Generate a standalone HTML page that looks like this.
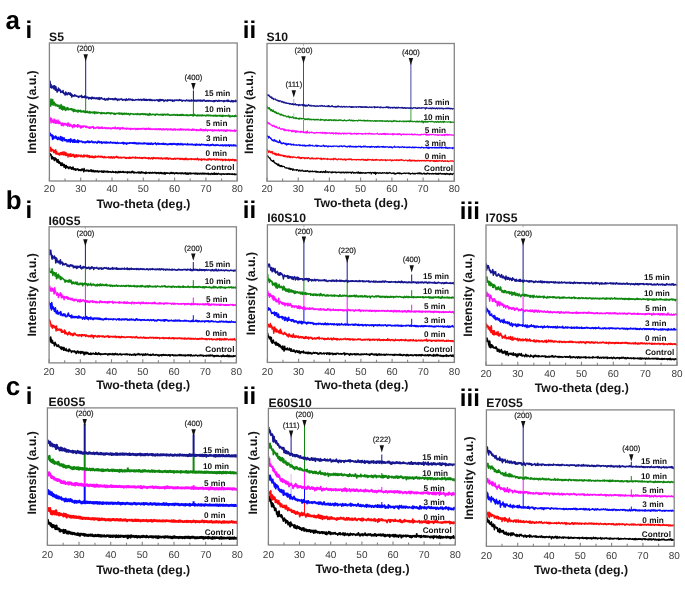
<!DOCTYPE html>
<html><head><meta charset="utf-8"><title>XRD</title>
<style>
html,body{margin:0;padding:0;background:#fff;}
body{width:685px;height:599px;overflow:hidden;}
svg{display:block;filter:blur(0.5px);}
text{font-family:"Liberation Sans",sans-serif;text-rendering:geometricPrecision;}
.tk{font-size:10px;fill:#3a3a3a;text-anchor:middle;}
.xl{font-size:12.3px;font-weight:bold;fill:#151515;text-anchor:middle;}
.yl{font-size:12.3px;font-weight:bold;fill:#151515;text-anchor:middle;}
.lb{font-size:8.2px;font-weight:bold;fill:#111;}
.an{font-size:7.7px;fill:#222;stroke:#222;stroke-width:0.2px;text-anchor:middle;}
.tt{font-size:12.2px;font-weight:bold;fill:#151515;}
.rm{font-size:24px;font-weight:bold;fill:#000;}
.lt{font-size:26px;font-weight:bold;fill:#000;}
</style></head>
<body>
<svg width="685" height="599" viewBox="0 0 685 599">
<defs><clipPath id="c0"><rect x="49.4" y="43.0" width="187.8" height="138.0"/></clipPath><clipPath id="c1"><rect x="267.0" y="43.5" width="187.3" height="137.7"/></clipPath><clipPath id="c2"><rect x="49.1" y="226.8" width="187.3" height="136.1"/></clipPath><clipPath id="c3"><rect x="267.4" y="224.8" width="187.0" height="137.6"/></clipPath><clipPath id="c4"><rect x="486.0" y="225.0" width="191.0" height="140.3"/></clipPath><clipPath id="c5"><rect x="47.4" y="407.9" width="189.9" height="137.4"/></clipPath><clipPath id="c6"><rect x="268.4" y="408.4" width="186.9" height="136.6"/></clipPath><clipPath id="c7"><rect x="486.4" y="409.9" width="187.8" height="136.4"/></clipPath></defs>
<rect width="685" height="599" fill="#fff"/>
<g clip-path="url(#c0)">
<path d="M49.4 154.1l.33 .9 .33 -.5 .34 -.6 .33 1.1 .33 -.4 .34 2 .33 2.3 .33 -2.4 .34 .2 .33 2 .33 .1 .34 0 .33 -1.2 .33 1.6 .34 1.3 .33 -2.5 .33 1.5 .34 -1.6 .33 1.1 .33 -.4 .34 2.3 .33 -1 .33 2.2 .34 .1 .33 -.2 .33 -2.6 .34 2.6 .33 .9 .33 .4 .34 -1.8 .33 1.5 .33 -.4 .34 .4 .33 2.3 .33 -1.9 .34 1.1 .33 1.1 .33 -2.8 .34 2.1 .33 .4 .33 .1 .34 -1.2 .33 1.5 .33 1.5 .34 -2.8 .33 2.5 .33 -.6 .34 -.6 .33 2.7 .33 -1.1 .34 -1.7 .33 1.3 .33 .6 .34 -.6 .33 .9 .33 -.6 .34 .8 .33 .8 .33 -1.8 .34 .9 .33 -.5 .33 .6 .34 -1 .33 .6 .33 .4 .34 1 .33 .3 .33 -1.9 .34 .5 .33 1.2 .33 -2 .34 1.3 .33 .3 .33 1.1 .34 -.3 .33 -.7 .33 0 .34 .2 .33 1.3 .33 -1.3 .34 .1 .33 .5 .33 -.2 .34 0 .33 -.6 .33 .8 .34 -.2 .33 1.1 .33 -.3 .34 -.4 .33 .5 .33 -.6 .34 .9 .33 -.6 .33 .4 .34 -1.1 .33 1.1 .33 -1.3 .34 -.1 .33 1.1 .33 -.3 .34 .6 .33 1.3 .33 -3.2 .34 1.6 .33 .5 .33 .2 .34 -.4 .33 .1 .33 .5 .34 -.1 .33 -.8 .33 .6 .34 .1 .33 -.6 .33 .7 .34 -.6 .33 1.1 .33 -.4 .34 -.1 .33 -.3 .33 .3 .34 -1 .33 .5 .33 .8 .34 -1.3 .33 1.6 .33 -1.3 .34 1.3 .33 -.8 .33 .8 .34 -.3 .33 -.8 .33 1.4 .34 .1 .33 -.7 .33 -.1 .34 .1 .33 -.4 .33 1.1 .34 -.8 .33 .2 .33 -.3 .34 .1 .33 -.3 .33 1.2 .34 -.6 .33 .5 .33 -.4 .34 -.3 .33 .2 .33 -.1 .34 .2 .33 -.1 .33 0 .34 -.4 .33 .2 .33 1.1 .34 -1 .33 -.1 .33 .6 .34 .5 .33 -1.3 .33 .6 .34 -.2 .33 -.4 .33 1 .34 -.3 .33 .1 .33 -.4 .34 .6 .33 -.4 .33 .1 .34 -.4 .33 0 .33 1.1 .34 -.8 .33 .4 .33 -.2 .34 -.1 .33 0 .33 .4 .34 -.3 .33 0 .33 .1 .34 .5 .33 -.2 .33 -.1 .34 -.4 .33 -.3 .33 .9 .34 .1 .33 -.5 .33 .3 .34 .1 .33 0 .33 .1 .34 -.5 .33 .7 .33 -1 .34 .8 .33 -.1 .33 .1 .34 .4 .33 -.1 .33 -1 .34 -.2 .33 .9 .33 -.7 .34 .4 .33 .4 .33 -1 .34 -.1 .33 .9 .33 -.1 .34 -.1 .33 .1 .33 -.3 .34 -.3 .33 .5 .33 -.2 .34 -.3 .33 .8 .33 -.2 .34 .2 .33 -.5 .33 .1 .34 -.1 .33 .1 .33 .4 .34 -.4 .33 .4 .33 0 .34 .6 .33 -1.2 .33 .8 .34 -.3 .33 0 .33 -.5 .34 .4 .33 .4 .33 -.3 .34 .1 .33 -.1 .33 .5 .34 -.4 .33 -.8 .33 .6 .34 -.5 .33 -.4 .33 .9 .34 .7 .33 -.4 .33 -.5 .34 .1 .33 .8 .33 -.4 .34 0 .33 0 .33 0 .34 .3 .33 -.1 .33 -.1 .34 -.4 .33 .5 .33 -.4 .34 .6 .33 -.8 .33 .4 .34 .1 .33 -.5 .33 1.1 .34 -.1 .33 -.7 .33 .5 .34 -.2 .33 -1 .33 1 .34 -.1 .33 .1 .33 -.4 .34 .2 .33 .1 .33 .5 .34 -.3 .33 -.1 .33 .5 .34 -.7 .33 1.1 .33 -1.5 .34 1.1 .33 -.2 .33 0 .34 -.1 .33 -.1 .33 0 .34 -.2 .33 .1 .33 .1 .34 .5 .33 -.8 .33 .2 .34 -.1 .33 0 .33 .7 .34 -.3 .33 -.2 .33 -.1 .34 -.3 .33 .4 .33 .3 .34 -.4 .33 .1 .33 0 .34 .1 .33 -.6 .33 .5 .34 -.2 .33 .6 .33 -.6 .34 .5 .33 .3 .33 -.6 .34 -.1 .33 .3 .33 -.1 .34 -.3 .33 .5 .33 .5 .34 -.7 .33 0 .33 -.3 .34 .5 .33 -.5 .33 0 .34 .8 .33 -.7 .33 .6 .34 .2 .33 -.4 .33 .1 .34 .5 .33 -.7 .33 -.2 .34 -.2 .33 .5 .33 1.1 .34 -.8 .33 -.7 .33 .1 .34 .1 .33 .3 .33 -.2 .34 .2 .33 0 .33 -.2 .34 .1 .33 .1 .33 -.1 .34 .2 .33 .4 .33 -.4 .34 -.1 .33 -.6 .33 .7 .34 -.8 .33 .2 .33 .8 .34 -.1 .33 -.3 .33 -.5 .34 .5 .33 -.1 .33 .4 .34 .5 .33 -.6 .33 -.3 .34 -.1 .33 .3 .33 0 .34 -.3 .33 .4 .33 -.4 .34 .7 .33 0 .33 0 .34 -.5 .33 .4 .33 -.2 .34 -.1 .33 0 .33 -.3 .34 0 .33 .7 .33 -.3 .34 .1 .33 .3 .33 -.9 .34 .3 .33 .3 .33 .1 .34 -.2 .33 .4 .33 -.2 .34 -.5 .33 .1 .33 .6 .34 -.1 .33 -.8 .33 1.1 .34 -.3 .33 .3 .33 -.6 .34 .1 .33 -.3 .33 1.2 .34 -.9 .33 .6 .33 -.7 .34 .2 .33 -.5 .33 .4 .34 .4 .33 -.7 .33 .8 .34 -.3 .33 -.4 .33 .2 .34 0 .33 .1 .33 -.1 .34 -.1 .33 .2 .33 -.3 .34 0 .33 .4 .33 .3 .34 -.8 .33 .5 .33 -.2 .34 -.1 .33 .6 .33 -.4 .34 .6 .33 -.7 .33 .4 .34 -.2 .33 -.2 .33 .5 .34 -.3 .33 .3 .33 -.2 .34 -.4 .33 .4 .33 0 .34 .3 .33 -.6 .33 .3 .34 -.5 .33 .7 .33 -.5 .34 -.2 .33 .5 .33 .4 .34 -.8 .33 .1 .33 .1 .34 -.1 .33 .5 .33 -.4 .34 .1 .33 .4 .33 -.4 .34 .4 .33 -.5 .33 -.1 .34 -.1 .33 1.1 .33 -.6 .34 .1 .33 0 .33 0 .34 0 .33 .6 .33 -.9 .34 -.2 .33 .2 .33 -.1 .34 .7 .33 0 .33 -.6 .34 -.1 .33 .3 .33 .6 .34 -1.4 .33 1.1 .33 -.5 .34 .7 .33 -.7 .33 .3 .34 -.4 .33 .2 .33 .7 .34 -.1 .33 -.4 .33 -.2 .34 -.3 .33 .5 .33 .1 .34 0 .33 0 .33 -.3 .34 .3 .33 .1 .33 .4 .34 .2 .33 -.7 .33 -.2 .34 .3 .33 -.1 .33 -.1 .34 .2 .33 -.3 .33 .5 .34 -.2 .33 .1 .33 -.1 .34 -.2 .33 0 .33 .2 .34 -.1 .33 .3 .33 -.1 .34 -.4 .33 .4 .33 -.4 .34 .2 .33 .1 .33 -.5 .34 .7 .33 0 .33 -.1 .34 -.1 .33 0 .33 -.2 .34 .3 .33 -.1 .33 .2 .34 -.4 .33 .5 .33 -.1 .34 0 .33 -.1 .33 .3 .34 -.7 .33 .7 .33 -.1 .34 0 .33 .1 .33 -.4 .34 .2 .33 .3 .33 -.1" stroke="#000000" stroke-width="1.5" fill="none" stroke-linejoin="round"/>
<path d="M49.4 149.3l.33 .3 .33 -.1 .34 1.1 .33 -3.4 .33 4.3 .34 -2.8 .33 1.3 .33 .5 .34 -1 .33 -.1 .33 .6 .34 1.6 .33 1 .33 0 .34 -2 .33 .4 .33 -.1 .34 2 .33 -3.2 .33 4.4 .34 -2.2 .33 -.2 .33 1.5 .34 .9 .33 -.7 .33 .9 .34 -1 .33 1.4 .33 0 .34 -1.5 .33 1.9 .33 -1.4 .34 0 .33 -1.1 .33 .8 .34 1.2 .33 -2.2 .33 2.2 .34 -.3 .33 0 .33 -2.5 .34 2.2 .33 .9 .33 -1.4 .34 .9 .33 -2.4 .33 3.1 .34 -1.3 .33 1.6 .33 -2.6 .34 2.5 .33 -.9 .33 1.1 .34 -1.6 .33 .3 .33 2.7 .34 -2.7 .33 .1 .33 .4 .34 -.6 .33 2 .33 .4 .34 -2 .33 -.8 .33 2.5 .34 -.1 .33 -.2 .33 .3 .34 -1.5 .33 .5 .33 -.9 .34 0 .33 1.9 .33 -1.2 .34 2.2 .33 -1.6 .33 -.5 .34 1.1 .33 .8 .33 -1 .34 -1.2 .33 1.2 .33 .7 .34 -1.3 .33 -.1 .33 1.2 .34 -.6 .33 -.8 .33 .5 .34 -.2 .33 .7 .33 -.1 .34 .7 .33 -.2 .33 -1.5 .34 1.3 .33 .3 .33 -.2 .34 .3 .33 -.9 .33 -.2 .34 1.1 .33 -1.2 .33 -.6 .34 1.9 .33 -1 .33 .3 .34 -.6 .33 0 .33 .1 .34 .5 .33 .5 .33 -1.5 .34 1.7 .33 -1.1 .33 .1 .34 1 .33 -.4 .33 -.8 .34 1.9 .33 -1.5 .33 .6 .34 0 .33 .7 .33 -1 .34 .8 .33 -.9 .33 1 .34 -1 .33 .2 .33 1.2 .34 -.8 .33 -.1 .33 1.1 .34 -1 .33 -.5 .33 .8 .34 -1 .33 1.2 .33 0 .34 -.8 .33 0 .33 .3 .34 0 .33 -.5 .33 .8 .34 -1.2 .33 .7 .33 0 .34 .1 .33 .3 .33 -.7 .34 .8 .33 -.3 .33 -.2 .34 -.3 .33 .1 .33 .7 .34 -.6 .33 .5 .33 .4 .34 0 .33 .3 .33 -.8 .34 -.4 .33 .9 .33 -.3 .34 .4 .33 -.5 .33 .6 .34 -.2 .33 0 .33 -.1 .34 -.1 .33 0 .33 0 .34 .3 .33 -.6 .33 .9 .34 -.7 .33 .4 .33 -.4 .34 0 .33 .9 .33 -.9 .34 -.4 .33 .2 .33 .2 .34 1 .33 -.8 .33 .3 .34 -.7 .33 .5 .33 .1 .34 .5 .33 -1 .33 .5 .34 -.1 .33 -.5 .33 .4 .34 -.1 .33 -.8 .33 1.2 .34 0 .33 -.4 .33 -.3 .34 1 .33 -.4 .33 .3 .34 .1 .33 -.7 .33 .5 .34 -.4 .33 .1 .33 .6 .34 -.5 .33 .4 .33 -.4 .34 -.1 .33 0 .33 .2 .34 -.4 .33 .1 .33 .2 .34 -.2 .33 .2 .33 -.2 .34 1 .33 -.3 .33 -.3 .34 -.1 .33 .8 .33 -.7 .34 -.1 .33 .1 .33 0 .34 .4 .33 -.5 .33 .8 .34 -1.1 .33 .6 .33 -.6 .34 1 .33 -.7 .33 .1 .34 .3 .33 .1 .33 -.8 .34 .3 .33 -.4 .33 .2 .34 .3 .33 -.1 .33 -.1 .34 .1 .33 -.1 .33 .5 .34 .3 .33 -1.2 .33 .7 .34 -.1 .33 .3 .33 -.5 .34 .3 .33 -.3 .33 .6 .34 -.2 .33 -.1 .33 .2 .34 -.2 .33 -.4 .33 .7 .34 -.1 .33 -.1 .33 .4 .34 0 .33 -.7 .33 .1 .34 .8 .33 -.1 .33 -.7 .34 -.1 .33 .2 .33 0 .34 -.3 .33 .5 .33 -.4 .34 0 .33 .7 .33 -.5 .34 .2 .33 .3 .33 0 .34 -.3 .33 .1 .33 -.3 .34 .9 .33 -.4 .33 -.6 .34 .4 .33 .3 .33 -.1 .34 .4 .33 -.1 .33 -.6 .34 .1 .33 -.4 .33 .6 .34 -.1 .33 .9 .33 -.9 .34 -.7 .33 .5 .33 .3 .34 -.5 .33 .1 .33 .2 .34 .3 .33 -.2 .33 -.2 .34 .5 .33 -.4 .33 0 .34 -.3 .33 .2 .33 .5 .34 -.7 .33 .5 .33 .3 .34 -.4 .33 .2 .33 -.4 .34 .8 .33 -.1 .33 -.2 .34 -.7 .33 .3 .33 .6 .34 .3 .33 -.5 .33 .3 .34 -.6 .33 .2 .33 .1 .34 .1 .33 -.6 .33 .8 .34 .1 .33 -.8 .33 0 .34 .5 .33 -.3 .33 -.6 .34 1.1 .33 -.2 .33 -.2 .34 .8 .33 -.6 .33 -.3 .34 .3 .33 -.4 .33 .1 .34 .4 .33 -.3 .33 .1 .34 .7 .33 -.3 .33 0 .34 -.1 .33 0 .33 .3 .34 -.4 .33 .6 .33 -.9 .34 .2 .33 -.4 .33 .4 .34 .3 .33 .3 .33 -.7 .34 .2 .33 -.1 .33 -.1 .34 -.1 .33 .4 .33 -.6 .34 .6 .33 0 .33 -.2 .34 -.1 .33 -.1 .33 1 .34 -1 .33 .9 .33 -.3 .34 -.3 .33 -.2 .33 .7 .34 .2 .33 -.8 .33 .2 .34 .4 .33 -.2 .33 .6 .34 -.9 .33 .4 .33 -.6 .34 1.1 .33 -.9 .33 -.5 .34 .7 .33 0 .33 .7 .34 -.7 .33 .1 .33 .2 .34 .3 .33 -.5 .33 .4 .34 -.2 .33 -.3 .33 .2 .34 0 .33 -.3 .33 .7 .34 -.9 .33 .9 .33 -.1 .34 -.3 .33 -.2 .33 .1 .34 .3 .33 .1 .33 -.2 .34 .3 .33 -.5 .33 .2 .34 -.5 .33 .7 .33 -.2 .34 -.1 .33 .5 .33 -.2 .34 -1.1 .33 .9 .33 -.4 .34 .8 .33 .4 .33 -.9 .34 .2 .33 -.1 .33 .2 .34 .1 .33 .2 .33 -.7 .34 1.4 .33 -1.4 .33 .4 .34 .3 .33 -.1 .33 -.6 .34 .1 .33 .1 .33 .1 .34 .4 .33 -.7 .33 .5 .34 .1 .33 0 .33 0 .34 .3 .33 -.3 .33 .1 .34 -.1 .33 .4 .33 -1.2 .34 1.1 .33 -.5 .33 0 .34 -.2 .33 -.3 .33 .5 .34 -.1 .33 .4 .33 -.6 .34 .9 .33 -.4 .33 -.1 .34 -.2 .33 0 .33 -.1 .34 .2 .33 .2 .33 -.1 .34 -.4 .33 .4 .33 -.2 .34 .4 .33 .5 .33 -.4 .34 -.3 .33 -.4 .33 .1 .34 -.1 .33 .8 .33 -.5 .34 .3 .33 -.2 .33 .2 .34 0 .33 -.2 .33 .1 .34 -.1 .33 .5 .33 -.6 .34 0 .33 -.1 .33 0 .34 .6 .33 .7 .33 -1.1 .34 .6 .33 -.2 .33 -.4 .34 .2 .33 .1 .33 -.2 .34 .9 .33 -1.2 .33 .7 .34 0 .33 -.3 .33 .2 .34 .3 .33 -.2 .33 0 .34 .1 .33 -.8 .33 1.1 .34 .3 .33 -.4 .33 0 .34 -.8 .33 .4 .33 -.2 .34 .1 .33 .5 .33 -.6 .34 .3 .33 -.6 .33 .6 .34 .1 .33 -.3 .33 0 .34 .9 .33 -1 .33 0 .34 .1 .33 .7 .33 .3 .34 -.6 .33 -.3 .33 .1" stroke="#ff0a0a" stroke-width="1.5" fill="none" stroke-linejoin="round"/>
<path d="M49.4 136.2l.33 -.8 .33 0 .34 -2.1 .33 1.7 .33 .8 .34 -.8 .33 .9 .33 -1.2 .34 3.7 .33 1 .33 -3.6 .34 1.3 .33 -.8 .33 2.3 .34 -1.1 .33 -.3 .33 -.3 .34 .6 .33 -1.4 .33 2.3 .34 -1.7 .33 1.8 .33 -.5 .34 1.4 .33 -1.3 .33 1.4 .34 -2.3 .33 1.9 .33 -.9 .34 .6 .33 0 .33 1 .34 -3.2 .33 2.7 .33 -2 .34 3.1 .33 -3.4 .33 1.2 .34 -.7 .33 3.6 .33 -3 .34 .1 .33 .8 .33 -1.2 .34 1.6 .33 1 .33 -.7 .34 1.1 .33 -1.2 .33 .4 .34 -.3 .33 .7 .33 1.5 .34 -1.3 .33 -.1 .33 -.7 .34 -.1 .33 2 .33 -2.2 .34 .2 .33 .8 .33 -.3 .34 2.1 .33 -3.6 .33 2.3 .34 .3 .33 -1.4 .33 .4 .34 .9 .33 1 .33 -2 .34 -.4 .33 2 .33 .4 .34 -1.4 .33 -1.3 .33 2.7 .34 -1.2 .33 1 .33 -.8 .34 -.2 .33 0 .33 1.4 .34 -.1 .33 -2.4 .33 .9 .34 1.8 .33 -1.4 .33 -.6 .34 .9 .33 0 .33 0 .34 -.2 .33 .1 .33 -.1 .34 .5 .33 -.7 .33 .4 .34 .1 .33 .9 .33 -.5 .34 -.3 .33 .4 .33 -.1 .34 .5 .33 -.4 .33 .8 .34 -.3 .33 -.7 .33 -.2 .34 .7 .33 -.2 .33 -.3 .34 -.8 .33 -.1 .33 1.2 .34 .2 .33 .1 .33 -1.2 .34 1.3 .33 -.8 .33 .5 .34 0 .33 -.6 .33 .1 .34 -.7 .33 .6 .33 -.5 .34 1.2 .33 -.2 .33 .5 .34 -.3 .33 -.5 .33 .5 .34 -.3 .33 .5 .33 -.2 .34 -.6 .33 .5 .33 0 .34 -.1 .33 .6 .33 .4 .34 -1 .33 0 .33 -.9 .34 1 .33 -.1 .33 -.8 .34 1.2 .33 .1 .33 -.6 .34 .2 .33 -.3 .33 .8 .34 -1 .33 .6 .33 1 .34 -.9 .33 .2 .33 -.2 .34 -.5 .33 .5 .33 .2 .34 -.6 .33 .6 .33 .4 .34 0 .33 -1.2 .33 .3 .34 -.2 .33 1.1 .33 -.2 .34 0 .33 -.6 .33 -.1 .34 .5 .33 0 .33 -.3 .34 .4 .33 .2 .33 -.2 .34 -.5 .33 -.4 .33 .7 .34 .2 .33 -.1 .33 -.1 .34 -.1 .33 .6 .33 -.3 .34 .1 .33 -.5 .33 .2 .34 .3 .33 -.4 .33 -.1 .34 .3 .33 .6 .33 -.4 .34 .5 .33 -.6 .33 0 .34 -.4 .33 .3 .33 .8 .34 -.4 .33 .1 .33 0 .34 -.2 .33 -.1 .33 .1 .34 .2 .33 0 .33 0 .34 -.1 .33 -.4 .33 .2 .34 -.2 .33 .7 .33 -1.1 .34 .6 .33 1 .33 -1 .34 -.2 .33 .4 .33 .5 .34 -.6 .33 .3 .33 -.2 .34 -.1 .33 1.3 .33 -1.1 .34 0 .33 -.2 .33 .3 .34 0 .33 .1 .33 -.2 .34 -.5 .33 .7 .33 -.3 .34 0 .33 -.4 .33 .3 .34 0 .33 .2 .33 -.5 .34 .6 .33 0 .33 -.4 .34 .2 .33 -.1 .33 .6 .34 -1.2 .33 .8 .33 -.5 .34 .5 .33 .4 .33 -.5 .34 .3 .33 -.3 .33 .9 .34 -.3 .33 .1 .33 -.9 .34 .1 .33 .8 .33 -.5 .34 0 .33 .2 .33 -.5 .34 .7 .33 -.3 .33 .2 .34 -.4 .33 .4 .33 -.4 .34 .6 .33 .1 .33 -.1 .34 -.1 .33 0 .33 -1.1 .34 1.2 .33 -.4 .33 .2 .34 -.2 .33 -.3 .33 .3 .34 .4 .33 .2 .33 -.6 .34 -.1 .33 .8 .33 -.8 .34 1 .33 -.7 .33 -.3 .34 .7 .33 .2 .33 -1 .34 1 .33 -.6 .33 .6 .34 -.7 .33 -.4 .33 .7 .34 .2 .33 .4 .33 -.1 .34 -.4 .33 -.3 .33 0 .34 0 .33 -.1 .33 .2 .34 -.8 .33 .9 .33 0 .34 .8 .33 -.6 .33 -.4 .34 .4 .33 -.6 .33 .2 .34 -.4 .33 1.1 .33 -.3 .34 -.5 .33 .3 .33 .4 .34 -.2 .33 0 .33 -.4 .34 .1 .33 .2 .33 .3 .34 -.6 .33 -.1 .33 .8 .34 -1.1 .33 1.1 .33 -.3 .34 .2 .33 .3 .33 -1 .34 .7 .33 -.5 .33 .1 .34 .4 .33 .3 .33 0 .34 .3 .33 -.7 .33 0 .34 .3 .33 -.4 .33 0 .34 -.3 .33 .7 .33 -.7 .34 .5 .33 -.6 .33 .8 .34 -.6 .33 .6 .33 -.8 .34 .4 .33 .5 .33 -.6 .34 .3 .33 -.2 .33 -.6 .34 .9 .33 0 .33 -.5 .34 .6 .33 -.5 .33 0 .34 .3 .33 -.2 .33 1 .34 -1.3 .33 .8 .33 .1 .34 -1 .33 .1 .33 .7 .34 -.3 .33 .3 .33 .3 .34 -.5 .33 -.2 .33 -.6 .34 1 .33 -.4 .33 .4 .34 0 .33 -.5 .33 1 .34 -.2 .33 -.1 .33 -.6 .34 .2 .33 0 .33 .1 .34 -.3 .33 .5 .33 0 .34 0 .33 -.2 .33 .6 .34 -.4 .33 -.9 .33 .7 .34 .1 .33 .4 .33 -.4 .34 0 .33 -.1 .33 .4 .34 -.3 .33 -.1 .33 0 .34 .4 .33 -.3 .33 -.4 .34 .8 .33 -.5 .33 .4 .34 0 .33 .3 .33 -.1 .34 -.5 .33 .1 .33 -.3 .34 1 .33 -.4 .33 .3 .34 -.6 .33 -.5 .33 1.1 .34 -.4 .33 0 .33 0 .34 .2 .33 0 .33 -.7 .34 .9 .33 -.6 .33 .1 .34 .7 .33 -.3 .33 -.4 .34 -.5 .33 .7 .33 .1 .34 -.2 .33 -.3 .33 .1 .34 -.1 .33 .5 .33 .2 .34 0 .33 -.5 .33 .3 .34 .1 .33 -.3 .33 .1 .34 .7 .33 -.6 .33 .2 .34 -.4 .33 .2 .33 -.6 .34 .6 .33 .4 .33 .3 .34 -.3 .33 -.2 .33 -.2 .34 .6 .33 -.6 .33 .2 .34 -.4 .33 .6 .33 -.6 .34 -.3 .33 .3 .33 -.2 .34 .1 .33 .8 .33 -.4 .34 .1 .33 .3 .33 0 .34 -.5 .33 .6 .33 -.3 .34 -.1 .33 .1 .33 -.6 .34 .2 .33 .3 .33 .2 .34 -.3 .33 .1 .33 .3 .34 .2 .33 -.2 .33 .2 .34 -.6 .33 .1 .33 .2 .34 -.2 .33 -.1 .33 .7 .34 -.6 .33 -.2 .33 .5 .34 .4 .33 -.5 .33 .3 .34 -.5 .33 0 .33 -.1 .34 .2 .33 .7 .33 -1 .34 .9 .33 -.8 .33 .2 .34 .4 .33 -.1 .33 -.1 .34 -.6 .33 .6 .33 -.4 .34 1.2 .33 -.9 .33 .1 .34 -.4 .33 .2 .33 -.2 .34 .7 .33 -.4 .33 .3 .34 -.4 .33 .1 .33 .5 .34 -.7 .33 -.2 .33 .7 .34 -.5 .33 .2 .33 .5 .34 -.6 .33 .6 .33 -.5 .34 .7 .33 -.1 .33 -.5" stroke="#0a0aff" stroke-width="1.5" fill="none" stroke-linejoin="round"/>
<path d="M49.4 120.1l.33 -2.8 .33 2.9 .34 -.5 .33 -1.3 .33 4.6 .34 -4.6 .33 1 .33 .8 .34 1.3 .33 .4 .33 -.6 .34 1 .33 .5 .33 -3.7 .34 1.2 .33 -.5 .33 1.6 .34 1.9 .33 -.9 .33 -2.1 .34 1.1 .33 1.8 .33 -1.8 .34 .6 .33 .6 .33 -2.5 .34 3.3 .33 -.4 .33 .4 .34 -1.7 .33 .3 .33 .3 .34 1.1 .33 -.1 .33 .1 .34 2 .33 -.5 .33 -1.4 .34 -.5 .33 2.5 .33 -2 .34 1.8 .33 .3 .33 -2.1 .34 .4 .33 .4 .33 -.8 .34 -.1 .33 .7 .33 1.2 .34 -1.1 .33 .3 .33 -.2 .34 -.8 .33 2.7 .33 -3.4 .34 1.6 .33 1.1 .33 -1.6 .34 1.8 .33 .6 .33 -1.8 .34 1 .33 -1 .33 1.3 .34 -.3 .33 .2 .33 1 .34 -.7 .33 1.7 .33 -1.5 .34 -1.4 .33 1.2 .33 .2 .34 -1.4 .33 2.1 .33 -.9 .34 .3 .33 -.9 .33 .8 .34 .2 .33 -.4 .33 .3 .34 -1.5 .33 2.4 .33 -1.6 .34 -.7 .33 .9 .33 .1 .34 .9 .33 -.9 .33 .8 .34 -.7 .33 2 .33 -1 .34 .9 .33 -1.8 .33 1 .34 -.9 .33 .9 .33 .1 .34 -1.3 .33 .3 .33 0 .34 -.2 .33 .5 .33 -.1 .34 -.2 .33 .9 .33 .3 .34 -1.1 .33 .5 .33 .3 .34 -.1 .33 -.2 .33 .8 .34 .1 .33 -.1 .33 -.5 .34 1.2 .33 -.1 .33 -1.1 .34 .2 .33 .7 .33 -1.1 .34 .7 .33 -.2 .33 -.3 .34 .2 .33 -.6 .33 .5 .34 -.7 .33 2.1 .33 -.3 .34 -.2 .33 -.4 .33 .4 .34 .1 .33 -.1 .33 0 .34 -.9 .33 .6 .33 -.4 .34 -.3 .33 .1 .33 .7 .34 .3 .33 -1.1 .33 1.4 .34 -.1 .33 -.8 .33 0 .34 .2 .33 .5 .33 -.6 .34 -.4 .33 .7 .33 -1 .34 .9 .33 .5 .33 -.4 .34 .3 .33 -.2 .33 .2 .34 -.3 .33 -.4 .33 .3 .34 .1 .33 .5 .33 .2 .34 -.5 .33 -.5 .33 0 .34 .3 .33 .6 .33 -.4 .34 -.1 .33 -.3 .33 .7 .34 -.3 .33 -.1 .33 .1 .34 .6 .33 -.7 .33 .7 .34 -.1 .33 -.5 .33 .3 .34 -.3 .33 -.5 .33 .4 .34 -.2 .33 .5 .33 -.1 .34 .2 .33 .1 .33 -1.5 .34 1.3 .33 -.8 .33 .8 .34 -.4 .33 .4 .33 .5 .34 -1.2 .33 .7 .33 -.1 .34 -.6 .33 .9 .33 -.2 .34 -.2 .33 -.1 .33 1.5 .34 -1.3 .33 -.5 .33 .3 .34 .2 .33 0 .33 .1 .34 -.9 .33 1.2 .33 -.4 .34 -.3 .33 .2 .33 .2 .34 .4 .33 -.4 .33 0 .34 .1 .33 .1 .33 .7 .34 -1 .33 .4 .33 .1 .34 -.6 .33 .5 .33 0 .34 -.3 .33 .4 .33 .2 .34 0 .33 -.4 .33 .1 .34 .8 .33 -1.2 .33 .4 .34 .3 .33 -.3 .33 .2 .34 -.1 .33 .2 .33 .2 .34 -.6 .33 .2 .33 -.1 .34 -.1 .33 .1 .33 -.3 .34 .6 .33 .4 .33 0 .34 -.2 .33 -.7 .33 .8 .34 -.7 .33 .2 .33 .6 .34 -1 .33 .7 .33 -.2 .34 -.1 .33 -.3 .33 .5 .34 -.3 .33 .5 .33 .1 .34 -.9 .33 .3 .33 .1 .34 -.3 .33 0 .33 .4 .34 -.1 .33 -.4 .33 .4 .34 .3 .33 -.6 .33 .1 .34 .9 .33 -.1 .33 -1 .34 .1 .33 .6 .33 -.5 .34 .3 .33 0 .33 .3 .34 -1 .33 .1 .33 .3 .34 .8 .33 -.4 .33 -.5 .34 .7 .33 .1 .33 -.3 .34 0 .33 .2 .33 .3 .34 -.4 .33 .2 .33 -.2 .34 -.1 .33 -.2 .33 .4 .34 -.2 .33 .1 .33 .4 .34 -.2 .33 .2 .33 -.9 .34 .8 .33 -.4 .33 -.1 .34 0 .33 .7 .33 -.1 .34 -.5 .33 -.2 .33 .4 .34 -.1 .33 .7 .33 -1 .34 -.1 .33 .5 .33 .1 .34 0 .33 .2 .33 .5 .34 -.8 .33 -.1 .33 -.4 .34 .7 .33 .2 .33 -.4 .34 .5 .33 -.4 .33 .5 .34 -.3 .33 -.5 .33 .2 .34 -.3 .33 -.1 .33 .7 .34 .2 .33 .3 .33 -.6 .34 -.1 .33 -.2 .33 .6 .34 -.1 .33 -.4 .33 .5 .34 -.1 .33 -.8 .33 .9 .34 -.2 .33 -.2 .33 0 .34 .8 .33 -.1 .33 .1 .34 -1 .33 .2 .33 .5 .34 -.7 .33 .2 .33 -.4 .34 1.2 .33 -.2 .33 -.2 .34 -.1 .33 -.2 .33 0 .34 .4 .33 -.4 .33 .6 .34 -.6 .33 -.1 .33 .7 .34 -.4 .33 .2 .33 -.3 .34 -.6 .33 .9 .33 -.9 .34 1.1 .33 -.8 .33 -.1 .34 .7 .33 0 .33 -.1 .34 -.4 .33 .7 .33 -.8 .34 .4 .33 -.1 .33 .1 .34 .4 .33 -.5 .33 .4 .34 .1 .33 -.8 .33 .2 .34 .2 .33 0 .33 .3 .34 -.7 .33 .8 .33 0 .34 -.2 .33 -.4 .33 .4 .34 -.1 .33 .3 .33 -.2 .34 .3 .33 -.4 .33 .6 .34 -1.2 .33 .4 .33 .5 .34 -.6 .33 .7 .33 -.6 .34 .4 .33 -.3 .33 .2 .34 .2 .33 -.1 .33 -.1 .34 .8 .33 -.7 .33 -.3 .34 .7 .33 -.1 .33 .2 .34 .1 .33 -.8 .33 .6 .34 .1 .33 -.4 .33 .1 .34 -1.1 .33 .8 .33 .8 .34 -1.1 .33 .4 .33 .2 .34 .1 .33 .4 .33 -1.1 .34 .6 .33 .3 .33 -.7 .34 .4 .33 .6 .33 -.2 .34 -.2 .33 -1 .33 .8 .34 .1 .33 -.2 .33 .1 .34 1 .33 -1 .33 -.3 .34 .4 .33 -.1 .33 0 .34 .1 .33 .2 .33 -.1 .34 -.5 .33 .4 .33 .2 .34 -.3 .33 .5 .33 -.1 .34 -.6 .33 1.1 .33 -.1 .34 -.1 .33 -.6 .33 .4 .34 -.5 .33 -.3 .33 .7 .34 -.1 .33 .1 .33 -.2 .34 .1 .33 -.2 .33 .3 .34 .1 .33 -.3 .33 .3 .34 -.8 .33 .3 .33 .7 .34 .1 .33 -.4 .33 -.2 .34 -.3 .33 .5 .33 .2 .34 -.8 .33 .7 .33 0 .34 0 .33 -.5 .33 .5 .34 -.6 .33 .9 .33 -.4 .34 -.4 .33 .8 .33 -.1 .34 -.5 .33 .9 .33 -1 .34 .4 .33 .3 .33 -1.1 .34 1 .33 -.3 .33 0 .34 -.3 .33 .5 .33 -.5 .34 0 .33 .2 .33 -.2 .34 .9 .33 -.9 .33 .1 .34 .2 .33 .1 .33 .3 .34 0 .33 -.4 .33 0 .34 .1 .33 .3 .33 0 .34 -.4 .33 -.5 .33 1.4 .34 -.4 .33 -.2 .33 0 .34 -.3 .33 -.1 .33 .2" stroke="#ff10ff" stroke-width="1.5" fill="none" stroke-linejoin="round"/>
<path d="M49.4 100l.33 0 .33 .5 .34 1.4 .33 4.4 .33 -7.4 .34 3.5 .33 -.1 .33 2 .34 -1.8 .33 -2.9 .33 5.7 .34 -3.3 .33 1.7 .33 -1.7 .34 .6 .33 1 .33 2 .34 .1 .33 -1.7 .33 1.6 .34 -1 .33 .8 .33 .2 .34 .7 .33 -1.4 .33 .8 .34 .5 .33 0 .33 -.9 .34 3.1 .33 -2.4 .33 1.5 .34 -.5 .33 1.2 .33 -3.6 .34 4.7 .33 -2.3 .33 -1 .34 1.6 .33 2.3 .33 -1.7 .34 -1.7 .33 .9 .33 1.9 .34 -2.6 .33 1.3 .33 0 .34 2.4 .33 -2.2 .33 1.6 .34 -1.8 .33 0 .33 1.7 .34 -.3 .33 -2 .33 2.2 .34 .1 .33 -1 .33 .8 .34 .1 .33 -.6 .33 0 .34 0 .33 .4 .33 -.8 .34 1.2 .33 -1.1 .33 1.3 .34 -.1 .33 -.7 .33 1.6 .34 .8 .33 -.4 .33 -1.9 .34 2 .33 -.7 .33 -.2 .34 -.3 .33 .5 .33 1 .34 -.5 .33 -.7 .33 -.1 .34 .2 .33 .8 .33 .9 .34 -1.9 .33 .7 .33 -.2 .34 -.2 .33 .8 .33 .1 .34 -1.2 .33 .3 .33 1.5 .34 -.5 .33 .1 .33 -.6 .34 .1 .33 .6 .33 -.5 .34 -.4 .33 .7 .33 .6 .34 -1.1 .33 1.2 .33 -.1 .34 -.9 .33 1.4 .33 -.9 .34 .5 .33 0 .33 -1.1 .34 0 .33 1.4 .33 -.5 .34 .2 .33 0 .33 .7 .34 -1.5 .33 1.3 .33 -1 .34 .8 .33 .4 .33 -.8 .34 .3 .33 -.3 .33 0 .34 .2 .33 .6 .33 -1 .34 .8 .33 .1 .33 -.7 .34 -.4 .33 1.9 .33 -.6 .34 -.3 .33 -.7 .33 .3 .34 .4 .33 -.6 .33 1.2 .34 -.6 .33 .1 .33 -.6 .34 .1 .33 0 .33 .5 .34 -.2 .33 0 .33 .3 .34 0 .33 .6 .33 -.8 .34 -.3 .33 .5 .33 .6 .34 -.8 .33 .2 .33 -.1 .34 .3 .33 0 .33 -.5 .34 .3 .33 .5 .33 .1 .34 -.1 .33 0 .33 -.5 .34 0 .33 .6 .33 -.9 .34 .5 .33 -.7 .33 .6 .34 -.1 .33 -.2 .33 .7 .34 -.5 .33 .2 .33 0 .34 -.2 .33 .9 .33 -.7 .34 .3 .33 -.6 .33 .3 .34 .1 .33 0 .33 -.1 .34 .3 .33 .6 .33 -.7 .34 0 .33 -.1 .33 1.2 .34 -.4 .33 -.4 .33 .1 .34 -.5 .33 .2 .33 .1 .34 0 .33 -.3 .33 0 .34 .5 .33 -.1 .33 -.8 .34 .8 .33 .4 .33 -.7 .34 .4 .33 -.6 .33 .8 .34 -.7 .33 0 .33 .3 .34 1 .33 -1.1 .33 -.2 .34 .6 .33 0 .33 .5 .34 -1.1 .33 -.1 .33 .5 .34 .3 .33 0 .33 .2 .34 -.9 .33 .3 .33 .2 .34 .4 .33 -.2 .33 -.3 .34 -.2 .33 .7 .33 0 .34 .7 .33 -1 .33 .6 .34 -1 .33 .3 .33 -.1 .34 .1 .33 -.1 .33 .1 .34 .2 .33 -.1 .33 .3 .34 -.2 .33 0 .33 .5 .34 -.3 .33 -.1 .33 0 .34 0 .33 .2 .33 -.5 .34 .7 .33 .1 .33 -.1 .34 -.5 .33 -.4 .33 .4 .34 .2 .33 .2 .33 -.3 .34 0 .33 .6 .33 -.7 .34 .5 .33 0 .33 -.7 .34 .5 .33 -.3 .33 -.1 .34 -.3 .33 .1 .33 .7 .34 -.3 .33 .3 .33 -.5 .34 .3 .33 0 .33 -.4 .34 0 .33 .9 .33 -.3 .34 -.4 .33 .3 .33 .3 .34 .3 .33 -.8 .33 .5 .34 .5 .33 -.7 .33 .5 .34 -1.4 .33 1.4 .33 -.5 .34 -.6 .33 .9 .33 .1 .34 0 .33 0 .33 -.4 .34 -.2 .33 .1 .33 .2 .34 .1 .33 -.3 .33 .2 .34 .3 .33 -.2 .33 .7 .34 -.1 .33 -1 .33 .1 .34 -.2 .33 .1 .33 .5 .34 -.5 .33 0 .33 .3 .34 .3 .33 -.3 .33 0 .34 .4 .33 -.1 .33 0 .34 .1 .33 -.6 .33 .4 .34 -.3 .33 .6 .33 -.1 .34 -.6 .33 .8 .33 -.8 .34 .8 .33 -.3 .33 -.4 .34 -.1 .33 .3 .33 .1 .34 -.2 .33 .4 .33 -.6 .34 .4 .33 .1 .33 -.6 .34 .7 .33 -.5 .33 -.4 .34 .6 .33 .1 .33 .4 .34 -.4 .33 .6 .33 0 .34 -.1 .33 .1 .33 -.3 .34 -.3 .33 .4 .33 .1 .34 -.3 .33 -.1 .33 -.2 .34 .5 .33 -.1 .33 -.5 .34 .4 .33 .2 .33 -.2 .34 .3 .33 0 .33 -.7 .34 .4 .33 .2 .33 .2 .34 .1 .33 -1 .33 .6 .34 .2 .33 .2 .33 .1 .34 -.8 .33 .2 .33 -.2 .34 .6 .33 -.7 .33 .8 .34 0 .33 -.2 .33 -.8 .34 .5 .33 .4 .33 -.7 .34 .4 .33 .1 .33 .3 .34 -.2 .33 0 .33 -.2 .34 .1 .33 0 .33 .3 .34 -.3 .33 .4 .33 -.9 .34 1 .33 -.5 .33 .4 .34 -.3 .33 .3 .33 .2 .34 -.7 .33 .2 .33 0 .34 .1 .33 -.6 .33 .5 .34 0 .33 -.2 .33 .2 .34 -.4 .33 .9 .33 -.3 .34 .5 .33 -.9 .33 -.1 .34 -.6 .33 .5 .33 .6 .34 -.3 .33 .1 .33 .2 .34 0 .33 .6 .33 -.4 .34 -.6 .33 .7 .33 -.4 .34 .1 .33 -.4 .33 .1 .34 .7 .33 -.6 .33 0 .34 .1 .33 0 .33 .6 .34 -.8 .33 0 .33 .5 .34 -.6 .33 .4 .33 .4 .34 -.3 .33 -.2 .33 0 .34 -.1 .33 .1 .33 .3 .34 .3 .33 -.1 .33 -.4 .34 -.1 .33 .5 .33 -.8 .34 .4 .33 .1 .33 -.3 .34 .1 .33 .4 .33 -.6 .34 .2 .33 .1 .33 .2 .34 -.4 .33 .8 .33 -.5 .34 .1 .33 -.1 .33 -.1 .34 0 .33 .6 .33 -.3 .34 -.1 .33 .4 .33 -.5 .34 .4 .33 -.2 .33 -.3 .34 .6 .33 -.7 .33 .6 .34 -.4 .33 .4 .33 .3 .34 -.3 .33 -.3 .33 .2 .34 -.1 .33 -.3 .33 0 .34 .4 .33 .2 .33 -.7 .34 .5 .33 .2 .33 -.1 .34 -.4 .33 .7 .33 -.7 .34 .6 .33 .3 .33 -1.2 .34 .8 .33 0 .33 0 .34 -.3 .33 .1 .33 -.3 .34 .5 .33 .1 .33 -.4 .34 -.1 .33 .2 .33 .1 .34 .1 .33 -.1 .33 .1 .34 -.4 .33 -.5 .33 1.1 .34 .2 .33 -.8 .33 1.5 .34 -1 .33 .2 .33 -.1 .34 .2 .33 -.4 .33 .2 .34 0 .33 -.3 .33 .5 .34 -.1 .33 .1 .33 -.4 .34 .4 .33 -.6 .33 .4 .34 -.9 .33 .5 .33 .6 .34 -.4 .33 .2 .33 -.6" stroke="#108810" stroke-width="1.5" fill="none" stroke-linejoin="round"/>
<path d="M85.7 111.8V97.0M193.4 115.3V101.0" stroke="#108810" stroke-width="1" fill="none"/>
<path d="M49.4 84.5l.33 2.1 .33 -5.3 .34 6 .33 -1.3 .33 -1.6 .34 3.5 .33 -.2 .33 -1 .34 .7 .33 -1 .33 -.5 .34 2.5 .33 -2.2 .33 2.7 .34 -3.2 .33 1.2 .33 -.5 .34 3.8 .33 -3.7 .33 1 .34 2.4 .33 -.3 .33 2.5 .34 -.2 .33 -1.3 .33 .2 .34 -2.7 .33 1.3 .33 .8 .34 .3 .33 -1.2 .33 .7 .34 .3 .33 2.2 .33 -.6 .34 -.6 .33 .2 .33 .7 .34 -.9 .33 .6 .33 -1.3 .34 2.5 .33 .4 .33 -.4 .34 .2 .33 0 .33 1.7 .34 -1.6 .33 -1.3 .33 .4 .34 1.7 .33 .4 .33 -.2 .34 .2 .33 -.5 .33 -1.3 .34 .7 .33 -.8 .33 1.3 .34 -.7 .33 1.3 .33 -.1 .34 -1.4 .33 2.3 .33 .1 .34 -1.6 .33 3.2 .33 -1.4 .34 -.7 .33 .9 .33 -.4 .34 .7 .33 -.6 .33 -.1 .34 .5 .33 -1.2 .33 1.2 .34 -.5 .33 -.1 .33 .3 .34 0 .33 .6 .33 0 .34 -.1 .33 .1 .33 .2 .34 .9 .33 -.2 .33 -1 .34 .6 .33 -.4 .33 .2 .34 0 .33 -.2 .33 -.4 .34 -.6 .33 1.7 .33 .6 .34 -1.2 .33 .9 .33 -.5 .34 .4 .33 -.6 .33 .4 .34 .1 .33 -1.2 .33 1.5 .34 -.2 .33 -1.2 .33 1.8 .34 -.4 .33 .2 .33 .1 .34 -.4 .33 -.3 .33 .4 .34 0 .33 1.4 .33 -.1 .34 -1.2 .33 .1 .33 .4 .34 .1 .33 -.6 .33 -.1 .34 1.5 .33 -.4 .33 -1.3 .34 -.1 .33 .5 .33 .6 .34 .2 .33 -.4 .33 -.6 .34 .9 .33 .2 .33 -.3 .34 -.2 .33 .5 .33 -.2 .34 -.5 .33 .6 .33 -.6 .34 1 .33 -.2 .33 -.6 .34 .5 .33 .5 .33 -1.5 .34 .9 .33 .9 .33 -1.4 .34 .6 .33 -.5 .33 .6 .34 -1 .33 .3 .33 .5 .34 .3 .33 .2 .33 0 .34 .3 .33 -.2 .33 .1 .34 -.7 .33 .3 .33 1.4 .34 -.3 .33 -.6 .33 0 .34 .1 .33 -.6 .33 1 .34 -.9 .33 .1 .33 .9 .34 -1.7 .33 1 .33 -.8 .34 .4 .33 .3 .33 -.1 .34 .2 .33 -.4 .33 .3 .34 -.4 .33 .3 .33 -.3 .34 .8 .33 -.8 .33 .8 .34 -.4 .33 0 .33 .6 .34 -.4 .33 -.7 .33 .9 .34 -1.3 .33 1.2 .33 -.2 .34 -.4 .33 .6 .33 -.2 .34 1.3 .33 -1.3 .33 .9 .34 -.2 .33 -.7 .33 -.1 .34 .8 .33 -.5 .33 .1 .34 -.1 .33 -.4 .33 .3 .34 -.2 .33 -.2 .33 .5 .34 .8 .33 -.1 .33 -.6 .34 .1 .33 .1 .33 .3 .34 -.3 .33 -.3 .33 0 .34 .6 .33 .5 .33 -1.1 .34 -.5 .33 1 .33 -.3 .34 .1 .33 .4 .33 -.4 .34 -.5 .33 -.2 .33 .6 .34 -.3 .33 .5 .33 -.6 .34 .4 .33 -.4 .33 .4 .34 0 .33 .3 .33 .3 .34 -.5 .33 -.3 .33 1 .34 -.5 .33 .1 .33 0 .34 .3 .33 -.2 .33 -.1 .34 .1 .33 -.6 .33 .1 .34 .2 .33 0 .33 0 .34 .1 .33 -.1 .33 -.1 .34 -.4 .33 .8 .33 0 .34 -.5 .33 .4 .33 0 .34 -.1 .33 -.6 .33 .2 .34 .2 .33 .8 .33 -.9 .34 .2 .33 -.3 .33 .3 .34 .2 .33 -.8 .33 -.2 .34 1.2 .33 -.2 .33 -.2 .34 .5 .33 0 .33 -1 .34 .6 .33 .5 .33 -.6 .34 .1 .33 .4 .33 -.4 .34 -.3 .33 .2 .33 -.2 .34 .6 .33 -.7 .33 .9 .34 -.9 .33 .6 .33 -.5 .34 .4 .33 .4 .33 0 .34 .1 .33 -.5 .33 .1 .34 .1 .33 .1 .33 -.3 .34 .5 .33 -.3 .33 .3 .34 -.2 .33 0 .33 -.4 .34 .1 .33 -.3 .33 .3 .34 .1 .33 .3 .33 -.7 .34 1.5 .33 -1.1 .33 .5 .34 .3 .33 -1.5 .33 .7 .34 .6 .33 -1.3 .33 1.1 .34 -.6 .33 .2 .33 .2 .34 -.7 .33 .7 .33 -.3 .34 0 .33 .5 .33 .9 .34 -1 .33 0 .33 -.2 .34 -.2 .33 .3 .33 .5 .34 -.5 .33 .3 .33 -.4 .34 .9 .33 -1.3 .33 .7 .34 0 .33 -.1 .33 -.5 .34 0 .33 .3 .33 .2 .34 -.5 .33 .1 .33 .5 .34 .2 .33 -.5 .33 -.1 .34 0 .33 1.1 .33 -.7 .34 -.2 .33 .4 .33 .4 .34 -.3 .33 -.9 .33 .5 .34 -.1 .33 0 .33 -.3 .34 .3 .33 -.2 .33 .4 .34 -.1 .33 -.4 .33 -.1 .34 .4 .33 .3 .33 0 .34 -.2 .33 -1 .33 .9 .34 -.1 .33 .1 .33 -.2 .34 .2 .33 0 .33 1.1 .34 -.7 .33 -.3 .33 .1 .34 0 .33 .1 .33 -.2 .34 .1 .33 .3 .33 0 .34 -.2 .33 .4 .33 -.4 .34 -.4 .33 -.2 .33 .3 .34 .2 .33 .2 .33 .2 .34 -.5 .33 -.1 .33 .5 .34 .2 .33 -.6 .33 .3 .34 .3 .33 -.3 .33 -.1 .34 -.7 .33 1.1 .33 -.2 .34 -.2 .33 -.1 .33 -.3 .34 .4 .33 0 .33 .4 .34 -.8 .33 .9 .33 -.4 .34 .3 .33 -.7 .33 .5 .34 .3 .33 -.4 .33 -.5 .34 .4 .33 .3 .33 -.7 .34 0 .33 .6 .33 -.4 .34 .5 .33 -.6 .33 -.2 .34 .4 .33 .7 .33 -.8 .34 .3 .33 .1 .33 -.4 .34 .7 .33 -.3 .33 .1 .34 -.7 .33 .2 .33 -.5 .34 .8 .33 0 .33 .3 .34 .3 .33 -.6 .33 0 .34 .2 .33 .4 .33 -.8 .34 .5 .33 -.3 .33 0 .34 .4 .33 -.5 .33 -.1 .34 .5 .33 -.2 .33 0 .34 0 .33 .2 .33 -.3 .34 .4 .33 -.1 .33 .3 .34 0 .33 -.2 .33 -.3 .34 .1 .33 -.2 .33 1.1 .34 -1 .33 .3 .33 .2 .34 -.8 .33 .1 .33 .2 .34 -.2 .33 -.1 .33 .3 .34 .5 .33 -.1 .33 -.3 .34 .1 .33 -.6 .33 .8 .34 -.1 .33 -.5 .33 .4 .34 -.1 .33 -.1 .33 -.1 .34 .1 .33 -.1 .33 .4 .34 0 .33 0 .33 -.2 .34 0 .33 .8 .33 -1.3 .34 1 .33 -.3 .33 0 .34 -.2 .33 .1 .33 -.3 .34 -.1 .33 .4 .33 -.5 .34 .8 .33 .1 .33 -1.4 .34 .6 .33 .6 .33 -.1 .34 0 .33 .1 .33 .1 .34 .1 .33 .3 .33 -.6 .34 .3 .33 -.8 .33 .5 .34 -.4 .33 .9 .33 .3 .34 -.6 .33 -.6 .33 .4 .34 .1 .33 0 .33 .3 .34 0 .33 -1.2 .33 1.3 .34 -.6 .33 .4 .33 .2" stroke="#161690" stroke-width="1.5" fill="none" stroke-linejoin="round"/>
<path d="M85.7 97.5V59.4M193.4 100.6V90.4" stroke="#161690" stroke-width="1" fill="none"/>
<path d="M85.7 43.0V45.2" stroke="#161690" stroke-width="0.8" stroke-opacity="0.45" fill="none"/>
</g>
<rect x="49.4" y="43.0" width="187.8" height="138.0" fill="none" stroke="#858585" stroke-width="1.3"/>
<path d="M49.4 181.0v-3.6M65.0 181.0v-2.6M80.7 181.0v-3.6M96.3 181.0v-2.6M112.0 181.0v-3.6M127.7 181.0v-2.6M143.3 181.0v-3.6M158.9 181.0v-2.6M174.6 181.0v-3.6M190.2 181.0v-2.6M205.9 181.0v-3.6M221.6 181.0v-2.6M237.2 181.0v-3.6" stroke="#858585" stroke-width="1.1"/>
<text x="49.4" y="192.2" class="tk">20</text>
<text x="80.7" y="192.2" class="tk">30</text>
<text x="112.0" y="192.2" class="tk">40</text>
<text x="143.3" y="192.2" class="tk">50</text>
<text x="174.6" y="192.2" class="tk">60</text>
<text x="205.9" y="192.2" class="tk">70</text>
<text x="237.2" y="192.2" class="tk">80</text>
<text x="143.4" y="207.6" class="xl">Two-theta (deg.)</text>
<text transform="translate(36.4 112.0) rotate(-90)" class="yl">Intensity (a.u.)</text>
<text x="204.4" y="96.1" class="lb">15 min</text>
<text x="204.8" y="111.6" class="lb">10 min</text>
<text x="206.0" y="126.3" class="lb">5 min</text>
<text x="206.0" y="141.1" class="lb">3 min</text>
<text x="205.6" y="155.9" class="lb">0 min</text>
<text x="205.3" y="169.9" class="lb">Control</text>
<text x="85.7" y="51.4" class="an">(200)</text>
<path d="M83.5 54.3L87.9 54.3L85.7 61.6Z" fill="#111"/>
<text x="193.4" y="80.0" class="an">(400)</text>
<path d="M191.2 82.9L195.6 82.9L193.4 90.2Z" fill="#111"/>
<text x="49.0" y="40.5" class="tt">S5</text>
<text x="25.6" y="37.7" class="rm">i</text>
<text x="5.5" y="28.7" class="lt">a</text>
<g clip-path="url(#c1)">
<path d="M267 156.6l.33 -.8 .33 -.1 .34 1.1 .33 -.1 .33 .4 .34 .3 .33 .7 .33 .1 .34 -.4 .33 1.6 .33 -.3 .34 1.3 .33 -.1 .33 .3 .34 0 .33 .9 .33 -.6 .34 -.1 .33 1 .33 -1.4 .34 1.5 .33 .5 .33 -.1 .34 1.1 .33 -.1 .33 -.1 .34 0 .33 1 .33 -.7 .34 .3 .33 .8 .33 .1 .34 .9 .33 -1 .33 -.6 .34 1.4 .33 .4 .33 -.5 .34 1 .33 .2 .33 -1 .34 .3 .33 -.3 .33 1 .34 .2 .33 .1 .33 -.7 .34 .3 .33 -.1 .33 0 .34 .2 .33 0 .33 .8 .34 .4 .33 .2 .33 -.2 .34 -.2 .33 .4 .33 .3 .34 -.2 .33 .2 .33 -.1 .34 0 .33 .4 .33 -.4 .34 1 .33 -1.1 .33 1 .34 -.7 .33 1.3 .33 -.2 .34 -.7 .33 .3 .33 -.3 .34 .6 .33 .2 .33 .9 .34 -1.5 .33 1.1 .33 -.6 .34 .4 .33 .3 .33 -.1 .34 0 .33 -.2 .33 .1 .34 .1 .33 .5 .33 -1 .34 .4 .33 -.2 .33 .1 .34 .2 .33 .7 .33 .5 .34 -.3 .33 -.9 .33 .5 .34 -.4 .33 .6 .33 .4 .34 -.3 .33 .2 .33 -.4 .34 -.6 .33 0 .33 .8 .34 .2 .33 .3 .33 -.5 .34 .2 .33 0 .33 .4 .34 -.4 .33 -.4 .33 .9 .34 -.3 .33 .1 .33 -.6 .34 .5 .33 -.6 .33 -.1 .34 .7 .33 -.1 .33 .4 .34 .3 .33 -.5 .33 .7 .34 -.8 .33 .5 .33 -.7 .34 .5 .33 -.2 .33 .1 .34 .3 .33 -.8 .33 .7 .34 -.3 .33 .3 .33 .1 .34 -.2 .33 0 .33 -.3 .34 .6 .33 -.4 .33 .4 .34 -.6 .33 1 .33 -.8 .34 .7 .33 -.5 .33 .4 .34 -.3 .33 .3 .33 -.2 .34 .5 .33 -.2 .33 0 .34 .3 .33 -.8 .33 .7 .34 -.4 .33 -.5 .33 .7 .34 -.2 .33 .6 .33 -.7 .34 .2 .33 .1 .33 -.7 .34 .8 .33 -.5 .33 .8 .34 .1 .33 -.6 .33 -1.3 .34 1.4 .33 0 .33 .2 .34 -.3 .33 -.3 .33 .4 .34 -.3 .33 .9 .33 -.8 .34 0 .33 .2 .33 -.3 .34 .2 .33 .1 .33 -.1 .34 .1 .33 .8 .33 -.6 .34 -.5 .33 .3 .33 .4 .34 -.5 .33 .3 .33 -.1 .34 .2 .33 -.2 .33 0 .34 -.2 .33 .4 .33 -.4 .34 .9 .33 -.6 .33 -.1 .34 .4 .33 -.3 .33 .1 .34 -.1 .33 -.2 .33 0 .34 0 .33 .6 .33 -.5 .34 .1 .33 -.1 .33 .4 .34 .4 .33 -.9 .33 .5 .34 -.1 .33 -.2 .33 .3 .34 -.6 .33 .7 .33 -.2 .34 -.4 .33 .9 .33 -.3 .34 .1 .33 -.8 .33 .4 .34 -.1 .33 .4 .33 .2 .34 -1 .33 .6 .33 0 .34 .3 .33 -.3 .33 -.4 .34 .4 .33 -.3 .33 .1 .34 .3 .33 -.2 .33 .3 .34 -.6 .33 1.2 .33 -.3 .34 -.2 .33 -.6 .33 -.3 .34 .4 .33 .2 .33 .8 .34 -.3 .33 -.5 .33 .5 .34 0 .33 -.4 .33 .4 .34 -.3 .33 -.3 .33 -.1 .34 .3 .33 .4 .33 -.8 .34 0 .33 .7 .33 -1.1 .34 1.5 .33 -.7 .33 .3 .34 .4 .33 -1 .33 .1 .34 1 .33 -.8 .33 .1 .34 -.2 .33 .6 .33 .1 .34 -.4 .33 -.2 .33 .1 .34 .2 .33 .3 .33 -.4 .34 .5 .33 -.8 .33 .5 .34 .3 .33 -.1 .33 -.3 .34 -.4 .33 .1 .33 .2 .34 .1 .33 -.2 .33 -.3 .34 .2 .33 .4 .33 .1 .34 -.7 .33 .3 .33 -.4 .34 .4 .33 1.3 .33 -1.1 .34 -.1 .33 -.1 .33 -.2 .34 -.2 .33 .6 .33 -.1 .34 .6 .33 -1 .33 .6 .34 .3 .33 -1 .33 2.2 .34 -2.1 .33 .7 .33 .3 .34 -.5 .33 .1 .33 -.3 .34 .3 .33 .3 .33 -.4 .34 0 .33 .2 .33 .1 .34 -.7 .33 .5 .33 -.2 .34 .4 .33 .1 .33 -.2 .34 .3 .33 -.7 .33 .2 .34 -.2 .33 .3 .33 .1 .34 -.1 .33 -.3 .33 .3 .34 -.1 .33 .3 .33 -.2 .34 .4 .33 -.3 .33 -.6 .34 .5 .33 -.4 .33 1 .34 -.1 .33 -.4 .33 .1 .34 -.5 .33 -.3 .33 .5 .34 .1 .33 -.3 .33 .5 .34 0 .33 .1 .33 .3 .34 -.2 .33 -.4 .33 .2 .34 .1 .33 -.5 .33 .8 .34 -.1 .33 -.4 .33 -.1 .34 1.4 .33 -.9 .33 0 .34 .3 .33 -.3 .33 -.2 .34 .1 .33 -.5 .33 .5 .34 -.6 .33 .6 .33 0 .34 -.6 .33 1 .33 -.9 .34 .7 .33 -.5 .33 .3 .34 -.3 .33 .9 .33 -.4 .34 .2 .33 -.3 .33 0 .34 -.2 .33 -.1 .33 .3 .34 -.1 .33 -.1 .33 -.4 .34 .3 .33 .3 .33 -.3 .34 .2 .33 -.1 .33 -.3 .34 .1 .33 0 .33 .2 .34 0 .33 .4 .33 -.7 .34 -.2 .33 .8 .33 -.3 .34 .1 .33 .8 .33 -.3 .34 -.3 .33 .1 .33 -.2 .34 .2 .33 -.5 .33 0 .34 .1 .33 .6 .33 0 .34 -.6 .33 .5 .33 -.4 .34 .4 .33 -.4 .33 .4 .34 -.4 .33 0 .33 .1 .34 0 .33 -.2 .33 -.2 .34 .9 .33 -.6 .33 -.4 .34 -.2 .33 -.1 .33 .6 .34 .7 .33 -1 .33 .4 .34 -.4 .33 .9 .33 -.2 .34 0 .33 .3 .33 .1 .34 -.2 .33 -.5 .33 -.2 .34 .1 .33 -.2 .33 1.1 .34 -.7 .33 .1 .33 .1 .34 .5 .33 -.8 .33 .6 .34 -.3 .33 -.1 .33 -.6 .34 .9 .33 -.5 .33 .1 .34 .2 .33 0 .33 .3 .34 -.5 .33 .2 .33 .1 .34 -.1 .33 .2 .33 -.3 .34 .5 .33 -.6 .33 -.2 .34 .4 .33 .4 .33 -.5 .34 -.1 .33 .1 .33 .2 .34 -.1 .33 .1 .33 -.6 .34 1 .33 -.3 .33 -.4 .34 .7 .33 -.3 .33 .3 .34 -.8 .33 .9 .33 -.5 .34 -.6 .33 .8 .33 -.3 .34 -.2 .33 .2 .33 -.5 .34 .8 .33 -.2 .33 -.1 .34 .6 .33 -.5 .33 -.2 .34 0 .33 .2 .33 .4 .34 -.5 .33 -.2 .33 .7 .34 -.3 .33 0 .33 .6 .34 -1 .33 .5 .33 -.7 .34 .5 .33 .3 .33 .2 .34 -.8 .33 .7 .33 0 .34 -.3 .33 .8 .33 -.8 .34 -.2 .33 .4 .33 -.7 .34 1 .33 -.1 .33 -.5 .34 .4 .33 -.1 .33 .5 .34 -.8 .33 -.2 .33 -.2 .34 .5" stroke="#000000" stroke-width="1.2" fill="none" stroke-linejoin="round"/>
<path d="M267 150.9l.33 -.6 .33 -.4 .34 .9 .33 .5 .33 1.4 .34 -1.4 .33 -.1 .33 -.3 .34 1.1 .33 .2 .33 .3 .34 -.8 .33 .5 .33 -.6 .34 1.6 .33 -1 .33 -.5 .34 2.2 .33 -.3 .33 0 .34 .1 .33 -.6 .33 1.2 .34 -1 .33 1.6 .33 -.7 .34 -1 .33 1.5 .33 .6 .34 -1 .33 .7 .33 -.5 .34 -.1 .33 -.9 .33 1.9 .34 -.7 .33 .4 .33 -.6 .34 .2 .33 1 .33 -.6 .34 0 .33 -.3 .33 .8 .34 .3 .33 -.5 .33 .2 .34 -.4 .33 1.2 .33 -.8 .34 .2 .33 .9 .33 -.8 .34 -.5 .33 .3 .33 .3 .34 1 .33 -.6 .33 -.2 .34 .5 .33 .3 .33 -.9 .34 1 .33 -.2 .33 -.1 .34 -1.1 .33 1.1 .33 .5 .34 -.6 .33 1 .33 -.8 .34 -.4 .33 .7 .33 -.1 .34 .2 .33 -.3 .33 .6 .34 -.7 .33 .3 .33 -.5 .34 .2 .33 .4 .33 -.3 .34 .1 .33 .2 .33 .2 .34 .2 .33 0 .33 .2 .34 -.3 .33 -.3 .33 -.3 .34 .4 .33 -.1 .33 -.3 .34 1.3 .33 -1.3 .33 .8 .34 .1 .33 -.2 .33 1 .34 -.9 .33 -.3 .33 1 .34 -.9 .33 -.2 .33 .2 .34 .1 .33 .3 .33 .1 .34 -.6 .33 .6 .33 .7 .34 -1 .33 .2 .33 .3 .34 .2 .33 -.6 .33 -.1 .34 0 .33 .8 .33 -.1 .34 -1 .33 0 .33 .3 .34 0 .33 .6 .33 0 .34 .6 .33 -.4 .33 -.2 .34 .4 .33 -.7 .33 -.2 .34 .5 .33 .3 .33 -.8 .34 .9 .33 0 .33 -.5 .34 .3 .33 -.2 .33 .1 .34 .3 .33 -.5 .33 .6 .34 0 .33 0 .33 -1 .34 .1 .33 .9 .33 -.5 .34 0 .33 0 .33 -.2 .34 .4 .33 -.1 .33 0 .34 .4 .33 -.6 .33 .8 .34 -1.1 .33 1.6 .33 -1.3 .34 .7 .33 .1 .33 -.3 .34 .3 .33 -.3 .33 -.6 .34 .7 .33 .3 .33 -.5 .34 -.4 .33 .4 .33 .3 .34 0 .33 .3 .33 -.2 .34 0 .33 -.8 .33 1.4 .34 -.7 .33 .2 .33 -.3 .34 0 .33 .1 .33 .5 .34 0 .33 -.3 .33 .5 .34 -.8 .33 .3 .33 -.3 .34 .6 .33 -.4 .33 .3 .34 .2 .33 -1.2 .33 1.4 .34 -.6 .33 -.2 .33 -.5 .34 .5 .33 -.6 .33 .8 .34 -.1 .33 .6 .33 -.6 .34 .4 .33 0 .33 .3 .34 -.7 .33 .3 .33 -.7 .34 .2 .33 .2 .33 .1 .34 -.4 .33 .3 .33 .4 .34 -.4 .33 .1 .33 -.2 .34 .7 .33 .1 .33 -.4 .34 -.1 .33 .5 .33 -.3 .34 -.4 .33 -.2 .33 .2 .34 .9 .33 -.8 .33 1.1 .34 -.9 .33 -.1 .33 .5 .34 -.5 .33 .2 .33 -.4 .34 -.1 .33 .2 .33 .3 .34 -.3 .33 -.4 .33 .8 .34 -.2 .33 0 .33 -.1 .34 -.6 .33 1.3 .33 -.7 .34 .3 .33 .3 .33 -.1 .34 -.2 .33 -.1 .33 .1 .34 .2 .33 -.1 .33 -.3 .34 .3 .33 0 .33 .1 .34 -.2 .33 .4 .33 -.4 .34 .2 .33 -.2 .33 -.2 .34 -.1 .33 .2 .33 .3 .34 .2 .33 -.4 .33 -.1 .34 0 .33 .5 .33 -.3 .34 -.2 .33 .4 .33 -.7 .34 .5 .33 -.1 .33 0 .34 -.3 .33 .7 .33 .2 .34 -.9 .33 .4 .33 .2 .34 .5 .33 -.8 .33 -.2 .34 .3 .33 .7 .33 -.6 .34 0 .33 .5 .33 -1.2 .34 0 .33 .9 .33 0 .34 -.7 .33 .6 .33 -.1 .34 .1 .33 -.3 .33 .1 .34 -.2 .33 .3 .33 0 .34 .6 .33 -.4 .33 -.6 .34 .6 .33 .3 .33 -.4 .34 .3 .33 -.3 .33 .2 .34 -.5 .33 .5 .33 -.6 .34 .8 .33 -.9 .33 -.1 .34 .8 .33 -.2 .33 .1 .34 .1 .33 -.2 .33 -.2 .34 .3 .33 .1 .33 0 .34 .5 .33 -.9 .33 .3 .34 .2 .33 -.4 .33 -.2 .34 .2 .33 .5 .33 -.4 .34 .3 .33 -.4 .33 .4 .34 -.4 .33 0 .33 .3 .34 0 .33 .4 .33 -.9 .34 .6 .33 .4 .33 -.1 .34 -.5 .33 -.1 .33 0 .34 .3 .33 0 .33 0 .34 .1 .33 -.5 .33 0 .34 0 .33 -.1 .33 .4 .34 .1 .33 .7 .33 -.6 .34 -.1 .33 .4 .33 -.6 .34 .3 .33 .2 .33 -.1 .34 -.1 .33 -.2 .33 -.3 .34 .4 .33 -.2 .33 .4 .34 -.2 .33 .2 .33 -.7 .34 .9 .33 -.6 .33 -.2 .34 0 .33 .3 .33 .5 .34 -.1 .33 -.6 .33 .4 .34 0 .33 -.5 .33 .2 .34 -.3 .33 .4 .33 -.6 .34 .6 .33 0 .33 0 .34 0 .33 .6 .33 -.4 .34 .1 .33 .2 .33 .1 .34 -.1 .33 -.4 .33 -.1 .34 .1 .33 .1 .33 .1 .34 0 .33 .4 .33 -.4 .34 .6 .33 -.2 .33 -.5 .34 .4 .33 -1.1 .33 1.3 .34 -.3 .33 0 .33 -.6 .34 1.3 .33 -.9 .33 .1 .34 .3 .33 -.4 .33 -.2 .34 .5 .33 -.5 .33 .6 .34 -.2 .33 .3 .33 -.7 .34 .7 .33 -.3 .33 .6 .34 -.8 .33 .7 .33 -.3 .34 0 .33 -.4 .33 .4 .34 0 .33 -.4 .33 -.1 .34 .1 .33 .7 .33 -.4 .34 .2 .33 -.2 .33 0 .34 0 .33 -.2 .33 .5 .34 -.3 .33 0 .33 -.4 .34 .5 .33 -.3 .33 0 .34 .5 .33 -.6 .33 .2 .34 .3 .33 .2 .33 -.5 .34 .2 .33 0 .33 -.4 .34 -.3 .33 .1 .33 .7 .34 -.1 .33 -.4 .33 .2 .34 .1 .33 0 .33 .1 .34 .7 .33 -.9 .33 .3 .34 -.3 .33 0 .33 0 .34 .2 .33 -.1 .33 .2 .34 0 .33 -.3 .33 .8 .34 -.9 .33 .5 .33 .5 .34 -.8 .33 .6 .33 0 .34 -.3 .33 -.7 .33 1 .34 -.4 .33 -.1 .33 .5 .34 -.6 .33 .6 .33 -.5 .34 .3 .33 -.5 .33 .2 .34 -.1 .33 .1 .33 .2 .34 -.1 .33 .1 .33 .4 .34 -.4 .33 -.6 .33 .5 .34 .1 .33 .3 .33 0 .34 0 .33 -.3 .33 .2 .34 -.6 .33 .8 .33 -.2 .34 0 .33 -.2 .33 .1 .34 -.2 .33 .4 .33 -.6 .34 .7 .33 -.1 .33 .4 .34 -.6 .33 0 .33 .1 .34 -.1 .33 0 .33 -.3 .34 0 .33 .2 .33 .1 .34 -.3 .33 0 .33 .3 .34 .3 .33 -.3 .33 .3 .34 .1" stroke="#ff0a0a" stroke-width="1.2" fill="none" stroke-linejoin="round"/>
<path d="M267 135l.33 1.3 .33 -.2 .34 .7 .33 -.1 .33 1.4 .34 -1.7 .33 .6 .33 .4 .34 0 .33 .7 .33 .4 .34 -.4 .33 1 .33 .7 .34 .1 .33 .6 .33 -.3 .34 -.4 .33 1.1 .33 -.4 .34 .7 .33 -.8 .33 -.8 .34 .6 .33 .8 .33 .3 .34 -.3 .33 .7 .33 -.9 .34 .4 .33 .9 .33 -.3 .34 .1 .33 .7 .33 0 .34 -.8 .33 .5 .33 -2.2 .34 2.3 .33 .3 .33 -.8 .34 1.5 .33 .3 .33 -.6 .34 .3 .33 .3 .33 -.7 .34 .6 .33 -.2 .33 -.7 .34 .3 .33 .2 .33 .8 .34 -.4 .33 .4 .33 -.5 .34 -.3 .33 1.5 .33 .3 .34 -.9 .33 -.2 .33 .6 .34 -.9 .33 .4 .33 -.4 .34 .8 .33 0 .33 -.3 .34 0 .33 -.3 .33 .3 .34 .8 .33 -.5 .33 .6 .34 -.8 .33 .4 .33 -.1 .34 .1 .33 .4 .33 -1 .34 1 .33 .1 .33 -.3 .34 .1 .33 -.1 .33 .4 .34 -.2 .33 -.3 .33 .3 .34 .4 .33 -.2 .33 -.1 .34 .1 .33 -.3 .33 .1 .34 -.5 .33 .6 .33 .4 .34 -.4 .33 -.2 .33 .7 .34 -.3 .33 0 .33 .2 .34 .1 .33 -.3 .33 -.2 .34 .9 .33 -.6 .33 -.2 .34 .3 .33 .4 .33 -.9 .34 .9 .33 -.5 .33 .8 .34 -.5 .33 -.2 .33 .5 .34 0 .33 -.5 .33 .2 .34 -.3 .33 .5 .33 -.7 .34 .4 .33 -.6 .33 .9 .34 -1 .33 .4 .33 .5 .34 -.2 .33 0 .33 -.2 .34 .2 .33 -.4 .33 .7 .34 .1 .33 0 .33 -.2 .34 .4 .33 -.2 .33 .1 .34 -.1 .33 -.2 .33 -.2 .34 -.6 .33 1.1 .33 -.3 .34 .7 .33 -1.2 .33 .9 .34 -.6 .33 .3 .33 -.3 .34 .4 .33 -.1 .33 .3 .34 -.2 .33 .1 .33 .3 .34 -.3 .33 -.2 .33 .5 .34 -.4 .33 .1 .33 -.2 .34 -.1 .33 -.7 .33 1.1 .34 -.5 .33 .6 .33 .3 .34 -.9 .33 .6 .33 -.3 .34 .2 .33 -.5 .33 .4 .34 0 .33 .4 .33 .3 .34 -.6 .33 -.2 .33 .8 .34 -.7 .33 0 .33 .1 .34 .1 .33 .1 .33 -.4 .34 .1 .33 .6 .33 0 .34 -.4 .33 0 .33 -.2 .34 .4 .33 -.4 .33 .2 .34 -.2 .33 -.1 .33 .2 .34 0 .33 -.1 .33 .1 .34 .1 .33 -.2 .33 0 .34 .1 .33 .3 .33 .1 .34 -.3 .33 -.1 .33 .1 .34 .6 .33 -.3 .33 -.6 .34 .3 .33 -.1 .33 0 .34 -.4 .33 .6 .33 -.5 .34 .3 .33 .6 .33 -.1 .34 -.6 .33 0 .33 0 .34 -.3 .33 .3 .33 .2 .34 -.2 .33 .5 .33 -.2 .34 -.1 .33 .6 .33 -.3 .34 -.1 .33 .5 .33 -.2 .34 -.6 .33 .3 .33 -.2 .34 -.3 .33 1 .33 -.1 .34 -.8 .33 .5 .33 -.6 .34 .8 .33 -.3 .33 -.1 .34 .5 .33 -.4 .33 -.1 .34 .4 .33 -.4 .33 .4 .34 -.3 .33 .3 .33 -.1 .34 .1 .33 -.5 .33 .8 .34 -.6 .33 .6 .33 -.7 .34 .1 .33 0 .33 .4 .34 -.4 .33 .2 .33 -.6 .34 .4 .33 .2 .33 -.1 .34 -.5 .33 .7 .33 -.4 .34 .8 .33 -.6 .33 .7 .34 -.5 .33 0 .33 -.3 .34 .1 .33 .2 .33 -.7 .34 .9 .33 -.7 .33 .3 .34 -.7 .33 .9 .33 .1 .34 -.1 .33 0 .33 -.2 .34 .2 .33 .3 .33 -.5 .34 .3 .33 .1 .33 -.3 .34 .1 .33 0 .33 -.2 .34 .9 .33 -.9 .33 .7 .34 -.2 .33 -.9 .33 .7 .34 .2 .33 -.1 .33 -.5 .34 .4 .33 -.4 .33 0 .34 .3 .33 .1 .33 .4 .34 -.4 .33 .3 .33 -.7 .34 0 .33 .2 .33 .7 .34 -.9 .33 -.1 .33 .5 .34 .3 .33 -.8 .33 .4 .34 -.3 .33 .8 .33 -.2 .34 -.1 .33 -.1 .33 0 .34 .1 .33 -.3 .33 0 .34 -.1 .33 .4 .33 -.3 .34 .5 .33 -.9 .33 .8 .34 0 .33 .2 .33 -.4 .34 -.4 .33 .2 .33 .6 .34 -.4 .33 0 .33 -.1 .34 .2 .33 0 .33 -.4 .34 .3 .33 .4 .33 .2 .34 -.5 .33 -.1 .33 .5 .34 -.4 .33 -.3 .33 .3 .34 .3 .33 .2 .33 -.6 .34 .3 .33 .7 .33 -.5 .34 -.2 .33 0 .33 -.4 .34 .2 .33 0 .33 -.9 .34 1.3 .33 -.3 .33 0 .34 -.1 .33 .2 .33 0 .34 -.4 .33 .4 .33 0 .34 0 .33 -.5 .33 .4 .34 -.3 .33 .5 .33 .3 .34 -.1 .33 -.4 .33 0 .34 -.1 .33 .3 .33 -.3 .34 .1 .33 -.6 .33 .5 .34 0 .33 .1 .33 .5 .34 -.7 .33 0 .33 .5 .34 -.4 .33 .2 .33 .1 .34 0 .33 -.2 .33 .5 .34 .1 .33 -.7 .33 .2 .34 .4 .33 -.3 .33 -.3 .34 .2 .33 .4 .33 -.6 .34 .4 .33 .1 .33 -.3 .34 .3 .33 .1 .33 .1 .34 -.1 .33 -.7 .33 .7 .34 0 .33 .1 .33 -.6 .34 .6 .33 -.2 .33 -.4 .34 .7 .33 -.6 .33 -.1 .34 .4 .33 -.2 .33 .2 .34 -.1 .33 .1 .33 .2 .34 -.3 .33 .3 .33 0 .34 -.5 .33 .5 .33 0 .34 -.2 .33 .3 .33 .2 .34 -.3 .33 -.6 .33 .5 .34 -.1 .33 -.1 .33 .2 .34 -.2 .33 .6 .33 -.4 .34 0 .33 .2 .33 0 .34 .1 .33 -.1 .33 -.2 .34 0 .33 -.6 .33 .2 .34 .7 .33 -.4 .33 .6 .34 0 .33 -.9 .33 .5 .34 .8 .33 -1.1 .33 .3 .34 -.1 .33 0 .33 0 .34 0 .33 .3 .33 -.5 .34 .4 .33 -.3 .33 .3 .34 0 .33 -.3 .33 .2 .34 -.2 .33 0 .33 .5 .34 -.8 .33 .7 .33 0 .34 -.4 .33 .5 .33 0 .34 -.6 .33 .5 .33 0 .34 -.4 .33 .4 .33 .1 .34 -.4 .33 -.4 .33 .7 .34 -.3 .33 -.3 .33 .4 .34 -.6 .33 .6 .33 .5 .34 -1.2 .33 .9 .33 -.4 .34 .2 .33 -.1 .33 .4 .34 -.2 .33 -.2 .33 -.1 .34 .2 .33 .5 .33 -1.2 .34 1 .33 0 .33 -.7 .34 .9 .33 -.3 .33 .6 .34 -.1 .33 -.6 .33 .1 .34 -.3 .33 -.1 .33 .7 .34 -.3 .33 -.1 .33 .1 .34 .2 .33 .1 .33 -.3 .34 0 .33 .1 .33 .6 .34 -1.2 .33 .2 .33 .5 .34 -.1" stroke="#0a0aff" stroke-width="1.2" fill="none" stroke-linejoin="round"/>
<path d="M267 122.4l.33 -.6 .33 1.8 .34 -1.3 .33 1.3 .33 -.5 .34 .5 .33 -.4 .33 .4 .34 .9 .33 -.3 .33 .1 .34 .8 .33 .1 .33 -.1 .34 .2 .33 1 .33 -.8 .34 .4 .33 .2 .33 -.8 .34 -.1 .33 1.2 .33 .5 .34 -.2 .33 -.2 .33 .1 .34 .8 .33 -.4 .33 -.5 .34 1.2 .33 0 .33 .1 .34 .5 .33 .2 .33 -.2 .34 -.3 .33 -.8 .33 1.3 .34 -.1 .33 .7 .33 .1 .34 -.3 .33 .5 .33 -.5 .34 .1 .33 -.3 .33 .3 .34 .3 .33 .5 .33 -.7 .34 .7 .33 .8 .33 -1.5 .34 .5 .33 .2 .33 .5 .34 .5 .33 -.3 .33 -.4 .34 -.3 .33 .4 .33 0 .34 .2 .33 -.4 .33 1.1 .34 -.9 .33 .6 .33 -.1 .34 -.5 .33 .5 .33 .1 .34 -.1 .33 .5 .33 -.5 .34 1.3 .33 -.6 .33 -.7 .34 -.6 .33 1.5 .33 -.3 .34 0 .33 -.4 .33 -.1 .34 -.2 .33 1.7 .33 -.3 .34 -.8 .33 1 .33 -1.4 .34 1 .33 .1 .33 -.6 .34 .2 .33 -.2 .33 .4 .34 .5 .33 -.1 .33 -.1 .34 .2 .33 -1 .33 1.4 .34 -.7 .33 -.4 .33 .3 .34 0 .33 .3 .33 .1 .34 -.9 .33 1.2 .33 .2 .34 -.9 .33 .9 .33 -.1 .34 0 .33 .2 .33 -1 .34 .7 .33 -.6 .33 1.2 .34 -1.1 .33 -1.2 .33 2 .34 -.2 .33 -.2 .33 .1 .34 .2 .33 .4 .33 -.9 .34 .1 .33 0 .33 .2 .34 .1 .33 -.5 .33 .6 .34 -.5 .33 .3 .33 0 .34 .1 .33 .5 .33 .1 .34 -.2 .33 .2 .33 -.6 .34 .6 .33 -.5 .33 .1 .34 0 .33 -.5 .33 .3 .34 .1 .33 .2 .33 -.1 .34 -.3 .33 0 .33 .4 .34 -.4 .33 0 .33 .4 .34 .1 .33 -.4 .33 -.3 .34 .7 .33 .2 .33 -.4 .34 0 .33 -.6 .33 1.1 .34 -.7 .33 .6 .33 -.4 .34 .2 .33 0 .33 -.5 .34 1.4 .33 -1.4 .33 .6 .34 -.3 .33 .2 .33 .5 .34 -1 .33 .6 .33 .2 .34 -.1 .33 0 .33 -.3 .34 -.3 .33 .1 .33 .3 .34 .4 .33 -.2 .33 .5 .34 -.5 .33 -.4 .33 .5 .34 -.6 .33 .7 .33 -.5 .34 .2 .33 .9 .33 -1.1 .34 .4 .33 0 .33 0 .34 0 .33 -.2 .33 .8 .34 -1.2 .33 .3 .33 .8 .34 -.3 .33 -.4 .33 -.1 .34 .2 .33 1 .33 -.7 .34 -.5 .33 .4 .33 -.2 .34 .6 .33 -.3 .33 .3 .34 -.4 .33 .6 .33 -.5 .34 0 .33 -.4 .33 .2 .34 .2 .33 -.2 .33 .9 .34 -.8 .33 -.2 .33 .5 .34 -.4 .33 .3 .33 -.2 .34 -.2 .33 .7 .33 -.4 .34 .3 .33 -.4 .33 -.3 .34 0 .33 .2 .33 .2 .34 0 .33 .2 .33 -.6 .34 .5 .33 -.4 .33 .1 .34 1 .33 -.4 .33 -.5 .34 .7 .33 -.1 .33 -.2 .34 .2 .33 -.5 .33 0 .34 -.2 .33 .5 .33 -.6 .34 .3 .33 .3 .33 -.3 .34 .2 .33 .5 .33 -.9 .34 .8 .33 -.7 .33 0 .34 .3 .33 .3 .33 -.6 .34 0 .33 .1 .33 0 .34 .2 .33 -.2 .33 .1 .34 .2 .33 -.2 .33 .5 .34 -.6 .33 0 .33 .8 .34 -.1 .33 -.4 .33 .2 .34 -.2 .33 -.2 .33 .4 .34 -.2 .33 .3 .33 -.9 .34 .8 .33 -.2 .33 -.2 .34 .1 .33 0 .33 -.3 .34 .2 .33 .4 .33 -.7 .34 .4 .33 -.6 .33 .5 .34 .3 .33 -.1 .33 0 .34 -.3 .33 .5 .33 -.4 .34 .5 .33 -.2 .33 -.2 .34 .6 .33 -.5 .33 .4 .34 -.3 .33 0 .33 .3 .34 -.2 .33 -.1 .33 0 .34 .1 .33 -.1 .33 -.1 .34 -.2 .33 -.5 .33 .8 .34 0 .33 .4 .33 -.2 .34 .2 .33 .2 .33 -.6 .34 -.2 .33 .5 .33 -.4 .34 .1 .33 .5 .33 -.2 .34 .1 .33 -.7 .33 .4 .34 .3 .33 -.7 .33 .5 .34 0 .33 -.8 .33 1.2 .34 -.7 .33 .2 .33 .6 .34 -1.1 .33 .7 .33 -.3 .34 .2 .33 -.3 .33 .7 .34 -.8 .33 .5 .33 .1 .34 -.2 .33 -.1 .33 0 .34 .4 .33 -.2 .33 -.1 .34 -.3 .33 .4 .33 .1 .34 -.2 .33 .5 .33 -1 .34 1.3 .33 -.8 .33 -.3 .34 -.2 .33 .8 .33 -.1 .34 -.2 .33 .1 .33 0 .34 -.1 .33 .4 .33 -.1 .34 -.2 .33 -.5 .33 .9 .34 -.5 .33 -.2 .33 .7 .34 -.2 .33 -.8 .33 .1 .34 .4 .33 -.2 .33 .3 .34 .8 .33 .2 .33 -.9 .34 .2 .33 0 .33 -.3 .34 -.4 .33 .8 .33 -.4 .34 .2 .33 .1 .33 -.4 .34 .7 .33 -.5 .33 .1 .34 -.2 .33 .3 .33 .1 .34 -.4 .33 .3 .33 -.3 .34 -.2 .33 .3 .33 .2 .34 0 .33 .2 .33 -.5 .34 .1 .33 .1 .33 .2 .34 -.2 .33 -.3 .33 -.2 .34 .9 .33 -.1 .33 -.5 .34 .7 .33 -.5 .33 .2 .34 .2 .33 -.5 .33 -.1 .34 -.3 .33 .6 .33 .1 .34 .1 .33 0 .33 -.2 .34 .3 .33 -.6 .33 .4 .34 0 .33 -.1 .33 .5 .34 .1 .33 -.2 .33 -.1 .34 -.3 .33 .6 .33 -.2 .34 -.4 .33 0 .33 -.3 .34 .3 .33 0 .33 .1 .34 -.2 .33 .3 .33 -.2 .34 -.4 .33 .3 .33 -.1 .34 -.1 .33 .3 .33 .4 .34 -.6 .33 -.3 .33 .6 .34 .9 .33 -1.1 .33 .3 .34 -.2 .33 .4 .33 .2 .34 -.5 .33 .4 .33 -.7 .34 .4 .33 -.4 .33 .4 .34 -.2 .33 .2 .33 -.4 .34 .5 .33 -.1 .33 -.2 .34 0 .33 -.2 .33 .3 .34 .2 .33 -.1 .33 .1 .34 .3 .33 -.5 .33 .2 .34 .2 .33 -.1 .33 0 .34 -.1 .33 .5 .33 -.6 .34 0 .33 .3 .33 .3 .34 -.1 .33 -.4 .33 .2 .34 -.1 .33 -.1 .33 .2 .34 0 .33 -.1 .33 .4 .34 -.6 .33 .3 .33 .5 .34 0 .33 -.6 .33 -.1 .34 -.4 .33 .4 .33 .8 .34 -1.2 .33 0 .33 .7 .34 0 .33 -.8 .33 .6 .34 .1 .33 -.6 .33 .8 .34 -.7 .33 .7 .33 -.2 .34 -.3 .33 -.3 .33 .4 .34 .1 .33 0 .33 -.1 .34 .1 .33 .3 .33 -.5 .34 .2 .33 .2 .33 -.1 .34 .2 .33 .2 .33 -.5 .34 .2" stroke="#ff10ff" stroke-width="1.2" fill="none" stroke-linejoin="round"/>
<path d="M303.5 132.1V120.0" stroke="#ff10ff" stroke-width="0.8" fill="none"/>
<path d="M267 106.2l.33 .4 .33 1 .34 .8 .33 -.7 .33 1.1 .34 -.5 .33 -.7 .33 1.1 .34 1 .33 .3 .33 -1 .34 1.9 .33 -1.4 .33 .2 .34 .4 .33 1.2 .33 -.3 .34 .4 .33 -1.4 .33 1.3 .34 .2 .33 .6 .33 -.4 .34 1 .33 -.8 .33 -.1 .34 0 .33 1.6 .33 -.1 .34 -.6 .33 1 .33 -.4 .34 .2 .33 -.5 .33 .5 .34 .5 .33 .2 .33 -.3 .34 .9 .33 .3 .33 -.9 .34 .7 .33 -.8 .33 1 .34 -.5 .33 .5 .33 .2 .34 -.1 .33 .7 .33 -.7 .34 .2 .33 .5 .33 -.1 .34 .2 .33 -.1 .33 -.1 .34 .6 .33 -.1 .33 .4 .34 .3 .33 -.6 .33 -.1 .34 .2 .33 0 .33 -.5 .34 1.5 .33 -.4 .33 .8 .34 -1.1 .33 .6 .33 -.1 .34 -.1 .33 .5 .33 -.3 .34 0 .33 .2 .33 -.9 .34 .6 .33 .1 .33 .9 .34 -.3 .33 .1 .33 0 .34 -.3 .33 .8 .33 -.7 .34 -.4 .33 .8 .33 .3 .34 -.4 .33 .1 .33 .3 .34 .2 .33 -.3 .33 .5 .34 -.5 .33 .7 .33 -1.2 .34 .8 .33 -.2 .33 0 .34 -.4 .33 .8 .33 -.4 .34 -.2 .33 .1 .33 .2 .34 .1 .33 -.3 .33 0 .34 .5 .33 -.1 .33 .7 .34 -.8 .33 .4 .33 .4 .34 -.6 .33 .4 .33 -.2 .34 -.1 .33 .6 .33 -.9 .34 .2 .33 -.4 .33 .6 .34 .4 .33 -.4 .33 .4 .34 -.5 .33 .6 .33 -.4 .34 -.1 .33 .7 .33 -.5 .34 .2 .33 -.1 .33 .2 .34 -.2 .33 -.4 .33 .5 .34 .1 .33 0 .33 -.2 .34 .7 .33 -.8 .33 .2 .34 .1 .33 -.4 .33 0 .34 .6 .33 0 .33 -.2 .34 -.5 .33 .4 .33 .2 .34 .1 .33 .2 .33 -.2 .34 .2 .33 .2 .33 -1.2 .34 1 .33 -.4 .33 .3 .34 -.1 .33 -.4 .33 .1 .34 .4 .33 -.2 .33 .3 .34 -.3 .33 .8 .33 -.7 .34 .7 .33 -.9 .33 .4 .34 .2 .33 -.7 .33 .1 .34 .4 .33 .3 .33 0 .34 -.2 .33 .2 .33 -.7 .34 .2 .33 .6 .33 -.6 .34 .1 .33 -.4 .33 .4 .34 -.4 .33 .6 .33 .4 .34 -.4 .33 0 .33 -.2 .34 .3 .33 -.5 .33 .2 .34 .8 .33 -1 .33 .2 .34 -.2 .33 .8 .33 -.4 .34 -.4 .33 .1 .33 .7 .34 -.1 .33 0 .33 -.3 .34 .3 .33 .2 .33 -.2 .34 -.7 .33 -.1 .33 .2 .34 .5 .33 -.5 .33 .1 .34 .3 .33 -.2 .33 -.1 .34 .6 .33 -.1 .33 .1 .34 0 .33 .2 .33 -.4 .34 -.1 .33 -.4 .33 .4 .34 -.1 .33 .5 .33 -.1 .34 .3 .33 -.2 .33 .1 .34 -.2 .33 -.1 .33 -.2 .34 .2 .33 -.3 .33 .4 .34 -.2 .33 -.5 .33 -.2 .34 .6 .33 .1 .33 0 .34 .5 .33 -.6 .33 -.2 .34 .5 .33 .2 .33 .2 .34 -.8 .33 .3 .33 -.1 .34 .6 .33 -.2 .33 -.2 .34 .2 .33 -.3 .33 0 .34 .1 .33 -.2 .33 .1 .34 .2 .33 0 .33 .4 .34 -.2 .33 -.3 .33 -.6 .34 .2 .33 .3 .33 0 .34 -.2 .33 .3 .33 -.5 .34 .4 .33 .1 .33 .1 .34 -.2 .33 -.1 .33 .3 .34 .1 .33 -.4 .33 -.3 .34 .3 .33 .5 .33 -.6 .34 .7 .33 -.4 .33 .2 .34 -.3 .33 .4 .33 -.1 .34 .1 .33 -.7 .33 .8 .34 -.7 .33 .4 .33 .2 .34 -.2 .33 .2 .33 0 .34 -.1 .33 -.2 .33 .5 .34 0 .33 -.4 .33 -.1 .34 .3 .33 -.3 .33 .3 .34 .2 .33 0 .33 .2 .34 -.3 .33 -.4 .33 0 .34 .4 .33 .4 .33 -.6 .34 -.2 .33 .7 .33 -.4 .34 .2 .33 .1 .33 -.6 .34 .2 .33 0 .33 .3 .34 0 .33 -.3 .33 .3 .34 -.6 .33 .6 .33 0 .34 -.1 .33 -.4 .33 .4 .34 -.3 .33 .7 .33 -.5 .34 0 .33 .1 .33 .2 .34 -.2 .33 .2 .33 -.4 .34 .6 .33 -.5 .33 .4 .34 -.2 .33 .3 .33 -.4 .34 -.3 .33 0 .33 .3 .34 .5 .33 -.5 .33 .1 .34 .4 .33 -.6 .33 .3 .34 0 .33 -.3 .33 .3 .34 .2 .33 0 .33 -.4 .34 1 .33 -.8 .33 -.1 .34 -.1 .33 -.1 .33 .5 .34 -1 .33 .7 .33 -.3 .34 .3 .33 .1 .33 -.4 .34 .1 .33 .7 .33 -.5 .34 .1 .33 -.1 .33 .4 .34 .1 .33 -.1 .33 -.1 .34 0 .33 -.5 .33 .7 .34 -.5 .33 -.1 .33 .2 .34 -.1 .33 .3 .33 .1 .34 .2 .33 -.4 .33 -.2 .34 .1 .33 -.2 .33 .1 .34 .8 .33 -.8 .33 .1 .34 .3 .33 -.1 .33 .2 .34 -.5 .33 0 .33 .6 .34 -.5 .33 .1 .33 .1 .34 -.5 .33 .4 .33 -.1 .34 .3 .33 .4 .33 -1.1 .34 .8 .33 -.9 .33 .6 .34 -.1 .33 .1 .33 .1 .34 .3 .33 -.5 .33 .1 .34 .4 .33 -.1 .33 .1 .34 -.1 .33 -.2 .33 -.1 .34 .1 .33 .3 .33 .2 .34 .2 .33 -.9 .33 .2 .34 .1 .33 0 .33 -.3 .34 1 .33 -.2 .33 -.5 .34 -.1 .33 .2 .33 -.4 .34 .3 .33 .3 .33 .2 .34 -.2 .33 .2 .33 -.7 .34 -.6 .33 1.3 .33 -.3 .34 -.1 .33 1.4 .33 -1.7 .34 .1 .33 0 .33 .7 .34 -.2 .33 -.8 .33 1 .34 -.4 .33 .1 .33 -.4 .34 .8 .33 -.4 .33 .3 .34 -.7 .33 .5 .33 -.2 .34 -.1 .33 -.1 .33 0 .34 -.1 .33 .1 .33 .2 .34 .2 .33 -.6 .33 .1 .34 .2 .33 -.3 .33 .4 .34 0 .33 0 .33 .2 .34 .1 .33 .4 .33 -.5 .34 .1 .33 -.4 .33 -.1 .34 .5 .33 0 .33 .4 .34 -.6 .33 -.3 .33 .4 .34 -.2 .33 -.1 .33 .6 .34 .2 .33 -.4 .33 -.3 .34 .2 .33 0 .33 -.4 .34 .6 .33 -.1 .33 .2 .34 -.5 .33 .2 .33 0 .34 -.5 .33 1.2 .33 -1.3 .34 .3 .33 .2 .33 -.3 .34 .6 .33 -.3 .33 .2 .34 0 .33 0 .33 0 .34 -.1 .33 .2 .33 .1 .34 -.3 .33 0 .33 0 .34 .2 .33 -.2 .33 0 .34 -.3 .33 1 .33 -.9 .34 .8 .33 -.2 .33 0 .34 -.2 .33 .1 .33 -.1 .34 .1 .33 .1 .33 .2 .34 -.7" stroke="#108810" stroke-width="1.2" fill="none" stroke-linejoin="round"/>
<path d="M303.5 118.8V104.0M410.9 121.4V107.0" stroke="#108810" stroke-width="0.8" fill="none"/>
<path d="M293.8 117.7V113.0" stroke="#108810" stroke-width="0.8" stroke-opacity="0.45" fill="none"/>
<path d="M267 94.6l.33 .8 .33 .1 .34 -.7 .33 .8 .33 -.5 .34 .1 .33 .9 .33 .5 .34 -.2 .33 .8 .33 .2 .34 .2 .33 -.3 .33 -.5 .34 1.9 .33 -1 .33 .8 .34 .1 .33 -.3 .33 1.3 .34 -.4 .33 -.2 .33 0 .34 -.1 .33 0 .33 1 .34 -.3 .33 .1 .33 .6 .34 -.2 .33 .6 .33 -.5 .34 .2 .33 .8 .33 -.6 .34 .7 .33 .1 .33 -.2 .34 -.6 .33 .3 .33 .2 .34 0 .33 1.1 .33 -.7 .34 -.1 .33 .4 .33 .3 .34 -.6 .33 1.1 .33 .1 .34 -.4 .33 .6 .33 -.9 .34 .5 .33 .3 .33 .1 .34 .6 .33 -.6 .33 -.2 .34 .6 .33 0 .33 .2 .34 -.2 .33 .2 .33 -.2 .34 .5 .33 .2 .33 -.6 .34 .8 .33 -.7 .33 .4 .34 .2 .33 -.3 .33 .6 .34 -.6 .33 .7 .33 -.9 .34 .1 .33 .6 .33 .5 .34 .2 .33 -.9 .33 .3 .34 -.1 .33 -.6 .33 1.1 .34 -.4 .33 .7 .33 -.3 .34 -.3 .33 0 .33 .2 .34 .3 .33 -.4 .33 1.3 .34 -.9 .33 -.5 .33 .5 .34 .4 .33 -.2 .33 -.3 .34 -.1 .33 0 .33 -.1 .34 .3 .33 .3 .33 -.9 .34 1.4 .33 -.4 .33 -.3 .34 .2 .33 .5 .33 -1.1 .34 .7 .33 .9 .33 -.5 .34 -.7 .33 .4 .33 -.1 .34 1 .33 -1.1 .33 .1 .34 0 .33 -.3 .33 -.6 .34 1 .33 .3 .33 -.3 .34 .3 .33 .1 .33 0 .34 -.8 .33 1.1 .33 -.2 .34 0 .33 -.2 .33 0 .34 -.2 .33 .4 .33 .1 .34 -.4 .33 .4 .33 -.4 .34 .4 .33 -.2 .33 .3 .34 .4 .33 -.6 .33 -.2 .34 0 .33 .4 .33 -.4 .34 .5 .33 -.2 .33 .2 .34 -.4 .33 -.2 .33 .1 .34 .4 .33 -.4 .33 .3 .34 -.7 .33 .5 .33 .2 .34 -.5 .33 .4 .33 -.3 .34 .4 .33 0 .33 .3 .34 -.5 .33 -.2 .33 .3 .34 .3 .33 0 .33 0 .34 .3 .33 -.4 .33 0 .34 -.2 .33 .1 .33 .5 .34 -.2 .33 -.9 .33 1.2 .34 -1 .33 .5 .33 .5 .34 -.3 .33 .1 .33 .2 .34 -.2 .33 -.5 .33 .5 .34 -.3 .33 -.5 .33 .6 .34 .3 .33 -.1 .33 0 .34 .5 .33 -.4 .33 .2 .34 -.2 .33 .4 .33 -.6 .34 .5 .33 .2 .33 -.7 .34 .5 .33 -.8 .33 .5 .34 .2 .33 -.5 .33 -.3 .34 .6 .33 -.1 .33 .1 .34 .1 .33 .2 .33 .2 .34 -.3 .33 -.6 .33 .6 .34 0 .33 -.1 .33 .4 .34 -.4 .33 -.1 .33 .2 .34 -.6 .33 .8 .33 -.3 .34 .5 .33 -.3 .33 -.1 .34 0 .33 -.4 .33 .3 .34 .1 .33 .3 .33 -.2 .34 .1 .33 0 .33 -.4 .34 .3 .33 -.2 .33 -.3 .34 0 .33 .7 .33 .2 .34 0 .33 -.7 .33 .7 .34 0 .33 -.7 .33 .4 .34 .4 .33 -.5 .33 .3 .34 -.5 .33 .1 .33 .4 .34 -.3 .33 .1 .33 -.1 .34 -.3 .33 .8 .33 -.5 .34 -.1 .33 0 .33 .2 .34 -.3 .33 .5 .33 -.3 .34 .3 .33 -.5 .33 0 .34 0 .33 .4 .33 -.5 .34 .7 .33 -.4 .33 .4 .34 -.4 .33 .4 .33 -.6 .34 0 .33 .5 .33 -.3 .34 .5 .33 -.5 .33 .3 .34 -.4 .33 -.2 .33 .9 .34 -.5 .33 .4 .33 -.2 .34 -.6 .33 .7 .33 .2 .34 0 .33 .1 .33 -.3 .34 -.2 .33 .1 .33 -.4 .34 .6 .33 0 .33 -.1 .34 -.3 .33 .4 .33 -.3 .34 .5 .33 -.6 .33 .1 .34 0 .33 -.2 .33 .1 .34 .2 .33 -.7 .33 1.4 .34 -.5 .33 0 .33 -.4 .34 .3 .33 0 .33 0 .34 -.4 .33 .4 .33 -.5 .34 .5 .33 -.2 .33 .1 .34 0 .33 .4 .33 .1 .34 -.3 .33 -.4 .33 .8 .34 -.8 .33 .2 .33 .1 .34 -.1 .33 .6 .33 -.3 .34 .2 .33 -.4 .33 .4 .34 -.3 .33 0 .33 .1 .34 .1 .33 0 .33 -.2 .34 -.4 .33 .4 .33 -.7 .34 .7 .33 -.1 .33 .4 .34 -1 .33 1.4 .33 -.7 .34 -.4 .33 .7 .33 0 .34 0 .33 .5 .33 -.9 .34 .3 .33 0 .33 -.2 .34 .3 .33 .3 .33 -.7 .34 .4 .33 .2 .33 -.1 .34 -.7 .33 .6 .33 -.2 .34 .5 .33 -.4 .33 .5 .34 -.8 .33 .5 .33 -.4 .34 .8 .33 -.1 .33 -.7 .34 .5 .33 -.2 .33 -.5 .34 .2 .33 .3 .33 .2 .34 -.3 .33 .2 .33 0 .34 0 .33 -.4 .33 .4 .34 .1 .33 -.6 .33 .9 .34 0 .33 -.4 .33 .6 .34 -.8 .33 -.1 .33 .1 .34 0 .33 .8 .33 -.6 .34 0 .33 .1 .33 .4 .34 -.4 .33 -.2 .33 .2 .34 .3 .33 -.4 .33 .5 .34 -.3 .33 -.2 .33 .2 .34 .5 .33 -.7 .33 .5 .34 -.2 .33 -.1 .33 -.1 .34 .3 .33 .4 .33 -.5 .34 .1 .33 -.5 .33 .1 .34 -.1 .33 .2 .33 0 .34 0 .33 .3 .33 -.5 .34 .2 .33 .4 .33 .2 .34 -.5 .33 .4 .33 0 .34 -.7 .33 .4 .33 -.4 .34 .2 .33 .3 .33 -.5 .34 .5 .33 -.2 .33 0 .34 .3 .33 -.4 .33 -.3 .34 .5 .33 -.2 .33 .2 .34 -.3 .33 .1 .33 -.1 .34 0 .33 .1 .33 0 .34 .3 .33 .9 .33 -1.1 .34 -.3 .33 .7 .33 -.6 .34 .1 .33 .2 .33 .1 .34 0 .33 .1 .33 -.1 .34 .4 .33 -.1 .33 -.4 .34 .1 .33 -.3 .33 .6 .34 -.3 .33 .6 .33 -.7 .34 .6 .33 -.7 .33 -.2 .34 .3 .33 .3 .33 .2 .34 -.5 .33 .5 .33 -.4 .34 0 .33 .1 .33 .5 .34 -.4 .33 .1 .33 -.6 .34 .5 .33 .1 .33 .4 .34 -.8 .33 .1 .33 -.1 .34 .1 .33 .4 .33 -.4 .34 .6 .33 -.4 .33 -.2 .34 .1 .33 -.2 .33 -.1 .34 .8 .33 -.1 .33 -.5 .34 .2 .33 .6 .33 -.7 .34 .3 .33 .1 .33 -.2 .34 0 .33 -.1 .33 .2 .34 -.5 .33 .5 .33 0 .34 -.4 .33 .5 .33 -.4 .34 -.5 .33 .2 .33 .6 .34 .2 .33 -.3 .33 -.3 .34 .4 .33 .3 .33 -.3 .34 -.4 .33 .6 .33 -.2 .34 0 .33 .1 .33 .5 .34 -.6 .33 -.2 .33 .2 .34 .1" stroke="#161690" stroke-width="1.2" fill="none" stroke-linejoin="round"/>
<path d="M303.5 105.3V61.3M410.9 107.9V63.0" stroke="#161690" stroke-width="0.8" fill="none"/>
<path d="M303.5 43.5V45.7M293.8 104.3V99.0" stroke="#161690" stroke-width="0.8" stroke-opacity="0.45" fill="none"/>
</g>
<rect x="267.0" y="43.5" width="187.3" height="137.7" fill="none" stroke="#858585" stroke-width="1.3"/>
<path d="M267.0 181.2v-3.6M282.6 181.2v-2.6M298.2 181.2v-3.6M313.8 181.2v-2.6M329.4 181.2v-3.6M345.0 181.2v-2.6M360.6 181.2v-3.6M376.3 181.2v-2.6M391.9 181.2v-3.6M407.5 181.2v-2.6M423.1 181.2v-3.6M438.7 181.2v-2.6M454.3 181.2v-3.6" stroke="#858585" stroke-width="1.1"/>
<text x="267.0" y="192.4" class="tk">20</text>
<text x="298.2" y="192.4" class="tk">30</text>
<text x="329.4" y="192.4" class="tk">40</text>
<text x="360.6" y="192.4" class="tk">50</text>
<text x="391.9" y="192.4" class="tk">60</text>
<text x="423.1" y="192.4" class="tk">70</text>
<text x="454.3" y="192.4" class="tk">80</text>
<text x="360.9" y="207.2" class="xl">Two-theta (deg.)</text>
<text transform="translate(253.0 112.3) rotate(-90)" class="yl">Intensity (a.u.)</text>
<text x="423.5" y="105.0" class="lb">15 min</text>
<text x="423.5" y="120.1" class="lb">10 min</text>
<text x="424.7" y="133.4" class="lb">5 min</text>
<text x="424.7" y="146.2" class="lb">3 min</text>
<text x="424.7" y="159.0" class="lb">0 min</text>
<text x="424.0" y="171.1" class="lb">Control</text>
<text x="293.8" y="87.3" class="an">(111)</text>
<path d="M291.6 90.2L296.0 90.2L293.8 97.5Z" fill="#111"/>
<text x="303.5" y="53.3" class="an">(200)</text>
<path d="M301.3 56.2L305.7 56.2L303.5 63.5Z" fill="#111"/>
<text x="410.9" y="55.0" class="an">(400)</text>
<path d="M408.7 57.9L413.1 57.9L410.9 65.2Z" fill="#111"/>
<text x="266.4" y="41.1" class="tt">S10</text>
<text x="242.8" y="37.9" class="rm">ii</text>
<g clip-path="url(#c2)">
<path d="M49.1 337l.33 3 .33 -.2 .34 -1 .33 3.1 .33 -5 .34 2.6 .33 -.3 .33 3.5 .34 .5 .33 -2.8 .33 1.3 .34 1.5 .33 -.3 .33 0 .34 1.3 .33 1.6 .33 -2.2 .34 -1.4 .33 1.7 .33 .3 .34 -.1 .33 1.6 .33 .3 .34 .4 .33 -.3 .33 0 .34 -1.4 .33 1.1 .33 -.4 .34 1.6 .33 -.3 .33 .3 .34 .8 .33 -.7 .33 1.7 .34 .1 .33 -2 .33 2.6 .34 -1.6 .33 -.3 .33 .6 .34 -.8 .33 1.8 .33 1 .34 -2.6 .33 2.1 .33 .2 .34 .2 .33 .1 .33 -.1 .34 -1.6 .33 2.3 .33 -.4 .34 .5 .33 -.3 .33 -.5 .34 .3 .33 .7 .33 .5 .34 -2.5 .33 .7 .33 -.2 .34 1 .33 -.1 .33 .8 .34 -.3 .33 1.4 .33 -1.5 .34 0 .33 0 .33 .5 .34 .4 .33 -.5 .33 -.2 .34 -.3 .33 1.2 .33 -.5 .34 -.2 .33 .6 .33 .4 .34 1.3 .33 -.3 .33 -1.7 .34 .4 .33 -1 .33 .1 .34 .1 .33 1.9 .33 -.7 .34 -.8 .33 .6 .33 .1 .34 -.1 .33 1.4 .33 -2.1 .34 1 .33 .5 .33 .1 .34 -1.5 .33 1.4 .33 -.8 .34 .4 .33 -.5 .33 1.4 .34 1.4 .33 -1.2 .33 -.8 .34 -.8 .33 1.6 .33 .2 .34 -1.3 .33 1.2 .33 -1.5 .34 .3 .33 .8 .33 -.8 .34 1.1 .33 .4 .33 -.7 .34 .3 .33 .6 .33 -.6 .34 .4 .33 .1 .33 -1.2 .34 1.6 .33 -.5 .33 -.5 .34 .4 .33 -.2 .33 -.1 .34 -.6 .33 .3 .33 .1 .34 .7 .33 -.3 .33 0 .34 -.2 .33 .6 .33 -1.7 .34 .7 .33 .9 .33 -.6 .34 .5 .33 .4 .33 -.3 .34 -1 .33 .5 .33 -1 .34 1.4 .33 .2 .33 -.5 .34 .3 .33 -.3 .33 1 .34 -.8 .33 0 .33 .2 .34 .2 .33 -.1 .33 -.3 .34 0 .33 .2 .33 .1 .34 -.4 .33 -.1 .33 .1 .34 .3 .33 -.3 .33 -.3 .34 .3 .33 0 .33 .4 .34 -.4 .33 0 .33 1 .34 -.6 .33 -.5 .33 .8 .34 -.6 .33 -.2 .33 .6 .34 -.8 .33 .5 .33 .3 .34 .1 .33 -.5 .33 0 .34 .2 .33 .5 .33 -1.2 .34 1 .33 -.2 .33 .5 .34 -1 .33 .9 .33 -.8 .34 .5 .33 -.3 .33 -.7 .34 .9 .33 .1 .33 .2 .34 -.5 .33 -.2 .33 .7 .34 -.4 .33 .5 .33 .1 .34 -.5 .33 0 .33 -.2 .34 -.5 .33 .8 .33 .2 .34 .2 .33 -.4 .33 .6 .34 -.8 .33 .2 .33 -.2 .34 .1 .33 0 .33 -.1 .34 .1 .33 .2 .33 0 .34 -.4 .33 .5 .33 -.4 .34 .4 .33 -.1 .33 -.7 .34 .3 .33 .7 .33 -.5 .34 0 .33 .1 .33 .1 .34 .2 .33 -.3 .33 .7 .34 -.8 .33 .1 .33 .1 .34 .1 .33 .4 .33 .3 .34 -.9 .33 .1 .33 .3 .34 -.3 .33 .4 .33 -.7 .34 .7 .33 -1 .33 .9 .34 0 .33 .6 .33 -1.1 .34 .6 .33 -.1 .33 -.5 .34 .4 .33 -.3 .33 -.1 .34 -.9 .33 1.2 .33 -.3 .34 -.3 .33 .8 .33 -.7 .34 .8 .33 -.1 .33 -.4 .34 -.2 .33 .2 .33 -.1 .34 .3 .33 0 .33 .9 .34 -1.5 .33 .5 .33 .4 .34 .1 .33 .2 .33 -.8 .34 .6 .33 -1.2 .33 .9 .34 .3 .33 0 .33 -.7 .34 .2 .33 -.4 .33 .5 .34 -.2 .33 .5 .33 -.3 .34 .4 .33 -.2 .33 -.1 .34 .7 .33 -.2 .33 -.8 .34 .9 .33 -.2 .33 .2 .34 -.3 .33 -.7 .33 .4 .34 -.6 .33 .3 .33 .3 .34 .6 .33 -.4 .33 .1 .34 .1 .33 -.5 .33 .7 .34 -.3 .33 -.4 .33 .1 .34 .2 .33 .2 .33 .3 .34 -.6 .33 .1 .33 .6 .34 .5 .33 -.5 .33 -.5 .34 -.1 .33 .3 .33 -.1 .34 -.4 .33 .7 .33 .4 .34 -1.1 .33 .1 .33 .1 .34 -.3 .33 .7 .33 -.7 .34 .6 .33 0 .33 .1 .34 -.7 .33 .5 .33 0 .34 .2 .33 -.1 .33 -.3 .34 .5 .33 .1 .33 0 .34 -.6 .33 .4 .33 -.5 .34 .3 .33 .3 .33 -.7 .34 1.3 .33 -.5 .33 -.6 .34 .1 .33 .1 .33 0 .34 -.3 .33 .3 .33 -.4 .34 .3 .33 .7 .33 -.5 .34 -.1 .33 .6 .33 -.4 .34 .1 .33 -.4 .33 .6 .34 -.5 .33 .4 .33 -.1 .34 .4 .33 -.3 .33 -.3 .34 -.3 .33 .2 .33 -.1 .34 .7 .33 -.6 .33 -.6 .34 .9 .33 .1 .33 -.5 .34 .5 .33 -.6 .33 .5 .34 -.2 .33 .2 .33 0 .34 -.3 .33 .5 .33 -.4 .34 .2 .33 .4 .33 -.8 .34 .4 .33 .5 .33 -.9 .34 .4 .33 -.2 .33 .3 .34 -.3 .33 .2 .33 -.5 .34 .7 .33 -.7 .33 .5 .34 .2 .33 -.4 .33 -.3 .34 .1 .33 -.2 .33 1.2 .34 -1.2 .33 .2 .33 .5 .34 0 .33 .3 .33 .1 .34 -.3 .33 -.2 .33 -.1 .34 .1 .33 .4 .33 -.1 .34 0 .33 -.7 .33 .3 .34 0 .33 0 .33 -.1 .34 .5 .33 .2 .33 .2 .34 -.7 .33 .1 .33 .1 .34 -.1 .33 -.2 .33 .5 .34 -.9 .33 .5 .33 -.4 .34 .8 .33 -.7 .33 .1 .34 .4 .33 -.3 .33 .4 .34 -.2 .33 .7 .33 -.8 .34 0 .33 .4 .33 -.1 .34 .1 .33 -.3 .33 .5 .34 -.2 .33 .3 .33 -.9 .34 .5 .33 -.1 .33 .2 .34 -.4 .33 .5 .33 -.6 .34 .7 .33 -.1 .33 -.8 .34 .7 .33 -.7 .33 .8 .34 -.7 .33 .5 .33 -.1 .34 -.4 .33 -.1 .33 .8 .34 -.3 .33 .5 .33 -.4 .34 1 .33 -.9 .33 .5 .34 -.4 .33 -.1 .33 .2 .34 -.4 .33 0 .33 .7 .34 -.5 .33 -.3 .33 .5 .34 -.4 .33 .3 .33 .3 .34 .1 .33 .1 .33 -.2 .34 -.1 .33 -.1 .33 0 .34 -.1 .33 .7 .33 -.7 .34 .5 .33 -.5 .33 .4 .34 -1.3 .33 1 .33 -.3 .34 .7 .33 0 .33 -.7 .34 .2 .33 .3 .33 -.1 .34 -.1 .33 .3 .33 -.7 .34 .9 .33 -.4 .33 -1 .34 .6 .33 .3 .33 .7 .34 -.7 .33 -.5 .33 1 .34 -.3 .33 -.2 .33 .4 .34 -.5 .33 .1 .33 .4 .34 -.2 .33 .2 .33 -.4 .34 .6 .33 -1 .33 .1 .34 .6 .33 -.3 .33 .2 .34 -.1 .33 0 .33 -.3 .34 .4" stroke="#000000" stroke-width="1.5" fill="none" stroke-linejoin="round"/>
<path d="M49.1 322.2l.33 -2.5 .33 .8 .34 1 .33 1.7 .33 .4 .34 2.7 .33 .5 .33 -1.8 .34 -.1 .33 3.3 .33 -2.4 .34 1.6 .33 -1.9 .33 .9 .34 0 .33 -.3 .33 1.7 .34 -1.4 .33 1.2 .33 .9 .34 2.4 .33 -5 .33 2.8 .34 .9 .33 -1 .33 1.7 .34 -.3 .33 .1 .33 -.9 .34 .5 .33 .1 .33 -.7 .34 1.5 .33 -1.2 .33 .3 .34 -.4 .33 2.9 .33 -1.8 .34 -.1 .33 1.9 .33 -1.1 .34 .9 .33 -.4 .33 .7 .34 -.1 .33 -2.2 .33 3.7 .34 -.4 .33 -2.3 .33 2.4 .34 -1 .33 .4 .33 1.2 .34 -.2 .33 .1 .33 1 .34 -.8 .33 -1.4 .33 -.5 .34 1.9 .33 -2.1 .33 1.3 .34 0 .33 -.2 .33 1.8 .34 -.8 .33 -.4 .33 1 .34 -1 .33 1.3 .33 .7 .34 -1.6 .33 0 .33 1.1 .34 -2.3 .33 .6 .33 .2 .34 -.3 .33 1.2 .33 .2 .34 -.2 .33 .1 .33 .7 .34 .1 .33 .2 .33 -.9 .34 .1 .33 1 .33 -.6 .34 .6 .33 -1.1 .33 .3 .34 -.4 .33 .5 .33 .3 .34 -.5 .33 1.5 .33 -2.1 .34 1.5 .33 -1.2 .33 .9 .34 -.6 .33 .5 .33 0 .34 -.5 .33 -.2 .33 .4 .34 .4 .33 .5 .33 .4 .34 -1.8 .33 1.2 .33 -.5 .34 .3 .33 .2 .33 .3 .34 -.2 .33 -.2 .33 .9 .34 -.7 .33 -.1 .33 .6 .34 -.3 .33 -.7 .33 1.2 .34 -.8 .33 -.8 .33 1.3 .34 .2 .33 -.9 .33 -.3 .34 .7 .33 2 .33 -2.3 .34 -.1 .33 .7 .33 0 .34 -1 .33 .3 .33 .3 .34 -.1 .33 .4 .33 .2 .34 .6 .33 -.7 .33 .3 .34 -1.1 .33 .4 .33 .8 .34 -1.1 .33 1.2 .33 -.3 .34 -.2 .33 -.1 .33 -.4 .34 0 .33 .3 .33 .1 .34 .7 .33 -1 .33 .2 .34 -.4 .33 .8 .33 -.1 .34 .5 .33 .3 .33 -.5 .34 -.6 .33 .5 .33 0 .34 -.1 .33 -.4 .33 .5 .34 -.6 .33 .5 .33 -.1 .34 -.9 .33 1.3 .33 .6 .34 -.1 .33 -1 .33 .7 .34 -.9 .33 .5 .33 .1 .34 -.3 .33 .2 .33 -.3 .34 .1 .33 .5 .33 -.5 .34 .1 .33 -.1 .33 .5 .34 -.3 .33 -.2 .33 .5 .34 -.9 .33 .1 .33 .8 .34 .6 .33 -.9 .33 .3 .34 -.6 .33 .6 .33 0 .34 .1 .33 -.4 .33 .9 .34 -1 .33 .9 .33 -.9 .34 .7 .33 .2 .33 .3 .34 -.8 .33 -.6 .33 .9 .34 -.5 .33 -.1 .33 .1 .34 -.1 .33 .6 .33 -.2 .34 .2 .33 .1 .33 -.4 .34 .3 .33 .2 .33 0 .34 -.3 .33 -.2 .33 -.2 .34 .2 .33 .2 .33 .1 .34 -.6 .33 .4 .33 0 .34 -.1 .33 0 .33 .3 .34 -.4 .33 .5 .33 -.5 .34 .4 .33 -.4 .33 .8 .34 -.2 .33 .2 .33 -.7 .34 -.1 .33 0 .33 .3 .34 .5 .33 -.1 .33 0 .34 -.7 .33 .8 .33 -.1 .34 -.4 .33 -.7 .33 .6 .34 .3 .33 .5 .33 -.4 .34 -.1 .33 .5 .33 0 .34 -.3 .33 .1 .33 .2 .34 -.7 .33 .4 .33 -.3 .34 -.1 .33 .5 .33 .2 .34 .2 .33 -.3 .33 .1 .34 -.4 .33 -.4 .33 .3 .34 .3 .33 -.3 .33 .8 .34 -.2 .33 -.5 .33 .7 .34 -.4 .33 .3 .33 -.5 .34 .3 .33 -.3 .33 .1 .34 .3 .33 .3 .33 -.6 .34 .1 .33 -.4 .33 .2 .34 .3 .33 -.6 .33 .3 .34 -.2 .33 .4 .33 .2 .34 -.1 .33 -.2 .33 -.3 .34 -.1 .33 .5 .33 .5 .34 -.6 .33 .1 .33 -.1 .34 -.2 .33 .7 .33 -.1 .34 -.7 .33 .1 .33 .8 .34 -.7 .33 .3 .33 -.3 .34 .4 .33 -.3 .33 0 .34 -.1 .33 .9 .33 .2 .34 -.7 .33 .2 .33 -.1 .34 -.1 .33 -.1 .33 0 .34 .3 .33 -.6 .33 .1 .34 .5 .33 -.6 .33 .9 .34 -.6 .33 .2 .33 .4 .34 -.5 .33 .1 .33 -.2 .34 .3 .33 .1 .33 -.5 .34 .5 .33 .1 .33 -.1 .34 -.4 .33 .5 .33 .2 .34 -.6 .33 -.4 .33 .3 .34 .3 .33 .4 .33 0 .34 -.2 .33 -.4 .33 .4 .34 -.2 .33 -.3 .33 -.2 .34 .9 .33 -.9 .33 .9 .34 .4 .33 -.7 .33 -.3 .34 .1 .33 0 .33 .3 .34 .2 .33 -.5 .33 .1 .34 -.1 .33 .6 .33 0 .34 -.6 .33 .2 .33 .1 .34 -.6 .33 .4 .33 .2 .34 -.4 .33 .5 .33 -.1 .34 -.1 .33 .5 .33 -.7 .34 .5 .33 -.2 .33 .4 .34 -.6 .33 .5 .33 0 .34 .1 .33 .2 .33 -1 .34 .5 .33 -.3 .33 .6 .34 .2 .33 -.5 .33 .1 .34 .4 .33 -.4 .33 -.1 .34 -.4 .33 .3 .33 .5 .34 -.7 .33 .5 .33 .2 .34 -.3 .33 .3 .33 -.5 .34 .7 .33 -.6 .33 .5 .34 -.5 .33 .3 .33 -.2 .34 .6 .33 -.8 .33 .1 .34 .7 .33 -.2 .33 -.3 .34 0 .33 -.3 .33 .3 .34 .2 .33 .3 .33 -.1 .34 .1 .33 -.3 .33 -.3 .34 .1 .33 .6 .33 -.4 .34 .4 .33 -.9 .33 .3 .34 -.1 .33 .4 .33 -.4 .34 -.1 .33 .4 .33 -.7 .34 .5 .33 .3 .33 -.4 .34 .3 .33 -.2 .33 .1 .34 .2 .33 .1 .33 0 .34 -.4 .33 .8 .33 -.4 .34 -.3 .33 .6 .33 -.5 .34 .7 .33 -.3 .33 -.3 .34 -.1 .33 -.1 .33 0 .34 .2 .33 .5 .33 -.4 .34 0 .33 .1 .33 -.2 .34 -.3 .33 0 .33 .9 .34 -.5 .33 .6 .33 .1 .34 -.5 .33 .1 .33 -.3 .34 .1 .33 .1 .33 -.1 .34 .5 .33 -.5 .33 .3 .34 -.2 .33 .1 .33 .4 .34 -1 .33 .8 .33 -.5 .34 .2 .33 -.1 .33 0 .34 -.3 .33 -.4 .33 1.5 .34 -.4 .33 -.3 .33 -.5 .34 .8 .33 .3 .33 -.4 .34 -.7 .33 .4 .33 .3 .34 -.1 .33 .4 .33 -.7 .34 .1 .33 -.6 .33 1.2 .34 -.2 .33 -.3 .33 -.4 .34 .8 .33 -.7 .33 .1 .34 -.2 .33 .1 .33 .2 .34 0 .33 .7 .33 -.1 .34 -.2 .33 -.2 .33 .1 .34 -.4 .33 .6 .33 -.4 .34 .1 .33 .3 .33 -.4 .34 -.1 .33 .7 .33 -.8 .34 .1 .33 .1 .33 .1 .34 .2 .33 -1 .33 .9 .34 .6 .33 0 .33 -.1 .34 -.3" stroke="#ff0a0a" stroke-width="1.5" fill="none" stroke-linejoin="round"/>
<path d="M49.1 301.8l.33 1.1 .33 1.8 .34 .7 .33 -1.6 .33 4.4 .34 -.8 .33 2.6 .33 -7.4 .34 2.3 .33 3.9 .33 -.4 .34 -.5 .33 -1 .33 2.8 .34 -1.2 .33 3 .33 -.2 .34 0 .33 -3.6 .33 3.2 .34 2.2 .33 .4 .33 -.6 .34 0 .33 -2.3 .33 3.1 .34 .7 .33 -1.7 .33 .3 .34 -.6 .33 .6 .33 -.5 .34 1.1 .33 1.5 .33 -3.5 .34 1.2 .33 1.3 .33 0 .34 1.5 .33 -.4 .33 .4 .34 -1.3 .33 1.3 .33 -1.8 .34 .2 .33 1.7 .33 -.5 .34 -1 .33 1.9 .33 .6 .34 -.6 .33 .6 .33 -.3 .34 .1 .33 -1.6 .33 -.9 .34 1.5 .33 -2.6 .33 2.6 .34 -.4 .33 1.1 .33 -.6 .34 .7 .33 -.7 .33 .6 .34 1.6 .33 -2.1 .33 -.6 .34 2.7 .33 -.4 .33 -.7 .34 -.2 .33 .6 .33 -.5 .34 1.1 .33 -.9 .33 -.2 .34 .9 .33 -.9 .33 1 .34 -1.2 .33 .5 .33 .6 .34 -.6 .33 1.2 .33 -.7 .34 .2 .33 -1.5 .33 1.8 .34 -.2 .33 -1.4 .33 1.5 .34 .1 .33 -.7 .33 -.2 .34 -.1 .33 .9 .33 .1 .34 -.2 .33 1.5 .33 -1.3 .34 .1 .33 -1 .33 1.2 .34 .4 .33 -1.1 .33 1.8 .34 -1.6 .33 .5 .33 -.3 .34 0 .33 -1.4 .33 2.2 .34 -1.7 .33 1.9 .33 -1.3 .34 .4 .33 1.7 .33 -1.9 .34 .4 .33 -.5 .33 .6 .34 .3 .33 .6 .33 -2.2 .34 1.4 .33 .4 .33 .1 .34 -.8 .33 .4 .33 1 .34 -.8 .33 .9 .33 -1.7 .34 .3 .33 .4 .33 -.5 .34 .8 .33 -.8 .33 .7 .34 -.9 .33 .3 .33 .6 .34 .2 .33 -.8 .33 -.2 .34 1 .33 -.7 .33 .6 .34 .5 .33 -.3 .33 -1 .34 1.3 .33 -.1 .33 -.8 .34 .1 .33 .9 .33 -.5 .34 .1 .33 .3 .33 -.3 .34 1 .33 -.6 .33 -.5 .34 0 .33 -.2 .33 .7 .34 -1.1 .33 1 .33 -.7 .34 -.5 .33 1.2 .33 -.2 .34 -.1 .33 -.2 .33 .1 .34 -.2 .33 .2 .33 .6 .34 -.5 .33 0 .33 .1 .34 .3 .33 -.3 .33 -.3 .34 .1 .33 .3 .33 -.2 .34 -.1 .33 .7 .33 -.3 .34 .2 .33 -.8 .33 .7 .34 -.3 .33 -.1 .33 -.1 .34 0 .33 .1 .33 .2 .34 -.1 .33 .9 .33 -.6 .34 -.1 .33 -.1 .33 -.3 .34 0 .33 .5 .33 -.7 .34 1.2 .33 -.1 .33 -1.1 .34 1 .33 0 .33 0 .34 -.1 .33 .3 .33 -.9 .34 .1 .33 .5 .33 -.2 .34 -.6 .33 .9 .33 0 .34 -.4 .33 .2 .33 .2 .34 -1.1 .33 .6 .33 -.1 .34 .3 .33 -.4 .33 0 .34 .5 .33 .6 .33 -1.1 .34 1 .33 -.2 .33 0 .34 .2 .33 -.7 .33 .6 .34 -.9 .33 .2 .33 .4 .34 .2 .33 -.7 .33 -.2 .34 .8 .33 0 .33 .1 .34 -.2 .33 -.5 .33 .9 .34 -.1 .33 -.2 .33 .7 .34 -.7 .33 .5 .33 -.6 .34 -1 .33 .7 .33 -.6 .34 .9 .33 .5 .33 -1 .34 .8 .33 -.3 .33 .4 .34 -.1 .33 -.5 .33 .5 .34 -.2 .33 .4 .33 .3 .34 -.7 .33 .6 .33 -.5 .34 .2 .33 -.1 .33 -.3 .34 .3 .33 -.2 .33 .3 .34 -.5 .33 0 .33 .7 .34 -.2 .33 .1 .33 0 .34 .1 .33 -.1 .33 .1 .34 -.6 .33 .5 .33 -.4 .34 -.2 .33 .4 .33 .3 .34 -.2 .33 .6 .33 -.4 .34 -.1 .33 -.1 .33 -.5 .34 .5 .33 0 .33 .6 .34 -.8 .33 .2 .33 -.2 .34 .3 .33 -.6 .33 .7 .34 -.1 .33 0 .33 .9 .34 -1 .33 .3 .33 -.2 .34 .4 .33 .4 .33 -.2 .34 -.4 .33 -.6 .33 .6 .34 -.7 .33 .3 .33 .1 .34 -.2 .33 .4 .33 -.1 .34 -.1 .33 .3 .33 -.3 .34 .7 .33 -.3 .33 -.3 .34 .3 .33 -.4 .33 .1 .34 .5 .33 -.8 .33 .6 .34 .5 .33 -1.3 .33 1.5 .34 -1.4 .33 -.1 .33 0 .34 .4 .33 .2 .33 -.5 .34 .6 .33 .3 .33 -.5 .34 .3 .33 .2 .33 .4 .34 -.6 .33 .2 .33 0 .34 -.2 .33 -.1 .33 .3 .34 .1 .33 -.7 .33 .3 .34 .3 .33 0 .33 0 .34 .4 .33 -.2 .33 -.7 .34 .9 .33 -.7 .33 0 .34 .6 .33 -.5 .33 -.4 .34 .8 .33 -.1 .33 .1 .34 -.7 .33 .8 .33 -.5 .34 .5 .33 -.7 .33 .1 .34 -.3 .33 .4 .33 .6 .34 -.3 .33 -.2 .33 .6 .34 -.4 .33 .2 .33 -.1 .34 -.1 .33 0 .33 .2 .34 .2 .33 -.2 .33 .1 .34 -.6 .33 -.3 .33 .8 .34 -.1 .33 .1 .33 -.5 .34 .4 .33 -.4 .33 .4 .34 0 .33 0 .33 .1 .34 -.2 .33 .1 .33 .3 .34 .3 .33 -.4 .33 .1 .34 0 .33 .3 .33 .2 .34 -.9 .33 .4 .33 -.1 .34 .4 .33 -1.3 .33 .6 .34 -.3 .33 1 .33 -.3 .34 .1 .33 -.1 .33 0 .34 0 .33 -.2 .33 -.6 .34 .8 .33 -.1 .33 -.7 .34 .5 .33 .7 .33 -.7 .34 -.1 .33 .6 .33 .3 .34 -.9 .33 .1 .33 0 .34 .4 .33 .1 .33 .3 .34 -.5 .33 0 .33 -.2 .34 .6 .33 -.5 .33 -.1 .34 .2 .33 .1 .33 .1 .34 -.3 .33 .8 .33 0 .34 -1 .33 .5 .33 -.4 .34 .2 .33 -.3 .33 .4 .34 .1 .33 0 .33 -.5 .34 -.2 .33 .1 .33 1 .34 -.5 .33 .1 .33 .5 .34 -.8 .33 .5 .33 -.4 .34 .3 .33 -.7 .33 .5 .34 .1 .33 .1 .33 -.5 .34 .4 .33 .4 .33 -.3 .34 .3 .33 -.1 .33 -.1 .34 -.2 .33 .2 .33 -.3 .34 .5 .33 -.1 .33 .3 .34 .3 .33 -.4 .33 -.1 .34 -.1 .33 .2 .33 .2 .34 -.6 .33 -.3 .33 0 .34 .8 .33 -.2 .33 0 .34 -.7 .33 .4 .33 -.3 .34 .1 .33 .2 .33 0 .34 .7 .33 -.9 .33 .2 .34 0 .33 .3 .33 .2 .34 -.5 .33 -.3 .33 .4 .34 .3 .33 -.5 .33 .7 .34 -.6 .33 .1 .33 .1 .34 .8 .33 -.4 .33 -.1 .34 -.5 .33 0 .33 .1 .34 .8 .33 -.1 .33 -.4 .34 -.2 .33 -.7 .33 .8 .34 .3 .33 0 .33 0 .34 -.4 .33 .4 .33 -.2 .34 .4 .33 -.2 .33 .1 .34 -.1 .33 -.3 .33 .6 .34 -.7" stroke="#0a0aff" stroke-width="1.5" fill="none" stroke-linejoin="round"/>
<path d="M85.4 318.1V301.1M193.3 321.0V315.2" stroke="#0a0aff" stroke-width="1" fill="none"/>
<path d="M49.1 287.3l.33 -.2 .33 -.8 .34 4.4 .33 -1.7 .33 .8 .34 1.3 .33 -3.1 .33 3.2 .34 -.8 .33 .4 .33 -2.5 .34 1.4 .33 1.5 .33 .2 .34 2.5 .33 -2.5 .33 -3.7 .34 4.3 .33 -1.1 .33 1.6 .34 .8 .33 -.2 .33 2.1 .34 -2.1 .33 -.2 .33 1.3 .34 -.5 .33 3.9 .33 -1.8 .34 -.9 .33 -.4 .33 -.4 .34 1.3 .33 -2.7 .33 2.7 .34 0 .33 2.4 .33 -3.5 .34 3.1 .33 -1.2 .33 1.3 .34 -1.5 .33 1.3 .33 .6 .34 1.8 .33 -3.2 .33 .8 .34 .1 .33 -.3 .33 .5 .34 .3 .33 -.3 .33 -1.2 .34 2 .33 -1.5 .33 1.4 .34 1 .33 -1.9 .33 1.1 .34 .4 .33 -.2 .33 -.3 .34 .5 .33 .7 .33 -1.4 .34 .8 .33 .8 .33 -1 .34 -.4 .33 1.6 .33 0 .34 .3 .33 -.7 .33 -.4 .34 1.7 .33 -.2 .33 -.3 .34 -.9 .33 .5 .33 -.6 .34 -.1 .33 .9 .33 .2 .34 .2 .33 -.3 .33 1.4 .34 -2 .33 1.6 .33 -1.1 .34 .9 .33 -1.2 .33 2.1 .34 -.5 .33 -1.9 .33 1.9 .34 -.7 .33 .5 .33 -.5 .34 -.1 .33 -.7 .33 .6 .34 .1 .33 -.8 .33 .5 .34 .6 .33 .3 .33 -.5 .34 1.1 .33 -1.1 .33 .7 .34 .4 .33 -1.1 .33 1.1 .34 -.7 .33 -.4 .33 1.4 .34 0 .33 -1 .33 .8 .34 -.1 .33 -.5 .33 1.2 .34 -1.2 .33 -.3 .33 .4 .34 0 .33 -.2 .33 .1 .34 -.5 .33 1 .33 -.9 .34 1.2 .33 -.2 .33 -.5 .34 0 .33 -.1 .33 .3 .34 .9 .33 -.7 .33 -.3 .34 1 .33 -1 .33 .1 .34 1.1 .33 -.6 .33 .2 .34 -.2 .33 -.1 .33 .1 .34 .1 .33 .6 .33 -1.5 .34 -.5 .33 1 .33 -.6 .34 .8 .33 -.7 .33 .7 .34 .4 .33 -.7 .33 0 .34 .6 .33 -.6 .33 .3 .34 0 .33 -.5 .33 .9 .34 -.8 .33 .8 .33 -.2 .34 -.6 .33 .4 .33 .5 .34 -.5 .33 1 .33 -1.3 .34 .9 .33 -1.1 .33 .6 .34 .5 .33 -1.2 .33 .9 .34 -.5 .33 -.1 .33 .2 .34 .1 .33 0 .33 0 .34 -.1 .33 -.6 .33 1.5 .34 .3 .33 -.6 .33 -.3 .34 -.3 .33 .5 .33 0 .34 -.4 .33 .3 .33 .3 .34 -.1 .33 -.1 .33 0 .34 -.3 .33 .3 .33 0 .34 -.3 .33 .3 .33 .4 .34 0 .33 -1.2 .33 .3 .34 .9 .33 -.2 .33 0 .34 -.6 .33 .5 .33 .2 .34 0 .33 -.4 .33 0 .34 .3 .33 -.4 .33 .8 .34 -1.3 .33 .7 .33 .6 .34 -.8 .33 .4 .33 .5 .34 -.9 .33 .5 .33 .6 .34 -1.1 .33 -.3 .33 1.1 .34 -.5 .33 .1 .33 .1 .34 .4 .33 -.5 .33 .4 .34 0 .33 -.3 .33 .4 .34 -.3 .33 -.1 .33 1.1 .34 -1.8 .33 .3 .33 .1 .34 .2 .33 .2 .33 -.1 .34 .9 .33 -1 .33 -.2 .34 .4 .33 -.1 .33 -.1 .34 .5 .33 -.2 .33 .3 .34 -.7 .33 .6 .33 -.2 .34 -.2 .33 -.4 .33 .5 .34 -.3 .33 .6 .33 0 .34 0 .33 .7 .33 -.5 .34 -1.1 .33 .9 .33 -.1 .34 0 .33 -.2 .33 .5 .34 -1.3 .33 .5 .33 .7 .34 -.1 .33 .2 .33 -.4 .34 -.1 .33 .5 .33 -.2 .34 -.6 .33 .8 .33 -.6 .34 .6 .33 -.2 .33 .2 .34 .1 .33 -.7 .33 .6 .34 -.2 .33 -.1 .33 .1 .34 -.2 .33 .2 .33 .1 .34 -.3 .33 .6 .33 -.3 .34 -.4 .33 .5 .33 0 .34 -.6 .33 .6 .33 -.2 .34 .2 .33 -1.1 .33 1.1 .34 0 .33 -.8 .33 .8 .34 .1 .33 .1 .33 .2 .34 -.3 .33 .3 .33 -.1 .34 -.5 .33 0 .33 .6 .34 -.2 .33 -.8 .33 .3 .34 .7 .33 -.3 .33 -.6 .34 .7 .33 .2 .33 -.1 .34 -.3 .33 0 .33 -.1 .34 0 .33 .3 .33 .7 .34 0 .33 -.8 .33 -.5 .34 .5 .33 -.1 .33 .1 .34 -.5 .33 .5 .33 -.2 .34 .3 .33 -.5 .33 .5 .34 -.4 .33 .1 .33 .1 .34 0 .33 0 .33 0 .34 0 .33 0 .33 .1 .34 0 .33 .8 .33 -.3 .34 -.5 .33 -.3 .33 .8 .34 -.3 .33 .1 .33 .3 .34 -1 .33 .4 .33 .3 .34 .4 .33 -.5 .33 .1 .34 -.1 .33 0 .33 .1 .34 -.2 .33 -.1 .33 .2 .34 .3 .33 .2 .33 -.4 .34 -.1 .33 .5 .33 -.2 .34 .1 .33 -.3 .33 -.1 .34 .3 .33 -.2 .33 .4 .34 -.6 .33 .4 .33 -.1 .34 -.3 .33 .2 .33 -.2 .34 .2 .33 0 .33 1 .34 -1.2 .33 .5 .33 -.3 .34 .3 .33 -.2 .33 -.2 .34 .7 .33 -.1 .33 -.9 .34 .6 .33 -.1 .33 -.4 .34 .6 .33 .1 .33 -.2 .34 .2 .33 .4 .33 -.7 .34 .6 .33 .3 .33 -1.6 .34 .8 .33 .5 .33 -.6 .34 0 .33 .7 .33 -.2 .34 -.8 .33 .8 .33 -.3 .34 .1 .33 -.4 .33 .5 .34 -.1 .33 -.3 .33 .2 .34 .5 .33 .1 .33 -1 .34 .7 .33 -.3 .33 0 .34 .2 .33 .4 .33 -.3 .34 -.5 .33 .4 .33 .1 .34 .2 .33 -.3 .33 0 .34 .1 .33 .1 .33 -.8 .34 1.1 .33 -.4 .33 -.1 .34 -.3 .33 .4 .33 .6 .34 -.8 .33 -.4 .33 .7 .34 -.1 .33 0 .33 -.5 .34 .6 .33 .1 .33 -1.6 .34 1.5 .33 .6 .33 -1 .34 -.3 .33 .7 .33 .6 .34 -.5 .33 .6 .33 -.6 .34 -.2 .33 -.2 .33 .7 .34 -.8 .33 .2 .33 .1 .34 .2 .33 -.1 .33 -.4 .34 .1 .33 .9 .33 -.5 .34 0 .33 -.1 .33 .2 .34 -.4 .33 .6 .33 0 .34 -.3 .33 .3 .33 -.3 .34 -.1 .33 .2 .33 -.1 .34 -.2 .33 .8 .33 -.6 .34 .2 .33 .4 .33 -.9 .34 .3 .33 .4 .33 -.4 .34 0 .33 .1 .33 -.1 .34 0 .33 .3 .33 -.1 .34 .5 .33 -.4 .33 .4 .34 -.5 .33 .5 .33 -.6 .34 .5 .33 -.4 .33 .5 .34 -.7 .33 .1 .33 .3 .34 -.2 .33 .5 .33 -.5 .34 .2 .33 .2 .33 -.1 .34 -.5 .33 -.1 .33 -.1 .34 .2 .33 .1 .33 0 .34 .4 .33 -.6 .33 -.1 .34 .6 .33 .5 .33 -.8 .34 .2 .33 0 .33 .4 .34 -.1 .33 -.4 .33 .5 .34 -.3" stroke="#ff10ff" stroke-width="1.5" fill="none" stroke-linejoin="round"/>
<path d="M85.4 301.1V284.2M193.3 304.1V297.5" stroke="#ff10ff" stroke-width="1" fill="none"/>
<path d="M49.1 270.4l.33 -2.1 .33 3.3 .34 .8 .33 -.4 .33 .2 .34 -.7 .33 1.3 .33 -1.2 .34 -2.8 .33 2.9 .33 3.7 .34 -.4 .33 -2.9 .33 1.5 .34 -.5 .33 -.4 .33 1.5 .34 1.9 .33 -.8 .33 -.2 .34 -2.4 .33 6.1 .33 -4.3 .34 1.8 .33 1.3 .33 -.7 .34 1.1 .33 -3.8 .33 2 .34 .4 .33 -.6 .33 -.1 .34 3.1 .33 -2.4 .33 3 .34 -.1 .33 -1.3 .33 -1 .34 1.1 .33 0 .33 .2 .34 0 .33 1.1 .33 -.3 .34 .4 .33 .2 .33 1.4 .34 .9 .33 -1.9 .33 0 .34 0 .33 1.2 .33 -.1 .34 -.5 .33 -.1 .33 .8 .34 .5 .33 -1.3 .33 .9 .34 -1.9 .33 1.1 .33 1.1 .34 -1.7 .33 .2 .33 1.6 .34 -1.8 .33 1.5 .33 2 .34 -1.3 .33 1.2 .33 -.1 .34 -1.8 .33 .5 .33 .5 .34 .7 .33 .3 .33 -.5 .34 -.2 .33 -1 .33 1.6 .34 -1.1 .33 1.2 .33 .3 .34 -2 .33 2.5 .33 -1.5 .34 1 .33 -.1 .33 .7 .34 -.4 .33 .3 .33 -.5 .34 -1 .33 .4 .33 .6 .34 .3 .33 -.5 .33 -.5 .34 -.3 .33 .9 .33 1.8 .34 -1.9 .33 -.2 .33 .7 .34 .1 .33 -.3 .33 -1.2 .34 .8 .33 0 .33 .8 .34 -.7 .33 .3 .33 -.5 .34 .4 .33 1.6 .33 -.8 .34 -.2 .33 -.7 .33 -.2 .34 1.3 .33 -.5 .33 .3 .34 -.1 .33 -.1 .33 -1.4 .34 1.9 .33 .4 .33 -.8 .34 -.1 .33 .2 .33 -.2 .34 -.8 .33 .8 .33 .2 .34 .5 .33 -1 .33 .4 .34 .2 .33 .2 .33 .7 .34 -.6 .33 0 .33 -.8 .34 1.3 .33 -1.6 .33 1.5 .34 -.2 .33 -.3 .33 -.6 .34 .8 .33 -.5 .33 .9 .34 -1.9 .33 1.4 .33 -1.3 .34 1.3 .33 -.2 .33 .5 .34 -.8 .33 .1 .33 -.6 .34 .8 .33 .3 .33 -.2 .34 -.3 .33 .4 .33 .3 .34 -.1 .33 -1.1 .33 .8 .34 -.2 .33 -.7 .33 1.4 .34 -.1 .33 -.6 .33 .7 .34 -.1 .33 -.3 .33 .3 .34 -.2 .33 -.2 .33 .8 .34 -1.1 .33 1.4 .33 -.6 .34 -.3 .33 .4 .33 -.6 .34 .2 .33 1 .33 -.6 .34 -.2 .33 0 .33 .4 .34 0 .33 -.5 .33 .6 .34 -.4 .33 0 .33 .3 .34 -.6 .33 -.3 .33 .6 .34 .4 .33 -.5 .33 .5 .34 .1 .33 -.6 .33 .2 .34 -.1 .33 .3 .33 0 .34 -.1 .33 .4 .33 -.3 .34 -.1 .33 -.3 .33 .3 .34 .4 .33 -.2 .33 -.2 .34 -.1 .33 -.3 .33 .1 .34 .7 .33 -.4 .33 0 .34 .5 .33 -.6 .33 -.1 .34 .7 .33 -.2 .33 -.8 .34 .5 .33 -.2 .33 .1 .34 .1 .33 -.5 .33 .3 .34 .9 .33 -.7 .33 -.1 .34 .5 .33 -.8 .33 .4 .34 .6 .33 -.5 .33 .2 .34 -.2 .33 .2 .33 .1 .34 -.3 .33 .1 .33 .1 .34 -.8 .33 1 .33 .3 .34 -.3 .33 -.2 .33 -.2 .34 .2 .33 .6 .33 -.2 .34 -.7 .33 .8 .33 -.8 .34 0 .33 .2 .33 .3 .34 -.3 .33 .4 .33 -.2 .34 .4 .33 -1 .33 .5 .34 .2 .33 .3 .33 -1.2 .34 .6 .33 -.5 .33 .8 .34 -.3 .33 .3 .33 .2 .34 -.1 .33 -.3 .33 .3 .34 .8 .33 -1.2 .33 .4 .34 -.4 .33 .5 .33 -.6 .34 .5 .33 -.7 .33 .6 .34 .8 .33 -1.3 .33 .2 .34 .5 .33 -.6 .33 -.4 .34 .2 .33 .6 .33 .3 .34 -.3 .33 0 .33 .3 .34 -.3 .33 .4 .33 .1 .34 -.6 .33 .5 .33 -.2 .34 -.2 .33 0 .33 .4 .34 -.8 .33 -.1 .33 .9 .34 .3 .33 -.6 .33 .3 .34 -.9 .33 .1 .33 .3 .34 .1 .33 .1 .33 -.2 .34 .2 .33 -.1 .33 .3 .34 .2 .33 -.1 .33 .1 .34 -.4 .33 -.1 .33 -.5 .34 .1 .33 .8 .33 -.1 .34 -.1 .33 -.2 .33 -.2 .34 -.4 .33 .6 .33 .1 .34 -.8 .33 1.3 .33 -.6 .34 .3 .33 .3 .33 .1 .34 -.6 .33 .4 .33 0 .34 -.3 .33 .1 .33 -.4 .34 .4 .33 -.3 .33 .2 .34 .1 .33 .3 .33 -.4 .34 0 .33 -.1 .33 1.1 .34 -1.1 .33 .3 .33 -.6 .34 .5 .33 -.4 .33 .2 .34 .5 .33 .3 .33 -.5 .34 .1 .33 -.1 .33 -.2 .34 .2 .33 .3 .33 -.3 .34 -.2 .33 0 .33 .3 .34 -.2 .33 .4 .33 -.8 .34 .7 .33 -.5 .33 .3 .34 .7 .33 -.4 .33 -.5 .34 .1 .33 .4 .33 0 .34 -.3 .33 .3 .33 -.4 .34 -.8 .33 1.3 .33 -.5 .34 .4 .33 -.3 .33 0 .34 -.2 .33 .5 .33 .1 .34 .1 .33 -.2 .33 -.1 .34 -.3 .33 .2 .33 .2 .34 -1 .33 .4 .33 .4 .34 .3 .33 .2 .33 .1 .34 -.8 .33 .3 .33 -.2 .34 -.1 .33 .2 .33 .1 .34 .2 .33 -.7 .33 .4 .34 -.2 .33 .8 .33 .1 .34 -.7 .33 -.1 .33 .4 .34 .1 .33 -.6 .33 .2 .34 .2 .33 -.4 .33 .8 .34 -.4 .33 0 .33 -.4 .34 .8 .33 -.9 .33 .2 .34 .1 .33 .1 .33 -.4 .34 .2 .33 .5 .33 -.2 .34 0 .33 .3 .33 -.1 .34 .1 .33 -.3 .33 -.3 .34 .9 .33 -1.1 .33 .1 .34 .1 .33 1.1 .33 -.7 .34 .3 .33 -.8 .33 .1 .34 .5 .33 -.3 .33 .2 .34 .2 .33 -.2 .33 0 .34 .1 .33 -.2 .33 .2 .34 .2 .33 -.6 .33 .4 .34 .2 .33 -.3 .33 0 .34 .7 .33 -.3 .33 .4 .34 -.1 .33 -.7 .33 -.1 .34 .1 .33 .4 .33 -1.4 .34 1.1 .33 .4 .33 -.4 .34 .1 .33 -.2 .33 -.4 .34 .8 .33 -.4 .33 .3 .34 -.1 .33 .6 .33 -.5 .34 0 .33 -.2 .33 -.2 .34 .4 .33 .2 .33 -.3 .34 -.7 .33 .4 .33 .9 .34 -.8 .33 .3 .33 -.7 .34 .4 .33 0 .33 .5 .34 -.1 .33 0 .33 .2 .34 -.5 .33 .7 .33 -.6 .34 .4 .33 .4 .33 -.9 .34 .3 .33 -.2 .33 .1 .34 .1 .33 -.1 .33 0 .34 .2 .33 -.6 .33 .2 .34 .1 .33 -.3 .33 .5 .34 -.2 .33 -.1 .33 -.2 .34 -.3 .33 .9 .33 -.5 .34 .7 .33 -.1 .33 -.1 .34 -.7 .33 .3 .33 .6 .34 -.4 .33 -.1 .33 0 .34 .3 .33 -.7 .33 1 .34 -.3" stroke="#108810" stroke-width="1.5" fill="none" stroke-linejoin="round"/>
<path d="M85.4 284.2V267.6M193.3 287.0V280.1" stroke="#108810" stroke-width="1" fill="none"/>
<path d="M49.1 249.3l.33 .6 .33 4.8 .34 -3 .33 1.8 .33 -3.3 .34 2.9 .33 2.1 .33 2.2 .34 1.7 .33 -3.7 .33 3.4 .34 -1.8 .33 0 .33 .3 .34 .3 .33 -1.5 .33 2.3 .34 -1.2 .33 2.3 .33 3.5 .34 -5.2 .33 4.2 .33 -3.4 .34 1.3 .33 1.9 .33 -.4 .34 1 .33 .4 .33 -1.8 .34 -.1 .33 1.6 .33 0 .34 1.6 .33 -4.3 .33 3.8 .34 -.4 .33 -.8 .33 -.4 .34 .2 .33 .2 .33 2.7 .34 -1.6 .33 -.2 .33 .5 .34 .7 .33 .3 .33 -.7 .34 -.1 .33 -.4 .33 .8 .34 0 .33 -.3 .33 .4 .34 1.5 .33 -.3 .33 -.4 .34 .9 .33 -.9 .33 1 .34 -.9 .33 1.3 .33 -.7 .34 -.6 .33 -.7 .33 1.2 .34 .1 .33 -1 .33 .8 .34 -.2 .33 .7 .33 -1.1 .34 1 .33 1.6 .33 -.7 .34 -.7 .33 1.2 .33 -1.4 .34 1 .33 -.4 .33 -.5 .34 .7 .33 1.4 .33 -2.2 .34 0 .33 1.8 .33 -1.5 .34 .4 .33 -.2 .33 -.2 .34 .9 .33 -1 .33 0 .34 .6 .33 -1.5 .33 2.7 .34 -1 .33 .7 .33 1 .34 -1.3 .33 .3 .33 -.6 .34 -.8 .33 1.4 .33 -1.1 .34 1 .33 -.8 .33 -.1 .34 .6 .33 -.6 .33 .8 .34 -.2 .33 0 .33 1.1 .34 -.4 .33 -.6 .33 .6 .34 -.2 .33 -.4 .33 -.5 .34 .3 .33 1.5 .33 -1 .34 .3 .33 .6 .33 -1.3 .34 1 .33 -1.6 .33 .5 .34 -.5 .33 1.1 .33 0 .34 -.4 .33 .1 .33 1.8 .34 -1.2 .33 0 .33 -.7 .34 .1 .33 .5 .33 -.2 .34 .1 .33 -.1 .33 -.7 .34 1 .33 0 .33 .2 .34 0 .33 .6 .33 -1.1 .34 .3 .33 .6 .33 -.8 .34 .7 .33 -.7 .33 0 .34 -.3 .33 .4 .33 1 .34 -.1 .33 -.7 .33 .2 .34 .3 .33 -1 .33 .3 .34 .1 .33 -.7 .33 .5 .34 0 .33 .2 .33 0 .34 -.8 .33 1.1 .33 -.4 .34 .4 .33 .1 .33 -.3 .34 .8 .33 -1.4 .33 .7 .34 0 .33 .6 .33 -.6 .34 .2 .33 -.1 .33 .7 .34 -.9 .33 -.2 .33 .1 .34 .4 .33 .4 .33 -1.5 .34 .5 .33 1 .33 -.7 .34 -.1 .33 .4 .33 -.4 .34 -.1 .33 .5 .33 -.4 .34 1 .33 -1.6 .33 1.1 .34 -.4 .33 .9 .33 -1 .34 .6 .33 .4 .33 -.4 .34 -.4 .33 .1 .33 .2 .34 .5 .33 -.5 .33 .1 .34 -.6 .33 .5 .33 .4 .34 -.6 .33 0 .33 0 .34 .6 .33 -.2 .33 -.1 .34 -.4 .33 -.4 .33 1.1 .34 -.3 .33 .2 .33 -.1 .34 -.4 .33 -.2 .33 .8 .34 -1.1 .33 -.1 .33 1.4 .34 -.8 .33 .3 .33 .3 .34 .4 .33 -1.1 .33 .3 .34 .4 .33 -.3 .33 -.3 .34 .6 .33 -.9 .33 1 .34 -.4 .33 0 .33 -.2 .34 .1 .33 .5 .33 -.3 .34 .3 .33 -.1 .33 -.4 .34 .1 .33 .1 .33 -.2 .34 .7 .33 -.9 .33 1 .34 -.8 .33 -.1 .33 .3 .34 -.4 .33 1 .33 0 .34 -.1 .33 .1 .33 -.1 .34 -1.1 .33 .9 .33 -.5 .34 .5 .33 -.3 .33 -.1 .34 -.1 .33 .5 .33 .2 .34 -.8 .33 .5 .33 .1 .34 -.2 .33 -.1 .33 .5 .34 .1 .33 -.2 .33 0 .34 0 .33 -.5 .33 .2 .34 .1 .33 -.3 .33 .5 .34 .4 .33 .1 .33 -.8 .34 -.1 .33 -.1 .33 .5 .34 -.2 .33 .4 .33 -.7 .34 .4 .33 -.3 .33 .3 .34 -.1 .33 -.6 .33 .9 .34 -.2 .33 0 .33 -.1 .34 -.2 .33 .3 .33 .2 .34 .3 .33 -.4 .33 -.3 .34 .6 .33 -.5 .33 0 .34 .1 .33 .2 .33 -.6 .34 .5 .33 -.1 .33 -.1 .34 .7 .33 -1.1 .33 .5 .34 .1 .33 0 .33 .5 .34 -1.2 .33 .6 .33 -.2 .34 -.2 .33 .3 .33 .3 .34 -.2 .33 .7 .33 -1.1 .34 .6 .33 0 .33 0 .34 .2 .33 -.3 .33 .9 .34 -.9 .33 -.1 .33 -.1 .34 .1 .33 .4 .33 -.4 .34 .4 .33 -.3 .33 .1 .34 .4 .33 -.7 .33 .3 .34 .3 .33 -.1 .33 0 .34 .3 .33 -.6 .33 .2 .34 .5 .33 -.9 .33 .6 .34 0 .33 -.1 .33 0 .34 -.4 .33 .4 .33 -.1 .34 .2 .33 -.1 .33 .5 .34 -.2 .33 .3 .33 -.3 .34 -.2 .33 .1 .33 .2 .34 -.7 .33 -.2 .33 0 .34 .7 .33 -.3 .33 0 .34 .2 .33 .2 .33 -.4 .34 -.1 .33 .1 .33 .4 .34 -.3 .33 .2 .33 .2 .34 -.4 .33 -.2 .33 -.1 .34 .2 .33 -.1 .33 .3 .34 -.4 .33 .4 .33 -.1 .34 .4 .33 -.6 .33 .3 .34 .2 .33 -.7 .33 .6 .34 -.2 .33 -.2 .33 -.1 .34 .5 .33 -.2 .33 0 .34 .4 .33 -1.2 .33 1.2 .34 .5 .33 -.7 .33 -.1 .34 .1 .33 .3 .33 .5 .34 -1.1 .33 -.6 .33 1 .34 -.1 .33 0 .33 0 .34 -.7 .33 .8 .33 -.3 .34 .3 .33 -.2 .33 -.1 .34 -.3 .33 1 .33 -.5 .34 .2 .33 .4 .33 -.4 .34 0 .33 -.8 .33 1.1 .34 -.1 .33 -.6 .33 -.2 .34 .6 .33 -.1 .33 .5 .34 -.9 .33 .4 .33 .3 .34 -.1 .33 -.5 .33 -.1 .34 .3 .33 .8 .33 -.9 .34 .1 .33 .5 .33 -.2 .34 -.7 .33 .4 .33 0 .34 .5 .33 -.3 .33 0 .34 -.3 .33 .1 .33 0 .34 .1 .33 -.1 .33 .2 .34 0 .33 .4 .33 .2 .34 -.6 .33 .6 .33 -.4 .34 -.8 .33 .8 .33 -.5 .34 .8 .33 -.5 .33 .6 .34 0 .33 -.6 .33 -.2 .34 .7 .33 -.6 .33 .2 .34 -1.1 .33 1.1 .33 .3 .34 .4 .33 -.5 .33 .1 .34 -.4 .33 -.6 .33 .9 .34 -.1 .33 .2 .33 -.2 .34 -.2 .33 0 .33 .3 .34 -.3 .33 -.2 .33 .5 .34 0 .33 .1 .33 -.3 .34 .1 .33 -.2 .33 .2 .34 .4 .33 .2 .33 -.6 .34 .2 .33 -.3 .33 -.2 .34 .2 .33 .2 .33 -.1 .34 -.1 .33 .3 .33 .3 .34 -.5 .33 .3 .33 0 .34 .2 .33 -.1 .33 .1 .34 -.3 .33 -.4 .33 .1 .34 .2 .33 -.2 .33 .1 .34 .2 .33 0 .33 -.1 .34 .2 .33 .5 .33 -.9 .34 .2 .33 -.2 .33 .7 .34 -.1 .33 -.6 .33 .5 .34 -.5" stroke="#161690" stroke-width="1.5" fill="none" stroke-linejoin="round"/>
<path d="M85.4 267.6V244.4M193.3 269.9V262.0" stroke="#161690" stroke-width="1" fill="none"/>
<path d="M85.4 226.8V229.0" stroke="#161690" stroke-width="0.8" stroke-opacity="0.45" fill="none"/>
</g>
<rect x="49.1" y="226.8" width="187.3" height="136.1" fill="none" stroke="#858585" stroke-width="1.3"/>
<path d="M49.1 362.9v-3.6M64.7 362.9v-2.6M80.3 362.9v-3.6M95.9 362.9v-2.6M111.5 362.9v-3.6M127.1 362.9v-2.6M142.8 362.9v-3.6M158.4 362.9v-2.6M174.0 362.9v-3.6M189.6 362.9v-2.6M205.2 362.9v-3.6M220.8 362.9v-2.6M236.4 362.9v-3.6" stroke="#858585" stroke-width="1.1"/>
<text x="49.1" y="375.0" class="tk">20</text>
<text x="80.3" y="375.0" class="tk">30</text>
<text x="111.5" y="375.0" class="tk">40</text>
<text x="142.8" y="375.0" class="tk">50</text>
<text x="174.0" y="375.0" class="tk">60</text>
<text x="205.2" y="375.0" class="tk">70</text>
<text x="236.4" y="375.0" class="tk">80</text>
<text x="143.2" y="389.2" class="xl">Two-theta (deg.)</text>
<text transform="translate(35.9 294.9) rotate(-90)" class="yl">Intensity (a.u.)</text>
<text x="204.4" y="266.9" class="lb">15 min</text>
<text x="204.8" y="284.1" class="lb">10 min</text>
<text x="206.0" y="301.6" class="lb">5 min</text>
<text x="206.0" y="318.3" class="lb">3 min</text>
<text x="205.6" y="335.5" class="lb">0 min</text>
<text x="205.3" y="352.4" class="lb">Control</text>
<text x="85.4" y="236.4" class="an">(200)</text>
<path d="M83.2 239.3L87.6 239.3L85.4 246.6Z" fill="#111"/>
<text x="193.3" y="250.6" class="an">(200)</text>
<path d="M191.1 253.5L195.5 253.5L193.3 260.8Z" fill="#111"/>
<text x="48.6" y="224.6" class="tt">I60S5</text>
<text x="25.6" y="217.9" class="rm">i</text>
<text x="5.8" y="209.0" class="lt">b</text>
<g clip-path="url(#c3)">
<path d="M267.4 333.8l.33 -.4 .33 2.2 .34 1.4 .33 -.9 .33 1 .34 1.8 .33 -.1 .33 -.9 .34 -.9 .33 2.1 .33 2.2 .34 -3.8 .33 5.2 .33 -1.7 .34 2.2 .33 -2.8 .33 .1 .34 -.4 .33 2.5 .33 .1 .34 -.2 .33 .7 .33 .7 .34 -1.4 .33 2.5 .33 -3 .34 1.7 .33 1.2 .33 -.5 .34 .7 .33 -1.8 .33 1.7 .34 .5 .33 -1.4 .33 2.5 .34 -1.9 .33 .7 .33 -.4 .34 1.8 .33 -.8 .33 1.6 .34 .4 .33 -1.1 .33 1.1 .34 1.4 .33 -3.4 .33 .1 .34 3.7 .33 -2.5 .33 3.8 .34 -1.9 .33 -2.9 .33 3.2 .34 -.9 .33 .4 .33 .8 .34 -1.2 .33 .3 .33 .5 .34 -1.5 .33 1.4 .33 .5 .34 -.1 .33 .2 .33 0 .34 -1.6 .33 1 .33 -.7 .34 1.9 .33 .6 .33 -.6 .34 -1.6 .33 1.3 .33 1 .34 -.1 .33 .2 .33 .1 .34 -1.3 .33 1 .33 .1 .34 -.9 .33 .4 .33 .4 .34 1.5 .33 -.6 .33 -.6 .34 .1 .33 -1.1 .33 1.1 .34 .7 .33 -.9 .33 .7 .34 .6 .33 -1 .33 -.8 .34 1 .33 0 .33 1.8 .34 -1.7 .33 0 .33 .8 .34 -1.1 .33 .3 .33 .2 .34 0 .33 .3 .33 -.1 .34 -1.4 .33 2.1 .33 -.9 .34 .7 .33 -.4 .33 .4 .34 .4 .33 -.8 .33 -.1 .34 .5 .33 -.3 .33 1.1 .34 -1.1 .33 -.2 .33 1.4 .34 -1.4 .33 .8 .33 -.7 .34 .7 .33 .5 .33 -.1 .34 -.9 .33 .5 .33 .4 .34 -.5 .33 .9 .33 -.2 .34 .1 .33 -.8 .33 .2 .34 -.8 .33 .2 .33 .7 .34 -.6 .33 .4 .33 -.5 .34 .2 .33 -.2 .33 .7 .34 -.5 .33 .4 .33 .3 .34 -.5 .33 .2 .33 1.1 .34 -.8 .33 .5 .33 0 .34 -.3 .33 -.2 .33 -.9 .34 1 .33 -.7 .33 -.1 .34 .5 .33 .6 .33 -.2 .34 0 .33 .1 .33 -.5 .34 -.3 .33 0 .33 .5 .34 .4 .33 -.4 .33 -.3 .34 .1 .33 0 .33 -.1 .34 -.1 .33 1.1 .33 -.6 .34 -.7 .33 .7 .33 .2 .34 .1 .33 -.7 .33 -.3 .34 1.6 .33 -1.4 .33 0 .34 .6 .33 .4 .33 -.1 .34 -.7 .33 .4 .33 -.3 .34 .3 .33 -.3 .33 1.3 .34 -.5 .33 -.6 .33 .1 .34 .6 .33 -.8 .33 .1 .34 0 .33 .8 .33 0 .34 -.9 .33 -.2 .33 .1 .34 .2 .33 -.3 .33 0 .34 .2 .33 .5 .33 -.1 .34 -.2 .33 .3 .33 -.1 .34 -.1 .33 -.3 .33 .7 .34 -.3 .33 -.1 .33 0 .34 .2 .33 -.1 .33 -.4 .34 .2 .33 -.2 .33 -.6 .34 .6 .33 1.4 .33 -1.6 .34 .6 .33 .3 .33 -.3 .34 0 .33 -.3 .33 .1 .34 0 .33 -.1 .33 .4 .34 .2 .33 .1 .33 .3 .34 -.4 .33 1 .33 -1.1 .34 -.4 .33 -.1 .33 .6 .34 .2 .33 0 .33 -.3 .34 .5 .33 -.5 .33 -.1 .34 .1 .33 .1 .33 .2 .34 -.7 .33 .1 .33 .8 .34 -.6 .33 .6 .33 -.2 .34 -.1 .33 .3 .33 -1 .34 .8 .33 .1 .33 .1 .34 -.7 .33 .3 .33 .5 .34 -.2 .33 .2 .33 .1 .34 -.7 .33 .2 .33 .5 .34 -.3 .33 -.5 .33 .4 .34 0 .33 -.3 .33 .1 .34 .4 .33 0 .33 -.7 .34 .1 .33 .2 .33 .1 .34 0 .33 -.2 .33 .4 .34 -.8 .33 .4 .33 .3 .34 0 .33 -.1 .33 .2 .34 -.1 .33 -.1 .33 .6 .34 -.5 .33 .9 .33 -1.4 .34 .8 .33 -.7 .33 -.1 .34 .2 .33 -.6 .33 .8 .34 .1 .33 -.3 .33 .2 .34 .3 .33 -.3 .33 .5 .34 -.6 .33 .9 .33 -.6 .34 -.4 .33 .6 .33 -.1 .34 -.6 .33 1.2 .33 -.8 .34 .3 .33 .7 .33 -1.1 .34 0 .33 .4 .33 -.9 .34 1.1 .33 -.6 .33 .8 .34 -.1 .33 -.8 .33 0 .34 .8 .33 -.8 .33 .4 .34 .2 .33 .1 .33 -.3 .34 -.2 .33 .5 .33 -.1 .34 .2 .33 -.7 .33 .9 .34 -.4 .33 -.2 .33 .3 .34 -.2 .33 -.6 .33 .4 .34 .3 .33 0 .33 0 .34 -.3 .33 -.1 .33 .2 .34 .2 .33 -.1 .33 .2 .34 -.4 .33 .1 .33 0 .34 .1 .33 -.1 .33 .2 .34 -.2 .33 .6 .33 -.6 .34 -.1 .33 .4 .33 .5 .34 -.6 .33 -.4 .33 .7 .34 -.6 .33 .3 .33 0 .34 -.3 .33 .6 .33 -.1 .34 -.2 .33 .2 .33 -.5 .34 .3 .33 .2 .33 .1 .34 -.8 .33 .8 .33 -.5 .34 -.4 .33 1 .33 .1 .34 -.7 .33 .6 .33 -.2 .34 .2 .33 .4 .33 -.2 .34 -.4 .33 -.4 .33 .1 .34 .2 .33 -.1 .33 .3 .34 .1 .33 .4 .33 -.2 .34 -.8 .33 1.2 .33 -.8 .34 -.1 .33 -.4 .33 .6 .34 .7 .33 -.7 .33 .1 .34 0 .33 .2 .33 -.6 .34 0 .33 .5 .33 .1 .34 -.5 .33 .3 .33 .2 .34 -.2 .33 -.2 .33 .7 .34 -.1 .33 -.2 .33 -.3 .34 -.4 .33 .3 .33 .2 .34 -.3 .33 .6 .33 -.7 .34 .9 .33 -.6 .33 -.2 .34 .2 .33 .3 .33 .2 .34 -.7 .33 .5 .33 -.3 .34 -.3 .33 .1 .33 .7 .34 -.8 .33 .2 .33 .3 .34 .5 .33 -1.2 .33 .7 .34 0 .33 -.6 .33 .4 .34 .1 .33 .3 .33 -.3 .34 -.1 .33 .3 .33 .3 .34 -.8 .33 .4 .33 0 .34 0 .33 .3 .33 -.4 .34 -.3 .33 .4 .33 -.4 .34 1 .33 -.1 .33 -.8 .34 .4 .33 -.5 .33 .4 .34 -.5 .33 .4 .33 .4 .34 -.1 .33 .3 .33 -.5 .34 .4 .33 -.5 .33 .1 .34 .8 .33 -1.6 .33 1.2 .34 -.5 .33 .6 .33 -.6 .34 .3 .33 -.5 .33 .9 .34 -.6 .33 -.3 .33 -.6 .34 .5 .33 .9 .33 -.7 .34 0 .33 .4 .33 0 .34 .1 .33 -.1 .33 .7 .34 -1 .33 .1 .33 .2 .34 .3 .33 .3 .33 -.5 .34 .3 .33 -.2 .33 .9 .34 -1.2 .33 .7 .33 -.5 .34 .1 .33 .2 .33 .2 .34 -.7 .33 .2 .33 -.3 .34 -.5 .33 1.6 .33 -.7 .34 0 .33 -.3 .33 .2 .34 .2 .33 .3 .33 -.3 .34 0 .33 -.4 .33 .1 .34 .2 .33 -.6 .33 .5 .34 .2 .33 .5 .33 -1.1 .34 .1 .33 .7 .33 -1 .34 1.5 .33 -.6 .33 -.4 .34 .5" stroke="#000000" stroke-width="1.5" fill="none" stroke-linejoin="round"/>
<path d="M267.4 323.8l.33 1 .33 -.7 .34 1.2 .33 .7 .33 1 .34 -2.1 .33 1.3 .33 .8 .34 -3.5 .33 2.7 .33 .9 .34 -1.7 .33 .8 .33 2.8 .34 -.8 .33 -.4 .33 -.5 .34 1.3 .33 4.7 .33 -4.3 .34 -1.3 .33 -.7 .33 3.9 .34 -.5 .33 -1.7 .33 3.2 .34 0 .33 -2.4 .33 .3 .34 1.6 .33 -.4 .33 .8 .34 .9 .33 -1.8 .33 1.1 .34 -1.6 .33 2.4 .33 .6 .34 -4.2 .33 1.9 .33 1.9 .34 -2 .33 1.9 .33 .7 .34 -.3 .33 .7 .33 -.7 .34 1.3 .33 -1.3 .33 0 .34 -.4 .33 -.7 .33 1.8 .34 .2 .33 -.1 .33 -.6 .34 .6 .33 1.4 .33 -.6 .34 1 .33 -.7 .33 -.6 .34 2.4 .33 -2.7 .33 -.5 .34 1 .33 .8 .33 .5 .34 -.4 .33 -.6 .33 1.7 .34 -.8 .33 -.6 .33 .1 .34 1.8 .33 -.3 .33 -1.6 .34 -1.5 .33 2.5 .33 -.3 .34 1.1 .33 -1.3 .33 .6 .34 .9 .33 -.7 .33 -1.1 .34 .6 .33 .7 .33 -.6 .34 .5 .33 .5 .33 -.8 .34 -.4 .33 1.1 .33 .9 .34 -1.1 .33 .4 .33 .1 .34 -.1 .33 -1 .33 1.2 .34 .1 .33 -.8 .33 .7 .34 -.7 .33 -.1 .33 .2 .34 1.2 .33 -.1 .33 -.4 .34 .9 .33 -1.4 .33 1 .34 -.8 .33 -.9 .33 1.7 .34 -1.1 .33 -.1 .33 .6 .34 .5 .33 -.4 .33 .6 .34 -1.2 .33 2 .33 -1.2 .34 -.3 .33 .1 .33 0 .34 -.5 .33 .3 .33 .7 .34 .3 .33 -1 .33 .8 .34 -.3 .33 1.3 .33 -.8 .34 .1 .33 -.2 .33 .1 .34 -.3 .33 -.3 .33 1.2 .34 -.1 .33 -.1 .33 -1 .34 .5 .33 .3 .33 -.2 .34 -.9 .33 .8 .33 -.6 .34 .2 .33 .7 .33 -1.6 .34 1.9 .33 -.9 .33 .2 .34 .2 .33 -.1 .33 .1 .34 -.2 .33 .4 .33 -.6 .34 .5 .33 0 .33 -.1 .34 .7 .33 -.6 .33 -.2 .34 1.2 .33 -.3 .33 -.3 .34 -.4 .33 .8 .33 -.5 .34 -.2 .33 0 .33 .7 .34 -.5 .33 -.3 .33 -.7 .34 1.2 .33 -.2 .33 .3 .34 -.2 .33 .3 .33 -.2 .34 -.2 .33 -.1 .33 -.7 .34 .2 .33 1.4 .33 -1.1 .34 .1 .33 1.1 .33 -.7 .34 -.9 .33 -.2 .33 .3 .34 .5 .33 .5 .33 -.1 .34 -.4 .33 .5 .33 -.8 .34 .4 .33 .6 .33 .6 .34 -1.3 .33 -.1 .33 .4 .34 .1 .33 .2 .33 -.1 .34 .4 .33 .1 .33 -.4 .34 -.6 .33 .2 .33 .2 .34 -.1 .33 .5 .33 -.2 .34 -.1 .33 -.1 .33 .3 .34 -.6 .33 -.1 .33 .2 .34 -.2 .33 .2 .33 -.7 .34 .9 .33 -.2 .33 .5 .34 .1 .33 -.1 .33 -.8 .34 .6 .33 .1 .33 -.5 .34 .6 .33 -.5 .33 -.2 .34 .7 .33 -.4 .33 1 .34 -.7 .33 -.3 .33 .3 .34 -.1 .33 0 .33 -.3 .34 .1 .33 .8 .33 -.8 .34 .9 .33 -.9 .33 .6 .34 -.3 .33 .5 .33 -.4 .34 -.1 .33 -.2 .33 .3 .34 .1 .33 .2 .33 -.4 .34 0 .33 0 .33 -.6 .34 .7 .33 -.4 .33 .4 .34 -.2 .33 -.3 .33 .5 .34 -.4 .33 .4 .33 .5 .34 .1 .33 0 .33 -.2 .34 -.2 .33 .5 .33 -.7 .34 .4 .33 -.1 .33 -.2 .34 -.3 .33 .4 .33 .5 .34 -.5 .33 -.2 .33 .2 .34 -.2 .33 .1 .33 -.2 .34 .5 .33 -.4 .33 .1 .34 0 .33 -.5 .33 1 .34 .1 .33 -.8 .33 1.1 .34 -.8 .33 -.2 .33 .3 .34 0 .33 -.3 .33 .5 .34 -.7 .33 .7 .33 -.5 .34 -.3 .33 .5 .33 -.4 .34 .7 .33 .3 .33 -.9 .34 .2 .33 -.2 .33 0 .34 .1 .33 .2 .33 -.4 .34 .7 .33 .5 .33 -1 .34 .3 .33 -.2 .33 -.6 .34 .2 .33 1.2 .33 -.6 .34 .6 .33 -.5 .33 .2 .34 .1 .33 -.5 .33 .6 .34 0 .33 -.5 .33 .1 .34 -.4 .33 .9 .33 -.8 .34 .3 .33 -.2 .33 .1 .34 .4 .33 -.2 .33 .3 .34 -.4 .33 .4 .33 -.7 .34 .1 .33 -.9 .33 1.6 .34 -.1 .33 -.8 .33 .2 .34 .2 .33 -.3 .33 .8 .34 .2 .33 -.5 .33 0 .34 -.2 .33 -.3 .33 -.1 .34 .3 .33 .2 .33 .4 .34 -.6 .33 .4 .33 .5 .34 0 .33 -.3 .33 0 .34 -1.1 .33 .6 .33 .3 .34 -.1 .33 .2 .33 .1 .34 -.1 .33 -.5 .33 .2 .34 -.2 .33 .7 .33 -.2 .34 .3 .33 -.4 .33 -.4 .34 .3 .33 -.3 .33 -.1 .34 -.1 .33 .9 .33 -.4 .34 -.3 .33 .2 .33 .2 .34 -.1 .33 0 .33 -.1 .34 .5 .33 -.4 .33 .7 .34 -.9 .33 -.6 .33 .6 .34 .5 .33 -.1 .33 .2 .34 0 .33 .3 .33 -.7 .34 .5 .33 -.3 .33 -.1 .34 .6 .33 0 .33 -1 .34 .8 .33 0 .33 -.7 .34 .2 .33 .2 .33 0 .34 .4 .33 0 .33 -.8 .34 -.4 .33 1.1 .33 -.1 .34 0 .33 .3 .33 0 .34 0 .33 -.8 .33 .9 .34 -.8 .33 .9 .33 -.3 .34 -.1 .33 .1 .33 -.1 .34 -.2 .33 -.4 .33 .7 .34 0 .33 0 .33 -.3 .34 .4 .33 -.5 .33 -.2 .34 .7 .33 -.4 .33 -.1 .34 .1 .33 .6 .33 -.4 .34 -.2 .33 -.2 .33 .1 .34 .2 .33 -.4 .33 .3 .34 0 .33 -.2 .33 .2 .34 -1.1 .33 1.3 .33 .5 .34 .1 .33 -.9 .33 .2 .34 .3 .33 -.3 .33 -.4 .34 .3 .33 -.1 .33 0 .34 .4 .33 -.1 .33 -.3 .34 .8 .33 -.5 .33 .6 .34 -.7 .33 .2 .33 -.2 .34 .1 .33 -.3 .33 0 .34 .4 .33 .2 .33 0 .34 .1 .33 -.7 .33 .9 .34 -.4 .33 -.4 .33 .2 .34 .1 .33 .1 .33 -.7 .34 .1 .33 .7 .33 0 .34 -.5 .33 .3 .33 .3 .34 -.2 .33 -.1 .33 -.5 .34 .2 .33 .5 .33 -.1 .34 .1 .33 -.4 .33 -.5 .34 .6 .33 .1 .33 0 .34 .6 .33 0 .33 -.4 .34 0 .33 0 .33 -.1 .34 .4 .33 -.9 .33 .8 .34 -.1 .33 -.2 .33 -.4 .34 .6 .33 -.5 .33 .1 .34 .3 .33 -.1 .33 .1 .34 -.2 .33 .2 .33 .6 .34 -.6 .33 -.3 .33 .1 .34 0 .33 .7 .33 -.3 .34 .3 .33 -.3 .33 .4 .34 -1.1" stroke="#ff0a0a" stroke-width="1.5" fill="none" stroke-linejoin="round"/>
<path d="M267.4 308.7l.33 .9 .33 .7 .34 -2.2 .33 -.3 .33 1.8 .34 -.8 .33 0 .33 0 .34 1.5 .33 0 .33 1.5 .34 .5 .33 1.2 .33 -1.1 .34 .2 .33 .6 .33 -.2 .34 .5 .33 -1 .33 1.2 .34 -1.7 .33 3.4 .33 -1 .34 .6 .33 -2.2 .33 .8 .34 .6 .33 -1.5 .33 3.9 .34 -.3 .33 -.5 .33 1.4 .34 -3.2 .33 1.1 .33 2.6 .34 -.2 .33 -.8 .33 .7 .34 -.2 .33 -.4 .33 0 .34 -.3 .33 1.1 .33 0 .34 1.3 .33 -2.5 .33 1.8 .34 -.3 .33 -.2 .33 .6 .34 1.9 .33 .3 .33 -3.6 .34 3.1 .33 -2.4 .33 .6 .34 .3 .33 -.2 .33 2.3 .34 .5 .33 -2.9 .33 2.2 .34 -.1 .33 -3 .33 2.5 .34 .2 .33 0 .33 -.4 .34 .7 .33 .3 .33 .1 .34 -.9 .33 1.5 .33 -1.5 .34 .5 .33 -.3 .33 -.4 .34 1.6 .33 -.7 .33 1.6 .34 -1 .33 .9 .33 -1.2 .34 .2 .33 .8 .33 -.6 .34 -.2 .33 .7 .33 .8 .34 -.5 .33 .2 .33 1.3 .34 -1.1 .33 -.8 .33 .5 .34 -.8 .33 .6 .33 1.2 .34 -.6 .33 -1 .33 .3 .34 -.4 .33 2.4 .33 -1.7 .34 -.4 .33 1.7 .33 -.8 .34 -.6 .33 0 .33 -.1 .34 .6 .33 .1 .33 .4 .34 -.8 .33 .3 .33 .5 .34 .5 .33 .5 .33 -.5 .34 -1.2 .33 .5 .33 .5 .34 -.8 .33 -.2 .33 -.1 .34 .9 .33 -.4 .33 .2 .34 -.4 .33 .9 .33 -.6 .34 -.2 .33 .1 .33 -.1 .34 1 .33 .1 .33 -.7 .34 0 .33 1.4 .33 -.6 .34 .3 .33 -.4 .33 -.2 .34 .1 .33 .6 .33 .4 .34 -.9 .33 -.1 .33 .4 .34 0 .33 -.4 .33 -.2 .34 -.1 .33 1.1 .33 -.9 .34 .1 .33 0 .33 -.4 .34 .8 .33 -.2 .33 .2 .34 .4 .33 -.7 .33 .2 .34 -.4 .33 .8 .33 -.2 .34 .3 .33 .2 .33 -1.2 .34 1.2 .33 -1.2 .33 .1 .34 -.4 .33 1.5 .33 -.8 .34 .4 .33 -.5 .33 1 .34 -1.2 .33 .5 .33 -.4 .34 .4 .33 .6 .33 -.4 .34 0 .33 .2 .33 -.5 .34 -.3 .33 .1 .33 .3 .34 .6 .33 -.4 .33 -.2 .34 .2 .33 -.3 .33 .7 .34 -.1 .33 -.6 .33 1 .34 -1.1 .33 .6 .33 -.2 .34 .4 .33 0 .33 -.3 .34 .1 .33 -.6 .33 0 .34 1.5 .33 -.8 .33 -.3 .34 .4 .33 .2 .33 -1.1 .34 .8 .33 .6 .33 -.7 .34 0 .33 0 .33 .2 .34 -1.1 .33 1.1 .33 -.3 .34 .4 .33 -.4 .33 .2 .34 .1 .33 .3 .33 -.4 .34 .2 .33 -.5 .33 -.4 .34 .9 .33 .5 .33 -.9 .34 .3 .33 -.2 .33 .4 .34 -.5 .33 .6 .33 -.7 .34 1 .33 -.5 .33 -.2 .34 .2 .33 0 .33 .1 .34 .2 .33 -.3 .33 -.2 .34 -.3 .33 .3 .33 -.1 .34 .6 .33 -.7 .33 .3 .34 .2 .33 .4 .33 -1 .34 .5 .33 .4 .33 -.9 .34 .8 .33 -1 .33 .8 .34 -.3 .33 .2 .33 .2 .34 .4 .33 -.8 .33 .9 .34 0 .33 -1.1 .33 .6 .34 .2 .33 .3 .33 -.3 .34 -.4 .33 0 .33 .4 .34 -.5 .33 .4 .33 -.1 .34 -.3 .33 1.1 .33 -.7 .34 .7 .33 -.4 .33 0 .34 -.5 .33 0 .33 .2 .34 -.1 .33 -.3 .33 1.1 .34 .1 .33 -.6 .33 -.1 .34 -.2 .33 -.2 .33 .5 .34 -.2 .33 .2 .33 .2 .34 .4 .33 -.7 .33 .1 .34 -.2 .33 .2 .33 -.4 .34 .8 .33 -.3 .33 -.6 .34 .4 .33 .4 .33 -.1 .34 -.5 .33 1.5 .33 -1.1 .34 -.3 .33 .3 .33 -.5 .34 .3 .33 -.3 .33 .7 .34 0 .33 -.4 .33 .2 .34 .4 .33 -1 .33 .5 .34 .2 .33 0 .33 -.3 .34 -.5 .33 .4 .33 .6 .34 -.5 .33 .2 .33 -.1 .34 .4 .33 -.5 .33 .3 .34 0 .33 -.4 .33 .4 .34 .3 .33 -.2 .33 -.4 .34 0 .33 -.2 .33 .1 .34 -.3 .33 .8 .33 -.1 .34 0 .33 .8 .33 -.8 .34 .3 .33 -.7 .33 .3 .34 -.1 .33 .3 .33 -.4 .34 .1 .33 0 .33 .3 .34 -.5 .33 .5 .33 .1 .34 -.1 .33 .4 .33 -.4 .34 .1 .33 0 .33 .2 .34 -.1 .33 -.2 .33 .3 .34 -.5 .33 .5 .33 -.6 .34 .8 .33 -.6 .33 .1 .34 0 .33 .3 .33 -.8 .34 .5 .33 .3 .33 -.1 .34 -.5 .33 .8 .33 .2 .34 -.8 .33 .1 .33 -.2 .34 .2 .33 .1 .33 .8 .34 -1.1 .33 1 .33 -.6 .34 -.1 .33 -.1 .33 .4 .34 -.3 .33 .1 .33 0 .34 0 .33 .1 .33 -.1 .34 -.2 .33 .5 .33 -.2 .34 0 .33 -.6 .33 .6 .34 -.3 .33 0 .33 .1 .34 -.1 .33 -.3 .33 .2 .34 .7 .33 -.3 .33 -.2 .34 .2 .33 -.6 .33 1.1 .34 -.1 .33 -.4 .33 .2 .34 -.3 .33 0 .33 .1 .34 -.1 .33 .4 .33 -.6 .34 .6 .33 -.5 .33 .4 .34 .3 .33 .2 .33 -1 .34 .7 .33 .2 .33 -.4 .34 .4 .33 -.7 .33 .3 .34 .7 .33 -.5 .33 .1 .34 -.3 .33 0 .33 .3 .34 -.2 .33 .5 .33 -.8 .34 0 .33 .4 .33 -.6 .34 .7 .33 .2 .33 .2 .34 -1 .33 .3 .33 .4 .34 -.4 .33 .3 .33 -.7 .34 .5 .33 .2 .33 -.4 .34 .4 .33 -.1 .33 -.1 .34 -.2 .33 .2 .33 .2 .34 -.2 .33 .3 .33 0 .34 -.5 .33 .3 .33 .4 .34 -.2 .33 -.2 .33 -.4 .34 .5 .33 0 .33 .3 .34 -.3 .33 0 .33 .1 .34 .3 .33 -.1 .33 .3 .34 -.7 .33 .5 .33 -.3 .34 .4 .33 -.6 .33 .4 .34 0 .33 -.5 .33 .3 .34 -.1 .33 -.1 .33 0 .34 -.2 .33 .5 .33 -.1 .34 .1 .33 -.1 .33 .1 .34 -.3 .33 -.1 .33 .5 .34 0 .33 0 .33 0 .34 -.5 .33 0 .33 .2 .34 .8 .33 -.4 .33 -.5 .34 .6 .33 0 .33 -.4 .34 .3 .33 -.1 .33 -.1 .34 .1 .33 .3 .33 -.1 .34 -.8 .33 .4 .33 .6 .34 .3 .33 -1 .33 .7 .34 -.9 .33 .9 .33 -.5 .34 .5 .33 -.2 .33 -.4 .34 -.1 .33 0 .33 -.2 .34 -.5 .33 .7 .33 .4 .34 -.1 .33 .3 .33 -.3 .34 .3" stroke="#0a0aff" stroke-width="1.5" fill="none" stroke-linejoin="round"/>
<path d="M303.9 322.6V308.1M347.2 324.6V310.3M411.7 325.9V318.8" stroke="#0a0aff" stroke-width="1" fill="none"/>
<path d="M267.4 292.5l.33 -1.4 .33 1.6 .34 2.6 .33 -.9 .33 0 .34 2.8 .33 -3.5 .33 2.2 .34 -1.9 .33 1.1 .33 1.1 .34 -.2 .33 -.4 .33 .8 .34 2.2 .33 -2.4 .33 -.3 .34 4.2 .33 -3.8 .33 1.7 .34 -1.1 .33 .7 .33 2.9 .34 -.2 .33 -1.2 .33 2.6 .34 -2.4 .33 2.2 .33 -.6 .34 1 .33 -1.1 .33 .6 .34 -.4 .33 -2.7 .33 5.8 .34 -1.8 .33 -.4 .33 0 .34 -.5 .33 .2 .33 .9 .34 1.1 .33 -.5 .33 0 .34 .8 .33 -1.4 .33 1.9 .34 -1.4 .33 1.2 .33 -1.1 .34 1.6 .33 -1.8 .33 2.9 .34 -2 .33 .1 .33 -.2 .34 -.1 .33 .8 .33 -1 .34 2.3 .33 -.9 .33 -1.6 .34 2 .33 .5 .33 -.2 .34 -.6 .33 .5 .33 -1.9 .34 1.1 .33 -.6 .33 .7 .34 1.7 .33 .5 .33 .3 .34 -1.5 .33 .8 .33 -.5 .34 .6 .33 0 .33 -.7 .34 1.5 .33 -1.1 .33 0 .34 .3 .33 -.2 .33 -.7 .34 1.2 .33 .4 .33 .3 .34 -.7 .33 1.4 .33 -1.5 .34 .1 .33 -1.1 .33 2.7 .34 -.3 .33 .2 .33 -1.8 .34 1.5 .33 -1.5 .33 1.8 .34 -.7 .33 -.2 .33 .4 .34 -.2 .33 1.2 .33 -.3 .34 -1.5 .33 1.5 .33 -1.9 .34 2.5 .33 -1.3 .33 .1 .34 .2 .33 1.4 .33 -.9 .34 -.4 .33 .4 .33 -.5 .34 .8 .33 -.9 .33 .2 .34 .1 .33 .8 .33 -.5 .34 -.2 .33 -.6 .33 1.3 .34 -.7 .33 .4 .33 -.3 .34 .3 .33 0 .33 -.9 .34 0 .33 .8 .33 -.7 .34 1.2 .33 -.3 .33 .5 .34 -.2 .33 0 .33 -.6 .34 .5 .33 .3 .33 .1 .34 -.4 .33 -.1 .33 -.3 .34 .2 .33 0 .33 .7 .34 .1 .33 -.6 .33 -.2 .34 .6 .33 .3 .33 -.3 .34 -.8 .33 -.1 .33 1.4 .34 -.3 .33 -.6 .33 .2 .34 0 .33 .1 .33 -.4 .34 .8 .33 -.7 .33 -.2 .34 1 .33 -.4 .33 .5 .34 -.4 .33 .3 .33 .3 .34 -.6 .33 .4 .33 -.7 .34 .4 .33 -1.1 .33 .9 .34 -.2 .33 -.4 .33 1 .34 -.3 .33 .2 .33 -.7 .34 .7 .33 .7 .33 -.5 .34 -.1 .33 .1 .33 -.2 .34 -.3 .33 -.1 .33 .4 .34 -.8 .33 1.2 .33 -.1 .34 -.1 .33 .1 .33 .2 .34 -1 .33 .6 .33 .2 .34 0 .33 -.4 .33 .2 .34 .3 .33 -.1 .33 .5 .34 -1.3 .33 .7 .33 -.1 .34 .2 .33 -.1 .33 -.3 .34 .4 .33 -.6 .33 .1 .34 0 .33 .5 .33 .2 .34 .2 .33 -.9 .33 .4 .34 .5 .33 -.4 .33 .5 .34 0 .33 -.7 .33 0 .34 .2 .33 -.2 .33 .2 .34 -.1 .33 .8 .33 -.6 .34 -.3 .33 .3 .33 .1 .34 -.9 .33 .4 .33 -.1 .34 .4 .33 .3 .33 -.5 .34 -.2 .33 .8 .33 -.4 .34 .1 .33 .2 .33 .2 .34 -.5 .33 -.2 .33 0 .34 .1 .33 .3 .33 .9 .34 -.7 .33 -.4 .33 .2 .34 -.1 .33 -.4 .33 .5 .34 .2 .33 -.1 .33 -.3 .34 .3 .33 -.3 .33 .2 .34 -.5 .33 .8 .33 -.3 .34 -.8 .33 .8 .33 .3 .34 .8 .33 -1.3 .33 .9 .34 -.9 .33 .7 .33 -.1 .34 -.3 .33 -.3 .33 0 .34 .7 .33 .2 .33 -.6 .34 0 .33 -.1 .33 .3 .34 -.2 .33 .5 .33 -.1 .34 -.1 .33 -.5 .33 -.1 .34 .3 .33 .1 .33 .3 .34 -.3 .33 .4 .33 -.1 .34 -.5 .33 .8 .33 -.1 .34 -.8 .33 .3 .33 .4 .34 .3 .33 -.1 .33 -.8 .34 .2 .33 .6 .33 -.7 .34 .4 .33 -.2 .33 .3 .34 -.6 .33 0 .33 .1 .34 1 .33 0 .33 -.1 .34 -.8 .33 -.1 .33 .5 .34 -.2 .33 -.3 .33 .5 .34 -.5 .33 .8 .33 -.3 .34 -.2 .33 -.3 .33 .4 .34 0 .33 .2 .33 -.2 .34 0 .33 -.4 .33 .2 .34 .3 .33 .1 .33 -.2 .34 -.4 .33 .1 .33 .2 .34 .4 .33 -.3 .33 -.3 .34 .3 .33 0 .33 .5 .34 -.4 .33 -.2 .33 .2 .34 .2 .33 -.8 .33 .5 .34 -.2 .33 .1 .33 .1 .34 .6 .33 -.2 .33 -.1 .34 -.5 .33 .5 .33 .1 .34 -.7 .33 0 .33 .9 .34 0 .33 -.4 .33 .4 .34 -.1 .33 .5 .33 -1.6 .34 1 .33 .2 .33 -.2 .34 -.4 .33 -.2 .33 .9 .34 .2 .33 -1.2 .33 .2 .34 .6 .33 .1 .33 -.5 .34 -.2 .33 .8 .33 .1 .34 -1.1 .33 .7 .33 .1 .34 -.2 .33 .5 .33 -.3 .34 0 .33 0 .33 -.6 .34 1.2 .33 -.9 .33 .2 .34 .4 .33 -.2 .33 -.2 .34 -.7 .33 .7 .33 .4 .34 -.4 .33 -.4 .33 .9 .34 .3 .33 -.4 .33 0 .34 -.9 .33 .4 .33 -.6 .34 1.1 .33 -.1 .33 -1 .34 1 .33 .2 .33 -.6 .34 .2 .33 .5 .33 -.9 .34 .6 .33 .2 .33 -.2 .34 -.2 .33 .1 .33 .1 .34 .1 .33 .3 .33 -1 .34 .5 .33 0 .33 .5 .34 -.9 .33 1 .33 -.8 .34 0 .33 -.2 .33 .4 .34 -.1 .33 .2 .33 -.1 .34 .3 .33 -.1 .33 -.9 .34 1.2 .33 -.4 .33 0 .34 -.2 .33 .5 .33 -.4 .34 .5 .33 -.7 .33 .9 .34 -.1 .33 -.8 .33 .6 .34 -.4 .33 -.2 .33 .2 .34 .2 .33 -.2 .33 .3 .34 .3 .33 -.9 .33 -.1 .34 .6 .33 .1 .33 -.1 .34 .3 .33 -.1 .33 -.8 .34 .6 .33 -.2 .33 .2 .34 -.4 .33 .6 .33 -.2 .34 -.1 .33 -.3 .33 1 .34 -.2 .33 -.1 .33 -.4 .34 -.1 .33 .8 .33 -.6 .34 .4 .33 .4 .33 -1.2 .34 .1 .33 .6 .33 -.7 .34 .5 .33 -.1 .33 .5 .34 -.7 .33 .4 .33 .2 .34 -.6 .33 .1 .33 .6 .34 0 .33 -.8 .33 0 .34 1.1 .33 -.5 .33 -.2 .34 .2 .33 -.1 .33 .2 .34 .4 .33 -.1 .33 -.6 .34 0 .33 .1 .33 .4 .34 .1 .33 -1 .33 .5 .34 0 .33 .5 .33 0 .34 -.5 .33 -.2 .33 .4 .34 .1 .33 -.1 .33 -.4 .34 .3 .33 .3 .33 -.1 .34 .1 .33 -.5 .33 .2 .34 .1 .33 -.9 .33 .8 .34 .3 .33 0 .33 -.3 .34 .1 .33 .3 .33 -.3 .34 -.4 .33 .6 .33 -.7 .34 .3 .33 1 .33 -.6 .34 .2" stroke="#ff10ff" stroke-width="1.5" fill="none" stroke-linejoin="round"/>
<path d="M303.9 308.1V293.5M347.2 310.3V296.0M411.7 311.5V304.7" stroke="#ff10ff" stroke-width="1" fill="none"/>
<path d="M267.4 280.6l.33 -6.1 .33 5.7 .34 .3 .33 -1.6 .33 2 .34 1.6 .33 -3.2 .33 1.9 .34 -.9 .33 .6 .33 .6 .34 .3 .33 -.7 .33 .5 .34 2.7 .33 .8 .33 -1.5 .34 .9 .33 -1.3 .33 -.1 .34 1.2 .33 1.4 .33 -1 .34 -1.8 .33 3.1 .33 1.8 .34 -2.1 .33 -2.4 .33 2.6 .34 2.3 .33 -2.6 .33 1 .34 -.6 .33 1 .33 -2.8 .34 1.7 .33 .6 .33 1.2 .34 -.3 .33 -.9 .33 .7 .34 -.8 .33 .5 .33 .5 .34 1.1 .33 1.6 .33 -2 .34 -1.9 .33 2.6 .33 -2.3 .34 3.1 .33 .4 .33 -1.7 .34 .5 .33 2.3 .33 -1.5 .34 -.4 .33 -.1 .33 2.3 .34 -1.5 .33 -.5 .33 1.1 .34 1.4 .33 -2.4 .33 -.6 .34 3 .33 -1.2 .33 1 .34 -.1 .33 -1.7 .33 -.1 .34 2.3 .33 -1.3 .33 .8 .34 -1.1 .33 1.6 .33 -1.2 .34 -.1 .33 1.7 .33 -.2 .34 1.2 .33 -.8 .33 -1.7 .34 1.8 .33 .4 .33 -.5 .34 -.6 .33 -.4 .33 .8 .34 -.8 .33 1 .33 -.3 .34 .1 .33 .4 .33 -.8 .34 .5 .33 .3 .33 -1 .34 2 .33 -1 .33 .1 .34 .7 .33 0 .33 -1.7 .34 2.4 .33 -.1 .33 -1.2 .34 .6 .33 .1 .33 -.9 .34 .8 .33 .1 .33 .7 .34 -2.1 .33 1.1 .33 -.3 .34 1.4 .33 -1.3 .33 0 .34 .1 .33 .6 .33 .1 .34 .1 .33 -.4 .33 .2 .34 -.3 .33 .1 .33 0 .34 -.2 .33 1.7 .33 -1 .34 0 .33 -.2 .33 .1 .34 1 .33 .1 .33 -1.1 .34 .2 .33 1 .33 -1.4 .34 .6 .33 .3 .33 -.6 .34 .8 .33 -1.1 .33 1 .34 .4 .33 -1.2 .33 .8 .34 .5 .33 -.9 .33 .3 .34 -.1 .33 -.6 .33 .7 .34 .8 .33 -.8 .33 .7 .34 -2 .33 1.3 .33 -.9 .34 .5 .33 .7 .33 .5 .34 -.8 .33 .9 .33 -.7 .34 -.1 .33 -.5 .33 .2 .34 .2 .33 .3 .33 .8 .34 0 .33 -.3 .33 -.4 .34 .2 .33 .4 .33 -1.2 .34 .6 .33 .4 .33 -.7 .34 1.1 .33 -.5 .33 0 .34 0 .33 -.3 .33 .4 .34 -.4 .33 0 .33 .2 .34 .5 .33 -.9 .33 .8 .34 .1 .33 -.5 .33 -.1 .34 .4 .33 -.4 .33 -.4 .34 1.2 .33 -1.1 .33 .3 .34 0 .33 .2 .33 .4 .34 -.5 .33 .1 .33 .2 .34 -.3 .33 .4 .33 .3 .34 -.3 .33 .6 .33 -.5 .34 0 .33 -1.2 .33 .8 .34 .6 .33 -.8 .33 .4 .34 .4 .33 .1 .33 -.4 .34 0 .33 .1 .33 -.9 .34 .9 .33 -.4 .33 .2 .34 -.4 .33 -.2 .33 .7 .34 .2 .33 0 .33 -.6 .34 .2 .33 -.1 .33 .5 .34 .2 .33 -.1 .33 0 .34 .4 .33 -.6 .33 0 .34 .4 .33 -.8 .33 0 .34 .5 .33 .6 .33 -.9 .34 .3 .33 -.3 .33 .6 .34 -.1 .33 -.1 .33 -.7 .34 .5 .33 -.5 .33 .3 .34 .5 .33 -1.1 .33 1.5 .34 -.9 .33 .5 .33 .4 .34 -1.5 .33 .5 .33 .2 .34 .3 .33 .4 .33 .3 .34 -.8 .33 .6 .33 -.5 .34 -.1 .33 .5 .33 -.6 .34 -.2 .33 .9 .33 -.3 .34 -.1 .33 .1 .33 -.8 .34 .9 .33 .5 .33 -.7 .34 .2 .33 -.1 .33 .4 .34 -.2 .33 -1 .33 1 .34 .1 .33 -1 .33 .6 .34 .4 .33 .2 .33 -.7 .34 1.1 .33 -.7 .33 -.1 .34 .1 .33 0 .33 .1 .34 -.6 .33 .6 .33 -.1 .34 1.3 .33 -1.3 .33 -.2 .34 -.1 .33 .3 .33 -.2 .34 -.4 .33 .1 .33 .3 .34 0 .33 .6 .33 -.2 .34 -.2 .33 .3 .33 -.4 .34 -.3 .33 -.2 .33 .6 .34 .1 .33 .2 .33 -1.2 .34 .6 .33 .3 .33 -.1 .34 -.6 .33 .7 .33 -.1 .34 .4 .33 -.7 .33 .8 .34 -.7 .33 .9 .33 -.6 .34 .3 .33 -.4 .33 -.2 .34 .8 .33 -.6 .33 .5 .34 -.6 .33 0 .33 .2 .34 .5 .33 -.6 .33 1 .34 -.8 .33 .5 .33 -1 .34 .4 .33 .4 .33 .2 .34 -.6 .33 .9 .33 -1.1 .34 .5 .33 .4 .33 -.2 .34 -.2 .33 .3 .33 -.6 .34 .5 .33 -.8 .33 .2 .34 .7 .33 -.1 .33 -.3 .34 -.3 .33 .3 .33 -.2 .34 .7 .33 .3 .33 -1 .34 .4 .33 0 .33 .1 .34 -.1 .33 .2 .33 -1 .34 .5 .33 0 .33 .1 .34 -.3 .33 .2 .33 .1 .34 .3 .33 -.1 .33 -.4 .34 -.1 .33 -.1 .33 .3 .34 0 .33 .1 .33 .4 .34 -.2 .33 .2 .33 -.1 .34 0 .33 .2 .33 0 .34 .5 .33 -.8 .33 -.2 .34 -.4 .33 .9 .33 .3 .34 -.2 .33 -.5 .33 -.2 .34 .3 .33 -.8 .33 1.1 .34 -.5 .33 .4 .33 .4 .34 -1.1 .33 .4 .33 -.2 .34 0 .33 .7 .33 0 .34 -.1 .33 -.1 .33 -.2 .34 .2 .33 .2 .33 0 .34 -.4 .33 .3 .33 -.4 .34 -.2 .33 1 .33 -.6 .34 0 .33 -.2 .33 .3 .34 -.2 .33 .4 .33 .2 .34 -.6 .33 -.1 .33 .3 .34 0 .33 -.2 .33 -.3 .34 .6 .33 -.1 .33 0 .34 -.2 .33 .2 .33 -.1 .34 -.2 .33 .4 .33 -.1 .34 .1 .33 -.1 .33 .2 .34 -.7 .33 .5 .33 -.5 .34 1.1 .33 -.6 .33 .2 .34 -.2 .33 .2 .33 0 .34 -.2 .33 -.4 .33 .2 .34 .4 .33 .1 .33 -.3 .34 -.1 .33 .2 .33 -.2 .34 .4 .33 -.8 .33 .2 .34 .7 .33 -.2 .33 .7 .34 -1.1 .33 .8 .33 -.4 .34 .5 .33 0 .33 -.8 .34 .1 .33 0 .33 1 .34 -.6 .33 -.6 .33 -.1 .34 .7 .33 -.1 .33 -.2 .34 .2 .33 -.6 .33 .6 .34 .1 .33 0 .33 -.4 .34 .3 .33 -.2 .33 -.6 .34 0 .33 1 .33 -.6 .34 .6 .33 -.5 .33 .5 .34 .2 .33 .3 .33 -.8 .34 .7 .33 -.4 .33 -1.2 .34 .2 .33 1 .33 .2 .34 -.4 .33 0 .33 -.2 .34 0 .33 .6 .33 -.4 .34 -.1 .33 .4 .33 -.4 .34 .3 .33 -.3 .33 .3 .34 -.2 .33 -.5 .33 .9 .34 0 .33 -.3 .33 -.1 .34 .5 .33 -.7 .33 .4 .34 .1 .33 0 .33 -.2 .34 -.1 .33 .8 .33 -.9 .34 -.3 .33 .1 .33 .5 .34 -.3 .33 .5 .33 .1 .34 -.9" stroke="#108810" stroke-width="1.5" fill="none" stroke-linejoin="round"/>
<path d="M303.9 293.5V279.3M347.2 296.0V281.0M411.7 297.1V290.2" stroke="#108810" stroke-width="1" fill="none"/>
<path d="M267.4 263.2l.33 4.2 .33 -2.2 .34 0 .33 .4 .33 -1.5 .34 .1 .33 2 .33 1.2 .34 -.1 .33 2.9 .33 -1.1 .34 -1.5 .33 .7 .33 3.5 .34 -.2 .33 -1.1 .33 -2.4 .34 .8 .33 .8 .33 1.4 .34 .1 .33 .6 .33 -3.2 .34 3 .33 1.4 .33 -.5 .34 -.4 .33 -.3 .33 .3 .34 -.7 .33 1.4 .33 1.7 .34 -1.3 .33 1.9 .33 -1.9 .34 -.1 .33 2.1 .33 -2.4 .34 .9 .33 -.9 .33 1.7 .34 -.9 .33 .3 .33 .2 .34 .3 .33 1.5 .33 .6 .34 2.4 .33 -3.1 .33 1 .34 -1.9 .33 1.2 .33 -.4 .34 .5 .33 .3 .33 -.5 .34 0 .33 -.2 .33 .3 .34 1 .33 -1.7 .33 2.9 .34 -.5 .33 -1.5 .33 1.7 .34 -.4 .33 -1.2 .33 .2 .34 1.1 .33 -.9 .33 .9 .34 -.5 .33 1.6 .33 -2.1 .34 2.2 .33 -1.6 .33 .8 .34 1.4 .33 -2.3 .33 0 .34 .1 .33 -.7 .33 1.2 .34 2.2 .33 -2.1 .33 .3 .34 .8 .33 -.1 .33 -1.8 .34 1.8 .33 .9 .33 -.1 .34 -2.1 .33 1.3 .33 .7 .34 -.2 .33 -.9 .33 .6 .34 .1 .33 -.5 .33 .4 .34 0 .33 -.4 .33 .2 .34 -.2 .33 1.4 .33 -.7 .34 .4 .33 -.3 .33 .4 .34 -.9 .33 .5 .33 -.8 .34 .9 .33 0 .33 -1.1 .34 0 .33 .4 .33 .9 .34 -.7 .33 .2 .33 -.8 .34 2.9 .33 -1.9 .33 -.6 .34 -.1 .33 1.5 .33 -.7 .34 .3 .33 0 .33 -.2 .34 .4 .33 .9 .33 -1.4 .34 .3 .33 .3 .33 -.1 .34 .5 .33 -.5 .33 -.4 .34 .7 .33 -1.2 .33 .8 .34 .2 .33 .7 .33 -1.2 .34 .3 .33 .1 .33 -.6 .34 .5 .33 0 .33 -.1 .34 .3 .33 .8 .33 -1 .34 .5 .33 -.2 .33 -.2 .34 .4 .33 .3 .33 -.2 .34 -.2 .33 .1 .33 -.4 .34 .6 .33 -.2 .33 -.3 .34 -.1 .33 .4 .33 -.7 .34 .4 .33 -.4 .33 1.2 .34 .1 .33 -.5 .33 -.6 .34 .4 .33 .8 .33 -.4 .34 .2 .33 .5 .33 -.2 .34 -.3 .33 -.3 .33 -.3 .34 .2 .33 .3 .33 .1 .34 -.3 .33 -.1 .33 .2 .34 .6 .33 -.5 .33 -.9 .34 .7 .33 .1 .33 .3 .34 -.8 .33 .1 .33 -.1 .34 1 .33 -.5 .33 .2 .34 .1 .33 -.4 .33 -.7 .34 1.4 .33 -1.3 .33 .7 .34 .2 .33 -.3 .33 .2 .34 0 .33 0 .33 .1 .34 -.8 .33 0 .33 1 .34 -.8 .33 .5 .33 .5 .34 -.4 .33 -.6 .33 .5 .34 0 .33 -.1 .33 .3 .34 -.4 .33 .3 .33 .4 .34 -.6 .33 .3 .33 .4 .34 -.4 .33 -.3 .33 -.6 .34 .3 .33 .6 .33 -.2 .34 .1 .33 1.2 .33 -1 .34 -.4 .33 .8 .33 0 .34 -.5 .33 .1 .33 0 .34 -.2 .33 -.3 .33 .8 .34 -.1 .33 -.6 .33 .4 .34 -.3 .33 -.2 .33 .6 .34 -.2 .33 0 .33 .1 .34 .1 .33 .1 .33 -.5 .34 .3 .33 .2 .33 -.6 .34 .5 .33 -.5 .33 .4 .34 .3 .33 -.2 .33 -.1 .34 .1 .33 -.4 .33 .7 .34 -.7 .33 -.3 .33 .5 .34 -.1 .33 .4 .33 -.2 .34 -.3 .33 0 .33 0 .34 -.2 .33 .6 .33 .6 .34 -.9 .33 0 .33 .2 .34 -.1 .33 .2 .33 .5 .34 -.5 .33 .1 .33 0 .34 -.4 .33 0 .33 .3 .34 -.1 .33 -.1 .33 .3 .34 .4 .33 -1.1 .33 1 .34 .3 .33 -.6 .33 .1 .34 .5 .33 -.3 .33 -.1 .34 -.4 .33 .1 .33 .5 .34 0 .33 -.2 .33 .4 .34 .1 .33 -1.2 .33 .6 .34 -.1 .33 .3 .33 .7 .34 -1.1 .33 0 .33 .5 .34 -.5 .33 .2 .33 .5 .34 .1 .33 .1 .33 -.2 .34 -.4 .33 0 .33 .5 .34 -.6 .33 .4 .33 -.4 .34 .5 .33 -.1 .33 -.6 .34 1 .33 -.7 .33 .4 .34 -.4 .33 -.6 .33 .7 .34 .1 .33 -.4 .33 .8 .34 0 .33 -.9 .33 .5 .34 -.8 .33 .5 .33 -.1 .34 .3 .33 .2 .33 0 .34 -.2 .33 0 .33 .3 .34 -.3 .33 .6 .33 -.5 .34 0 .33 .3 .33 -.3 .34 .4 .33 0 .33 -.2 .34 -.5 .33 .4 .33 -.1 .34 .2 .33 0 .33 -.1 .34 0 .33 0 .33 -.2 .34 .2 .33 -.1 .33 .2 .34 -.4 .33 1 .33 -.2 .34 -.3 .33 -.2 .33 .3 .34 -.3 .33 .5 .33 -.3 .34 -.1 .33 -.6 .33 .4 .34 .4 .33 -.5 .33 .3 .34 .4 .33 .2 .33 -.7 .34 -.8 .33 1 .33 .2 .34 -.7 .33 .9 .33 -.4 .34 .6 .33 -.6 .33 .1 .34 -.4 .33 .6 .33 -.1 .34 -.3 .33 .4 .33 -.3 .34 .6 .33 -.3 .33 -.2 .34 0 .33 .6 .33 -.5 .34 .1 .33 -.5 .33 .6 .34 -.2 .33 -.3 .33 0 .34 .6 .33 -.3 .33 .2 .34 .1 .33 .2 .33 0 .34 -.6 .33 .1 .33 -.6 .34 .7 .33 .1 .33 -.6 .34 .5 .33 0 .33 0 .34 0 .33 -.4 .33 .4 .34 .7 .33 -.7 .33 -.1 .34 .1 .33 .5 .33 -.9 .34 1.1 .33 -.8 .33 .3 .34 .1 .33 -.5 .33 .2 .34 .4 .33 -.3 .33 -.5 .34 .7 .33 -.5 .33 .5 .34 -.2 .33 -.4 .33 .7 .34 -.2 .33 .3 .33 -.3 .34 -.2 .33 -.4 .33 .6 .34 -.4 .33 .2 .33 -.5 .34 .1 .33 .6 .33 .1 .34 .6 .33 -.2 .33 -.8 .34 .6 .33 -.3 .33 -.5 .34 .8 .33 -.5 .33 -.1 .34 .1 .33 .3 .33 -.1 .34 0 .33 .1 .33 .2 .34 -.4 .33 .1 .33 .2 .34 .1 .33 .1 .33 .2 .34 -1.2 .33 1.1 .33 -.2 .34 .3 .33 -.7 .33 .4 .34 .4 .33 0 .33 -.1 .34 -.3 .33 -.3 .33 .2 .34 -.6 .33 .6 .33 -.3 .34 .3 .33 0 .33 0 .34 .3 .33 0 .33 0 .34 -.1 .33 .5 .33 -.6 .34 -.1 .33 -.1 .33 .3 .34 .2 .33 .4 .33 -.7 .34 .4 .33 -.4 .33 .4 .34 -.7 .33 .6 .33 0 .34 -.8 .33 .6 .33 -.3 .34 .4 .33 .1 .33 -.1 .34 .2 .33 -.1 .33 .1 .34 -.3 .33 .3 .33 -.6 .34 .7 .33 -.5 .33 .1 .34 .2 .33 0 .33 .3 .34 -.5 .33 .3 .33 -.5 .34 -.1 .33 1 .33 -.6 .34 .3" stroke="#161690" stroke-width="1.5" fill="none" stroke-linejoin="round"/>
<path d="M303.9 279.3V241.5M347.2 281.0V260.7M411.7 282.3V274.5" stroke="#161690" stroke-width="1" fill="none"/>
<path d="M303.9 224.8V227.0" stroke="#161690" stroke-width="0.8" stroke-opacity="0.45" fill="none"/>
</g>
<rect x="267.4" y="224.8" width="187.0" height="137.6" fill="none" stroke="#858585" stroke-width="1.3"/>
<path d="M267.4 362.4v-3.6M283.0 362.4v-2.6M298.6 362.4v-3.6M314.1 362.4v-2.6M329.7 362.4v-3.6M345.3 362.4v-2.6M360.9 362.4v-3.6M376.5 362.4v-2.6M392.1 362.4v-3.6M407.6 362.4v-2.6M423.2 362.4v-3.6M438.8 362.4v-2.6M454.4 362.4v-3.6" stroke="#858585" stroke-width="1.1"/>
<text x="267.4" y="374.6" class="tk">20</text>
<text x="298.6" y="374.6" class="tk">30</text>
<text x="329.7" y="374.6" class="tk">40</text>
<text x="360.9" y="374.6" class="tk">50</text>
<text x="392.1" y="374.6" class="tk">60</text>
<text x="423.2" y="374.6" class="tk">70</text>
<text x="454.4" y="374.6" class="tk">80</text>
<text x="361.4" y="388.7" class="xl">Two-theta (deg.)</text>
<text transform="translate(254.7 293.6) rotate(-90)" class="yl">Intensity (a.u.)</text>
<text x="423.0" y="278.5" class="lb">15 min</text>
<text x="423.0" y="293.5" class="lb">10 min</text>
<text x="424.0" y="308.5" class="lb">5 min</text>
<text x="424.0" y="322.6" class="lb">3 min</text>
<text x="424.0" y="337.1" class="lb">0 min</text>
<text x="423.5" y="352.1" class="lb">Control</text>
<text x="303.9" y="233.5" class="an">(200)</text>
<path d="M301.7 236.4L306.1 236.4L303.9 243.7Z" fill="#111"/>
<text x="347.2" y="252.7" class="an">(220)</text>
<path d="M345.0 255.6L349.4 255.6L347.2 262.9Z" fill="#111"/>
<text x="411.7" y="262.3" class="an">(400)</text>
<path d="M409.5 265.2L413.9 265.2L411.7 272.5Z" fill="#111"/>
<text x="267.3" y="222.3" class="tt">I60S10</text>
<text x="242.8" y="218.4" class="rm">ii</text>
<g clip-path="url(#c4)">
<path d="M486 337.6l.33 1.2 .33 2.7 .34 -3.5 .33 1.5 .33 .4 .34 1 .33 1.6 .33 2.3 .34 -.1 .33 2.3 .33 -6.1 .34 1.7 .33 5.1 .33 -3.1 .34 .5 .33 -.3 .33 -.1 .34 2.9 .33 -1.5 .33 -.7 .34 1.2 .33 .1 .33 1.1 .34 .2 .33 -.1 .33 -.4 .34 .8 .33 -.2 .33 -1.1 .34 1.7 .33 -1.7 .33 2 .34 -.7 .33 3 .33 -1.1 .34 -.8 .33 .1 .33 1.6 .34 -1.9 .33 2.9 .33 0 .34 -.6 .33 -1 .33 1.3 .34 -.9 .33 -1.4 .33 1 .34 2.2 .33 -1.2 .33 -.2 .34 2 .33 -.7 .33 .3 .34 -.3 .33 -1.4 .33 1.2 .34 -1.3 .33 2.6 .33 -1.7 .34 2.8 .33 -3 .33 .2 .34 2 .33 -2.5 .33 1.6 .34 .4 .33 2.1 .33 -1.8 .34 .1 .33 -.4 .33 0 .34 -.3 .33 1 .33 -.6 .34 .1 .33 -.4 .33 1.2 .34 -.3 .33 -.2 .33 .3 .34 1 .33 -2.6 .33 2.4 .34 -1 .33 .1 .33 .7 .34 .3 .33 -1.5 .33 1.9 .34 -1.3 .33 1.5 .33 -1.1 .34 2.2 .33 -2.8 .33 1 .34 .9 .33 -1.4 .33 .7 .34 -1.7 .33 .4 .33 .2 .34 .8 .33 -.8 .33 1.2 .34 -.4 .33 -1.5 .33 2.2 .34 .3 .33 -.2 .33 .1 .34 -.8 .33 .1 .33 .3 .34 .1 .33 .4 .33 .7 .34 -.4 .33 -.9 .33 -1.2 .34 .5 .33 1.1 .33 -.8 .34 1.7 .33 -1.2 .33 .1 .34 0 .33 -.2 .33 .3 .34 .8 .33 0 .33 .3 .34 -.1 .33 -.1 .33 -1.6 .34 .9 .33 -.3 .33 .3 .34 .3 .33 .1 .33 0 .34 .3 .33 .8 .33 -.6 .34 -1.4 .33 .2 .33 .6 .34 .3 .33 -1.1 .33 -.2 .34 .4 .33 .4 .33 .5 .34 .1 .33 -.2 .33 -.5 .34 .8 .33 -.6 .33 .5 .34 -1 .33 .9 .33 -.2 .34 -.1 .33 .4 .33 -.1 .34 -.1 .33 .1 .33 -.5 .34 .5 .33 -.6 .33 0 .34 .5 .33 .1 .33 -.4 .34 -.1 .33 0 .33 .2 .34 0 .33 1 .33 -1.3 .34 .5 .33 .5 .33 -.3 .34 -.1 .33 .6 .33 -.1 .34 .1 .33 -.7 .33 .5 .34 0 .33 -.6 .33 .7 .34 -.3 .33 -.3 .33 .3 .34 .1 .33 -.1 .33 -.1 .34 -1.1 .33 1.1 .33 .1 .34 -.8 .33 1 .33 -.2 .34 .3 .33 -.2 .33 -.2 .34 -.6 .33 .6 .33 -.3 .34 .2 .33 0 .33 .1 .34 .3 .33 .1 .33 -.2 .34 -.4 .33 .2 .33 .4 .34 .5 .33 -.9 .33 0 .34 0 .33 .2 .33 .3 .34 -.5 .33 .1 .33 0 .34 .8 .33 -.6 .33 .4 .34 0 .33 -.4 .33 .1 .34 -.2 .33 0 .33 -.3 .34 .2 .33 .1 .33 .4 .34 -.4 .33 -.2 .33 .5 .34 -.3 .33 .1 .33 -.2 .34 .6 .33 -.4 .33 .2 .34 -.4 .33 .1 .33 -.8 .34 1.3 .33 .5 .33 -1.4 .34 1.3 .33 -.2 .33 -.1 .34 -.4 .33 0 .33 .6 .34 -.6 .33 -.3 .33 .2 .34 .3 .33 -.1 .33 0 .34 .1 .33 .7 .33 -.6 .34 0 .33 -.5 .33 .2 .34 .6 .33 -.2 .33 .7 .34 -.9 .33 -.5 .33 .5 .34 -.1 .33 .8 .33 -1 .34 .2 .33 .8 .33 -.7 .34 -.1 .33 .5 .33 -.5 .34 .2 .33 -.1 .33 .3 .34 -.3 .33 .2 .33 -.4 .34 .2 .33 .2 .33 -.3 .34 .5 .33 -.2 .33 -.7 .34 1.3 .33 -.7 .33 .4 .34 -.1 .33 -.2 .33 .2 .34 0 .33 -.4 .33 .5 .34 -.6 .33 .8 .33 -.6 .34 .3 .33 -.2 .33 .3 .34 -.3 .33 0 .33 0 .34 .2 .33 .3 .33 -.7 .34 -.6 .33 .9 .33 -.1 .34 .2 .33 0 .33 -.2 .34 .1 .33 0 .33 -.2 .34 -.1 .33 0 .33 -.1 .34 .5 .33 .3 .33 .1 .34 -1.6 .33 1.4 .33 -.5 .34 .3 .33 0 .33 .6 .34 -.7 .33 .3 .33 -.4 .34 -.1 .33 .7 .33 .2 .34 -.7 .33 -.2 .33 .2 .34 -.3 .33 .4 .33 .6 .34 -.8 .33 .3 .33 .2 .34 -.6 .33 .4 .33 -.4 .34 .6 .33 -.1 .33 -.1 .34 -.7 .33 1.5 .33 -.7 .34 -.2 .33 .4 .33 -.1 .34 .1 .33 -.2 .33 .3 .34 -.4 .33 0 .33 .4 .34 -.2 .33 -.6 .33 .8 .34 .1 .33 -.1 .33 .5 .34 -.7 .33 -.5 .33 .4 .34 -.5 .33 .6 .33 .1 .34 .4 .33 .1 .33 -.5 .34 .4 .33 -.2 .33 -.4 .34 0 .33 -.3 .33 .4 .34 0 .33 -.1 .33 .2 .34 -.2 .33 .9 .33 -1.1 .34 .8 .33 -.5 .33 .1 .34 .2 .33 -.8 .33 .5 .34 .4 .33 -.7 .33 0 .34 -.3 .33 .6 .33 -.3 .34 .4 .33 -.1 .33 .3 .34 .4 .33 -1 .33 .3 .34 0 .33 .8 .33 -.6 .34 -.2 .33 -.3 .33 .7 .34 -.5 .33 .1 .33 .5 .34 -.1 .33 0 .33 .1 .34 -.4 .33 -.1 .33 .2 .34 -.2 .33 .7 .33 -.2 .34 -.1 .33 .1 .33 -.2 .34 0 .33 .4 .33 -.8 .34 .6 .33 .3 .33 -.6 .34 .2 .33 .1 .33 -.1 .34 .3 .33 -.1 .33 -.1 .34 -.1 .33 -.3 .33 .6 .34 -.3 .33 -.1 .33 .1 .34 .7 .33 -.8 .33 .5 .34 -.6 .33 0 .33 .9 .34 -.9 .33 .4 .33 .5 .34 -1.1 .33 .5 .33 .2 .34 -.3 .33 .4 .33 -.1 .34 -.1 .33 .2 .33 -.2 .34 -.5 .33 .7 .33 .4 .34 -.3 .33 -.1 .33 -.6 .34 .3 .33 .4 .33 -.1 .34 .3 .33 -.5 .33 -.4 .34 .1 .33 .5 .33 .2 .34 -.3 .33 .2 .33 -.1 .34 .2 .33 -.5 .33 0 .34 0 .33 .3 .33 0 .34 -.4 .33 .5 .33 .1 .34 -.4 .33 .3 .33 -.4 .34 .4 .33 -.4 .33 .4 .34 -.5 .33 0 .33 .8 .34 -.3 .33 -.2 .33 .5 .34 -1 .33 1 .33 -.2 .34 -.2 .33 .2 .33 .3 .34 -.2 .33 -.1 .33 .3 .34 .1 .33 -.7 .33 .5 .34 -.6 .33 .9 .33 -.3 .34 -.4 .33 .4 .33 -.3 .34 .2 .33 -.4 .33 .6 .34 -.1 .33 -.1 .33 .1 .34 -.3 .33 .3 .33 .1 .34 -.4 .33 0 .33 .8 .34 -.8 .33 .3 .33 -.4 .34 -.1 .33 .8 .33 0 .34 -.7 .33 -.3 .33 .4 .34 1 .33 -.5 .33 -.2 .34 -.1 .33 .1 .33 0 .34 .3 .33 -.2 .33 .3 .34 -.5 .33 .7 .33 -.5 .34 -.2 .33 -.2 .33 .1 .34 .4 .33 .2 .33 -.5 .34 0" stroke="#000000" stroke-width="1.5" fill="none" stroke-linejoin="round"/>
<path d="M486 322.8l.33 3.5 .33 .8 .34 -2.2 .33 .4 .33 1.3 .34 0 .33 2.4 .33 -2.7 .34 .7 .33 .6 .33 2.6 .34 .5 .33 .4 .33 -4 .34 5.6 .33 -6.9 .33 4.5 .34 .2 .33 .3 .33 3.4 .34 -1.4 .33 .2 .33 -2.3 .34 4.2 .33 -4.1 .33 2.4 .34 1.3 .33 -.8 .33 -.3 .34 .7 .33 -1.9 .33 2.2 .34 -.7 .33 1.4 .33 -1.3 .34 -2.2 .33 1.7 .33 2.4 .34 .4 .33 -2.4 .33 .5 .34 -.4 .33 1.3 .33 -1.9 .34 2.2 .33 -.5 .33 1.2 .34 -.3 .33 2.4 .33 -1.4 .34 -.3 .33 .4 .33 .6 .34 -.5 .33 -.7 .33 1.6 .34 -.3 .33 -2.5 .33 1.3 .34 1.1 .33 1.2 .33 -.3 .34 -.7 .33 .1 .33 .6 .34 -.6 .33 .9 .33 -1.6 .34 1.5 .33 -1.4 .33 .5 .34 .5 .33 1 .33 -2.8 .34 2.9 .33 -1.5 .33 .8 .34 1.4 .33 -1.8 .33 -1.3 .34 3.1 .33 -1.3 .33 .1 .34 .6 .33 -1.2 .33 .1 .34 -.2 .33 1 .33 -.4 .34 .5 .33 .4 .33 -.8 .34 .3 .33 .5 .33 -1.3 .34 2.3 .33 .1 .33 -1.2 .34 .6 .33 0 .33 -1.3 .34 .6 .33 .5 .33 -.4 .34 1.3 .33 -.7 .33 0 .34 -.9 .33 -.1 .33 .6 .34 1.1 .33 -1.5 .33 .7 .34 .4 .33 -.6 .33 -.1 .34 .2 .33 -.3 .33 -.8 .34 .6 .33 1.5 .33 -1.4 .34 1.4 .33 -1.7 .33 1 .34 -.5 .33 .2 .33 .9 .34 -.7 .33 .4 .33 -1.4 .34 .6 .33 1.5 .33 -.3 .34 -.5 .33 .2 .33 .1 .34 0 .33 0 .33 .1 .34 .1 .33 .6 .33 -.9 .34 -.9 .33 1.4 .33 .6 .34 .1 .33 -.8 .33 .1 .34 1 .33 -1.9 .33 .9 .34 0 .33 -.6 .33 .7 .34 -.2 .33 -.4 .33 .3 .34 1.2 .33 -1 .33 -.2 .34 .8 .33 -.5 .33 .2 .34 0 .33 -.3 .33 .4 .34 -.7 .33 .6 .33 -.5 .34 1.1 .33 -.3 .33 .2 .34 -.3 .33 .2 .33 -.8 .34 -.5 .33 1.4 .33 -.5 .34 0 .33 -1.1 .33 2.1 .34 -1 .33 .1 .33 -.3 .34 .5 .33 -.2 .33 -1.4 .34 .9 .33 .6 .33 0 .34 -.8 .33 .8 .33 -.3 .34 -1 .33 1.4 .33 -.6 .34 0 .33 .5 .33 -.9 .34 1 .33 .2 .33 -.4 .34 .5 .33 0 .33 -1.1 .34 .3 .33 .4 .33 .1 .34 -.6 .33 .1 .33 .4 .34 .2 .33 -.1 .33 .4 .34 -.2 .33 -.1 .33 -.2 .34 -.4 .33 1.3 .33 -1.2 .34 .2 .33 .3 .33 -.4 .34 .5 .33 -.4 .33 .5 .34 .4 .33 -.6 .33 0 .34 .4 .33 -.3 .33 .1 .34 -.7 .33 .3 .33 .6 .34 -.5 .33 0 .33 .9 .34 -.9 .33 .6 .33 -.3 .34 -.1 .33 .1 .33 -.2 .34 -.3 .33 .8 .33 -.4 .34 .5 .33 -.4 .33 -.2 .34 -.7 .33 .8 .33 .3 .34 -.3 .33 .1 .33 -.7 .34 .9 .33 -.3 .33 -.4 .34 1 .33 -.3 .33 -.2 .34 0 .33 -.1 .33 .1 .34 .2 .33 -.2 .33 .2 .34 .4 .33 -.4 .33 .1 .34 .2 .33 -.4 .33 .2 .34 -.1 .33 -.2 .33 -.1 .34 1.2 .33 -1 .33 .3 .34 -.4 .33 -.1 .33 -.4 .34 .7 .33 .6 .33 -.5 .34 -.4 .33 .6 .33 -.1 .34 -.1 .33 -.5 .33 .4 .34 .5 .33 -.5 .33 .7 .34 -.5 .33 -.2 .33 1.3 .34 -.7 .33 -1.1 .33 .4 .34 -.2 .33 .5 .33 .1 .34 -.1 .33 -.3 .33 .4 .34 -.7 .33 .9 .33 -.5 .34 .7 .33 -.7 .33 .7 .34 -.1 .33 -.3 .33 -.8 .34 .7 .33 .2 .33 -.4 .34 .6 .33 -.6 .33 .1 .34 1 .33 -.8 .33 -.3 .34 .2 .33 .4 .33 -.7 .34 .4 .33 .1 .33 -.1 .34 .2 .33 -.6 .33 .9 .34 -.2 .33 .2 .33 -.1 .34 0 .33 -.4 .33 .3 .34 -.5 .33 .5 .33 -.5 .34 .7 .33 0 .33 -.6 .34 .1 .33 0 .33 -.4 .34 .5 .33 -.5 .33 .2 .34 0 .33 .5 .33 .1 .34 0 .33 -.4 .33 .4 .34 .3 .33 -1 .33 1.1 .34 -.3 .33 -.3 .33 0 .34 -.1 .33 .2 .33 .9 .34 -1.5 .33 .6 .33 -.1 .34 -.4 .33 .5 .33 -.1 .34 .7 .33 -.6 .33 .3 .34 -.4 .33 -.1 .33 .5 .34 -.5 .33 .3 .33 0 .34 -.2 .33 .2 .33 .7 .34 -.9 .33 -.1 .33 .8 .34 -.8 .33 -.2 .33 .2 .34 .5 .33 .1 .33 -.4 .34 .3 .33 -.6 .33 .8 .34 -.2 .33 -.2 .33 0 .34 .5 .33 -.4 .33 -.2 .34 .6 .33 -.8 .33 .1 .34 .6 .33 -.5 .33 -.2 .34 0 .33 .5 .33 -.1 .34 -.3 .33 .5 .33 -.6 .34 -.1 .33 .6 .33 -.7 .34 .6 .33 .3 .33 -.7 .34 -.2 .33 .4 .33 .5 .34 .5 .33 -.7 .33 0 .34 -.3 .33 .7 .33 .1 .34 -.5 .33 .2 .33 .3 .34 -.4 .33 .5 .33 0 .34 -.5 .33 -.1 .33 -.1 .34 -.1 .33 1 .33 -.7 .34 -.2 .33 -.1 .33 .2 .34 1 .33 -.7 .33 -.9 .34 .9 .33 .1 .33 .1 .34 .2 .33 -.3 .33 .7 .34 -1.1 .33 .7 .33 -.7 .34 .1 .33 .8 .33 -.3 .34 -.5 .33 .4 .33 -.7 .34 .3 .33 0 .33 -.3 .34 .7 .33 -.6 .33 .4 .34 .5 .33 -.2 .33 -.5 .34 .1 .33 .3 .33 -.5 .34 .6 .33 0 .33 .3 .34 -.4 .33 0 .33 -.6 .34 .6 .33 .3 .33 -.3 .34 -.1 .33 -.1 .33 0 .34 .2 .33 -.5 .33 .7 .34 -.3 .33 .3 .33 -.3 .34 .1 .33 -.3 .33 1 .34 -.3 .33 -.3 .33 -.4 .34 1 .33 -.5 .33 -.2 .34 -.1 .33 .2 .33 .4 .34 -.7 .33 .3 .33 0 .34 .2 .33 .2 .33 -.3 .34 .1 .33 0 .33 -.4 .34 .3 .33 -.4 .33 .5 .34 -.1 .33 .1 .33 -.3 .34 1 .33 -.4 .33 -.4 .34 -.2 .33 .2 .33 0 .34 .1 .33 .1 .33 -.5 .34 .1 .33 .3 .33 -.6 .34 1.4 .33 -.5 .33 -.2 .34 .2 .33 -.2 .33 -.1 .34 .2 .33 -.1 .33 .3 .34 -.3 .33 .4 .33 .2 .34 -.4 .33 -.2 .33 -.4 .34 .2 .33 -.1 .33 .3 .34 .4 .33 -.9 .33 .7 .34 -.7 .33 .4 .33 .4 .34 -.4 .33 .6 .33 -.4 .34 -.1 .33 .1 .33 0 .34 .1 .33 -.5 .33 .4 .34 -.2 .33 .3 .33 -.3 .34 .3 .33 .6 .33 0 .34 -.7" stroke="#ff0a0a" stroke-width="1.5" fill="none" stroke-linejoin="round"/>
<path d="M486 306.6l.33 6.2 .33 -4.1 .34 2.9 .33 -2.6 .33 1.4 .34 .1 .33 .2 .33 .3 .34 2.8 .33 -1.3 .33 -1.3 .34 4.2 .33 -.1 .33 -.6 .34 .5 .33 0 .33 -1.3 .34 2 .33 .3 .33 0 .34 .8 .33 -.2 .33 -1.1 .34 2.4 .33 -2 .33 -.5 .34 3.4 .33 -2 .33 1.1 .34 1.8 .33 -1.3 .33 .6 .34 -1.4 .33 .1 .33 0 .34 1.9 .33 -.7 .33 -.1 .34 1.3 .33 -1.6 .33 2.1 .34 .7 .33 0 .33 .6 .34 -1.3 .33 -.7 .33 1 .34 -.4 .33 -.6 .33 2.2 .34 -1 .33 1.1 .33 .5 .34 -3.6 .33 1.8 .33 .5 .34 .9 .33 -.9 .33 1.3 .34 -.2 .33 -.3 .33 .5 .34 -1.2 .33 .3 .33 1.5 .34 -1.4 .33 1.3 .33 .2 .34 -.9 .33 -.4 .33 2 .34 .4 .33 .7 .33 -1.2 .34 .4 .33 -1.6 .33 .5 .34 1 .33 2 .33 -2.2 .34 1 .33 -1.2 .33 .2 .34 -.1 .33 .6 .33 .2 .34 -.1 .33 -.8 .33 -.1 .34 1.5 .33 .9 .33 -.8 .34 1 .33 -2 .33 .7 .34 -1.4 .33 2 .33 -.5 .34 -.7 .33 -.2 .33 .4 .34 .7 .33 -.4 .33 0 .34 -.3 .33 .7 .33 -.1 .34 0 .33 -.8 .33 1.6 .34 -1.3 .33 .7 .33 .1 .34 -.2 .33 .4 .33 .4 .34 -1.2 .33 1.3 .33 -1.6 .34 .6 .33 .6 .33 .7 .34 .8 .33 -2.6 .33 .6 .34 .7 .33 .4 .33 -.5 .34 1 .33 -.8 .33 -.6 .34 -.3 .33 .3 .33 .7 .34 0 .33 -1.7 .33 1.5 .34 0 .33 -.1 .33 .1 .34 -.8 .33 1.1 .33 -1.2 .34 .6 .33 1.4 .33 -1.4 .34 -.1 .33 .8 .33 .1 .34 .8 .33 -1.4 .33 .6 .34 -.8 .33 .8 .33 0 .34 -.4 .33 .9 .33 -.4 .34 .2 .33 -.3 .33 0 .34 -.1 .33 .2 .33 .3 .34 -.9 .33 .6 .33 0 .34 -.5 .33 .1 .33 1.4 .34 -1 .33 -.2 .33 .3 .34 .4 .33 -1.5 .33 .5 .34 .4 .33 .5 .33 -.3 .34 -.2 .33 -.1 .33 0 .34 .5 .33 -.8 .33 -.3 .34 .4 .33 .5 .33 .6 .34 -.9 .33 .2 .33 -.4 .34 .6 .33 -.1 .33 .4 .34 -.6 .33 0 .33 .5 .34 -.5 .33 0 .33 .8 .34 -.6 .33 .5 .33 -.9 .34 .7 .33 .2 .33 -.8 .34 .4 .33 -.6 .33 1.3 .34 -.7 .33 -.2 .33 0 .34 1 .33 -1.6 .33 1.4 .34 -.3 .33 -.1 .33 .1 .34 -.2 .33 .2 .33 -.7 .34 .7 .33 .2 .33 -.3 .34 .2 .33 0 .33 -.5 .34 .2 .33 .6 .33 -1.5 .34 1.3 .33 .3 .33 -.4 .34 .6 .33 -.5 .33 .2 .34 .1 .33 -.5 .33 -.6 .34 .6 .33 .5 .33 -.7 .34 -.1 .33 0 .33 1 .34 -.7 .33 -.2 .33 .1 .34 .3 .33 -.2 .33 .3 .34 -.3 .33 .1 .33 .2 .34 .4 .33 -.8 .33 -.3 .34 1.2 .33 -.1 .33 -.6 .34 .4 .33 -.2 .33 .2 .34 -.8 .33 .6 .33 .6 .34 -.8 .33 -.1 .33 .4 .34 -.4 .33 .7 .33 -.8 .34 -.4 .33 1.1 .33 -.1 .34 .3 .33 -.7 .33 0 .34 .1 .33 .7 .33 -.8 .34 .3 .33 .2 .33 -.4 .34 .5 .33 .1 .33 -1.1 .34 1.3 .33 -.6 .33 .1 .34 .4 .33 -.5 .33 .5 .34 0 .33 -.6 .33 .6 .34 0 .33 -.5 .33 .3 .34 0 .33 -.9 .33 .4 .34 .3 .33 -.3 .33 .6 .34 -.6 .33 .3 .33 -.2 .34 .5 .33 0 .33 -.3 .34 .2 .33 .3 .33 -.4 .34 .3 .33 .1 .33 -.7 .34 -.1 .33 -.1 .33 .7 .34 -.2 .33 .6 .33 -.7 .34 .4 .33 -.2 .33 -.4 .34 .3 .33 .6 .33 -1.2 .34 1.1 .33 -.5 .33 .1 .34 -.2 .33 .4 .33 -.1 .34 -.1 .33 -.1 .33 -.9 .34 1.1 .33 0 .33 .1 .34 .3 .33 -.4 .33 .2 .34 0 .33 .1 .33 .2 .34 -.1 .33 -.2 .33 -.4 .34 .8 .33 -.3 .33 .2 .34 -.8 .33 0 .33 -.1 .34 .6 .33 -.2 .33 .6 .34 -.7 .33 .4 .33 .1 .34 -.3 .33 .2 .33 -.1 .34 -.1 .33 .2 .33 -.5 .34 .7 .33 -.2 .33 .3 .34 -1 .33 .6 .33 -.1 .34 0 .33 -.4 .33 .3 .34 .1 .33 .3 .33 -.4 .34 -.2 .33 .4 .33 -.1 .34 0 .33 .2 .33 .2 .34 -.5 .33 .4 .33 .2 .34 -.4 .33 .3 .33 -.4 .34 0 .33 .1 .33 -.3 .34 .2 .33 -.1 .33 .2 .34 .1 .33 .4 .33 -.5 .34 0 .33 .4 .33 0 .34 -.5 .33 0 .33 .1 .34 .2 .33 .1 .33 -.6 .34 .5 .33 -.1 .33 .4 .34 -.5 .33 -.2 .33 .7 .34 .2 .33 .1 .33 -.7 .34 .2 .33 -.1 .33 -.3 .34 .7 .33 .5 .33 -.5 .34 -.5 .33 .4 .33 -.1 .34 .2 .33 -.5 .33 -.1 .34 0 .33 .5 .33 -.8 .34 0 .33 .5 .33 .2 .34 .1 .33 -.3 .33 -.1 .34 .5 .33 -.2 .33 -.5 .34 .5 .33 -.3 .33 -.1 .34 .4 .33 .3 .33 -.8 .34 .4 .33 .2 .33 .5 .34 -.9 .33 .4 .33 -.1 .34 .6 .33 -.2 .33 0 .34 -.5 .33 .8 .33 -.5 .34 -.4 .33 -.2 .33 .6 .34 -.2 .33 .4 .33 0 .34 0 .33 .3 .33 -.8 .34 .1 .33 -.3 .33 .1 .34 .2 .33 -.3 .33 1 .34 -.8 .33 .4 .33 -.2 .34 -.2 .33 .7 .33 -.5 .34 .2 .33 .1 .33 -.3 .34 .5 .33 -.6 .33 .4 .34 -.3 .33 .4 .33 -.4 .34 .3 .33 -.2 .33 .4 .34 -.5 .33 .4 .33 -.4 .34 .1 .33 .1 .33 -.2 .34 .4 .33 -.7 .33 .8 .34 0 .33 .6 .33 -1 .34 -.1 .33 .4 .33 -.1 .34 .1 .33 -.3 .33 .3 .34 .3 .33 -.1 .33 -.2 .34 0 .33 .4 .33 .3 .34 -.3 .33 -.4 .33 .2 .34 -.3 .33 .6 .33 -.8 .34 -.1 .33 1 .33 -.6 .34 .7 .33 -.6 .33 -.5 .34 .6 .33 -.2 .33 .3 .34 -.3 .33 .1 .33 -.1 .34 -.3 .33 .7 .33 -.2 .34 .3 .33 -.4 .33 .3 .34 0 .33 -.5 .33 .2 .34 1 .33 -1.6 .33 .8 .34 -.3 .33 0 .33 .5 .34 0 .33 -.1 .33 .1 .34 -.8 .33 .6 .33 -.5 .34 .7 .33 0 .33 -.2 .34 .2 .33 -.9 .33 .8 .34 .2 .33 -1.5 .33 1.3 .34 .1 .33 0 .33 -.4 .34 0 .33 .3 .33 -.2 .34 -.5" stroke="#0a0aff" stroke-width="1.5" fill="none" stroke-linejoin="round"/>
<path d="M523.1 325.7V310.0" stroke="#0a0aff" stroke-width="1" fill="none"/>
<path d="M486 294.4l.33 1.9 .33 -1.3 .34 -2.7 .33 3.7 .33 .2 .34 -.7 .33 -.8 .33 -.7 .34 1.7 .33 1.2 .33 4.3 .34 -3.2 .33 -.3 .33 -2.5 .34 1.1 .33 1.2 .33 .9 .34 .3 .33 2 .33 .8 .34 -.1 .33 -2.4 .33 .5 .34 -.2 .33 -.6 .33 .4 .34 2.5 .33 -1.4 .33 2.1 .34 -.9 .33 -.1 .33 .9 .34 .2 .33 3.5 .33 -4 .34 1.3 .33 -1.7 .33 1.3 .34 2.3 .33 -.9 .33 1.6 .34 -3.7 .33 1 .33 1.3 .34 -1.1 .33 .5 .33 -.5 .34 2.2 .33 -.9 .33 .4 .34 -1.1 .33 1.1 .33 2.2 .34 -.8 .33 -.6 .33 -.7 .34 .6 .33 .5 .33 1.8 .34 -1.4 .33 -.3 .33 .1 .34 -.7 .33 1.3 .33 -1 .34 .4 .33 .3 .33 2.3 .34 -.2 .33 -1.6 .33 1 .34 -.5 .33 .5 .33 -.5 .34 .8 .33 .8 .33 -1.3 .34 1.1 .33 -.9 .33 .7 .34 -1.4 .33 1.4 .33 -1 .34 .1 .33 .7 .33 1.6 .34 -1.3 .33 .7 .33 -.4 .34 -.5 .33 -.6 .33 .2 .34 -.5 .33 1.6 .33 -.3 .34 .2 .33 .3 .33 1 .34 -1.4 .33 .4 .33 .2 .34 .2 .33 -.5 .33 1 .34 -1.2 .33 .5 .33 -1.1 .34 1.2 .33 -.1 .33 -.1 .34 -.2 .33 .8 .33 .2 .34 1.1 .33 -1.1 .33 0 .34 .1 .33 .4 .33 -1 .34 0 .33 .4 .33 -.3 .34 .4 .33 -.4 .33 .4 .34 .6 .33 -.5 .33 .2 .34 .3 .33 0 .33 -.2 .34 -1 .33 .3 .33 1.3 .34 -1.1 .33 .4 .33 .6 .34 -1 .33 -.5 .33 .6 .34 .9 .33 .1 .33 -.2 .34 .9 .33 -.5 .33 -1.6 .34 .1 .33 .8 .33 -.7 .34 1.3 .33 -1.4 .33 1 .34 -.5 .33 .8 .33 .7 .34 -.9 .33 -1.2 .33 .9 .34 0 .33 .4 .33 .7 .34 -.9 .33 -.1 .33 -.3 .34 -.1 .33 .2 .33 .5 .34 .4 .33 -.2 .33 -.3 .34 .4 .33 -.4 .33 .7 .34 -1 .33 -.1 .33 .8 .34 -.3 .33 .8 .33 -.8 .34 .4 .33 .1 .33 .3 .34 .1 .33 -1.1 .33 -.3 .34 .6 .33 .5 .33 .2 .34 -.6 .33 1 .33 -.8 .34 .6 .33 -.5 .33 -.6 .34 .4 .33 .6 .33 .1 .34 -.4 .33 .8 .33 -.7 .34 .2 .33 -.1 .33 -.3 .34 -.3 .33 .5 .33 -.1 .34 -.1 .33 .3 .33 -.2 .34 .5 .33 0 .33 -.5 .34 .7 .33 -.5 .33 -.6 .34 .1 .33 .3 .33 .4 .34 -.4 .33 .7 .33 .4 .34 -1.2 .33 .4 .33 -.3 .34 .8 .33 -1.2 .33 1 .34 -.4 .33 .2 .33 0 .34 -.3 .33 -.1 .33 1 .34 -.4 .33 -.1 .33 .4 .34 -.8 .33 .6 .33 -.4 .34 -.5 .33 .4 .33 .3 .34 -.4 .33 0 .33 .6 .34 -.2 .33 -.2 .33 -.4 .34 .8 .33 .2 .33 -.4 .34 .2 .33 -.2 .33 .4 .34 0 .33 -.2 .33 .2 .34 -.4 .33 .6 .33 -.1 .34 -.5 .33 .5 .33 -.3 .34 -.2 .33 .2 .33 -.2 .34 .3 .33 -.2 .33 .1 .34 .7 .33 -1.6 .33 .7 .34 .6 .33 -.7 .33 -.2 .34 1 .33 .1 .33 -.7 .34 .2 .33 -.2 .33 -.2 .34 .5 .33 .1 .33 -.2 .34 -.4 .33 .4 .33 -.2 .34 0 .33 .3 .33 -.1 .34 -.5 .33 .8 .33 -.4 .34 0 .33 -.3 .33 .2 .34 -.3 .33 .5 .33 -.2 .34 .1 .33 .5 .33 -.6 .34 .6 .33 -.6 .33 .3 .34 -.6 .33 .6 .33 .2 .34 -1.3 .33 .8 .33 .4 .34 0 .33 -.3 .33 .1 .34 .3 .33 -.1 .33 -.6 .34 .8 .33 -.5 .33 .3 .34 0 .33 -.1 .33 .5 .34 .1 .33 -.4 .33 .5 .34 -.7 .33 .1 .33 .3 .34 -.3 .33 -.3 .33 .5 .34 .1 .33 -.7 .33 .7 .34 -.4 .33 .2 .33 0 .34 .4 .33 -.3 .33 .3 .34 -.5 .33 .2 .33 -.3 .34 .7 .33 -.5 .33 -.2 .34 .6 .33 -.1 .33 -.1 .34 0 .33 0 .33 0 .34 -.1 .33 -.1 .33 .2 .34 -.2 .33 .6 .33 -.5 .34 0 .33 -.5 .33 .4 .34 .1 .33 -.5 .33 .3 .34 0 .33 .2 .33 .3 .34 -.8 .33 .7 .33 .2 .34 0 .33 -.3 .33 -.5 .34 .7 .33 -.2 .33 .2 .34 .1 .33 -.3 .33 -.4 .34 .2 .33 -.2 .33 .6 .34 -.3 .33 -.5 .33 0 .34 .8 .33 -.6 .33 -.1 .34 .9 .33 -.4 .33 -.1 .34 .2 .33 .4 .33 -.4 .34 .4 .33 -.2 .33 -.2 .34 .3 .33 -.6 .33 -.1 .34 .2 .33 .6 .33 -.6 .34 .2 .33 -.2 .33 .3 .34 -.2 .33 .4 .33 -.5 .34 .3 .33 .3 .33 -.6 .34 0 .33 0 .33 -.2 .34 .8 .33 -.2 .33 .2 .34 -.4 .33 .2 .33 .3 .34 -.2 .33 .3 .33 -.5 .34 -.6 .33 .3 .33 .1 .34 .2 .33 -.2 .33 -.1 .34 .2 .33 -.2 .33 .4 .34 0 .33 .2 .33 .3 .34 -.5 .33 .6 .33 -.7 .34 0 .33 0 .33 -.1 .34 .7 .33 -1 .33 .7 .34 0 .33 0 .33 -.1 .34 .2 .33 .2 .33 -.5 .34 .2 .33 .3 .33 -1 .34 1 .33 -.6 .33 .2 .34 .4 .33 -.1 .33 -.2 .34 -.1 .33 -.1 .33 .2 .34 .3 .33 .1 .33 -.3 .34 0 .33 .3 .33 -.5 .34 .1 .33 .1 .33 -.1 .34 .3 .33 -.3 .33 0 .34 .9 .33 -1 .33 .5 .34 -.2 .33 -.3 .33 .4 .34 -.5 .33 0 .33 .5 .34 -.8 .33 .1 .33 .3 .34 0 .33 .3 .33 -.6 .34 .7 .33 -.3 .33 .1 .34 -.2 .33 0 .33 1.2 .34 -.8 .33 -.1 .33 .6 .34 -.2 .33 -1.3 .33 .9 .34 .3 .33 -.5 .33 .1 .34 .4 .33 -.3 .33 0 .34 -.3 .33 .3 .33 0 .34 .1 .33 .3 .33 -.4 .34 -.6 .33 .3 .33 .7 .34 -.5 .33 .1 .33 .4 .34 .5 .33 -1.3 .33 1 .34 -.3 .33 -.2 .33 -.5 .34 .2 .33 .7 .33 -.9 .34 1.3 .33 -.6 .33 -.1 .34 -.7 .33 .7 .33 .4 .34 -.2 .33 0 .33 -.1 .34 .1 .33 .2 .33 .3 .34 -.9 .33 .2 .33 .4 .34 -1.8 .33 1 .33 .5 .34 -.2 .33 .6 .33 .1 .34 -.1 .33 .1 .33 0 .34 -.5 .33 -.3 .33 .6 .34 .5 .33 -.5 .33 .3 .34 -.2 .33 -.1 .33 -.6 .34 .5 .33 .3 .33 -.4 .34 0 .33 -.3 .33 -.1 .34 .2 .33 -.2 .33 .8 .34 .2" stroke="#ff10ff" stroke-width="1.5" fill="none" stroke-linejoin="round"/>
<path d="M523.1 310.0V295.3" stroke="#ff10ff" stroke-width="1" fill="none"/>
<path d="M486 279.3l.33 -2.1 .33 1.2 .34 -1.3 .33 5.1 .33 -.9 .34 -.4 .33 1.2 .33 .2 .34 2.8 .33 -3.7 .33 1.6 .34 0 .33 2.8 .33 -3.5 .34 2.1 .33 .8 .33 -1.6 .34 1.2 .33 -.5 .33 3 .34 -2.7 .33 2.9 .33 -1.8 .34 -1.2 .33 2.1 .33 -.3 .34 -.8 .33 2.5 .33 0 .34 1.7 .33 -2.1 .33 -.1 .34 -.3 .33 2.2 .33 -1.7 .34 .7 .33 .5 .33 -2.1 .34 2 .33 .6 .33 .5 .34 -1.3 .33 1.5 .33 -3 .34 2.4 .33 .9 .33 .7 .34 .9 .33 -.8 .33 -.7 .34 1 .33 1 .33 -1.2 .34 .7 .33 .4 .33 -2 .34 .8 .33 .5 .33 -1 .34 .9 .33 1.5 .33 -.9 .34 -.1 .33 -.2 .33 .8 .34 -.3 .33 -.7 .33 1.3 .34 -1.4 .33 .4 .33 1.9 .34 -.9 .33 .6 .33 -.6 .34 -.9 .33 1.2 .33 -1.3 .34 3.3 .33 -2.9 .33 1.6 .34 -.5 .33 -.7 .33 1.7 .34 -.8 .33 -.4 .33 -1 .34 1.6 .33 1.5 .33 -.2 .34 -2 .33 1.9 .33 -.5 .34 .2 .33 .5 .33 -1.5 .34 .4 .33 1.7 .33 -1.4 .34 .1 .33 -.6 .33 .8 .34 .7 .33 .6 .33 .7 .34 -1.7 .33 -.1 .33 .7 .34 -.5 .33 -.1 .33 -.9 .34 .7 .33 .4 .33 0 .34 .1 .33 .8 .33 -1.9 .34 1.5 .33 -.2 .33 -.9 .34 1.2 .33 -.2 .33 -.9 .34 1 .33 .3 .33 -.4 .34 -.6 .33 .5 .33 .4 .34 0 .33 .3 .33 -.8 .34 1.8 .33 -1.9 .33 1.5 .34 -.7 .33 0 .33 .6 .34 -.9 .33 -.3 .33 1.3 .34 .4 .33 .3 .33 -.9 .34 -1.5 .33 1.5 .33 .2 .34 -.2 .33 .2 .33 .1 .34 -.1 .33 -.4 .33 -.5 .34 .3 .33 1.1 .33 -.2 .34 .1 .33 -.4 .33 -.6 .34 .7 .33 -.7 .33 .8 .34 -.7 .33 .8 .33 -.1 .34 -.5 .33 .5 .33 0 .34 -.3 .33 .2 .33 -.1 .34 -.7 .33 .6 .33 1.2 .34 -.8 .33 -.9 .33 .9 .34 .1 .33 -.1 .33 .2 .34 .2 .33 .4 .33 -.3 .34 .3 .33 -1.5 .33 0 .34 .9 .33 -.1 .33 -.1 .34 .6 .33 -1 .33 0 .34 .2 .33 .3 .33 -.4 .34 .4 .33 -.1 .33 .1 .34 -.1 .33 -.5 .33 .9 .34 .1 .33 -1 .33 .5 .34 .4 .33 0 .33 -.8 .34 .6 .33 -.2 .33 .7 .34 -.2 .33 .3 .33 -.8 .34 .5 .33 -.5 .33 .6 .34 -.3 .33 -.4 .33 .2 .34 .2 .33 .4 .33 -.8 .34 1.4 .33 -.8 .33 0 .34 0 .33 -.2 .33 .1 .34 .5 .33 -1 .33 .7 .34 .2 .33 .1 .33 -1 .34 .7 .33 -.7 .33 .4 .34 .3 .33 -.1 .33 -.1 .34 .4 .33 .1 .33 -.3 .34 -.3 .33 .1 .33 .3 .34 .1 .33 -.1 .33 -.5 .34 .2 .33 .3 .33 -.6 .34 .4 .33 0 .33 .5 .34 0 .33 -.7 .33 .9 .34 0 .33 -.7 .33 .1 .34 -.1 .33 0 .33 -.3 .34 -.4 .33 1 .33 .5 .34 -1 .33 .7 .33 -.5 .34 .3 .33 -.1 .33 .2 .34 .1 .33 0 .33 .1 .34 .2 .33 -.8 .33 .1 .34 .6 .33 -.7 .33 .7 .34 -.3 .33 .4 .33 -.3 .34 -.1 .33 0 .33 -.6 .34 .8 .33 -.2 .33 .4 .34 -.2 .33 -.5 .33 .3 .34 .2 .33 -.1 .33 .3 .34 -.3 .33 0 .33 -.5 .34 .7 .33 .2 .33 -.6 .34 -.1 .33 .2 .33 .7 .34 0 .33 -.5 .33 -.4 .34 .1 .33 -.2 .33 .1 .34 .5 .33 0 .33 -.3 .34 .3 .33 0 .33 .5 .34 -.8 .33 .8 .33 -.2 .34 -.6 .33 .4 .33 -.3 .34 .5 .33 -.2 .33 -.3 .34 .6 .33 -.3 .33 -.4 .34 .3 .33 .3 .33 -.2 .34 -.3 .33 .2 .33 .3 .34 .2 .33 -.6 .33 .3 .34 .1 .33 .1 .33 .2 .34 -.9 .33 .4 .33 .1 .34 .1 .33 .1 .33 0 .34 -.6 .33 -.1 .33 .4 .34 .2 .33 -.6 .33 .3 .34 .2 .33 0 .33 .3 .34 -.7 .33 .5 .33 -.2 .34 .7 .33 -1.2 .33 1 .34 -.9 .33 .6 .33 0 .34 -.5 .33 .1 .33 .4 .34 .2 .33 -.2 .33 -.5 .34 .3 .33 .7 .33 -.6 .34 -.6 .33 .4 .33 -.2 .34 0 .33 .8 .33 -.5 .34 0 .33 .2 .33 -.1 .34 -.1 .33 -.3 .33 -.5 .34 1.2 .33 0 .33 -.4 .34 -.2 .33 .1 .33 .5 .34 -.3 .33 .1 .33 .3 .34 -.7 .33 .2 .33 0 .34 .7 .33 -.5 .33 0 .34 -.4 .33 .7 .33 -.1 .34 -.1 .33 0 .33 -.6 .34 .7 .33 .3 .33 -.5 .34 .2 .33 .2 .33 -.5 .34 .3 .33 .4 .33 -.8 .34 1 .33 -.3 .33 -.8 .34 .1 .33 .5 .33 0 .34 -.3 .33 .7 .33 -.1 .34 -.1 .33 -.8 .33 .4 .34 .8 .33 -1.1 .33 .6 .34 .1 .33 0 .33 -.4 .34 -.3 .33 .3 .33 .5 .34 0 .33 -.4 .33 .3 .34 .1 .33 -.5 .33 0 .34 .2 .33 .1 .33 .6 .34 -.5 .33 -.2 .33 .5 .34 -.6 .33 -.1 .33 .3 .34 -.4 .33 -.4 .33 .9 .34 -.4 .33 0 .33 .4 .34 .3 .33 -.3 .33 -.2 .34 -.3 .33 .3 .33 .2 .34 .3 .33 0 .33 0 .34 -.4 .33 -.2 .33 0 .34 .4 .33 -.5 .33 .3 .34 .3 .33 -.1 .33 -.1 .34 -.3 .33 .5 .33 0 .34 .1 .33 -.3 .33 -.1 .34 -.2 .33 -.1 .33 .5 .34 .9 .33 -1 .33 -.2 .34 .8 .33 -.9 .33 .6 .34 -.3 .33 .1 .33 0 .34 -.2 .33 .5 .33 -.2 .34 0 .33 -.1 .33 -.2 .34 1.1 .33 -.9 .33 -.1 .34 .9 .33 -1.1 .33 .6 .34 .5 .33 -.6 .33 0 .34 0 .33 -.6 .33 .8 .34 .1 .33 -.3 .33 -.3 .34 .4 .33 .2 .33 -.3 .34 -.3 .33 .4 .33 -.4 .34 -.2 .33 .7 .33 -.4 .34 -.4 .33 .7 .33 -.1 .34 .1 .33 .2 .33 -.4 .34 .2 .33 .1 .33 .1 .34 -.5 .33 0 .33 .6 .34 .3 .33 -.5 .33 0 .34 -.7 .33 1 .33 -.3 .34 -.3 .33 .4 .33 -.3 .34 .1 .33 0 .33 .2 .34 .5 .33 -.6 .33 -.3 .34 .4 .33 -.3 .33 -.1 .34 -.1 .33 .2 .33 -.5 .34 .7 .33 -.2 .33 .5 .34 -.9 .33 .5 .33 -.3 .34 .4 .33 -.1 .33 .4 .34 -.2 .33 1 .33 -1.3 .34 .2 .33 -.2 .33 0 .34 0" stroke="#108810" stroke-width="1.5" fill="none" stroke-linejoin="round"/>
<path d="M523.1 295.3V280.9" stroke="#108810" stroke-width="1" fill="none"/>
<path d="M486 268.2l.33 -4.3 .33 6.2 .34 -3.7 .33 -.8 .33 2.3 .34 -1.8 .33 -.4 .33 1.9 .34 -.3 .33 3 .33 .3 .34 .5 .33 -.9 .33 2.5 .34 -.7 .33 -.5 .33 .9 .34 -.7 .33 1.1 .33 -3.3 .34 1.3 .33 4.4 .33 -3.4 .34 -.3 .33 .8 .33 .4 .34 1.2 .33 -.2 .33 -2 .34 3.2 .33 .9 .33 .1 .34 -.5 .33 .5 .33 -1.1 .34 -.3 .33 .5 .33 -1.2 .34 .9 .33 .4 .33 .8 .34 -.2 .33 1.4 .33 -.3 .34 -1.6 .33 .6 .33 -1.2 .34 3 .33 0 .33 .2 .34 -1 .33 -.7 .33 .7 .34 1.2 .33 .1 .33 .5 .34 -1.3 .33 1.1 .33 1.3 .34 -3.6 .33 1.6 .33 .4 .34 .7 .33 -1 .33 1.5 .34 -2.1 .33 1.8 .33 -.3 .34 -.8 .33 1.1 .33 .9 .34 -1.2 .33 -.5 .33 1.1 .34 -.6 .33 .2 .33 1.5 .34 -.6 .33 .4 .33 -2.4 .34 .9 .33 .2 .33 .4 .34 -.2 .33 .7 .33 .7 .34 .4 .33 -1.1 .33 .2 .34 1.3 .33 -2.1 .33 1.5 .34 -.2 .33 .2 .33 -.1 .34 -.2 .33 .7 .33 -.9 .34 .5 .33 -1.3 .33 1.9 .34 -.6 .33 -1.2 .33 1.9 .34 -1.1 .33 .7 .33 -.1 .34 -.2 .33 .8 .33 -1.3 .34 .8 .33 1.2 .33 -.9 .34 -.1 .33 -1 .33 .8 .34 0 .33 0 .33 0 .34 .1 .33 -.1 .33 -.5 .34 .3 .33 .4 .33 -.2 .34 .5 .33 .4 .33 -.6 .34 -.4 .33 -.2 .33 1.4 .34 -.9 .33 -.3 .33 .4 .34 .2 .33 .2 .33 -.9 .34 .8 .33 -.1 .33 -.1 .34 .3 .33 -.3 .33 1.1 .34 -.5 .33 .1 .33 -.5 .34 .7 .33 -.6 .33 -.6 .34 0 .33 .5 .33 .1 .34 .1 .33 .3 .33 -.3 .34 -.1 .33 .3 .33 -.7 .34 .8 .33 -.1 .33 0 .34 .2 .33 -1.3 .33 .2 .34 0 .33 1.4 .33 -1 .34 .4 .33 .8 .33 -1.5 .34 .3 .33 .5 .33 .2 .34 .4 .33 -1 .33 .7 .34 -.7 .33 .4 .33 -.1 .34 0 .33 .6 .33 -.2 .34 -.8 .33 .8 .33 .3 .34 -.6 .33 .1 .33 .5 .34 -.7 .33 .9 .33 -.9 .34 .2 .33 -.1 .33 .3 .34 0 .33 -.6 .33 .6 .34 0 .33 -.2 .33 -.1 .34 .4 .33 0 .33 -.7 .34 .8 .33 .5 .33 -.6 .34 .1 .33 -.7 .33 .9 .34 -.2 .33 0 .33 -.3 .34 .6 .33 -.1 .33 0 .34 -.6 .33 .8 .33 -.2 .34 .5 .33 -1.1 .33 .4 .34 -.1 .33 .3 .33 0 .34 -.3 .33 .1 .33 -.6 .34 1.1 .33 -.5 .33 0 .34 0 .33 0 .33 .2 .34 -.3 .33 .1 .33 -.4 .34 .6 .33 .2 .33 -.3 .34 -.2 .33 .2 .33 .5 .34 -.6 .33 0 .33 .2 .34 .3 .33 -.1 .33 -.2 .34 -.3 .33 .6 .33 -.1 .34 -.8 .33 1.2 .33 -.2 .34 -.1 .33 0 .33 -.5 .34 .6 .33 .1 .33 .1 .34 -.6 .33 -.1 .33 .9 .34 -.6 .33 -.9 .33 .6 .34 .3 .33 .3 .33 -.7 .34 .3 .33 -.2 .33 .2 .34 -.2 .33 .6 .33 -.6 .34 .2 .33 .3 .33 -.4 .34 .2 .33 -.1 .33 .7 .34 -.8 .33 .4 .33 -.3 .34 0 .33 -.3 .33 .5 .34 -.1 .33 .2 .33 -.1 .34 -.3 .33 .1 .33 -.3 .34 .7 .33 .1 .33 -.4 .34 -.1 .33 .9 .33 -.8 .34 .5 .33 -.6 .33 .2 .34 -.3 .33 .4 .33 -.2 .34 .2 .33 .1 .33 -.4 .34 1 .33 -.9 .33 .3 .34 .3 .33 -.2 .33 -.3 .34 -.1 .33 .1 .33 -.7 .34 1.1 .33 .3 .33 -.1 .34 .3 .33 -.9 .33 .2 .34 0 .33 .2 .33 -.3 .34 -.6 .33 .9 .33 .4 .34 -1 .33 -.2 .33 .8 .34 -.5 .33 .4 .33 .1 .34 -.4 .33 -.1 .33 .4 .34 -.2 .33 .3 .33 1.1 .34 -.8 .33 -.2 .33 0 .34 -.8 .33 .4 .33 1 .34 -.6 .33 -.4 .33 .2 .34 .7 .33 -.4 .33 -.1 .34 -.2 .33 .1 .33 .6 .34 -1 .33 .5 .33 -.7 .34 1.1 .33 -.3 .33 .1 .34 -.6 .33 0 .33 .5 .34 -.1 .33 .1 .33 -.2 .34 0 .33 -.1 .33 -.2 .34 .2 .33 -.4 .33 .8 .34 -.1 .33 .2 .33 -.3 .34 -.7 .33 1 .33 .1 .34 -.7 .33 -.1 .33 .9 .34 -.6 .33 .2 .33 -.4 .34 .5 .33 -.2 .33 .6 .34 -.4 .33 -.9 .33 .4 .34 .5 .33 0 .33 -.5 .34 .4 .33 .4 .33 -.2 .34 -.5 .33 .5 .33 .2 .34 -.5 .33 -.2 .33 .8 .34 -.1 .33 -.4 .33 -.1 .34 .5 .33 -.2 .33 .3 .34 -.4 .33 -.3 .33 .3 .34 .4 .33 -.3 .33 -.2 .34 0 .33 .6 .33 -.2 .34 -.1 .33 -.5 .33 -.2 .34 .8 .33 -.9 .33 1.1 .34 .1 .33 -.2 .33 -.4 .34 .3 .33 -.3 .33 -.1 .34 .2 .33 .2 .33 .8 .34 -.8 .33 .1 .33 -.5 .34 .4 .33 .2 .33 0 .34 -.1 .33 -.4 .33 .8 .34 -.4 .33 .5 .33 .2 .34 -.4 .33 -.9 .33 .2 .34 .4 .33 .2 .33 -.5 .34 -.3 .33 1 .33 -.7 .34 .6 .33 .3 .33 -.8 .34 -.2 .33 .3 .33 .4 .34 -.8 .33 .6 .33 -.5 .34 -.1 .33 .1 .33 .3 .34 -.3 .33 .5 .33 -.5 .34 .1 .33 -.2 .33 1 .34 -.7 .33 .3 .33 .2 .34 -.2 .33 -.1 .33 -.1 .34 -.2 .33 .6 .33 -.2 .34 -.6 .33 .4 .33 .6 .34 -.2 .33 -.1 .33 .3 .34 -.9 .33 .4 .33 0 .34 .1 .33 .3 .33 -.3 .34 -.4 .33 .3 .33 0 .34 .9 .33 -.3 .33 0 .34 .2 .33 -.5 .33 .3 .34 -.1 .33 -.1 .33 -.5 .34 1 .33 -.6 .33 0 .34 .3 .33 -.1 .33 .2 .34 -.6 .33 -.5 .33 .3 .34 .4 .33 .2 .33 .4 .34 -.7 .33 .2 .33 -.3 .34 .5 .33 .2 .33 -.1 .34 -.5 .33 -.1 .33 0 .34 .4 .33 -.6 .33 1 .34 -.2 .33 0 .33 -.4 .34 .3 .33 .4 .33 -.5 .34 .3 .33 -.2 .33 .5 .34 -.7 .33 -.7 .33 1 .34 -.3 .33 -.4 .33 .3 .34 0 .33 .3 .33 .1 .34 -.5 .33 0 .33 .5 .34 -.5 .33 .6 .33 -.3 .34 -.2 .33 .5 .33 -.3 .34 -.8 .33 .9 .33 -.4 .34 .1 .33 -.6 .33 1.4 .34 -.4 .33 -.3 .33 .4 .34 -.1 .33 -.2 .33 -.1 .34 .2 .33 .2 .33 .2 .34 -.4" stroke="#161690" stroke-width="1.5" fill="none" stroke-linejoin="round"/>
<path d="M523.1 280.9V243.5" stroke="#161690" stroke-width="1" fill="none"/>
<path d="M523.1 225.0V227.2" stroke="#161690" stroke-width="0.8" stroke-opacity="0.45" fill="none"/>
</g>
<rect x="486.0" y="225.0" width="191.0" height="140.3" fill="none" stroke="#858585" stroke-width="1.3"/>
<path d="M486.0 365.3v-3.6M501.9 365.3v-2.6M517.8 365.3v-3.6M533.8 365.3v-2.6M549.7 365.3v-3.6M565.6 365.3v-2.6M581.5 365.3v-3.6M597.4 365.3v-2.6M613.3 365.3v-3.6M629.2 365.3v-2.6M645.2 365.3v-3.6M661.1 365.3v-2.6M677.0 365.3v-3.6" stroke="#858585" stroke-width="1.1"/>
<text x="486.0" y="377.0" class="tk">20</text>
<text x="517.8" y="377.0" class="tk">30</text>
<text x="549.7" y="377.0" class="tk">40</text>
<text x="581.5" y="377.0" class="tk">50</text>
<text x="613.3" y="377.0" class="tk">60</text>
<text x="645.2" y="377.0" class="tk">70</text>
<text x="677.0" y="377.0" class="tk">80</text>
<text x="581.8" y="392.0" class="xl">Two-theta (deg.)</text>
<text transform="translate(472.2 295.1) rotate(-90)" class="yl">Intensity (a.u.)</text>
<text x="643.9" y="280.4" class="lb">15 min</text>
<text x="643.9" y="295.9" class="lb">10 min</text>
<text x="645.2" y="311.0" class="lb">5 min</text>
<text x="645.0" y="325.5" class="lb">3 min</text>
<text x="645.0" y="340.5" class="lb">0 min</text>
<text x="645.2" y="355.3" class="lb">Control</text>
<text x="523.1" y="235.5" class="an">(200)</text>
<path d="M520.9 238.4L525.3 238.4L523.1 245.7Z" fill="#111"/>
<text x="485.6" y="222.3" class="tt">I70S5</text>
<text x="459.8" y="218.6" class="rm">iii</text>
<g clip-path="url(#c5)">
<path d="M47.4 520.2l.33 -.1 .33 2.7 .34 -.7 .33 1.5 .33 -.8 .34 .3 .33 .2 .33 0 .34 .1 .33 2.2 .33 -1.8 .34 .8 .33 1.2 .33 .9 .34 .4 .33 -1.9 .33 1.2 .34 0 .33 -.8 .33 1.4 .34 -1.2 .33 .5 .33 .6 .34 2 .33 -2.3 .33 2.4 .34 -3.3 .33 2.9 .33 -.3 .34 .7 .33 -.1 .33 -.4 .34 .5 .33 .1 .33 0 .34 -.1 .33 2 .33 -1.1 .34 1.5 .33 -1.3 .33 .2 .34 0 .33 .1 .33 0 .34 .6 .33 .1 .33 0 .34 -1.1 .33 2.9 .33 -1.4 .34 .2 .33 .5 .33 -.1 .34 -1.9 .33 1.4 .33 .5 .34 -.3 .33 1.3 .33 -.3 .34 -1.1 .33 1 .33 .7 .34 -.7 .33 -.9 .33 1.4 .34 -.5 .33 -.7 .33 .7 .34 .3 .33 .2 .33 .5 .34 -.1 .33 -.9 .33 .7 .34 .5 .33 -.7 .33 .2 .34 .2 .33 -.1 .33 -.4 .34 .9 .33 0 .33 .2 .34 -.3 .33 -.2 .33 .6 .34 -.1 .33 -.2 .33 .8 .34 -.1 .33 -1.2 .33 .7 .34 0 .33 .9 .33 -1.2 .34 .4 .33 .2 .33 1 .34 -1.6 .33 .1 .33 .1 .34 -.2 .33 .1 .33 .4 .34 0 .33 .3 .33 -.2 .34 -.4 .33 1 .33 .1 .34 -.8 .33 1.2 .33 -1 .34 .5 .33 -.6 .33 .2 .34 .5 .33 -.1 .33 .5 .34 -.3 .33 -.4 .33 .9 .34 -.9 .33 0 .33 .5 .34 -.2 .33 -.2 .33 .3 .34 -.5 .33 .8 .33 -.4 .34 0 .33 .4 .33 -.9 .34 1 .33 -.2 .33 .1 .34 .3 .33 -.5 .33 .2 .34 .5 .33 -.4 .33 -.3 .34 -.3 .33 .4 .33 .4 .34 -.2 .33 .2 .33 0 .34 -.4 .33 -.6 .33 .3 .34 .9 .33 -.8 .33 .7 .34 -.1 .33 -.7 .33 0 .34 1 .33 -.5 .33 .8 .34 -.8 .33 -.3 .33 .3 .34 .1 .33 0 .33 .4 .34 -.2 .33 -.4 .33 -.1 .34 0 .33 .8 .33 -.4 .34 .4 .33 -.2 .33 .1 .34 0 .33 -.6 .33 -.1 .34 .2 .33 -.1 .33 .3 .34 -.2 .33 .1 .33 .8 .34 -.8 .33 .4 .33 -.6 .34 0 .33 1.3 .33 -.5 .34 -.2 .33 -.3 .33 -.2 .34 .2 .33 .9 .33 -1 .34 -.1 .33 .2 .33 .2 .34 0 .33 -.1 .33 -.1 .34 .1 .33 1 .33 -.6 .34 -.8 .33 1.1 .33 -.1 .34 -.2 .33 -.1 .33 .6 .34 -1.2 .33 .5 .33 -.3 .34 .8 .33 -.8 .33 .6 .34 -.7 .33 .9 .33 -.6 .34 -.2 .33 0 .33 .2 .34 .1 .33 .1 .33 -.4 .34 .9 .33 -.3 .33 -.4 .34 .5 .33 .1 .33 -.2 .34 -.6 .33 .4 .33 -.1 .34 -.3 .33 .5 .33 -.3 .34 0 .33 1.9 .33 -2.2 .34 .8 .33 -.6 .33 .8 .34 -.6 .33 -.2 .33 1.2 .34 .1 .33 -1.6 .33 .9 .34 -1 .33 1 .33 -.3 .34 .2 .33 -.1 .33 -.1 .34 -.2 .33 .4 .33 .2 .34 -.3 .33 .5 .33 -.6 .34 .5 .33 .1 .33 -.8 .34 .6 .33 -.4 .33 .1 .34 1 .33 -.6 .33 -.2 .34 -.4 .33 .5 .33 -.2 .34 0 .33 0 .33 .8 .34 -.5 .33 -.1 .33 .1 .34 -.5 .33 .5 .33 -.1 .34 -.4 .33 .6 .33 -1 .34 .7 .33 -.1 .33 -.2 .34 .2 .33 .1 .33 .3 .34 .1 .33 -.1 .33 .2 .34 -1.1 .33 .2 .33 .6 .34 -.4 .33 .3 .33 .2 .34 .3 .33 -.2 .33 -.1 .34 0 .33 -.4 .33 .1 .34 -.2 .33 .4 .33 .1 .34 -.4 .33 .5 .33 -.4 .34 .7 .33 -.5 .33 -.2 .34 .5 .33 .2 .33 -.4 .34 -.1 .33 -.3 .33 0 .34 -.1 .33 .4 .33 .6 .34 -.6 .33 -.4 .33 .6 .34 -.1 .33 .3 .33 .7 .34 -1.5 .33 .6 .33 0 .34 -.3 .33 .6 .33 -.3 .34 -.2 .33 .1 .33 .3 .34 .1 .33 -.2 .33 -.1 .34 .1 .33 -.4 .33 .2 .34 -.1 .33 .1 .33 .7 .34 -.4 .33 -.2 .33 -.6 .34 .9 .33 -.2 .33 -.2 .34 0 .33 .2 .33 -.7 .34 .3 .33 .5 .33 -.3 .34 0 .33 -.1 .33 .7 .34 -.6 .33 .2 .33 .2 .34 -.3 .33 -.1 .33 .9 .34 -.5 .33 .1 .33 -.4 .34 1 .33 -.6 .33 -.6 .34 -.1 .33 .8 .33 -.7 .34 .8 .33 -1 .33 .4 .34 .6 .33 -.5 .33 .3 .34 -.2 .33 .4 .33 -.4 .34 0 .33 .4 .33 -.4 .34 .2 .33 .6 .33 -.8 .34 .4 .33 -.5 .33 -.1 .34 .2 .33 .4 .33 .1 .34 -.2 .33 -.3 .33 .3 .34 -.2 .33 .6 .33 -.4 .34 -.1 .33 -.1 .33 -.1 .34 .2 .33 .5 .33 -1 .34 .6 .33 .1 .33 -.6 .34 .6 .33 0 .33 -.7 .34 .8 .33 -.4 .33 0 .34 -.2 .33 -.3 .33 1 .34 -.6 .33 .7 .33 .2 .34 -.3 .33 -.6 .33 .4 .34 -.3 .33 -.3 .33 .6 .34 -.7 .33 .6 .33 -.4 .34 -.1 .33 .4 .33 -.1 .34 .6 .33 0 .33 .3 .34 -.6 .33 -.2 .33 .1 .34 .4 .33 -.4 .33 .4 .34 -.4 .33 -.1 .33 .6 .34 -.2 .33 0 .33 -.2 .34 -.1 .33 .2 .33 -.4 .34 .2 .33 -.2 .33 .4 .34 -.4 .33 -.2 .33 .4 .34 -.1 .33 .1 .33 -.3 .34 1.3 .33 -.9 .33 .6 .34 -.4 .33 -.1 .33 -.4 .34 .7 .33 -.2 .33 0 .34 -.1 .33 -.3 .33 0 .34 .4 .33 .1 .33 .4 .34 -1.2 .33 .8 .33 -.2 .34 -.2 .33 .2 .33 .3 .34 -.3 .33 0 .33 0 .34 .1 .33 .8 .33 -.1 .34 -.3 .33 -.9 .33 1.1 .34 -.7 .33 .2 .33 -.2 .34 .3 .33 -.5 .33 .7 .34 -.2 .33 -.3 .33 .1 .34 -.2 .33 .3 .33 -.1 .34 -.1 .33 -.1 .33 .3 .34 -.1 .33 .1 .33 -.2 .34 .7 .33 -.6 .33 .5 .34 -.3 .33 .2 .33 -.9 .34 1.2 .33 -1.1 .33 .4 .34 0 .33 .5 .33 -.1 .34 -.5 .33 .5 .33 .1 .34 -.5 .33 .1 .33 .1 .34 0 .33 .2 .33 .1 .34 -.4 .33 .2 .33 0 .34 0 .33 -.5 .33 .1 .34 .1 .33 .1 .33 .4 .34 -.5 .33 1 .33 -1.1 .34 .4 .33 0 .33 -.3 .34 .6 .33 -.2 .33 -.2 .34 0 .33 -.2 .33 .7 .34 -.3 .33 -.3 .33 .5 .34 -.8 .33 .7 .33 0 .34 -.1 .33 .1 .33 .2 .34 0 .33 -.5 .33 .5" stroke="#000000" stroke-width="2.4" fill="none" stroke-linejoin="round"/>
<path d="M47.4 510l.33 .5 .33 -2.3 .34 1.3 .33 -.5 .33 .3 .34 1.7 .33 -.8 .33 -2.1 .34 2.9 .33 .5 .33 2.2 .34 -2.5 .33 .3 .33 2.7 .34 -1.8 .33 -.8 .33 1.2 .34 -.8 .33 -.1 .33 -.6 .34 2.9 .33 -1.1 .33 -.6 .34 -.8 .33 .7 .33 -2 .34 4.2 .33 -2.2 .33 1.1 .34 .3 .33 .4 .33 -.6 .34 -.3 .33 1.5 .33 .4 .34 -1.9 .33 1.2 .33 .1 .34 -.7 .33 .9 .33 0 .34 -.8 .33 .6 .33 0 .34 0 .33 .7 .33 .2 .34 .7 .33 -2.4 .33 .8 .34 .4 .33 .5 .33 .6 .34 -1.9 .33 1.4 .33 -1.2 .34 2.2 .33 .8 .33 -1.9 .34 -.2 .33 .3 .33 .4 .34 0 .33 -.4 .33 .4 .34 .9 .33 .1 .33 -.9 .34 -.2 .33 .2 .33 1.4 .34 -.1 .33 -1.3 .33 .5 .34 .7 .33 -.5 .33 0 .34 -.8 .33 1.1 .33 .4 .34 -.6 .33 -.4 .33 .9 .34 .2 .33 -.7 .33 -.4 .34 .9 .33 -.6 .33 1 .34 -.1 .33 -.4 .33 .3 .34 -.6 .33 .4 .33 -.6 .34 1.4 .33 -1 .33 .1 .34 -.2 .33 .7 .33 .7 .34 -.5 .33 -.2 .33 .3 .34 .7 .33 -1.1 .33 .2 .34 .1 .33 .4 .33 -.5 .34 .2 .33 .2 .33 .3 .34 .2 .33 -.8 .33 0 .34 .1 .33 .4 .33 -.1 .34 .2 .33 .2 .33 -.9 .34 .8 .33 -.3 .33 .3 .34 -.2 .33 0 .33 .3 .34 .3 .33 -.6 .33 .4 .34 .3 .33 -.7 .33 .6 .34 0 .33 -.8 .33 .1 .34 .2 .33 .1 .33 .7 .34 -.9 .33 .9 .33 -.8 .34 -.2 .33 .4 .33 -.1 .34 .2 .33 .2 .33 -.5 .34 .3 .33 .6 .33 -.6 .34 1 .33 -.8 .33 -.3 .34 1.1 .33 -1.1 .33 .7 .34 .2 .33 0 .33 -.5 .34 -.4 .33 .8 .33 -.3 .34 -.5 .33 .7 .33 -.5 .34 .5 .33 -.2 .33 .4 .34 -.1 .33 -.5 .33 .7 .34 0 .33 .5 .33 -.6 .34 -.1 .33 .1 .33 -.2 .34 .3 .33 -.3 .33 .6 .34 -.6 .33 -.3 .33 .2 .34 .9 .33 -.2 .33 -.8 .34 .4 .33 0 .33 .8 .34 -.7 .33 0 .33 .1 .34 -.7 .33 .5 .33 0 .34 0 .33 -.4 .33 .7 .34 0 .33 -.2 .33 .2 .34 .2 .33 -.1 .33 -.3 .34 -.6 .33 0 .33 .7 .34 -.3 .33 .5 .33 -.6 .34 .5 .33 .3 .33 -.3 .34 -.6 .33 .3 .33 .6 .34 -.3 .33 -.7 .33 .9 .34 -.5 .33 .7 .33 -.1 .34 .2 .33 -.4 .33 -.1 .34 -.3 .33 0 .33 .6 .34 -.3 .33 .1 .33 .2 .34 -.8 .33 .5 .33 -.3 .34 .9 .33 -.1 .33 .6 .34 -1 .33 0 .33 0 .34 .1 .33 -.1 .33 -.1 .34 0 .33 .3 .33 -.3 .34 .2 .33 .2 .33 -.1 .34 0 .33 .3 .33 -.8 .34 .4 .33 0 .33 .7 .34 -.4 .33 .1 .33 -.2 .34 -.1 .33 .2 .33 -.7 .34 1 .33 -.9 .33 .3 .34 .5 .33 -.6 .33 .5 .34 0 .33 -.5 .33 .7 .34 -.9 .33 .6 .33 -.3 .34 .2 .33 .2 .33 -.3 .34 .9 .33 -.3 .33 .2 .34 -.3 .33 -.3 .33 0 .34 .3 .33 -.7 .33 .1 .34 -.1 .33 .7 .33 -.5 .34 .4 .33 -.1 .33 -.2 .34 .2 .33 .1 .33 .2 .34 -.1 .33 -.7 .33 .5 .34 .5 .33 .2 .33 -.4 .34 .1 .33 0 .33 -.7 .34 .1 .33 .3 .33 -.1 .34 .2 .33 -.3 .33 -.4 .34 .3 .33 -.1 .33 1.2 .34 -.4 .33 -.4 .33 -.1 .34 .5 .33 -.4 .33 -.6 .34 .3 .33 .3 .33 0 .34 -.1 .33 -.2 .33 .2 .34 .4 .33 -.1 .33 .2 .34 -.6 .33 .3 .33 -.1 .34 .2 .33 .3 .33 -.5 .34 .2 .33 -.5 .33 .6 .34 -.1 .33 .1 .33 0 .34 .2 .33 -.1 .33 -.5 .34 .4 .33 0 .33 .3 .34 -.7 .33 .4 .33 0 .34 -.1 .33 -.2 .33 -.1 .34 .7 .33 -.4 .33 -.3 .34 -.1 .33 0 .33 .3 .34 .1 .33 0 .33 -.2 .34 .3 .33 -.1 .33 .1 .34 -.1 .33 0 .33 .3 .34 0 .33 -.1 .33 -.4 .34 .6 .33 -.8 .33 1 .34 -.3 .33 .3 .33 0 .34 -1.1 .33 .5 .33 .5 .34 .1 .33 -.8 .33 .2 .34 .6 .33 -.5 .33 .2 .34 0 .33 .3 .33 -.1 .34 0 .33 -.1 .33 -.2 .34 .6 .33 -.7 .33 -.2 .34 0 .33 .8 .33 -.8 .34 .7 .33 -.7 .33 .5 .34 0 .33 -.2 .33 0 .34 .7 .33 -.2 .33 .2 .34 -.2 .33 .1 .33 -.1 .34 -.4 .33 .3 .33 .3 .34 -.4 .33 0 .33 .1 .34 .3 .33 -.8 .33 .9 .34 -.8 .33 .2 .33 .3 .34 -.4 .33 .5 .33 -.2 .34 .1 .33 -.3 .33 -.1 .34 .3 .33 -.3 .33 .3 .34 .6 .33 -.4 .33 -.2 .34 0 .33 .3 .33 -.6 .34 -.5 .33 .7 .33 .1 .34 .1 .33 -.1 .33 -.4 .34 .4 .33 .7 .33 -.8 .34 .3 .33 -.5 .33 .2 .34 .1 .33 .3 .33 -.2 .34 -.1 .33 .2 .33 -.3 .34 .7 .33 -.5 .33 0 .34 -.2 .33 .4 .33 -.1 .34 -.3 .33 .1 .33 -.8 .34 .9 .33 0 .33 -.5 .34 .4 .33 .5 .33 -.5 .34 .5 .33 -.9 .33 .7 .34 -.4 .33 0 .33 .4 .34 .1 .33 -.7 .33 .1 .34 .6 .33 -.3 .33 .4 .34 -.2 .33 .3 .33 0 .34 -.7 .33 .6 .33 -.2 .34 0 .33 .1 .33 .1 .34 -.9 .33 .8 .33 -.2 .34 .5 .33 .2 .33 -.6 .34 0 .33 .1 .33 -.2 .34 .5 .33 -.2 .33 -.2 .34 -.3 .33 .7 .33 -.2 .34 .3 .33 -1 .33 .8 .34 -.3 .33 -.1 .33 .4 .34 .3 .33 -.6 .33 .1 .34 -.4 .33 .5 .33 -.3 .34 .3 .33 .2 .33 0 .34 0 .33 .5 .33 -.9 .34 -.1 .33 .6 .33 -.3 .34 -.5 .33 .7 .33 .4 .34 -1.1 .33 .6 .33 -.4 .34 .7 .33 -.1 .33 -.2 .34 .2 .33 -.6 .33 .4 .34 -.2 .33 -.2 .33 .9 .34 -.7 .33 0 .33 -.1 .34 .5 .33 -.3 .33 .3 .34 -.2 .33 -.2 .33 -.2 .34 .1 .33 -.5 .33 .6 .34 .4 .33 .1 .33 0 .34 -.5 .33 -.2 .33 .5 .34 -.1 .33 .3 .33 -.2 .34 .1 .33 -.4 .33 .4 .34 -.4 .33 .9 .33 -.6" stroke="#ff0a0a" stroke-width="2.4" fill="none" stroke-linejoin="round"/>
<path d="M47.4 491.4l.33 .3 .33 -1.6 .34 2 .33 .2 .33 1.4 .34 .4 .33 -2.6 .33 1.3 .34 .2 .33 .9 .33 -.3 .34 1.3 .33 -2.4 .33 2.6 .34 .1 .33 .1 .33 .9 .34 -1.9 .33 .3 .33 .9 .34 .9 .33 .3 .33 -1.1 .34 .8 .33 .1 .33 -1 .34 2.4 .33 -.1 .33 .1 .34 -1.5 .33 1 .33 -.1 .34 .9 .33 -1.6 .33 1.8 .34 -.3 .33 .2 .33 -.4 .34 .7 .33 -.4 .33 -.8 .34 1 .33 .9 .33 .3 .34 -.8 .33 .1 .33 .2 .34 .3 .33 -.1 .33 -.1 .34 .8 .33 1.2 .33 -1.3 .34 .6 .33 -1.8 .33 1.5 .34 -.6 .33 1.5 .33 -.5 .34 .4 .33 -.7 .33 .3 .34 -1.2 .33 1.1 .33 -.7 .34 1.2 .33 -.5 .33 -1 .34 -.2 .33 .8 .33 1 .34 0 .33 -1.1 .33 .6 .34 1.1 .33 -.5 .33 .2 .34 0 .33 .4 .33 0 .34 .9 .33 -1.8 .33 .2 .34 .4 .33 -.3 .33 .5 .34 -.5 .33 1.4 .33 -.8 .34 -.2 .33 .4 .33 -.2 .34 .2 .33 .1 .33 -.4 .34 -.9 .33 1.1 .33 -.2 .34 .1 .33 .5 .33 -.4 .34 1.3 .33 -.9 .33 .1 .34 -.1 .33 .7 .33 -1 .34 -.4 .33 .7 .33 0 .34 -.7 .33 1.3 .33 .3 .34 -.7 .33 .1 .33 -.7 .34 -.2 .33 .5 .33 .5 .34 -.8 .33 .3 .33 .6 .34 -.5 .33 .3 .33 -.6 .34 .9 .33 -.1 .33 -.5 .34 -.3 .33 .6 .33 -.1 .34 .1 .33 .3 .33 -.2 .34 -.2 .33 -.2 .33 .7 .34 .3 .33 -1 .33 .8 .34 .2 .33 -.9 .33 -.1 .34 .3 .33 .5 .33 -.9 .34 .7 .33 -.4 .33 .7 .34 -.9 .33 1.2 .33 -.6 .34 0 .33 0 .33 .7 .34 -1.3 .33 .9 .33 .2 .34 -.9 .33 .3 .33 -.1 .34 .1 .33 .2 .33 .8 .34 -1 .33 -.2 .33 1.1 .34 -.7 .33 -.4 .33 .8 .34 -.2 .33 -.2 .33 -.1 .34 .2 .33 0 .33 -.1 .34 .7 .33 -1 .33 .2 .34 -.1 .33 .3 .33 -.3 .34 .9 .33 -.2 .33 0 .34 -.6 .33 .4 .33 -.3 .34 .6 .33 -.6 .33 -.2 .34 0 .33 .4 .33 .1 .34 -.3 .33 -.1 .33 1 .34 -.8 .33 .4 .33 -.5 .34 -.1 .33 .7 .33 -.4 .34 -.1 .33 -.1 .33 .2 .34 -.1 .33 .6 .33 -.3 .34 .1 .33 -.3 .33 -.6 .34 .9 .33 .1 .33 -.5 .34 .4 .33 -.5 .33 .9 .34 -.4 .33 .8 .33 -.6 .34 -.5 .33 -.1 .33 0 .34 .7 .33 -.8 .33 .4 .34 -.1 .33 -.1 .33 .3 .34 -.1 .33 .5 .33 -.3 .34 .4 .33 -.2 .33 -.5 .34 .1 .33 -.4 .33 .4 .34 -.5 .33 .3 .33 .3 .34 .1 .33 .1 .33 -.3 .34 0 .33 .3 .33 .2 .34 -.3 .33 .5 .33 -.7 .34 .6 .33 -.3 .33 .2 .34 .3 .33 -.5 .33 -.2 .34 .1 .33 -.1 .33 -.5 .34 .2 .33 .5 .33 -.4 .34 .6 .33 -.3 .33 .1 .34 .6 .33 -.7 .33 .4 .34 -.1 .33 0 .33 -.5 .34 .1 .33 .1 .33 -.2 .34 0 .33 .3 .33 .2 .34 0 .33 .4 .33 -.7 .34 .1 .33 -.3 .33 .5 .34 0 .33 0 .33 .2 .34 -.8 .33 0 .33 1.2 .34 -1 .33 .1 .33 -.2 .34 .2 .33 -.3 .33 .6 .34 -.1 .33 -.3 .33 .1 .34 .5 .33 -.3 .33 .5 .34 0 .33 -.2 .33 .2 .34 -.7 .33 0 .33 .3 .34 .1 .33 -.7 .33 .4 .34 .1 .33 0 .33 .8 .34 -.2 .33 -.6 .33 0 .34 .1 .33 .1 .33 -.6 .34 .3 .33 .1 .33 -.4 .34 1.1 .33 -.4 .33 0 .34 .5 .33 .1 .33 -.9 .34 .6 .33 -.4 .33 0 .34 -.4 .33 0 .33 1 .34 -.7 .33 .1 .33 .3 .34 -.1 .33 .1 .33 -.1 .34 .3 .33 -.4 .33 .3 .34 -.4 .33 .6 .33 -.3 .34 -.3 .33 -.7 .33 .9 .34 .5 .33 -.9 .33 .6 .34 -.4 .33 .2 .33 .3 .34 -.9 .33 .2 .33 .6 .34 -.4 .33 .2 .33 .1 .34 .9 .33 -1.1 .33 0 .34 0 .33 .5 .33 -.5 .34 .1 .33 .1 .33 -.1 .34 .2 .33 .2 .33 .1 .34 -.7 .33 .3 .33 0 .34 -.1 .33 -.3 .33 .1 .34 1 .33 -.5 .33 -.2 .34 0 .33 -.6 .33 .7 .34 0 .33 -.1 .33 -.2 .34 .5 .33 -.6 .33 .1 .34 .5 .33 -.3 .33 .6 .34 -.3 .33 -.2 .33 .6 .34 -.2 .33 .1 .33 -.4 .34 -.3 .33 0 .33 .2 .34 .4 .33 0 .33 -.5 .34 .6 .33 -.4 .33 .4 .34 -.5 .33 .1 .33 -.3 .34 1.1 .33 -1 .33 .4 .34 -.3 .33 .2 .33 0 .34 .2 .33 -.4 .33 .5 .34 .1 .33 -.6 .33 .5 .34 -.1 .33 -.7 .33 1.5 .34 -1 .33 .3 .33 -.3 .34 .1 .33 .2 .33 0 .34 -.3 .33 -.3 .33 .4 .34 .1 .33 -.1 .33 -.2 .34 .4 .33 .5 .33 -1.3 .34 .4 .33 .2 .33 .3 .34 0 .33 .1 .33 .1 .34 .1 .33 -.5 .33 -.1 .34 -.4 .33 .8 .33 .1 .34 -.4 .33 .3 .33 -.4 .34 .2 .33 -.3 .33 .9 .34 -.1 .33 -1 .33 .6 .34 -.1 .33 0 .33 .3 .34 -.4 .33 .3 .33 -.3 .34 .8 .33 -.8 .33 -.2 .34 .5 .33 -.5 .33 .2 .34 .1 .33 .1 .33 0 .34 0 .33 0 .33 .3 .34 -.3 .33 .2 .33 -.1 .34 .1 .33 -.6 .33 .3 .34 .4 .33 -.3 .33 -.3 .34 .6 .33 0 .33 -.1 .34 -.2 .33 .3 .33 -.3 .34 0 .33 .3 .33 -.4 .34 .4 .33 -.2 .33 .2 .34 -.6 .33 .3 .33 -.1 .34 -.2 .33 .8 .33 -.5 .34 .3 .33 -.5 .33 .2 .34 .7 .33 0 .33 -.4 .34 .1 .33 -.7 .33 .7 .34 .1 .33 0 .33 -.2 .34 -.2 .33 -.2 .33 .1 .34 0 .33 .5 .33 .2 .34 -.9 .33 .3 .33 0 .34 0 .33 .4 .33 .1 .34 -.2 .33 -.3 .33 .3 .34 -.4 .33 0 .33 .4 .34 .1 .33 -.3 .33 .2 .34 .1 .33 .2 .33 -.4 .34 .4 .33 -.3 .33 .1 .34 -.3 .33 .2 .33 0 .34 -.4 .33 .5 .33 -.4 .34 .5 .33 -.5 .33 0 .34 .7 .33 -.6 .33 -.1 .34 .6 .33 -.6 .33 .4 .34 .3 .33 -.5 .33 .1 .34 .1 .33 .3 .33 -.4" stroke="#0a0aff" stroke-width="2.4" fill="none" stroke-linejoin="round"/>
<path d="M84.7 502.2V485.2M193.6 504.7V501.2" stroke="#0a0aff" stroke-width="2.0" fill="none"/>
<path d="M47.4 473.7l.33 1.3 .33 -.5 .34 .8 .33 -2.6 .33 -.3 .34 2.4 .33 -1.5 .33 1.3 .34 .2 .33 1.5 .33 -.2 .34 1.6 .33 -1.6 .33 .6 .34 1.3 .33 .1 .33 -.2 .34 -.4 .33 -.3 .33 1.1 .34 1.1 .33 -.3 .33 -.4 .34 .4 .33 .6 .33 -.6 .34 1 .33 -.6 .33 .4 .34 .9 .33 -1.6 .33 .5 .34 .6 .33 .2 .33 -.6 .34 .8 .33 -.5 .33 .1 .34 .5 .33 1.4 .33 -1.1 .34 1.7 .33 -.9 .33 -.1 .34 1 .33 -.9 .33 -.2 .34 -.1 .33 -.2 .33 1.8 .34 -.7 .33 -.7 .33 1.2 .34 .2 .33 .3 .33 .3 .34 -.6 .33 .1 .33 -.3 .34 .2 .33 .2 .33 -.9 .34 .6 .33 1.3 .33 -1.5 .34 .8 .33 -1.3 .33 1.2 .34 -.6 .33 .4 .33 -.3 .34 -.1 .33 1.5 .33 -.9 .34 .6 .33 .4 .33 0 .34 .1 .33 -.6 .33 .5 .34 -1.1 .33 1 .33 .8 .34 -1.1 .33 .5 .33 -1.5 .34 .9 .33 -.8 .33 .4 .34 .3 .33 .7 .33 -.9 .34 1.3 .33 0 .33 .1 .34 -.3 .33 -.9 .33 0 .34 .1 .33 .9 .33 .2 .34 -1.3 .33 1.4 .33 -.6 .34 -.2 .33 .4 .33 .4 .34 .5 .33 0 .33 -.9 .34 -.4 .33 .8 .33 .1 .34 .4 .33 -.1 .33 -.5 .34 -.1 .33 .2 .33 -.9 .34 1.1 .33 -.5 .33 .2 .34 .8 .33 -.4 .33 -.5 .34 .7 .33 -.9 .33 .5 .34 -.6 .33 .4 .33 .1 .34 0 .33 .4 .33 -.8 .34 .2 .33 .2 .33 .2 .34 .7 .33 -.4 .33 -1 .34 .5 .33 .6 .33 .8 .34 -1.2 .33 .8 .33 -.1 .34 0 .33 -1.5 .33 1 .34 -.1 .33 .6 .33 -.9 .34 .9 .33 -.2 .33 .4 .34 -.5 .33 -.3 .33 .8 .34 -.5 .33 -.4 .33 .5 .34 -.3 .33 .3 .33 -.3 .34 .8 .33 -.4 .33 -.2 .34 .1 .33 -.3 .33 .9 .34 -1.1 .33 1 .33 -.4 .34 0 .33 .9 .33 -.7 .34 .4 .33 -1 .33 .1 .34 .7 .33 .4 .33 -.8 .34 .5 .33 -.2 .33 .3 .34 0 .33 -.6 .33 0 .34 -.4 .33 .4 .33 .5 .34 -1 .33 1.3 .33 -.5 .34 -.4 .33 .7 .33 -.3 .34 -.5 .33 .2 .33 .7 .34 -.4 .33 .4 .33 -.5 .34 .4 .33 -.3 .33 -.4 .34 .5 .33 .2 .33 -.4 .34 .5 .33 -.3 .33 -.2 .34 .4 .33 -.1 .33 .1 .34 -.7 .33 .6 .33 -.2 .34 .1 .33 -.2 .33 .7 .34 -.1 .33 -.6 .33 .3 .34 .1 .33 .1 .33 -.3 .34 .3 .33 .7 .33 -.9 .34 .2 .33 -.4 .33 .1 .34 .1 .33 -.2 .33 0 .34 .9 .33 -.8 .33 .2 .34 -.2 .33 .1 .33 -.6 .34 .9 .33 -.4 .33 .6 .34 -.1 .33 -.4 .33 -.2 .34 .5 .33 -.2 .33 -.1 .34 .2 .33 .2 .33 -.5 .34 .6 .33 -.2 .33 .1 .34 0 .33 -.6 .33 .4 .34 .2 .33 -.3 .33 0 .34 .8 .33 -.6 .33 .4 .34 -.2 .33 .1 .33 0 .34 -.5 .33 0 .33 .2 .34 .1 .33 -.5 .33 .4 .34 -.1 .33 .4 .33 -.1 .34 -.6 .33 1.2 .33 -1.4 .34 1.4 .33 -.7 .33 1.1 .34 -1 .33 .3 .33 -.3 .34 -.3 .33 -.3 .33 .3 .34 .1 .33 .3 .33 .2 .34 -.1 .33 -.1 .33 .2 .34 -.1 .33 .4 .33 .2 .34 -.7 .33 .1 .33 .2 .34 -.2 .33 0 .33 -.4 .34 .2 .33 .3 .33 0 .34 -.5 .33 -.1 .33 .3 .34 .1 .33 0 .33 -.3 .34 -.4 .33 .7 .33 .1 .34 .7 .33 -.8 .33 .1 .34 .4 .33 -.1 .33 -.1 .34 -.7 .33 .6 .33 .2 .34 -.1 .33 -.4 .33 -.2 .34 .9 .33 -.1 .33 -.2 .34 0 .33 -.3 .33 .7 .34 -.3 .33 .5 .33 -.6 .34 .1 .33 -.2 .33 .1 .34 .4 .33 0 .33 -.4 .34 .2 .33 .1 .33 -.1 .34 -.2 .33 -.2 .33 .1 .34 .1 .33 .9 .33 -1.5 .34 .7 .33 .3 .33 -.9 .34 .8 .33 -.5 .33 -.1 .34 -.7 .33 1.2 .33 -.1 .34 0 .33 -.5 .33 .9 .34 -.3 .33 -.1 .33 .2 .34 -.4 .33 -.1 .33 .1 .34 .2 .33 -.3 .33 .3 .34 -.2 .33 .2 .33 .6 .34 -.6 .33 0 .33 .4 .34 -.2 .33 .4 .33 -.6 .34 .3 .33 -.5 .33 .4 .34 .2 .33 -.3 .33 .2 .34 .1 .33 -.8 .33 .5 .34 .4 .33 -.2 .33 -.1 .34 .1 .33 0 .33 -.2 .34 .1 .33 .1 .33 .4 .34 -.4 .33 -.3 .33 .3 .34 .3 .33 -.1 .33 -.4 .34 .3 .33 -.1 .33 .2 .34 .2 .33 -.2 .33 -.4 .34 -.2 .33 .3 .33 .4 .34 -.1 .33 -.5 .33 -.1 .34 .5 .33 -.5 .33 .6 .34 -.1 .33 -.4 .33 .4 .34 -.2 .33 .1 .33 .3 .34 -.5 .33 .7 .33 .1 .34 -.5 .33 .5 .33 -1.2 .34 .7 .33 -.4 .33 .4 .34 .8 .33 -1.2 .33 .9 .34 -.2 .33 -.7 .33 .8 .34 -.5 .33 .1 .33 .6 .34 -.1 .33 -.7 .33 .5 .34 -.1 .33 0 .33 .5 .34 -.4 .33 .4 .33 -.5 .34 .3 .33 -.5 .33 .2 .34 -.2 .33 .4 .33 -.4 .34 .1 .33 .1 .33 -.1 .34 .5 .33 -.9 .33 .4 .34 .4 .33 .4 .33 -.3 .34 -.2 .33 .1 .33 0 .34 -.2 .33 .1 .33 -.4 .34 .7 .33 -.4 .33 .5 .34 -.1 .33 -.4 .33 -.4 .34 .5 .33 .4 .33 .6 .34 -1 .33 .2 .33 -.2 .34 .4 .33 -1.4 .33 1.5 .34 -.1 .33 -.4 .33 -.2 .34 .3 .33 .2 .33 -.7 .34 .9 .33 -.2 .33 -.4 .34 .9 .33 -.5 .33 .1 .34 .4 .33 -.5 .33 -.4 .34 -.3 .33 1 .33 -.2 .34 -.4 .33 .2 .33 .1 .34 .6 .33 -.5 .33 .2 .34 -.9 .33 .2 .33 .6 .34 .2 .33 -.2 .33 0 .34 .3 .33 -.4 .33 -1.3 .34 1.2 .33 -.1 .33 -.1 .34 .8 .33 -.5 .33 -.5 .34 .1 .33 .5 .33 -.3 .34 .4 .33 0 .33 -.2 .34 0 .33 -.4 .33 -.1 .34 .5 .33 .2 .33 -.1 .34 -.5 .33 .1 .33 .3 .34 0 .33 .3 .33 -.5 .34 .2 .33 -.4 .33 .3 .34 .2 .33 .2 .33 -.1 .34 .5 .33 -.9 .33 .7 .34 -.1 .33 -.8 .33 .5 .34 -.3 .33 .1 .33 .6 .34 -.1 .33 0 .33 -.2 .34 .5 .33 -.3 .33 -.4" stroke="#ff10ff" stroke-width="2.4" fill="none" stroke-linejoin="round"/>
<path d="M84.7 485.2V469.2M193.6 488.2V485.2" stroke="#ff10ff" stroke-width="2.0" fill="none"/>
<path d="M47.4 457.1l.33 1 .33 -.9 .34 1.2 .33 -.8 .33 .7 .34 -2.3 .33 3.9 .33 .4 .34 .3 .33 .7 .33 -.6 .34 -.8 .33 1.9 .33 .3 .34 -1.6 .33 -.8 .33 1.9 .34 1.3 .33 -2 .33 2.3 .34 -.5 .33 1 .33 -1.5 .34 .6 .33 -.4 .33 .5 .34 .3 .33 -.4 .33 -.2 .34 1.3 .33 .3 .33 -.9 .34 -1.3 .33 1.2 .33 .3 .34 1.4 .33 .1 .33 .3 .34 .1 .33 -.5 .33 .7 .34 -1.3 .33 .7 .33 .3 .34 -.6 .33 1.6 .33 .1 .34 -1.7 .33 2.4 .33 -1.7 .34 .9 .33 -.3 .33 -.2 .34 .4 .33 1.3 .33 -1.3 .34 .3 .33 .9 .33 -.4 .34 -.7 .33 .5 .33 -.4 .34 .7 .33 -1.1 .33 .9 .34 .4 .33 -.1 .33 .1 .34 -.2 .33 .9 .33 -.4 .34 .9 .33 -.5 .33 -.4 .34 .3 .33 1.1 .33 -.8 .34 -.3 .33 -.8 .33 .1 .34 1.5 .33 -.5 .33 -.7 .34 .7 .33 -.3 .33 0 .34 -.3 .33 1.3 .33 -.8 .34 -.4 .33 .6 .33 .8 .34 -1.6 .33 .8 .33 1.1 .34 -.2 .33 -.1 .33 -1.1 .34 .8 .33 -.2 .33 0 .34 .5 .33 -.9 .33 .8 .34 .2 .33 -1 .33 .1 .34 1 .33 -.2 .33 .1 .34 -.4 .33 .5 .33 -.6 .34 .6 .33 0 .33 .6 .34 -.8 .33 -.6 .33 .6 .34 .4 .33 -.4 .33 .4 .34 .3 .33 0 .33 -.1 .34 -.2 .33 -.7 .33 .6 .34 0 .33 .8 .33 -.5 .34 .1 .33 -.7 .33 .6 .34 .2 .33 -1 .33 .6 .34 -.4 .33 .6 .33 0 .34 .3 .33 .3 .33 -.5 .34 -.1 .33 .4 .33 -.7 .34 .4 .33 -.3 .33 .5 .34 -.1 .33 -.6 .33 -.1 .34 1.1 .33 -.3 .33 0 .34 .2 .33 -.4 .33 .1 .34 .3 .33 .1 .33 .3 .34 -.9 .33 .3 .33 -.2 .34 1.2 .33 -1.3 .33 .3 .34 .8 .33 -.9 .33 .6 .34 -.2 .33 0 .33 .3 .34 -.6 .33 -.1 .33 .1 .34 .3 .33 .1 .33 -.3 .34 0 .33 -.5 .33 .6 .34 -.3 .33 .5 .33 .5 .34 -.1 .33 -.2 .33 -.3 .34 0 .33 0 .33 .3 .34 -.3 .33 -.6 .33 .7 .34 .5 .33 -.7 .33 -.4 .34 .6 .33 .2 .33 0 .34 .2 .33 -.7 .33 .7 .34 -.2 .33 -.3 .33 .6 .34 0 .33 -.2 .33 -.4 .34 .5 .33 -.5 .33 .6 .34 -.5 .33 .1 .33 -.1 .34 1.3 .33 -1.7 .33 .6 .34 0 .33 -.1 .33 .4 .34 -1 .33 .5 .33 .2 .34 .8 .33 -.3 .33 -.3 .34 -.2 .33 .1 .33 .5 .34 -.4 .33 -.3 .33 -.3 .34 1 .33 -.6 .33 .1 .34 .2 .33 .1 .33 -.4 .34 .3 .33 .2 .33 -.9 .34 .5 .33 .1 .33 -.5 .34 .3 .33 .6 .33 -.3 .34 -.5 .33 .6 .33 .1 .34 -.4 .33 -.3 .33 .4 .34 -.1 .33 .1 .33 -.4 .34 .6 .33 0 .33 .2 .34 -.8 .33 .8 .33 -.4 .34 .5 .33 -.6 .33 0 .34 .2 .33 -.5 .33 .3 .34 .3 .33 0 .33 .2 .34 .1 .33 -1.1 .33 .9 .34 -.1 .33 -.4 .33 .3 .34 -.1 .33 .9 .33 -.8 .34 .1 .33 .4 .33 -.5 .34 .5 .33 -.8 .33 .8 .34 -.6 .33 .2 .33 -.4 .34 -.3 .33 .9 .33 -.1 .34 -.5 .33 .6 .33 .1 .34 -.2 .33 -.1 .33 .1 .34 .2 .33 0 .33 -.2 .34 -.4 .33 0 .33 .1 .34 .7 .33 -.2 .33 0 .34 .2 .33 0 .33 -.3 .34 0 .33 -.8 .33 .7 .34 -.2 .33 .8 .33 -.5 .34 -.5 .33 .6 .33 .1 .34 -.4 .33 .8 .33 -.1 .34 -.7 .33 .2 .33 0 .34 .1 .33 .1 .33 0 .34 0 .33 .1 .33 -.6 .34 .4 .33 -.1 .33 -.4 .34 1 .33 .1 .33 -.4 .34 0 .33 -.3 .33 .4 .34 .1 .33 -.3 .33 0 .34 .7 .33 -.3 .33 -.4 .34 .1 .33 -.1 .33 -.1 .34 .3 .33 -.1 .33 -.6 .34 .8 .33 -.4 .33 .2 .34 -.1 .33 .5 .33 -.4 .34 .2 .33 -.5 .33 .2 .34 .5 .33 -.4 .33 .1 .34 -.5 .33 .5 .33 .1 .34 .1 .33 -.8 .33 .6 .34 .2 .33 0 .33 -.4 .34 .2 .33 .2 .33 -.5 .34 .4 .33 -.2 .33 1 .34 -1.2 .33 .4 .33 0 .34 -.1 .33 .2 .33 .1 .34 .2 .33 -.6 .33 -.2 .34 .3 .33 -.1 .33 .4 .34 .2 .33 -.4 .33 .1 .34 -.2 .33 .1 .33 .2 .34 .5 .33 -1.1 .33 1 .34 -.9 .33 .4 .33 .3 .34 -.3 .33 0 .33 -.2 .34 .1 .33 .2 .33 .3 .34 -.5 .33 .2 .33 -.1 .34 .2 .33 0 .33 -.8 .34 .5 .33 .7 .33 .1 .34 -.8 .33 .9 .33 -.5 .34 -.6 .33 .4 .33 .4 .34 .1 .33 -.4 .33 -.1 .34 -.4 .33 .4 .33 -.4 .34 .5 .33 0 .33 .1 .34 .3 .33 -.6 .33 -.3 .34 .1 .33 .7 .33 -.6 .34 .6 .33 -.5 .33 .7 .34 -.5 .33 -.2 .33 .8 .34 -.1 .33 -.7 .33 .4 .34 -.2 .33 .1 .33 .1 .34 .3 .33 -.2 .33 -.7 .34 .6 .33 -.1 .33 .3 .34 -.3 .33 .3 .33 -.6 .34 .5 .33 -.2 .33 -.1 .34 .6 .33 -.6 .33 .4 .34 -.2 .33 .3 .33 .2 .34 -.3 .33 -.6 .33 .5 .34 .4 .33 .1 .33 -.5 .34 -.6 .33 .6 .33 -.4 .34 .1 .33 .4 .33 .2 .34 -.6 .33 0 .33 .2 .34 .5 .33 0 .33 -.4 .34 .1 .33 -.2 .33 0 .34 .4 .33 -.5 .33 .7 .34 -.3 .33 0 .33 -.1 .34 .3 .33 0 .33 -.4 .34 0 .33 .5 .33 -.6 .34 .5 .33 -.2 .33 .4 .34 -.6 .33 .9 .33 -.7 .34 -.3 .33 .2 .33 .4 .34 -.3 .33 -.4 .33 .1 .34 .9 .33 -1.1 .33 .1 .34 .7 .33 -.1 .33 -.3 .34 .2 .33 .6 .33 -1 .34 .5 .33 -.2 .33 .6 .34 -1.1 .33 .4 .33 .3 .34 .1 .33 -.4 .33 .4 .34 .1 .33 -1 .33 .8 .34 .1 .33 .2 .33 -.4 .34 -.3 .33 0 .33 .3 .34 .2 .33 -.3 .33 0 .34 -.1 .33 .4 .33 -.1 .34 -.6 .33 1 .33 -.5 .34 .3 .33 -.2 .33 -.3 .34 .2 .33 0 .33 -.1 .34 .8 .33 -.8 .33 .5 .34 -.5 .33 .4 .33 .1 .34 .1 .33 -.2 .33 -.1 .34 .5 .33 -.3 .33 -.3" stroke="#108810" stroke-width="2.4" fill="none" stroke-linejoin="round"/>
<path d="M84.7 469.2V453.0M193.6 472.0V455.8M127.8 470.7V467.5" stroke="#108810" stroke-width="2.0" fill="none"/>
<path d="M47.4 441.5l.33 -.8 .33 1.6 .34 .1 .33 0 .33 .7 .34 -1.2 .33 1.1 .33 -1.1 .34 3.7 .33 -1.4 .33 .2 .34 .3 .33 -1 .33 1.4 .34 -.4 .33 1.5 .33 -.1 .34 -1.3 .33 .6 .33 -.4 .34 .3 .33 .7 .33 .7 .34 .3 .33 -1 .33 2.9 .34 -3.9 .33 .1 .33 1.6 .34 1.2 .33 -.2 .33 -.1 .34 .2 .33 .7 .33 .2 .34 .1 .33 1.4 .33 -2 .34 .5 .33 -1 .33 2.3 .34 -1.9 .33 .1 .33 .2 .34 2 .33 -.8 .33 -.3 .34 .2 .33 -.3 .33 1 .34 -1.5 .33 .7 .33 1.4 .34 0 .33 -1.3 .33 .5 .34 1.6 .33 -.4 .33 -.7 .34 -.2 .33 .6 .33 -.5 .34 1.3 .33 -1.4 .33 .3 .34 .6 .33 -.1 .33 .1 .34 .4 .33 -.4 .33 .4 .34 -.1 .33 0 .33 .4 .34 -1 .33 .2 .33 1.4 .34 -.8 .33 .5 .33 -.9 .34 .8 .33 -.1 .33 .1 .34 -.5 .33 .8 .33 .1 .34 .5 .33 -1.1 .33 .3 .34 -.2 .33 -.9 .33 1.1 .34 .1 .33 .3 .33 -.1 .34 -.7 .33 .6 .33 .6 .34 -.6 .33 .5 .33 -1.1 .34 .4 .33 .7 .33 -.1 .34 .6 .33 -.4 .33 0 .34 .5 .33 -.8 .33 .8 .34 -.8 .33 .5 .33 -.4 .34 -.2 .33 -.3 .33 .4 .34 .6 .33 -.3 .33 .3 .34 .1 .33 .2 .33 -.3 .34 -.2 .33 .5 .33 -1.1 .34 .8 .33 -.2 .33 -.4 .34 .4 .33 .3 .33 .1 .34 0 .33 -.2 .33 .3 .34 0 .33 .1 .33 -.1 .34 -.8 .33 -.1 .33 .7 .34 .5 .33 -.5 .33 .1 .34 -.2 .33 -.1 .33 .3 .34 -.1 .33 -.6 .33 .8 .34 -.6 .33 .1 .33 .9 .34 0 .33 0 .33 0 .34 -.2 .33 -.2 .33 -.3 .34 .7 .33 0 .33 -.9 .34 .8 .33 .2 .33 -.2 .34 -.3 .33 .1 .33 -.1 .34 .2 .33 .6 .33 -.7 .34 .1 .33 .5 .33 .2 .34 -.9 .33 .1 .33 .1 .34 .1 .33 -.4 .33 .4 .34 -.2 .33 -.1 .33 .1 .34 0 .33 .3 .33 .3 .34 .1 .33 -.5 .33 .3 .34 -.8 .33 .7 .33 -.1 .34 -.2 .33 1 .33 -.5 .34 -.5 .33 .8 .33 -.5 .34 -.2 .33 .4 .33 .2 .34 -.2 .33 -.2 .33 0 .34 .2 .33 -.8 .33 1 .34 -.3 .33 -.8 .33 1.4 .34 -.9 .33 .2 .33 -.1 .34 .4 .33 -.3 .33 0 .34 -.1 .33 .4 .33 -.7 .34 0 .33 .7 .33 -.4 .34 .1 .33 .2 .33 -.5 .34 0 .33 -.4 .33 1.2 .34 -.5 .33 0 .33 -.1 .34 .5 .33 -.1 .33 -.6 .34 .1 .33 .4 .33 -.6 .34 .4 .33 -.2 .33 .3 .34 .3 .33 -.2 .33 .1 .34 .1 .33 -.6 .33 .1 .34 -.4 .33 1.3 .33 -.9 .34 .2 .33 0 .33 .5 .34 -.1 .33 -.3 .33 -.2 .34 -.1 .33 .3 .33 -.4 .34 .8 .33 -.5 .33 .2 .34 .1 .33 .2 .33 -.2 .34 -.2 .33 .7 .33 -.2 .34 .1 .33 .2 .33 -.9 .34 .8 .33 -.6 .33 0 .34 -.2 .33 0 .33 .4 .34 -.7 .33 .5 .33 0 .34 -.4 .33 1.2 .33 -1.1 .34 .2 .33 .2 .33 .4 .34 -.5 .33 0 .33 .5 .34 -.5 .33 .5 .33 -.4 .34 .1 .33 .3 .33 -.6 .34 0 .33 .6 .33 -.6 .34 .2 .33 0 .33 -.2 .34 -.3 .33 .6 .33 -.1 .34 .6 .33 -.3 .33 -.4 .34 0 .33 .2 .33 -.1 .34 .1 .33 -.3 .33 .2 .34 .2 .33 -.4 .33 .4 .34 .5 .33 -.9 .33 .4 .34 .4 .33 -.6 .33 .5 .34 .3 .33 -.4 .33 -.2 .34 .8 .33 -.8 .33 .1 .34 -.1 .33 -.1 .33 .3 .34 -.6 .33 .9 .33 -.6 .34 .1 .33 0 .33 .5 .34 -.4 .33 .3 .33 -.1 .34 -.4 .33 -.1 .33 .7 .34 -.4 .33 .1 .33 -.5 .34 .6 .33 0 .33 -.3 .34 -.2 .33 .3 .33 -.3 .34 .4 .33 0 .33 .2 .34 -.1 .33 -.2 .33 .2 .34 -.4 .33 .8 .33 -.5 .34 -.1 .33 .2 .33 -.2 .34 .2 .33 .2 .33 0 .34 .3 .33 -.6 .33 0 .34 -.4 .33 .3 .33 .3 .34 -.1 .33 .1 .33 .3 .34 -.2 .33 -.3 .33 .7 .34 -.4 .33 .1 .33 .1 .34 0 .33 -.7 .33 .3 .34 0 .33 -.1 .33 .3 .34 0 .33 .2 .33 -.5 .34 .1 .33 .2 .33 .1 .34 -.4 .33 .1 .33 .3 .34 .2 .33 -1.1 .33 .8 .34 -.1 .33 0 .33 -.1 .34 .3 .33 -.2 .33 -.1 .34 .3 .33 -.3 .33 .1 .34 .4 .33 -.1 .33 -.5 .34 0 .33 .3 .33 0 .34 .4 .33 -.3 .33 -.3 .34 .5 .33 -.1 .33 -.2 .34 .1 .33 .6 .33 -.8 .34 .1 .33 .3 .33 .2 .34 -1.2 .33 .8 .33 -.7 .34 .5 .33 .7 .33 -.4 .34 -.4 .33 -.2 .33 .8 .34 -.5 .33 -.4 .33 .5 .34 .2 .33 -.1 .33 0 .34 -.2 .33 .8 .33 -.8 .34 -.1 .33 -.1 .33 .8 .34 -.4 .33 .3 .33 -.1 .34 -.2 .33 -.2 .33 0 .34 0 .33 .2 .33 .1 .34 .2 .33 -.6 .33 .8 .34 -.2 .33 -.5 .33 .4 .34 .2 .33 .1 .33 .2 .34 -1.2 .33 .4 .33 .3 .34 -.2 .33 .6 .33 -.3 .34 .2 .33 -.3 .33 -.7 .34 .7 .33 -.2 .33 0 .34 1.2 .33 -1.3 .33 .3 .34 .1 .33 0 .33 .1 .34 .1 .33 -.2 .33 -.1 .34 -.2 .33 .1 .33 .2 .34 -.5 .33 .5 .33 0 .34 -.1 .33 .1 .33 0 .34 0 .33 0 .33 0 .34 -.1 .33 .5 .33 -.7 .34 .4 .33 -.2 .33 .3 .34 .7 .33 -1.4 .33 .9 .34 -.2 .33 .2 .33 -.7 .34 .8 .33 -.1 .33 -.4 .34 .4 .33 -.8 .33 .7 .34 .2 .33 -.8 .33 .8 .34 -.1 .33 -.3 .33 -.2 .34 -.3 .33 .2 .33 .2 .34 .5 .33 -.5 .33 -.5 .34 .6 .33 0 .33 .2 .34 .2 .33 -.3 .33 .2 .34 -.3 .33 -.1 .33 .4 .34 0 .33 -.7 .33 .5 .34 .3 .33 -.4 .33 -.3 .34 .4 .33 -.8 .33 .9 .34 .2 .33 .1 .33 -.2 .34 .1 .33 .1 .33 -.4 .34 .1 .33 -.4 .33 .8 .34 -.6 .33 .3 .33 -.5 .34 .4 .33 -.1 .33 .4 .34 0 .33 -.4 .33 -.5 .34 .6 .33 -.5 .33 1 .34 -.8 .33 .6 .33 -.2" stroke="#161690" stroke-width="2.4" fill="none" stroke-linejoin="round"/>
<path d="M84.7 453.0V424.0M193.6 455.3V434.4M127.8 454.3V453.0" stroke="#161690" stroke-width="2.0" fill="none"/>
<path d="M84.7 407.9V410.1" stroke="#161690" stroke-width="0.8" stroke-opacity="0.45" fill="none"/>
</g>
<rect x="47.4" y="407.9" width="189.9" height="137.4" fill="none" stroke="#858585" stroke-width="1.3"/>
<path d="M47.4 545.3v-3.6M63.2 545.3v-2.6M79.0 545.3v-3.6M94.9 545.3v-2.6M110.7 545.3v-3.6M126.5 545.3v-2.6M142.3 545.3v-3.6M158.2 545.3v-2.6M174.0 545.3v-3.6M189.8 545.3v-2.6M205.7 545.3v-3.6M221.5 545.3v-2.6M237.3 545.3v-3.6" stroke="#858585" stroke-width="1.1"/>
<text x="47.4" y="558.1" class="tk">20</text>
<text x="79.0" y="558.1" class="tk">30</text>
<text x="110.7" y="558.1" class="tk">40</text>
<text x="142.3" y="558.1" class="tk">50</text>
<text x="174.0" y="558.1" class="tk">60</text>
<text x="205.7" y="558.1" class="tk">70</text>
<text x="237.3" y="558.1" class="tk">80</text>
<text x="143.2" y="574.2" class="xl">Two-theta (deg.)</text>
<text transform="translate(35.9 472.9) rotate(-90)" class="yl">Intensity (a.u.)</text>
<text x="203.0" y="453.4" class="lb">15 min</text>
<text x="203.0" y="468.9" class="lb">10 min</text>
<text x="204.0" y="486.1" class="lb">5 min</text>
<text x="204.0" y="501.5" class="lb">3 min</text>
<text x="204.0" y="518.0" class="lb">0 min</text>
<text x="204.7" y="535.1" class="lb">Control</text>
<text x="84.7" y="416.0" class="an">(200)</text>
<path d="M82.5 418.9L86.9 418.9L84.7 426.2Z" fill="#111"/>
<text x="193.6" y="426.4" class="an">(400)</text>
<path d="M191.4 429.3L195.8 429.3L193.6 436.6Z" fill="#111"/>
<text x="48.6" y="406.2" class="tt">E60S5</text>
<text x="25.8" y="403.8" class="rm">i</text>
<text x="5.8" y="394.7" class="lt">c</text>
<g clip-path="url(#c6)">
<path d="M268.4 500l.33 -4.1 .33 2.4 .34 .4 .33 -1.5 .33 4.1 .34 -2.8 .33 -.6 .33 5.1 .34 1.1 .33 2.6 .33 -3.7 .34 2.2 .33 .7 .33 -1.9 .34 3.2 .33 -1.9 .33 2.3 .34 -.2 .33 2.9 .33 .1 .34 -.1 .33 -1.9 .33 2.2 .34 .4 .33 3.2 .33 -1.7 .34 .2 .33 3.8 .33 -2.4 .34 -2.4 .33 4.6 .33 -5.1 .34 4.6 .33 -.6 .33 -.2 .34 1.1 .33 .5 .33 .2 .34 -2 .33 .9 .33 .4 .34 2 .33 .7 .33 .5 .34 1.7 .33 -.5 .33 -2.2 .34 -.2 .33 1.9 .33 -.2 .34 -.1 .33 3.3 .33 -.4 .34 -2.1 .33 1.2 .33 -.4 .34 -.3 .33 .3 .33 3.4 .34 -1.7 .33 -.2 .33 .9 .34 -.9 .33 2.2 .33 1.7 .34 -1.1 .33 -3.5 .33 3.6 .34 -2.4 .33 1 .33 1 .34 -.4 .33 .3 .33 0 .34 0 .33 .7 .33 1.6 .34 -1.1 .33 -1.4 .33 2.5 .34 .5 .33 -1.9 .33 1.3 .34 -.4 .33 1.5 .33 -1.3 .34 -1.2 .33 1.3 .33 -.5 .34 1.2 .33 -.7 .33 .8 .34 -1.1 .33 2.1 .33 -1.2 .34 0 .33 0 .33 1.4 .34 .4 .33 .5 .33 -1 .34 -1.1 .33 1.4 .33 -1.1 .34 .8 .33 -1.3 .33 3.1 .34 -.8 .33 -1.2 .33 .9 .34 .6 .33 -.4 .33 -.8 .34 .7 .33 1.4 .33 -1.1 .34 -.1 .33 -.4 .33 0 .34 1.6 .33 -.7 .33 -.4 .34 .8 .33 -1.2 .33 1.6 .34 -.4 .33 1 .33 -1.6 .34 .6 .33 .3 .33 -.9 .34 1.3 .33 -1.1 .33 .6 .34 -.4 .33 2.2 .33 -2.8 .34 1.7 .33 -.4 .33 1.1 .34 0 .33 -2.4 .33 1.1 .34 .7 .33 -.3 .33 -.4 .34 1.4 .33 -.4 .33 -.4 .34 .3 .33 0 .33 -.6 .34 1.7 .33 -.6 .33 .3 .34 -.7 .33 .5 .33 -1 .34 .1 .33 .6 .33 -.7 .34 1.4 .33 .1 .33 -1.5 .34 .8 .33 -.1 .33 .5 .34 -.1 .33 -.9 .33 .4 .34 1.5 .33 -.7 .33 -.4 .34 -.8 .33 2.4 .33 -1.7 .34 .5 .33 .2 .33 -.4 .34 .3 .33 -1.7 .33 1.6 .34 -1.2 .33 1.6 .33 -1.5 .34 1.1 .33 1.1 .33 -1.7 .34 1.1 .33 -.8 .33 .1 .34 -.1 .33 .1 .33 .9 .34 -.3 .33 -.7 .33 .6 .34 -.2 .33 -.3 .33 -.5 .34 1.2 .33 .2 .33 0 .34 -.1 .33 -.2 .33 .3 .34 .2 .33 .8 .33 -1.1 .34 -.3 .33 -.3 .33 -.1 .34 1 .33 -1.3 .33 .8 .34 -.6 .33 1.4 .33 -.5 .34 .2 .33 -.1 .33 .1 .34 -.5 .33 1 .33 -1.7 .34 .8 .33 -.3 .33 1.1 .34 .8 .33 -1.5 .33 -.8 .34 1 .33 .2 .33 .6 .34 -.4 .33 0 .33 0 .34 -.8 .33 .6 .33 .5 .34 .3 .33 .4 .33 -1.3 .34 .5 .33 0 .33 .4 .34 -1.7 .33 .8 .33 .4 .34 -.2 .33 -.5 .33 .5 .34 -.3 .33 .9 .33 -.9 .34 .3 .33 -.4 .33 0 .34 .5 .33 0 .33 .1 .34 -.1 .33 .7 .33 -.5 .34 -.3 .33 .5 .33 -.7 .34 .7 .33 -1 .33 .7 .34 -1.8 .33 2 .33 0 .34 -.5 .33 .8 .33 .8 .34 -.8 .33 -.6 .33 .3 .34 -.7 .33 .8 .33 -.3 .34 .6 .33 -1.2 .33 1.5 .34 -1 .33 0 .33 .1 .34 0 .33 .3 .33 -1.7 .34 1.5 .33 .4 .33 0 .34 .1 .33 -.7 .33 1.1 .34 -1.3 .33 .4 .33 .1 .34 -.7 .33 .1 .33 .8 .34 -.8 .33 .6 .33 .1 .34 -.1 .33 -.8 .33 .8 .34 1 .33 -.4 .33 .2 .34 .1 .33 -1.1 .33 .2 .34 .8 .33 -.1 .33 .1 .34 -.2 .33 -1.6 .33 1.7 .34 -.1 .33 -1.2 .33 .6 .34 1.3 .33 -.6 .33 -.1 .34 -.3 .33 -.5 .33 .3 .34 .4 .33 -.2 .33 -.8 .34 .3 .33 .6 .33 .2 .34 -.2 .33 -.9 .33 1.6 .34 -.8 .33 -.3 .33 -.4 .34 1.1 .33 -.2 .33 -1.1 .34 .1 .33 .4 .33 1.4 .34 .3 .33 -.8 .33 -.9 .34 .9 .33 .7 .33 -1.1 .34 .3 .33 .3 .33 -.2 .34 -.3 .33 -.5 .33 1 .34 .1 .33 .1 .33 -.3 .34 -1.1 .33 2.4 .33 -2.1 .34 .3 .33 .7 .33 -.6 .34 -.1 .33 .3 .33 .3 .34 -.5 .33 .4 .33 -1 .34 2 .33 -1 .33 -.3 .34 .3 .33 1 .33 -2 .34 -.1 .33 .8 .33 .3 .34 .9 .33 -.5 .33 -.8 .34 .7 .33 -.1 .33 -.3 .34 1.6 .33 -1.6 .33 -.3 .34 .7 .33 -.8 .33 .6 .34 -.5 .33 .1 .33 .7 .34 1.6 .33 -1.3 .33 -.9 .34 1 .33 -.6 .33 .6 .34 -1.1 .33 .7 .33 .2 .34 -.6 .33 0 .33 -.1 .34 .4 .33 -.7 .33 1.4 .34 0 .33 -.9 .33 -.3 .34 .6 .33 -.7 .33 .6 .34 .1 .33 -.4 .33 .2 .34 .8 .33 -.7 .33 1.2 .34 -.8 .33 -.7 .33 .6 .34 1.3 .33 -1.4 .33 .4 .34 .4 .33 -1.2 .33 .5 .34 -.5 .33 .2 .33 .2 .34 -.5 .33 .4 .33 .6 .34 -.2 .33 -.9 .33 .7 .34 .7 .33 -3.2 .33 2.4 .34 0 .33 0 .33 -.5 .34 .8 .33 -.5 .33 .2 .34 -.2 .33 .7 .33 -.9 .34 1 .33 .6 .33 -1.5 .34 -.3 .33 1.4 .33 -.9 .34 .6 .33 -.1 .33 0 .34 .1 .33 -.9 .33 1 .34 0 .33 -.8 .33 -.2 .34 .3 .33 .9 .33 -.3 .34 .2 .33 -.8 .33 .6 .34 -.4 .33 .6 .33 0 .34 -.6 .33 0 .33 .4 .34 0 .33 .7 .33 .2 .34 -.2 .33 -1 .33 -.1 .34 1 .33 -.4 .33 -.4 .34 .6 .33 -.7 .33 0 .34 2 .33 -2.2 .33 .8 .34 -.8 .33 .9 .33 -.2 .34 -.2 .33 .1 .33 -.7 .34 .3 .33 1.3 .33 -1.2 .34 .6 .33 -.4 .33 .8 .34 -.7 .33 0 .33 1.2 .34 -2.2 .33 1.1 .33 .5 .34 .1 .33 .7 .33 -1.8 .34 .7 .33 -.1 .33 -.2 .34 .9 .33 .1 .33 -.3 .34 -.7 .33 .7 .33 -.3 .34 .2 .33 0 .33 .1 .34 -.5 .33 -.5 .33 .9 .34 .3 .33 .2 .33 -.7 .34 -.6 .33 -.2 .33 1 .34 .1 .33 -.5 .33 -.1 .34 .9 .33 -.7 .33 .8 .34 .5 .33 -.7 .33 -.9 .34 1.2 .33 -.9 .33 .1 .34 .3 .33 -.3 .33 .1 .34 -1.5 .33 1.6 .33 .7 .34 -.9 .33 -.2 .33 -.5" stroke="#000000" stroke-width="1.8" fill="none" stroke-linejoin="round"/>
<path d="M268.4 494.1l.33 1.1 .33 -1.3 .34 -1.4 .33 -.3 .33 1 .34 -.5 .33 -1.7 .33 7.2 .34 -.7 .33 -.2 .33 -2.4 .34 .3 .33 4.5 .33 -3.5 .34 .9 .33 2 .33 -1.9 .34 .6 .33 -.6 .33 1.3 .34 3.9 .33 -1.5 .33 1.2 .34 -.6 .33 -1.6 .33 1.9 .34 1.2 .33 -.4 .33 1.3 .34 -1 .33 -2.2 .33 3.3 .34 -.3 .33 1.1 .33 -1.6 .34 3.4 .33 -.5 .33 -.1 .34 -1.9 .33 .2 .33 2 .34 .8 .33 0 .33 .3 .34 -1.2 .33 .9 .33 -1.7 .34 .7 .33 .8 .33 .1 .34 1.9 .33 -.5 .33 -2.9 .34 1.7 .33 -.6 .33 2.6 .34 -1.2 .33 2.6 .33 -1.5 .34 .6 .33 -1.7 .33 1.7 .34 -.1 .33 .7 .33 .1 .34 -.6 .33 .6 .33 -1 .34 2.3 .33 .3 .33 -1.7 .34 1.1 .33 .7 .33 -.4 .34 .3 .33 -1.3 .33 1.2 .34 1.3 .33 -2 .33 1.4 .34 0 .33 1.4 .33 -.8 .34 -1 .33 1.1 .33 .6 .34 -2.3 .33 1.5 .33 .6 .34 0 .33 -.7 .33 .5 .34 -.2 .33 3.3 .33 -2.3 .34 -.1 .33 -.7 .33 1.5 .34 -.2 .33 -2.4 .33 1.6 .34 1.3 .33 0 .33 -1.6 .34 -.6 .33 1.5 .33 .3 .34 -1.5 .33 .8 .33 .8 .34 .1 .33 1.8 .33 -1.6 .34 1.3 .33 -2.2 .33 .5 .34 -1.2 .33 1.5 .33 .8 .34 -.4 .33 -1.5 .33 2.2 .34 -.5 .33 .1 .33 0 .34 -.6 .33 1.1 .33 .1 .34 -.9 .33 .4 .33 .4 .34 -.8 .33 .9 .33 -.1 .34 -.5 .33 -.4 .33 1.9 .34 -2 .33 1.1 .33 .6 .34 .4 .33 -.1 .33 -1.6 .34 1.9 .33 -.6 .33 -1.3 .34 .7 .33 -.2 .33 .8 .34 -2.4 .33 1.3 .33 2.2 .34 -1 .33 .4 .33 -2.3 .34 2.2 .33 .9 .33 -2.3 .34 1.2 .33 -1.6 .33 2.1 .34 1.5 .33 -.8 .33 -2.2 .34 1.8 .33 -.9 .33 -.6 .34 1.9 .33 -.9 .33 -.4 .34 -.3 .33 1.4 .33 -.6 .34 -1.3 .33 1.2 .33 -.9 .34 .8 .33 1.9 .33 -1.4 .34 .9 .33 0 .33 -1.7 .34 2.1 .33 -1.4 .33 -.3 .34 1.2 .33 -1.3 .33 1.2 .34 -1.7 .33 1.9 .33 -1.2 .34 .5 .33 -.4 .33 .9 .34 -.3 .33 .4 .33 -.4 .34 .4 .33 -.5 .33 .9 .34 -.4 .33 .3 .33 .5 .34 -.4 .33 .8 .33 -2.2 .34 1.6 .33 -1.2 .33 -.1 .34 .4 .33 -.4 .33 1.1 .34 -.6 .33 .3 .33 -.9 .34 .7 .33 -1.3 .33 1.1 .34 0 .33 -.5 .33 .8 .34 -.5 .33 .6 .33 -.5 .34 .3 .33 -1 .33 1.8 .34 -.3 .33 .1 .33 -.2 .34 .7 .33 -.8 .33 .8 .34 -1.1 .33 -.9 .33 1.1 .34 .9 .33 -1 .33 .1 .34 -1.1 .33 1.8 .33 -.6 .34 .7 .33 -1.3 .33 1.1 .34 0 .33 .4 .33 -1.1 .34 .9 .33 -.7 .33 -.7 .34 1.7 .33 -.8 .33 .7 .34 -.6 .33 -.1 .33 .5 .34 -1.3 .33 .3 .33 -.2 .34 -.4 .33 1.4 .33 .5 .34 .2 .33 -.5 .33 .7 .34 -1 .33 -.1 .33 -.5 .34 .1 .33 -.3 .33 .7 .34 .3 .33 -.2 .33 -.5 .34 .1 .33 1.4 .33 -1 .34 -.3 .33 -.7 .33 2.4 .34 -1.5 .33 -.6 .33 -.3 .34 1.9 .33 -.6 .33 -.3 .34 .1 .33 -.1 .33 .1 .34 .4 .33 0 .33 .4 .34 .2 .33 -.3 .33 -1 .34 .5 .33 -.3 .33 -.8 .34 0 .33 .5 .33 1.3 .34 -1.1 .33 .1 .33 0 .34 -.1 .33 .5 .33 .8 .34 -1.4 .33 .9 .33 -.3 .34 .6 .33 -.6 .33 .4 .34 -.3 .33 .8 .33 -1.7 .34 .8 .33 -1.2 .33 1.9 .34 .7 .33 -.6 .33 -.3 .34 -.2 .33 .1 .33 -.5 .34 .3 .33 2.2 .33 -1.6 .34 -.5 .33 -1.3 .33 1.3 .34 1 .33 -.3 .33 -1.2 .34 -.1 .33 -.1 .33 .4 .34 -.5 .33 .9 .33 -1 .34 1.4 .33 -1 .33 .6 .34 .2 .33 -.1 .33 -.1 .34 .3 .33 .1 .33 -.1 .34 .4 .33 -.7 .33 .4 .34 0 .33 .2 .33 1.7 .34 -1.8 .33 .1 .33 -.5 .34 -.7 .33 .9 .33 -.6 .34 .2 .33 .7 .33 1.4 .34 -1.7 .33 -.7 .33 .2 .34 .8 .33 -.6 .33 .6 .34 -.8 .33 .1 .33 .1 .34 .4 .33 .6 .33 -.8 .34 -.1 .33 .8 .33 -1.5 .34 -.2 .33 1.8 .33 -.4 .34 -.1 .33 .2 .33 -.3 .34 .1 .33 -.1 .33 .9 .34 -.6 .33 -.2 .33 .5 .34 -.9 .33 .4 .33 -1 .34 2.1 .33 -.7 .33 -.4 .34 1.7 .33 -.1 .33 -1 .34 .3 .33 .6 .33 -1.3 .34 .2 .33 .5 .33 .1 .34 -2.1 .33 2.1 .33 -.9 .34 -.3 .33 0 .33 .5 .34 -.4 .33 .6 .33 .1 .34 0 .33 -.7 .33 1.1 .34 -.8 .33 .8 .33 -1 .34 .2 .33 .5 .33 .8 .34 -1.2 .33 .9 .33 -.5 .34 -.4 .33 .6 .33 .4 .34 0 .33 -2.9 .33 3.7 .34 -.9 .33 -.1 .33 .1 .34 -1.3 .33 1.4 .33 -.7 .34 .2 .33 .2 .33 -.2 .34 .1 .33 -.2 .33 .4 .34 .2 .33 -.6 .33 0 .34 .2 .33 .1 .33 -1 .34 .3 .33 1.9 .33 -1.6 .34 .6 .33 .4 .33 0 .34 -.8 .33 -.2 .33 1.5 .34 -1 .33 .1 .33 -.5 .34 .4 .33 -.6 .33 1 .34 -1.1 .33 .6 .33 .6 .34 0 .33 -1.4 .33 1.3 .34 .7 .33 -1.3 .33 .1 .34 1.4 .33 -1.2 .33 -1.1 .34 1.4 .33 1.2 .33 -.3 .34 -1.8 .33 .6 .33 -.2 .34 .5 .33 -.6 .33 .1 .34 .1 .33 -.2 .33 .6 .34 -.7 .33 .5 .33 -.3 .34 1.3 .33 .2 .33 -1.7 .34 .1 .33 .8 .33 -.6 .34 -1.6 .33 1.8 .33 -.6 .34 .9 .33 -.2 .33 -.5 .34 -.7 .33 1.6 .33 .1 .34 -.5 .33 .1 .33 .1 .34 .4 .33 -.1 .33 -.1 .34 -.1 .33 .4 .33 -.8 .34 .9 .33 -.4 .33 .6 .34 -.8 .33 -.2 .33 .5 .34 -.5 .33 -.4 .33 .9 .34 -1 .33 .1 .33 .6 .34 -.8 .33 .5 .33 .7 .34 -1 .33 .5 .33 -.1 .34 -.1 .33 .3 .33 -.7 .34 .6 .33 .1 .33 -.5 .34 -.3 .33 1.4 .33 .8 .34 -1.9 .33 0 .33 1.3 .34 -.7 .33 .6 .33 -.6 .34 .6 .33 .1 .33 .5 .34 -1.4 .33 0 .33 1.1 .34 -.5 .33 -.5 .33 -.1" stroke="#ff0a0a" stroke-width="1.8" fill="none" stroke-linejoin="round"/>
<path d="M304.5 514.8V501.2" stroke="#ff0a0a" stroke-width="1" fill="none"/>
<path d="M268.4 474.6l.33 2.6 .33 2.8 .34 -4.1 .33 1.7 .33 -2.3 .34 3.6 .33 -1.7 .33 3.4 .34 -1.5 .33 .5 .33 3.3 .34 -2.4 .33 -1.2 .33 3.4 .34 -.8 .33 .8 .33 1.5 .34 2 .33 .7 .33 -3.5 .34 1.9 .33 3.3 .33 -4 .34 .8 .33 -.4 .33 1.8 .34 -.7 .33 .8 .33 -.6 .34 3.4 .33 -1.3 .33 1.9 .34 .3 .33 -1.3 .33 2.3 .34 -.7 .33 -1 .33 .8 .34 1.6 .33 -2.6 .33 1.7 .34 1.2 .33 -.8 .33 -.2 .34 3.6 .33 -4.7 .33 3.3 .34 .4 .33 .3 .33 -1 .34 1.2 .33 -.9 .33 -.5 .34 .6 .33 1.8 .33 -.7 .34 1.9 .33 -3.5 .33 2.7 .34 .6 .33 -2 .33 1.3 .34 -.3 .33 -.3 .33 3.5 .34 -4.2 .33 2.8 .33 -.5 .34 -.4 .33 1.7 .33 -.8 .34 1.8 .33 -.6 .33 -.9 .34 .3 .33 .3 .33 -2 .34 2.6 .33 -.5 .33 -.3 .34 1.7 .33 -.2 .33 -.3 .34 .4 .33 -.6 .33 .4 .34 1.2 .33 -.6 .33 -.7 .34 1 .33 -.5 .33 -.2 .34 0 .33 1 .33 -.1 .34 -.2 .33 .4 .33 -.7 .34 .2 .33 -.7 .33 3.3 .34 -2.3 .33 .6 .33 -.6 .34 1.6 .33 -2.7 .33 1.9 .34 .2 .33 .2 .33 .4 .34 -.2 .33 -.5 .33 -.5 .34 .7 .33 .7 .33 1.1 .34 -2.4 .33 .8 .33 .5 .34 -1.5 .33 .8 .33 1.1 .34 -.4 .33 0 .33 .3 .34 -.6 .33 0 .33 0 .34 0 .33 .8 .33 -1.2 .34 1.5 .33 -.8 .33 .1 .34 -.3 .33 .3 .33 -.6 .34 -.3 .33 .8 .33 .2 .34 -.4 .33 .5 .33 .5 .34 .1 .33 -.6 .33 .5 .34 .2 .33 -.4 .33 -.7 .34 -.2 .33 2 .33 -1.2 .34 .9 .33 -1.8 .33 .6 .34 -.5 .33 1.6 .33 -.1 .34 -1.2 .33 .9 .33 1 .34 -.8 .33 1.1 .33 -1 .34 -.7 .33 .8 .33 -1.8 .34 .6 .33 1.9 .33 .1 .34 .1 .33 -.1 .33 -.3 .34 -.5 .33 .2 .33 .7 .34 -.7 .33 -.6 .33 .1 .34 0 .33 1.4 .33 -.2 .34 -.8 .33 -.1 .33 1.4 .34 -1.8 .33 1.1 .33 .3 .34 0 .33 .2 .33 -.8 .34 .4 .33 -.9 .33 .8 .34 0 .33 -.3 .33 1.4 .34 -.3 .33 -1.9 .33 2 .34 -2.2 .33 1.1 .33 -.4 .34 .5 .33 .4 .33 -1.1 .34 2 .33 -1.9 .33 1.1 .34 .4 .33 -.2 .33 -.2 .34 -.1 .33 -.3 .33 .1 .34 0 .33 -.5 .33 .3 .34 .5 .33 1.2 .33 -1.4 .34 .5 .33 -1.5 .33 .6 .34 .3 .33 1 .33 -.8 .34 -.5 .33 .5 .33 .3 .34 -.8 .33 -.3 .33 1.3 .34 -.1 .33 -.7 .33 .3 .34 .7 .33 0 .33 -.7 .34 0 .33 -.2 .33 .1 .34 -.5 .33 .7 .33 0 .34 .9 .33 -2.4 .33 2.1 .34 .4 .33 -.4 .33 -1.2 .34 -.1 .33 .7 .33 .3 .34 -.3 .33 .6 .33 0 .34 -.2 .33 -.6 .33 .2 .34 -.2 .33 .2 .33 .4 .34 .7 .33 -.2 .33 -.3 .34 -.8 .33 .5 .33 -1.5 .34 1.4 .33 -.1 .33 .9 .34 .3 .33 -1.1 .33 1.1 .34 -.6 .33 -1 .33 1.6 .34 .3 .33 -1 .33 .2 .34 .1 .33 .2 .33 -1 .34 .2 .33 .7 .33 -.2 .34 .9 .33 -.1 .33 -.8 .34 -.3 .33 .1 .33 -.7 .34 2.4 .33 -2.5 .33 0 .34 1.7 .33 -1.1 .33 .1 .34 .9 .33 -.5 .33 .9 .34 -1.3 .33 .1 .33 -.1 .34 .6 .33 .4 .33 0 .34 .8 .33 -.4 .33 -1.2 .34 .2 .33 .6 .33 .3 .34 -.3 .33 .7 .33 -.1 .34 -1.1 .33 .2 .33 .7 .34 -1.4 .33 -.1 .33 .6 .34 .3 .33 0 .33 1 .34 -.8 .33 -1.4 .33 2.1 .34 -.1 .33 -.1 .33 -.1 .34 -1.4 .33 -.1 .33 2.1 .34 -.3 .33 -1.5 .33 .8 .34 -.3 .33 1.2 .33 -2.1 .34 1.9 .33 -.9 .33 .3 .34 .1 .33 -.6 .33 .6 .34 -1.5 .33 1.4 .33 0 .34 1.7 .33 -1.7 .33 1.4 .34 -.7 .33 .2 .33 -.5 .34 .3 .33 -.4 .33 1.3 .34 -3.3 .33 2.6 .33 -.6 .34 -.1 .33 -.8 .33 .8 .34 -.3 .33 1.2 .33 -.4 .34 -.1 .33 -.5 .33 .5 .34 .2 .33 -.5 .33 -.3 .34 .2 .33 0 .33 1.6 .34 -1.5 .33 .9 .33 -1.3 .34 .6 .33 -.1 .33 -.7 .34 .3 .33 .5 .33 .1 .34 -.8 .33 1.5 .33 -.9 .34 .1 .33 1.9 .33 -1.4 .34 -1.8 .33 1.1 .33 .3 .34 -.5 .33 .6 .33 -.7 .34 -.8 .33 1.3 .33 .8 .34 -1.1 .33 .7 .33 -.6 .34 .9 .33 -1.2 .33 .1 .34 -.2 .33 1 .33 -.1 .34 .7 .33 -1 .33 -.7 .34 1.1 .33 -.6 .33 .3 .34 .3 .33 -.5 .33 1 .34 -.2 .33 .1 .33 -.2 .34 -.7 .33 .5 .33 .1 .34 .1 .33 -.2 .33 .2 .34 .2 .33 -.7 .33 .5 .34 .6 .33 -2.1 .33 1.3 .34 1 .33 -1.3 .33 -.6 .34 1.1 .33 0 .33 -.3 .34 0 .33 .6 .33 -1 .34 .9 .33 -.9 .33 .8 .34 .5 .33 -.2 .33 -.1 .34 .5 .33 -.8 .33 1.4 .34 -.7 .33 -1.3 .33 -1.2 .34 2 .33 .5 .33 .5 .34 -2 .33 .5 .33 .3 .34 .2 .33 -.5 .33 -.2 .34 .5 .33 .4 .33 .5 .34 -.9 .33 -1 .33 1.4 .34 .2 .33 0 .33 .3 .34 .3 .33 -1.4 .33 -.3 .34 .3 .33 .5 .33 -.4 .34 -.8 .33 .3 .33 .3 .34 -.1 .33 .9 .33 -.7 .34 .2 .33 .6 .33 .3 .34 -1.8 .33 1.2 .33 .3 .34 .1 .33 -.5 .33 .2 .34 .2 .33 -.7 .33 1 .34 -.8 .33 .4 .33 .1 .34 -.7 .33 .5 .33 1.4 .34 -1.8 .33 0 .33 .2 .34 -.3 .33 .6 .33 .4 .34 .6 .33 -.6 .33 -.5 .34 .4 .33 .1 .33 .1 .34 -.4 .33 -1.1 .33 .3 .34 .9 .33 .3 .33 -1.1 .34 -.2 .33 1.9 .33 .1 .34 -.9 .33 0 .33 .2 .34 -.7 .33 .4 .33 -.3 .34 .7 .33 -1.7 .33 -.1 .34 1.4 .33 0 .33 -.6 .34 .9 .33 0 .33 -.2 .34 1.4 .33 -2.3 .33 .8 .34 0 .33 0 .33 -.1 .34 .9 .33 -.3 .33 -.6 .34 1.3 .33 -.9 .33 .3 .34 .4 .33 -.6 .33 .7 .34 .2 .33 0 .33 -2 .34 1 .33 -1 .33 1.3" stroke="#0a0aff" stroke-width="1.8" fill="none" stroke-linejoin="round"/>
<path d="M304.5 501.2V487.6M381.8 506.3V502.0" stroke="#0a0aff" stroke-width="1" fill="none"/>
<path d="M291.1 497.1V482.0" stroke="#0a0aff" stroke-width="0.8" stroke-opacity="0.45" fill="none"/>
<path d="M268.4 456.3l.33 4.3 .33 1.1 .34 -3.1 .33 5.5 .33 2.1 .34 -2.2 .33 .2 .33 2.1 .34 -.3 .33 1.1 .33 .2 .34 0 .33 -.8 .33 4.3 .34 -2.3 .33 2.1 .33 1.1 .34 -2.2 .33 2.4 .33 .6 .34 .2 .33 2.1 .33 -1.1 .34 -1.6 .33 3 .33 1.6 .34 -2.2 .33 -.3 .33 2.8 .34 0 .33 -1.9 .33 .1 .34 .8 .33 1.3 .33 1.4 .34 1.4 .33 .7 .33 -.3 .34 -1.3 .33 2.1 .33 -.5 .34 -2 .33 3.3 .33 -2.3 .34 .1 .33 0 .33 .2 .34 1.5 .33 .7 .33 -1.4 .34 .8 .33 1.9 .33 -2.4 .34 1.8 .33 -1.4 .33 2.4 .34 -.7 .33 .3 .33 -1.4 .34 2.8 .33 -.7 .33 2.3 .34 -2.9 .33 -.1 .33 .9 .34 .2 .33 .3 .33 -1 .34 -.3 .33 1.1 .33 .4 .34 .5 .33 .1 .33 2.5 .34 -2 .33 -.4 .33 .4 .34 .2 .33 -.5 .33 -1.6 .34 1.2 .33 -2 .33 2.4 .34 -.4 .33 -.8 .33 1.6 .34 1.4 .33 -1.3 .33 1.2 .34 -1.8 .33 .5 .33 -.2 .34 0 .33 1.2 .33 -.8 .34 .4 .33 -1.2 .33 1.2 .34 -.4 .33 .4 .33 1.3 .34 -1.1 .33 .3 .33 .1 .34 -1 .33 .4 .33 1.3 .34 -.2 .33 -.2 .33 -.4 .34 0 .33 -.4 .33 2.1 .34 -1.5 .33 1.3 .33 -1 .34 -1.2 .33 1.9 .33 -2.5 .34 .9 .33 0 .33 -.3 .34 1.3 .33 -.1 .33 1.2 .34 -1.3 .33 .2 .33 0 .34 -.6 .33 .3 .33 -.8 .34 2 .33 -1.5 .33 .8 .34 -.5 .33 1 .33 .4 .34 -1.2 .33 2.6 .33 -1.7 .34 -.6 .33 .3 .33 .4 .34 .9 .33 -1.7 .33 -.8 .34 .7 .33 .7 .33 -.4 .34 -.4 .33 -.1 .33 1.5 .34 -.5 .33 .2 .33 -.5 .34 .4 .33 -2.4 .33 2.7 .34 -.2 .33 1.4 .33 -1.5 .34 1.6 .33 -1.2 .33 -.8 .34 -.1 .33 0 .33 1.4 .34 -.3 .33 -.5 .33 .7 .34 -.8 .33 .1 .33 -.1 .34 -.8 .33 .9 .33 .1 .34 .3 .33 -.6 .33 0 .34 1.3 .33 -1.1 .33 .1 .34 -.2 .33 .8 .33 0 .34 -.5 .33 -.5 .33 .6 .34 1.2 .33 -1.5 .33 .2 .34 .8 .33 -.1 .33 -.7 .34 -.1 .33 1.2 .33 -.7 .34 -.3 .33 .3 .33 -.7 .34 0 .33 1.5 .33 -.9 .34 -.5 .33 1.3 .33 -.6 .34 .5 .33 -.7 .33 .6 .34 -.3 .33 -.7 .33 .8 .34 .4 .33 -1 .33 .1 .34 -.4 .33 .7 .33 -.1 .34 .1 .33 -.3 .33 1.8 .34 -1.1 .33 -.8 .33 1 .34 -1.3 .33 1.4 .33 .3 .34 -2.1 .33 1.7 .33 -2.2 .34 1.7 .33 .7 .33 -1.2 .34 1.9 .33 -2.4 .33 2 .34 0 .33 -.5 .33 -.2 .34 .2 .33 .1 .33 .1 .34 -1.6 .33 1.4 .33 0 .34 1.1 .33 -1.3 .33 .4 .34 -1.3 .33 .4 .33 .2 .34 .5 .33 -.9 .33 1.2 .34 -.4 .33 -1.1 .33 1.9 .34 -.5 .33 .5 .33 -1.3 .34 .4 .33 1 .33 -1.1 .34 -.9 .33 1.4 .33 -.4 .34 -.4 .33 .5 .33 .9 .34 -.8 .33 1 .33 -.7 .34 .3 .33 -.6 .33 -.1 .34 -.7 .33 1.2 .33 .1 .34 -.3 .33 .5 .33 -.6 .34 .5 .33 -.4 .33 -.1 .34 -.4 .33 0 .33 1.6 .34 -.3 .33 .2 .33 -.4 .34 -1.8 .33 1 .33 -.2 .34 .2 .33 .9 .33 -1 .34 .2 .33 .3 .33 -.6 .34 1.1 .33 -.3 .33 .6 .34 -.8 .33 0 .33 .5 .34 -.4 .33 -.4 .33 .5 .34 -1.3 .33 1.2 .33 -.9 .34 1.1 .33 .6 .33 -.7 .34 .4 .33 -.4 .33 .7 .34 .4 .33 -.9 .33 -.4 .34 -.1 .33 .8 .33 -.6 .34 1.5 .33 .1 .33 -.7 .34 -.2 .33 -.6 .33 -.4 .34 .9 .33 -1 .33 .7 .34 -.2 .33 .1 .33 -.5 .34 1.1 .33 -.7 .33 -.2 .34 .7 .33 -.5 .33 .3 .34 .5 .33 .2 .33 .1 .34 .4 .33 -.5 .33 -.6 .34 .2 .33 .5 .33 -.5 .34 .7 .33 -1.4 .33 0 .34 .6 .33 -.3 .33 .5 .34 1 .33 -.6 .33 -.4 .34 .3 .33 -.9 .33 1.3 .34 -.5 .33 -.1 .33 .1 .34 -1.1 .33 1 .33 -.6 .34 .8 .33 -.8 .33 -.1 .34 1.1 .33 0 .33 .1 .34 -.3 .33 -.1 .33 -1.1 .34 2.1 .33 -1.4 .33 .7 .34 -.3 .33 -.2 .33 -.7 .34 1.3 .33 -.4 .33 .5 .34 -.6 .33 -1 .33 1.3 .34 .4 .33 -.3 .33 0 .34 .7 .33 -1.8 .33 1 .34 .6 .33 -.9 .33 -.3 .34 .4 .33 .2 .33 .2 .34 .2 .33 .9 .33 -1.1 .34 .5 .33 -.3 .33 -.2 .34 -.2 .33 -.4 .33 1.2 .34 -1 .33 .2 .33 -.1 .34 .5 .33 1 .33 -1.2 .34 .3 .33 0 .33 -.4 .34 .3 .33 -.2 .33 -1 .34 2.1 .33 -.8 .33 .3 .34 -1.2 .33 2 .33 -.7 .34 -1.1 .33 -.5 .33 .9 .34 .3 .33 0 .33 .2 .34 -.6 .33 .4 .33 .2 .34 .7 .33 -1.1 .33 0 .34 -.3 .33 .3 .33 .6 .34 .5 .33 -1.4 .33 0 .34 .8 .33 -.4 .33 .7 .34 -.6 .33 .2 .33 .1 .34 -.1 .33 .5 .33 -.5 .34 .8 .33 -.5 .33 -.4 .34 -.3 .33 1.2 .33 -.9 .34 .2 .33 -.3 .33 1.2 .34 -.6 .33 -1.1 .33 .6 .34 -.3 .33 .5 .33 0 .34 .4 .33 -.6 .33 -.1 .34 .1 .33 .4 .33 -1.1 .34 1.7 .33 -.5 .33 -1 .34 .4 .33 1.2 .33 .4 .34 -1.2 .33 .2 .33 .2 .34 -.6 .33 .5 .33 -.2 .34 -.3 .33 1.1 .33 -.8 .34 1.2 .33 -1.6 .33 -.3 .34 .2 .33 1.7 .33 -1.5 .34 1.6 .33 -1.9 .33 1.8 .34 -1.1 .33 -.1 .33 1.4 .34 -1 .33 -.7 .33 -.1 .34 .4 .33 .3 .33 -.7 .34 .5 .33 .2 .33 -.7 .34 2.3 .33 -1.6 .33 -1.8 .34 2.4 .33 -.2 .33 .2 .34 0 .33 -.8 .33 .3 .34 .2 .33 .1 .33 -.3 .34 .2 .33 -1.4 .33 1.4 .34 .5 .33 -.2 .33 .5 .34 1.4 .33 -1.9 .33 .5 .34 -.9 .33 .1 .33 .1 .34 .9 .33 -.9 .33 -.5 .34 1.6 .33 -1.8 .33 -.7 .34 1.1 .33 .5 .33 -.6 .34 .3 .33 .6 .33 -.1 .34 -.8 .33 2 .33 -.9 .34 -.6 .33 .6 .33 -1.8 .34 .5 .33 .5 .33 .9 .34 -.9 .33 -.3 .33 .5" stroke="#ff10ff" stroke-width="1.8" fill="none" stroke-linejoin="round"/>
<path d="M304.5 487.6V470.6M381.8 491.4V487.0" stroke="#ff10ff" stroke-width="1" fill="none"/>
<path d="M291.1 484.6V474.0" stroke="#ff10ff" stroke-width="0.8" stroke-opacity="0.45" fill="none"/>
<path d="M268.4 443.1l.33 2.8 .33 -.5 .34 .3 .33 2.2 .33 -4.4 .34 4.3 .33 -.4 .33 -1.3 .34 2.6 .33 .1 .33 1.2 .34 .4 .33 -1.1 .33 0 .34 5.2 .33 -3.1 .33 -.5 .34 1.9 .33 -.2 .33 -.2 .34 .5 .33 .4 .33 1.4 .34 .4 .33 .8 .33 -2.6 .34 .6 .33 3.3 .33 1.1 .34 -.8 .33 1.3 .33 -2 .34 -.1 .33 3.3 .33 -.7 .34 -.3 .33 -1.3 .33 3.1 .34 -2.2 .33 .5 .33 .1 .34 -1.3 .33 2.1 .33 2 .34 .3 .33 -3.1 .33 3.6 .34 -.1 .33 -.7 .33 .1 .34 .4 .33 -1.4 .33 3 .34 .2 .33 .3 .33 -1.9 .34 2.5 .33 -1.1 .33 .4 .34 -.4 .33 -1 .33 1.6 .34 0 .33 -.1 .33 1.1 .34 1.2 .33 -2 .33 1 .34 -.1 .33 .9 .33 -1.4 .34 1.2 .33 1.3 .33 -.3 .34 -.6 .33 1.3 .33 -.6 .34 1.8 .33 -1.7 .33 -.6 .34 1.2 .33 -1.2 .33 1.5 .34 -.1 .33 -1.7 .33 .6 .34 1 .33 .5 .33 -.4 .34 .8 .33 -1 .33 .9 .34 -.5 .33 1.1 .33 -2 .34 .3 .33 .6 .33 -.1 .34 1.3 .33 -.6 .33 -.2 .34 1.3 .33 .1 .33 -.3 .34 .5 .33 -.3 .33 -.2 .34 .1 .33 .3 .33 -.6 .34 .7 .33 -.8 .33 .5 .34 .6 .33 .5 .33 -2.2 .34 2.4 .33 -.1 .33 -.5 .34 .8 .33 -.8 .33 .7 .34 .9 .33 -1.7 .33 .7 .34 .8 .33 -.5 .33 -.7 .34 -.1 .33 .8 .33 .2 .34 -.6 .33 1.4 .33 .3 .34 -.3 .33 -1.1 .33 1 .34 -1.3 .33 -.1 .33 .3 .34 1.5 .33 -1.1 .33 -.6 .34 1.7 .33 -.4 .33 -.3 .34 .4 .33 .2 .33 .7 .34 -.4 .33 -1 .33 .5 .34 -.2 .33 -.9 .33 -.8 .34 2.6 .33 -1.4 .33 2 .34 -1 .33 .5 .33 -1 .34 1.1 .33 .2 .33 -.4 .34 -.5 .33 .4 .33 1 .34 -.9 .33 1.4 .33 -2.3 .34 1.7 .33 .2 .33 -.4 .34 .2 .33 -.7 .33 .1 .34 -.5 .33 -.2 .33 .5 .34 2.6 .33 -1.6 .33 -.6 .34 -.1 .33 -.1 .33 .6 .34 -.4 .33 1.3 .33 -.8 .34 -.4 .33 -.1 .33 .4 .34 -.3 .33 .7 .33 .3 .34 -1.5 .33 -.2 .33 .6 .34 .1 .33 .8 .33 -.1 .34 -1.4 .33 .8 .33 .9 .34 -.5 .33 -.1 .33 -1 .34 1.6 .33 -.9 .33 1.1 .34 -.3 .33 -1.2 .33 1.1 .34 -.8 .33 .8 .33 -.5 .34 -.4 .33 .5 .33 -.4 .34 -.6 .33 1.6 .33 -.9 .34 .9 .33 -.2 .33 .6 .34 -.5 .33 0 .33 -.7 .34 -.2 .33 .6 .33 .2 .34 -.1 .33 .1 .33 -.2 .34 .4 .33 .1 .33 -.2 .34 1.1 .33 -1.2 .33 1.1 .34 .3 .33 -1.6 .33 .7 .34 .5 .33 -2 .33 1.3 .34 -.5 .33 .2 .33 .2 .34 1 .33 -.6 .33 -.1 .34 -.5 .33 .5 .33 0 .34 -.1 .33 .7 .33 -.8 .34 .8 .33 -.3 .33 -.4 .34 -1.4 .33 1.8 .33 0 .34 -.6 .33 2.7 .33 -2.2 .34 -.2 .33 .3 .33 .2 .34 -.2 .33 0 .33 .7 .34 -.1 .33 0 .33 -.7 .34 .5 .33 -1.9 .33 2.4 .34 -1.2 .33 .3 .33 .1 .34 -.3 .33 .4 .33 -.1 .34 .1 .33 -.1 .33 .5 .34 -.4 .33 -1.2 .33 1.9 .34 -.2 .33 0 .33 .1 .34 -1 .33 -.2 .33 .5 .34 -.3 .33 1.7 .33 -1.4 .34 1 .33 -.9 .33 .4 .34 -.5 .33 .4 .33 .3 .34 -.5 .33 -.2 .33 .6 .34 -1.2 .33 1 .33 .8 .34 -1.2 .33 .2 .33 1.4 .34 -1.1 .33 -.1 .33 -.8 .34 1.1 .33 -.1 .33 -.2 .34 -1 .33 .8 .33 -.3 .34 1.8 .33 -1.8 .33 .3 .34 .7 .33 -.3 .33 0 .34 -.1 .33 .4 .33 -1.1 .34 .7 .33 .2 .33 0 .34 -.3 .33 .3 .33 .8 .34 -.9 .33 1 .33 -1.9 .34 1.8 .33 -1.9 .33 2.3 .34 -2.2 .33 1.2 .33 .4 .34 -.1 .33 .1 .33 -1.5 .34 .8 .33 -.1 .33 .3 .34 -.8 .33 .8 .33 -.3 .34 .8 .33 .9 .33 -.9 .34 .8 .33 -2.1 .33 1.6 .34 -1.1 .33 .2 .33 .2 .34 .1 .33 0 .33 -.3 .34 .4 .33 .6 .33 -1.3 .34 .8 .33 -.1 .33 .1 .34 .7 .33 -.1 .33 -.8 .34 -.3 .33 1.1 .33 .2 .34 -1.1 .33 .9 .33 -1.6 .34 .8 .33 0 .33 -.7 .34 1.1 .33 .8 .33 -1.7 .34 1 .33 .5 .33 -1.3 .34 1.1 .33 -.3 .33 -.5 .34 .1 .33 -.9 .33 1.3 .34 -.5 .33 -.5 .33 1 .34 .3 .33 .5 .33 -.9 .34 .1 .33 .9 .33 -1.1 .34 .6 .33 -.5 .33 .2 .34 -.1 .33 -.5 .33 .7 .34 1.9 .33 -2 .33 -.5 .34 .3 .33 .9 .33 -.8 .34 .2 .33 1.1 .33 -1.3 .34 -.2 .33 1.1 .33 -1.1 .34 .6 .33 .3 .33 .4 .34 -.8 .33 -.2 .33 .5 .34 -.8 .33 .5 .33 .3 .34 1.1 .33 -1.8 .33 .8 .34 -.3 .33 .7 .33 -1 .34 0 .33 .5 .33 -.2 .34 -1 .33 .2 .33 .9 .34 .4 .33 .5 .33 -1.2 .34 .7 .33 -.1 .33 -.7 .34 1.3 .33 -1.4 .33 .6 .34 -.1 .33 .4 .33 -.4 .34 .6 .33 -.2 .33 -.2 .34 -.7 .33 .3 .33 .3 .34 .2 .33 -.4 .33 .9 .34 .4 .33 -.6 .33 -.1 .34 -1 .33 1.2 .33 -.4 .34 -.1 .33 .5 .33 -.6 .34 -.2 .33 1.7 .33 -1.1 .34 .6 .33 -1 .33 .5 .34 -.6 .33 -.1 .33 -.1 .34 1.7 .33 -.1 .33 -.3 .34 -1.2 .33 .7 .33 .2 .34 0 .33 -.7 .33 .9 .34 .6 .33 -.4 .33 -.2 .34 -.2 .33 -.5 .33 .3 .34 1 .33 -1.1 .33 .4 .34 .3 .33 -.2 .33 .4 .34 -1.2 .33 .6 .33 -.3 .34 0 .33 .2 .33 .1 .34 .4 .33 -.7 .33 .5 .34 0 .33 .4 .33 -.5 .34 .4 .33 -.2 .33 -1.3 .34 1.7 .33 -.7 .33 -.3 .34 .2 .33 .2 .33 -.2 .34 .3 .33 -1.6 .33 1 .34 .6 .33 .8 .33 .2 .34 -1.1 .33 .2 .33 -.7 .34 .7 .33 .2 .33 -1.2 .34 1.3 .33 -.1 .33 -1 .34 1 .33 -1.2 .33 -.1 .34 1.4 .33 .2 .33 -1.1 .34 .7 .33 .2 .33 0 .34 -.1 .33 .8 .33 -.6 .34 -.3 .33 .1 .33 1.4 .34 -.9 .33 -.5 .33 -.4" stroke="#108810" stroke-width="1.8" fill="none" stroke-linejoin="round"/>
<path d="M304.5 470.6V425.1M381.8 476.6V473.0" stroke="#108810" stroke-width="1" fill="none"/>
<path d="M291.1 466.0V458.0" stroke="#108810" stroke-width="0.8" stroke-opacity="0.45" fill="none"/>
<path d="M268.4 429.5l.33 -1.9 .33 4.6 .34 -2.5 .33 3 .33 -2.4 .34 1.8 .33 2.6 .33 .5 .34 -.7 .33 -.3 .33 -.2 .34 .9 .33 .2 .33 6.2 .34 .5 .33 -3 .33 -2.2 .34 4.1 .33 .4 .33 -.9 .34 2.1 .33 -1 .33 2 .34 -2.3 .33 2 .33 .7 .34 -.4 .33 1.7 .33 -.1 .34 -.8 .33 1.7 .33 .2 .34 1.3 .33 .6 .33 -1.5 .34 .5 .33 0 .33 .5 .34 -.1 .33 .8 .33 .7 .34 -1.2 .33 .4 .33 .5 .34 1.2 .33 -2 .33 4.7 .34 -3.2 .33 2 .33 .3 .34 1.5 .33 -1.4 .33 -.6 .34 1.1 .33 -1 .33 2.6 .34 -1.5 .33 1.1 .33 -1.3 .34 -.1 .33 2 .33 -.5 .34 .4 .33 -.6 .33 2.2 .34 -.3 .33 -.2 .33 -.2 .34 -1.3 .33 1 .33 -.1 .34 -.3 .33 2.2 .33 -1.1 .34 .4 .33 -.5 .33 -.4 .34 1.3 .33 -1 .33 1.7 .34 -.4 .33 -.9 .33 -.5 .34 1.4 .33 -.9 .33 -.4 .34 1.6 .33 -.3 .33 .5 .34 -1.1 .33 1.4 .33 .4 .34 -1 .33 1.3 .33 .1 .34 -1.9 .33 .8 .33 .8 .34 .5 .33 .2 .33 -.1 .34 -.5 .33 .8 .33 -1.3 .34 1.1 .33 0 .33 .9 .34 -1.5 .33 .2 .33 -.3 .34 .1 .33 .4 .33 1.5 .34 -.6 .33 .6 .33 -.5 .34 -1.3 .33 .7 .33 .9 .34 -.8 .33 .9 .33 -.6 .34 .6 .33 .6 .33 -.8 .34 .7 .33 -.1 .33 -.7 .34 -1.2 .33 0 .33 .8 .34 1.3 .33 -1 .33 1.2 .34 -1.7 .33 .3 .33 -.6 .34 1.2 .33 .3 .33 .8 .34 .7 .33 -2.7 .33 1.3 .34 -.3 .33 -.3 .33 .3 .34 .2 .33 -.8 .33 .6 .34 .9 .33 -1.2 .33 .7 .34 -.2 .33 1.4 .33 -1.5 .34 -.8 .33 1.5 .33 .6 .34 -.3 .33 -1 .33 .4 .34 .4 .33 -.5 .33 .1 .34 -.2 .33 .4 .33 -.1 .34 -.6 .33 -.6 .33 1.5 .34 .3 .33 -.1 .33 -.7 .34 .1 .33 .7 .33 -.1 .34 -1.2 .33 .7 .33 .8 .34 -.3 .33 0 .33 -.6 .34 .4 .33 -1 .33 .8 .34 -1 .33 .8 .33 .6 .34 1.3 .33 -.7 .33 -.6 .34 0 .33 -.4 .33 1.2 .34 -.5 .33 -.8 .33 .9 .34 -.4 .33 .3 .33 .4 .34 -.9 .33 .7 .33 -.9 .34 -.9 .33 .9 .33 .5 .34 .9 .33 -.6 .33 .5 .34 1 .33 -1.8 .33 .3 .34 .2 .33 -.8 .33 -.1 .34 1.1 .33 -.2 .33 .9 .34 -1.4 .33 .3 .33 -.1 .34 0 .33 .2 .33 -.4 .34 .6 .33 .6 .33 .4 .34 -1.3 .33 0 .33 0 .34 .1 .33 -.6 .33 .8 .34 -.3 .33 .2 .33 0 .34 -.5 .33 .1 .33 .2 .34 0 .33 -.9 .33 .8 .34 -.2 .33 .9 .33 -1.7 .34 1.9 .33 -.5 .33 0 .34 -.6 .33 .4 .33 .1 .34 -.4 .33 .1 .33 .2 .34 .4 .33 -.1 .33 .3 .34 .1 .33 -.2 .33 -.5 .34 .8 .33 -1 .33 1.1 .34 -.1 .33 .3 .33 -.3 .34 -.1 .33 -.8 .33 -.9 .34 1.8 .33 0 .33 -.8 .34 1.1 .33 -1.1 .33 .4 .34 .3 .33 -.9 .33 .9 .34 .7 .33 -1.5 .33 -.4 .34 .1 .33 .6 .33 .8 .34 -.4 .33 .5 .33 -.4 .34 1.2 .33 -2.4 .33 2.4 .34 -.7 .33 0 .33 -.3 .34 -.2 .33 0 .33 -.8 .34 1.4 .33 -.5 .33 .1 .34 -.6 .33 .7 .33 1.3 .34 -.9 .33 -.5 .33 -.6 .34 1.1 .33 -.4 .33 .7 .34 -.9 .33 .4 .33 -1.3 .34 1 .33 0 .33 .2 .34 .8 .33 -2 .33 1.4 .34 .1 .33 -.2 .33 .2 .34 .3 .33 -1.1 .33 .1 .34 0 .33 1.4 .33 -2 .34 .6 .33 0 .33 -.3 .34 1.1 .33 -.4 .33 -1 .34 1.9 .33 -.8 .33 -.2 .34 0 .33 -.8 .33 1.1 .34 .5 .33 .5 .33 -1.2 .34 -.7 .33 0 .33 1.1 .34 -.1 .33 -.3 .33 .9 .34 -1.3 .33 .5 .33 0 .34 .1 .33 .6 .33 -.2 .34 -.3 .33 -.1 .33 .3 .34 -1.1 .33 0 .33 1 .34 .1 .33 -1.3 .33 1.4 .34 -1 .33 -.2 .33 1.7 .34 -.3 .33 .8 .33 -.8 .34 -.4 .33 1.5 .33 -1.7 .34 .1 .33 -.3 .33 .7 .34 .2 .33 -.4 .33 -.3 .34 1 .33 -.8 .33 .2 .34 .1 .33 -.3 .33 .7 .34 -1.5 .33 .5 .33 .3 .34 .5 .33 -.9 .33 .3 .34 .6 .33 .2 .33 -.4 .34 -.5 .33 -.3 .33 1.4 .34 -.6 .33 -.3 .33 .8 .34 -.1 .33 .1 .33 -.1 .34 -.5 .33 .3 .33 -.6 .34 .5 .33 -.7 .33 .9 .34 -.2 .33 .1 .33 -.2 .34 .4 .33 0 .33 0 .34 0 .33 0 .33 .1 .34 .4 .33 -.3 .33 -.4 .34 .2 .33 -.7 .33 .8 .34 .5 .33 -.1 .33 -1.2 .34 1.4 .33 -1 .33 .8 .34 -1.8 .33 1.5 .33 -.6 .34 1.3 .33 -.3 .33 -1 .34 .3 .33 .8 .33 -.8 .34 -.4 .33 .2 .33 .4 .34 .3 .33 -.9 .33 .3 .34 .6 .33 .3 .33 -.6 .34 .4 .33 -.9 .33 1.1 .34 .4 .33 -1.7 .33 .8 .34 -.3 .33 -.2 .33 .7 .34 -.6 .33 -.1 .33 .2 .34 .9 .33 -.9 .33 .2 .34 .3 .33 .4 .33 -.9 .34 -1.1 .33 2.9 .33 -.2 .34 -.7 .33 -.2 .33 -.4 .34 -1.2 .33 1.2 .33 -.2 .34 .5 .33 .6 .33 -.4 .34 .4 .33 -.9 .33 -1.3 .34 2.6 .33 -1 .33 .1 .34 .4 .33 .2 .33 -.7 .34 -.4 .33 .7 .33 -.1 .34 -.8 .33 1.2 .33 .5 .34 -1 .33 -.3 .33 .4 .34 -1.2 .33 1.3 .33 .3 .34 -.4 .33 -.9 .33 .2 .34 1.2 .33 -.4 .33 .1 .34 .4 .33 -.7 .33 -.2 .34 -.3 .33 .7 .33 -.3 .34 0 .33 -.3 .33 .7 .34 -.4 .33 -.8 .33 1.8 .34 -.4 .33 -1 .33 1.6 .34 -.2 .33 .4 .33 -.9 .34 -1.2 .33 .9 .33 -.4 .34 .5 .33 .1 .33 -.7 .34 .6 .33 -.1 .33 .7 .34 -1.2 .33 2.1 .33 -2 .34 .7 .33 .2 .33 .5 .34 -.6 .33 .2 .33 .4 .34 -.2 .33 .4 .33 -1.4 .34 .9 .33 -.2 .33 -.4 .34 0 .33 .7 .33 -.6 .34 .1 .33 .6 .33 -.1 .34 .6 .33 -1.1 .33 .5 .34 -.4 .33 .2 .33 -.4 .34 .3 .33 -.3 .33 -.2" stroke="#161690" stroke-width="1.8" fill="none" stroke-linejoin="round"/>
<path d="M291.1 454.3V435.6M381.8 462.3V454.5" stroke="#161690" stroke-width="1" fill="none"/>
</g>
<rect x="268.4" y="408.4" width="186.9" height="136.6" fill="none" stroke="#858585" stroke-width="1.3"/>
<path d="M268.4 545.0v-3.6M284.0 545.0v-2.6M299.5 545.0v-3.6M315.1 545.0v-2.6M330.7 545.0v-3.6M346.3 545.0v-2.6M361.9 545.0v-3.6M377.4 545.0v-2.6M393.0 545.0v-3.6M408.6 545.0v-2.6M424.1 545.0v-3.6M439.7 545.0v-2.6M455.3 545.0v-3.6" stroke="#858585" stroke-width="1.1"/>
<text x="268.4" y="557.5" class="tk">20</text>
<text x="299.5" y="557.5" class="tk">30</text>
<text x="330.7" y="557.5" class="tk">40</text>
<text x="361.9" y="557.5" class="tk">50</text>
<text x="393.0" y="557.5" class="tk">60</text>
<text x="424.1" y="557.5" class="tk">70</text>
<text x="455.3" y="557.5" class="tk">80</text>
<text x="362.5" y="573.0" class="xl">Two-theta (deg.)</text>
<text transform="translate(256.7 472.9) rotate(-90)" class="yl">Intensity (a.u.)</text>
<text x="422.2" y="459.8" class="lb">15 min</text>
<text x="422.2" y="475.7" class="lb">10 min</text>
<text x="423.4" y="490.5" class="lb">5 min</text>
<text x="423.4" y="504.5" class="lb">3 min</text>
<text x="423.4" y="519.7" class="lb">0 min</text>
<text x="422.7" y="533.4" class="lb">Control</text>
<text x="291.1" y="427.6" class="an">(111)</text>
<path d="M288.9 430.5L293.3 430.5L291.1 437.8Z" fill="#111"/>
<text x="304.5" y="417.1" class="an">(200)</text>
<path d="M302.3 420.0L306.7 420.0L304.5 427.3Z" fill="#111"/>
<text x="381.8" y="442.4" class="an">(222)</text>
<path d="M379.6 445.3L384.0 445.3L381.8 452.6Z" fill="#111"/>
<text x="268.5" y="407.0" class="tt">E60S10</text>
<text x="242.8" y="404.2" class="rm">ii</text>
<g clip-path="url(#c7)">
<path d="M486.4 518.1l.33 4.3 .33 -4.6 .34 4 .33 -2.6 .33 2.5 .34 .1 .33 1 .33 -2.4 .34 1.7 .33 2 .33 -.1 .34 -1 .33 1.3 .33 .6 .34 -3.1 .33 1.9 .33 2.7 .34 -.2 .33 0 .33 .4 .34 -2.7 .33 3.3 .33 -.9 .34 3.4 .33 -4.8 .33 2.9 .34 -.8 .33 .6 .33 -.5 .34 .4 .33 .9 .33 0 .34 -.7 .33 3.7 .33 -.6 .34 -.1 .33 -1.4 .33 2.7 .34 .5 .33 -4 .33 4 .34 -3.3 .33 2.3 .33 -.4 .34 .5 .33 .4 .33 -1.6 .34 1.3 .33 -.8 .33 1.5 .34 -1.9 .33 3.1 .33 0 .34 -1.3 .33 1 .33 1 .34 -.5 .33 -.4 .33 -1.4 .34 .8 .33 2 .33 -1.4 .34 .5 .33 -.6 .33 1.1 .34 .9 .33 -2.2 .33 1.3 .34 0 .33 0 .33 -.7 .34 .4 .33 1.6 .33 -3 .34 .9 .33 1.3 .33 -.4 .34 -1.5 .33 2 .33 -.6 .34 -1.4 .33 1 .33 .6 .34 -.5 .33 .5 .33 .3 .34 .9 .33 -.1 .33 -.4 .34 -.7 .33 -.2 .33 2.2 .34 -1.2 .33 -.6 .33 1.1 .34 -.1 .33 -.7 .33 .4 .34 1 .33 -2.1 .33 .7 .34 .2 .33 .1 .33 -1.1 .34 1.1 .33 .6 .33 -.4 .34 -.2 .33 .1 .33 .5 .34 -.3 .33 1.3 .33 -.5 .34 -.7 .33 .2 .33 -1.1 .34 1 .33 .8 .33 -.9 .34 1.4 .33 -.9 .33 -.6 .34 .2 .33 .7 .33 -.3 .34 -.5 .33 .4 .33 0 .34 -1.2 .33 2.3 .33 -1.1 .34 .2 .33 -1.1 .33 .4 .34 1 .33 .2 .33 -.2 .34 .2 .33 -.7 .33 0 .34 .4 .33 0 .33 -.7 .34 .6 .33 0 .33 .4 .34 -1 .33 .7 .33 -.7 .34 1.3 .33 -.8 .33 .5 .34 -.3 .33 .7 .33 -.8 .34 .1 .33 .7 .33 -.7 .34 .2 .33 -.5 .33 .4 .34 .4 .33 -.7 .33 .9 .34 -.8 .33 -.6 .33 .8 .34 .4 .33 .4 .33 -.2 .34 -.7 .33 .3 .33 .5 .34 .1 .33 -.8 .33 .9 .34 -.1 .33 -.6 .33 .3 .34 -.7 .33 .1 .33 .5 .34 -.1 .33 .1 .33 -.5 .34 1 .33 -.3 .33 -.2 .34 .2 .33 -1 .33 .7 .34 -.1 .33 .2 .33 .1 .34 1.6 .33 -1.7 .33 -.5 .34 .6 .33 -.3 .33 .8 .34 .3 .33 -.4 .33 -.6 .34 .7 .33 -.9 .33 .7 .34 -.2 .33 -1 .33 1 .34 .6 .33 -.9 .33 1.4 .34 -1.8 .33 .7 .33 .1 .34 -.2 .33 .6 .33 .2 .34 -.8 .33 -.3 .33 .5 .34 -.2 .33 .5 .33 -.2 .34 .2 .33 -.2 .33 .6 .34 -.8 .33 -.3 .33 .1 .34 0 .33 1.1 .33 -.7 .34 -.4 .33 .1 .33 0 .34 .1 .33 .6 .33 -.1 .34 0 .33 -.5 .33 .6 .34 -.5 .33 .4 .33 -.1 .34 .8 .33 -1.4 .33 .5 .34 .2 .33 .5 .33 -.2 .34 -.5 .33 -.4 .33 .8 .34 -.6 .33 .1 .33 .4 .34 -.1 .33 .4 .33 -.4 .34 .5 .33 -.3 .33 -.6 .34 .5 .33 0 .33 0 .34 -.3 .33 .1 .33 0 .34 .1 .33 .2 .33 -.3 .34 .1 .33 .4 .33 -.4 .34 -.2 .33 .5 .33 -.6 .34 1.2 .33 -.6 .33 -.1 .34 -.2 .33 .3 .33 .1 .34 -.6 .33 .2 .33 0 .34 .4 .33 -.9 .33 .7 .34 .5 .33 -.3 .33 0 .34 .1 .33 -.6 .33 -.1 .34 .6 .33 0 .33 .4 .34 -1 .33 1.1 .33 -.9 .34 .8 .33 -.3 .33 -.2 .34 -.4 .33 .4 .33 .3 .34 0 .33 -.5 .33 .4 .34 .1 .33 -.6 .33 -.2 .34 1.3 .33 -.3 .33 -.4 .34 -.1 .33 .6 .33 -.3 .34 -1.1 .33 1 .33 -.5 .34 .7 .33 -.7 .33 .5 .34 .1 .33 -.9 .33 1.2 .34 -.6 .33 .1 .33 -.2 .34 0 .33 .9 .33 -.3 .34 -.3 .33 -.3 .33 .1 .34 .2 .33 -.1 .33 .1 .34 .1 .33 -1 .33 1.6 .34 -.5 .33 .4 .33 -.3 .34 -.6 .33 .5 .33 0 .34 -.2 .33 0 .33 .3 .34 -.3 .33 .4 .33 -.5 .34 -.2 .33 .3 .33 .1 .34 -.4 .33 -.2 .33 .7 .34 -.1 .33 .2 .33 .2 .34 -.5 .33 .4 .33 -.1 .34 .6 .33 -.9 .33 -.3 .34 -.1 .33 1 .33 -.5 .34 .3 .33 -.3 .33 .2 .34 .3 .33 -.4 .33 0 .34 .2 .33 .3 .33 -.4 .34 -.3 .33 .2 .33 -.1 .34 .2 .33 -.2 .33 0 .34 .3 .33 -.1 .33 0 .34 .2 .33 -.4 .33 -.3 .34 1 .33 -.7 .33 1 .34 -.2 .33 0 .33 -.7 .34 .7 .33 -.6 .33 0 .34 .4 .33 .1 .33 -.4 .34 .1 .33 0 .33 -.1 .34 .3 .33 -.2 .33 -.1 .34 0 .33 -.3 .33 .3 .34 -.2 .33 .4 .33 0 .34 -.1 .33 .1 .33 -.1 .34 -.1 .33 .3 .33 .1 .34 .2 .33 -.6 .33 .2 .34 -.3 .33 .6 .33 -.6 .34 .3 .33 -.2 .33 .4 .34 -.1 .33 .3 .33 -.1 .34 -.3 .33 -.2 .33 .6 .34 .1 .33 -.3 .33 .6 .34 -1 .33 .3 .33 .4 .34 -.9 .33 .3 .33 .8 .34 -.6 .33 .1 .33 -.1 .34 .5 .33 -.5 .33 .2 .34 -.5 .33 .4 .33 .2 .34 -.1 .33 -.4 .33 .5 .34 -.4 .33 .3 .33 0 .34 -.2 .33 .4 .33 .4 .34 -.6 .33 -.2 .33 -.2 .34 0 .33 .2 .33 -.3 .34 .4 .33 -.2 .33 .8 .34 -.3 .33 -.6 .33 .5 .34 .1 .33 -.2 .33 0 .34 .1 .33 .2 .33 .4 .34 -.9 .33 .2 .33 -.2 .34 .7 .33 -.3 .33 -.6 .34 .6 .33 .2 .33 -.7 .34 0 .33 1 .33 -.1 .34 -.4 .33 .1 .33 -.6 .34 .2 .33 -.1 .33 .5 .34 .3 .33 .1 .33 -.3 .34 -.5 .33 .5 .33 -.2 .34 .1 .33 .4 .33 -.3 .34 -.1 .33 0 .33 -.3 .34 1 .33 -.6 .33 .8 .34 -1.1 .33 .5 .33 -.2 .34 .1 .33 .1 .33 .2 .34 -.3 .33 -.3 .33 -.3 .34 .5 .33 .2 .33 0 .34 -.4 .33 -.3 .33 .7 .34 -.2 .33 .4 .33 -.1 .34 .2 .33 -.2 .33 0 .34 .1 .33 -.2 .33 -.1 .34 .2 .33 0 .33 -.2 .34 0 .33 -.3 .33 .5 .34 0 .33 -.6 .33 .2 .34 -.2 .33 -.5 .33 .8 .34 .7 .33 -.7 .33 -.2 .34 .6 .33 .2 .33 -.3 .34 -.1 .33 .3 .33 .1" stroke="#000000" stroke-width="1.5" fill="none" stroke-linejoin="round"/>
<path d="M486.4 510.4l.33 3.3 .33 -1.1 .34 .6 .33 -.1 .33 3.3 .34 -3.7 .33 .1 .33 -.7 .34 5.5 .33 -2.7 .33 -1.7 .34 .8 .33 -.8 .33 2.4 .34 1 .33 -1.5 .33 0 .34 -.5 .33 1.3 .33 0 .34 -.3 .33 -.4 .33 .9 .34 2 .33 -2 .33 .7 .34 .4 .33 -1 .33 .6 .34 1.6 .33 -1.1 .33 -1.1 .34 .2 .33 .1 .33 2.4 .34 -2.2 .33 2.2 .33 -1.3 .34 .8 .33 -.1 .33 0 .34 1 .33 -1.5 .33 1 .34 -.2 .33 -.2 .33 3.2 .34 -3.6 .33 1.8 .33 -.2 .34 -.1 .33 -.2 .33 -1.5 .34 2.7 .33 .5 .33 -3.5 .34 2.2 .33 -.9 .33 1.6 .34 -.4 .33 -1.2 .33 1.4 .34 1.3 .33 -1.2 .33 1.8 .34 -1.8 .33 -1.4 .33 1.9 .34 -2.7 .33 3 .33 -1.4 .34 1.8 .33 .1 .33 -.2 .34 -.9 .33 -.1 .33 .3 .34 .3 .33 .4 .33 -.2 .34 .9 .33 -1.5 .33 -.4 .34 .8 .33 -.9 .33 1.2 .34 .3 .33 .6 .33 -2.4 .34 2 .33 .2 .33 -.2 .34 -.8 .33 .2 .33 -1.4 .34 1.4 .33 1.2 .33 -1.1 .34 -.3 .33 .8 .33 .1 .34 -1.5 .33 1.7 .33 .2 .34 -.5 .33 -.8 .33 .9 .34 -.1 .33 .4 .33 -.3 .34 -1.1 .33 1.4 .33 .5 .34 -1.2 .33 -.2 .33 .7 .34 -.3 .33 .4 .33 -.7 .34 -.3 .33 .8 .33 0 .34 -.1 .33 .6 .33 -.1 .34 -.9 .33 .3 .33 -.1 .34 1.5 .33 -.6 .33 -1.5 .34 1 .33 .3 .33 .9 .34 -1.3 .33 .4 .33 .7 .34 -.5 .33 -.9 .33 .3 .34 .2 .33 .7 .33 .3 .34 -.5 .33 .6 .33 -1.1 .34 .2 .33 0 .33 .7 .34 -1.2 .33 1 .33 -.1 .34 -.1 .33 0 .33 0 .34 -.4 .33 .9 .33 -1.3 .34 .5 .33 -.6 .33 .8 .34 -.1 .33 -.4 .33 1.1 .34 -1.6 .33 1.3 .33 0 .34 .1 .33 .6 .33 -.7 .34 .1 .33 .2 .33 -.2 .34 -.7 .33 .4 .33 .3 .34 -.1 .33 0 .33 .1 .34 -.8 .33 .7 .33 .4 .34 -.5 .33 .6 .33 -.3 .34 -.6 .33 .8 .33 .7 .34 -.8 .33 -.5 .33 -.2 .34 1.1 .33 0 .33 -.5 .34 .2 .33 -.2 .33 .2 .34 .1 .33 -.1 .33 .1 .34 .1 .33 -.4 .33 -.1 .34 .3 .33 -.5 .33 .7 .34 -.2 .33 -.1 .33 -.1 .34 -.4 .33 1.1 .33 -.8 .34 .4 .33 -.1 .33 0 .34 -.1 .33 -.8 .33 1 .34 -.3 .33 .2 .33 .1 .34 .4 .33 -.4 .33 -.2 .34 -.4 .33 .2 .33 -.3 .34 .9 .33 0 .33 .2 .34 -.4 .33 .2 .33 -.3 .34 -.4 .33 -.2 .33 1.1 .34 -.4 .33 -.3 .33 1.6 .34 -1.8 .33 .1 .33 .5 .34 -.2 .33 .7 .33 -.4 .34 .1 .33 -.4 .33 .1 .34 .9 .33 -.7 .33 -.1 .34 .7 .33 -.2 .33 -.5 .34 0 .33 -.7 .33 .4 .34 .5 .33 -.8 .33 .6 .34 1 .33 -.8 .33 .5 .34 -.6 .33 -.7 .33 .7 .34 0 .33 -.4 .33 1 .34 -.8 .33 .2 .33 -.4 .34 .5 .33 -.3 .33 -.3 .34 .9 .33 -.4 .33 .5 .34 -.1 .33 -.9 .33 .9 .34 -.6 .33 0 .33 .6 .34 -.6 .33 .9 .33 -.8 .34 .2 .33 -.1 .33 0 .34 .3 .33 0 .33 -.3 .34 .3 .33 .4 .33 -1.1 .34 .1 .33 .4 .33 -.5 .34 .5 .33 .1 .33 .2 .34 -.3 .33 .3 .33 .1 .34 -.3 .33 -.6 .33 .6 .34 0 .33 -.6 .33 .8 .34 -.1 .33 -.4 .33 -.3 .34 .9 .33 -.2 .33 -.7 .34 .3 .33 .2 .33 .6 .34 0 .33 -.3 .33 -.8 .34 .8 .33 .1 .33 0 .34 -.4 .33 .5 .33 -.1 .34 .3 .33 -1.1 .33 .6 .34 .1 .33 -.1 .33 -.4 .34 .2 .33 .7 .33 .3 .34 -.6 .33 0 .33 -.1 .34 -.7 .33 .8 .33 0 .34 .3 .33 -.4 .33 -.1 .34 .3 .33 -.1 .33 0 .34 .5 .33 -.1 .33 -.8 .34 .4 .33 -.5 .33 .6 .34 .2 .33 -.5 .33 .7 .34 -.5 .33 .6 .33 -.5 .34 -.1 .33 -.2 .33 .1 .34 -.1 .33 .5 .33 -.2 .34 -.4 .33 .2 .33 .2 .34 -.1 .33 -.2 .33 .7 .34 -.8 .33 .8 .33 -.5 .34 -.3 .33 .6 .33 0 .34 -.7 .33 1.2 .33 -.2 .34 -.1 .33 -.2 .33 .5 .34 .1 .33 -.9 .33 0 .34 .6 .33 -.9 .33 .5 .34 .6 .33 -.6 .33 .2 .34 -.5 .33 .1 .33 -.4 .34 1.1 .33 0 .33 -.2 .34 -.4 .33 .2 .33 -.1 .34 -.2 .33 .5 .33 -.2 .34 -.5 .33 .7 .33 -.5 .34 .1 .33 .2 .33 -.1 .34 .1 .33 .8 .33 -.6 .34 -.1 .33 .5 .33 -.4 .34 -.1 .33 -.5 .33 .5 .34 .1 .33 -.1 .33 0 .34 0 .33 .4 .33 -.5 .34 .5 .33 .2 .33 -.5 .34 0 .33 -.1 .33 .1 .34 -.5 .33 .9 .33 -.9 .34 .6 .33 -.4 .33 .3 .34 .5 .33 -1.1 .33 .6 .34 .3 .33 -.6 .33 .8 .34 -.7 .33 .5 .33 0 .34 -.1 .33 .3 .33 .1 .34 -.4 .33 -.2 .33 -.1 .34 0 .33 .3 .33 -.3 .34 .7 .33 -.4 .33 .4 .34 -.8 .33 .2 .33 -.2 .34 .9 .33 -.5 .33 0 .34 0 .33 -.2 .33 .5 .34 0 .33 -.3 .33 0 .34 -.2 .33 .5 .33 -.5 .34 0 .33 0 .33 0 .34 .7 .33 -.6 .33 0 .34 .2 .33 -.2 .33 -.5 .34 .4 .33 .5 .33 -.1 .34 0 .33 .1 .33 -.3 .34 -.6 .33 .7 .33 .5 .34 -.6 .33 .2 .33 -.2 .34 -.1 .33 .4 .33 -.6 .34 .6 .33 -.1 .33 .3 .34 .2 .33 -.5 .33 -.3 .34 .2 .33 0 .33 .1 .34 -.2 .33 .2 .33 0 .34 0 .33 -.1 .33 -.2 .34 .7 .33 -.8 .33 .5 .34 .3 .33 -.4 .33 -.2 .34 .8 .33 -.2 .33 -.2 .34 -.2 .33 0 .33 0 .34 .5 .33 -.2 .33 -.8 .34 .2 .33 -.1 .33 .8 .34 -.4 .33 0 .33 .3 .34 -.2 .33 .1 .33 .4 .34 -.4 .33 -.4 .33 .6 .34 0 .33 0 .33 -.2 .34 .8 .33 -.9 .33 .4 .34 -.1 .33 -.2 .33 .8 .34 -.9 .33 .3 .33 .5 .34 -.3 .33 .1 .33 -.4 .34 .2 .33 .1 .33 .3 .34 -.7 .33 -.1 .33 .4" stroke="#ff0a0a" stroke-width="1.5" fill="none" stroke-linejoin="round"/>
<path d="M486.4 494.3l.33 -.8 .33 -1.2 .34 5.4 .33 -4.5 .33 2.2 .34 4.1 .33 -1 .33 -1.4 .34 2.4 .33 -.3 .33 .9 .34 -2.2 .33 .6 .33 3.4 .34 -5.3 .33 3.1 .33 -.5 .34 -.9 .33 1.4 .33 -.6 .34 -.7 .33 2.6 .33 -.3 .34 -.9 .33 2.6 .33 -1 .34 2.6 .33 -3.8 .33 2.2 .34 -3.2 .33 3.6 .33 .1 .34 .9 .33 -2.5 .33 2.5 .34 -.1 .33 -2.2 .33 .8 .34 .6 .33 -2.3 .33 1.4 .34 5.3 .33 -3.9 .33 0 .34 1.7 .33 -.2 .33 -.6 .34 .5 .33 -1.5 .33 -1.3 .34 2.6 .33 .5 .33 1.7 .34 -2.9 .33 .2 .33 -.2 .34 3.2 .33 -2.5 .33 .9 .34 -.8 .33 -.7 .33 .2 .34 1.4 .33 0 .33 0 .34 .6 .33 -.4 .33 -.1 .34 1 .33 -.5 .33 -1.1 .34 -.7 .33 2.6 .33 -.8 .34 .8 .33 -1 .33 .4 .34 -.9 .33 2.4 .33 -2 .34 .3 .33 -1.1 .33 1.4 .34 .7 .33 -.9 .33 .1 .34 0 .33 .3 .33 .3 .34 -1 .33 .8 .33 -.7 .34 1.5 .33 -2.1 .33 .3 .34 1.4 .33 .6 .33 -.4 .34 -2.1 .33 1.6 .33 .4 .34 -.3 .33 .7 .33 -.9 .34 1.1 .33 -.5 .33 .6 .34 -1 .33 .6 .33 .2 .34 -1.1 .33 1.1 .33 .3 .34 -1.1 .33 .4 .33 -.8 .34 1.3 .33 -.3 .33 -.2 .34 0 .33 .1 .33 .8 .34 -1.6 .33 .9 .33 .6 .34 .1 .33 -1.8 .33 1.4 .34 -.1 .33 .9 .33 -.7 .34 -.5 .33 0 .33 0 .34 -.3 .33 .5 .33 -.7 .34 1 .33 0 .33 -.7 .34 .7 .33 .9 .33 -.9 .34 0 .33 1.4 .33 -1.1 .34 -.6 .33 .3 .33 .1 .34 -.2 .33 .2 .33 .2 .34 .3 .33 .2 .33 -.1 .34 -.3 .33 -.2 .33 -.1 .34 .3 .33 0 .33 -.4 .34 .5 .33 -.7 .33 .4 .34 .7 .33 -1 .33 -.2 .34 1.2 .33 -.3 .33 -.7 .34 1.3 .33 .4 .33 -1.4 .34 -.3 .33 .7 .33 .1 .34 -.4 .33 -.4 .33 .1 .34 -.1 .33 .7 .33 -.7 .34 .1 .33 .3 .33 0 .34 -.3 .33 .2 .33 .1 .34 .4 .33 .2 .33 -.3 .34 .7 .33 -1.1 .33 .4 .34 0 .33 -.9 .33 .3 .34 .4 .33 0 .33 .1 .34 0 .33 .5 .33 -.8 .34 .4 .33 0 .33 .1 .34 -.4 .33 0 .33 .3 .34 -.4 .33 .3 .33 .6 .34 0 .33 -.7 .33 .4 .34 0 .33 .1 .33 -.2 .34 -.1 .33 .1 .33 -.2 .34 .2 .33 0 .33 .4 .34 -.2 .33 -.1 .33 .2 .34 -.2 .33 .1 .33 .4 .34 -.9 .33 1.1 .33 -.9 .34 .9 .33 -.2 .33 -.5 .34 .4 .33 -.4 .33 -.3 .34 -.1 .33 .9 .33 -.2 .34 .1 .33 .3 .33 -.7 .34 .4 .33 -.3 .33 -.2 .34 .2 .33 .3 .33 0 .34 -.5 .33 .7 .33 -.6 .34 -.1 .33 .4 .33 -.4 .34 .6 .33 -.2 .33 -.4 .34 .3 .33 -.6 .33 .6 .34 .3 .33 -.2 .33 -.8 .34 .1 .33 .1 .33 1.2 .34 -.4 .33 -.7 .33 .8 .34 -.6 .33 .7 .33 0 .34 -.1 .33 -.1 .33 -.2 .34 .2 .33 -.4 .33 .2 .34 -.4 .33 .6 .33 -.7 .34 .4 .33 .1 .33 -.2 .34 .3 .33 -.2 .33 .4 .34 -.4 .33 -.5 .33 1 .34 -.2 .33 .2 .33 .4 .34 -1.4 .33 .7 .33 -.1 .34 -.3 .33 .8 .33 -.3 .34 .5 .33 -.1 .33 -.7 .34 .4 .33 -.2 .33 -.5 .34 1.5 .33 -.8 .33 .2 .34 .2 .33 -.4 .33 .1 .34 -.2 .33 .1 .33 -.1 .34 -.5 .33 -.1 .33 .4 .34 .4 .33 .2 .33 -.2 .34 -.1 .33 .8 .33 -1.1 .34 .2 .33 -.4 .33 .5 .34 .2 .33 .3 .33 -1 .34 .4 .33 -.6 .33 .7 .34 .2 .33 0 .33 .1 .34 .2 .33 -.3 .33 .2 .34 0 .33 0 .33 -.9 .34 .7 .33 -.3 .33 .2 .34 .1 .33 -.1 .33 -.3 .34 -.3 .33 .1 .33 .8 .34 -.3 .33 .1 .33 -.2 .34 .1 .33 -.6 .33 .9 .34 -.1 .33 .1 .33 .3 .34 -.9 .33 .5 .33 .5 .34 0 .33 .1 .33 -.6 .34 -.3 .33 .2 .33 .7 .34 -.3 .33 0 .33 -.5 .34 0 .33 .4 .33 -.1 .34 .6 .33 0 .33 -1.2 .34 .8 .33 -.5 .33 .3 .34 -.4 .33 .3 .33 -.2 .34 .4 .33 -.1 .33 .8 .34 -1 .33 .2 .33 0 .34 0 .33 .5 .33 -.4 .34 -.2 .33 .1 .33 .2 .34 .3 .33 .1 .33 -.5 .34 -.1 .33 -.3 .33 .3 .34 0 .33 .1 .33 -.3 .34 .7 .33 -.5 .33 .1 .34 -.3 .33 .3 .33 -.4 .34 .1 .33 .4 .33 -.2 .34 .9 .33 -.7 .33 .5 .34 -.2 .33 0 .33 -.2 .34 0 .33 .4 .33 .4 .34 -.2 .33 -.1 .33 -.7 .34 -.5 .33 .8 .33 -.2 .34 .9 .33 -1 .33 .5 .34 -.4 .33 .4 .33 -.1 .34 0 .33 .3 .33 -1.1 .34 .7 .33 -.6 .33 .7 .34 -.8 .33 .1 .33 .3 .34 -.3 .33 1.1 .33 -.7 .34 .5 .33 -.5 .33 .8 .34 0 .33 -.6 .33 -.1 .34 .3 .33 -.2 .33 .8 .34 -1 .33 0 .33 .1 .34 .6 .33 -.5 .33 0 .34 .3 .33 0 .33 -.4 .34 .7 .33 -.4 .33 .3 .34 -.1 .33 -.4 .33 .3 .34 .4 .33 -.9 .33 .7 .34 -.8 .33 1 .33 -.6 .34 .3 .33 -.1 .33 .3 .34 -.1 .33 -.3 .33 .3 .34 -.3 .33 -.3 .33 .5 .34 -.1 .33 .3 .33 -.5 .34 1 .33 -1.1 .33 .7 .34 -.8 .33 0 .33 .5 .34 -.2 .33 -.4 .33 .7 .34 -.8 .33 .7 .33 -.2 .34 .4 .33 -.8 .33 .4 .34 .6 .33 -.7 .33 .5 .34 -.2 .33 0 .33 .4 .34 -.1 .33 -.5 .33 -.2 .34 .1 .33 -.1 .33 .2 .34 -.4 .33 .6 .33 -.6 .34 .3 .33 .3 .33 .1 .34 .2 .33 .1 .33 -.2 .34 .3 .33 0 .33 -.7 .34 0 .33 .2 .33 .1 .34 -.2 .33 .8 .33 -.7 .34 .3 .33 -.4 .33 .2 .34 -.1 .33 0 .33 0 .34 .1 .33 0 .33 -.1 .34 0 .33 .4 .33 0 .34 -.3 .33 -.1 .33 .1 .34 -.3 .33 .2 .33 .2 .34 -.3 .33 .6 .33 -.5 .34 -.3 .33 .1 .33 .6 .34 -.3 .33 0 .33 .8" stroke="#0a0aff" stroke-width="1.5" fill="none" stroke-linejoin="round"/>
<path d="M523.2 507.4V492.5M631.3 510.1V506.6" stroke="#0a0aff" stroke-width="1" fill="none"/>
<path d="M486.4 479.2l.33 .5 .33 1.9 .34 0 .33 -3.1 .33 4.3 .34 -.3 .33 -.9 .33 -1.3 .34 3.8 .33 -3.9 .33 3.6 .34 -.7 .33 .6 .33 -.7 .34 -.8 .33 2.8 .33 -3.4 .34 2 .33 2.1 .33 -3.5 .34 2.3 .33 -.1 .33 0 .34 1.7 .33 -.4 .33 -2.8 .34 1.7 .33 2.5 .33 -1.1 .34 .8 .33 1 .33 1.4 .34 -1.7 .33 -1.2 .33 1 .34 0 .33 -.7 .33 -1.8 .34 1.6 .33 2 .33 -1 .34 .5 .33 1.5 .33 -.6 .34 -1 .33 0 .33 1.2 .34 -.2 .33 .5 .33 -.9 .34 1.5 .33 -1.9 .33 2.6 .34 -2.4 .33 3.5 .33 -3.3 .34 1.6 .33 -.7 .33 1.1 .34 1 .33 -.8 .33 .9 .34 -3.9 .33 2.5 .33 .5 .34 1.2 .33 .7 .33 -3.1 .34 1.4 .33 -1.8 .33 1.3 .34 .6 .33 -.6 .33 .3 .34 .1 .33 -.4 .33 .2 .34 1.7 .33 .7 .33 -1.8 .34 .5 .33 -.1 .33 .2 .34 -.1 .33 -1.4 .33 1.6 .34 .1 .33 -.9 .33 1.2 .34 0 .33 -1 .33 1 .34 0 .33 -1 .33 .3 .34 .3 .33 1.2 .33 -1 .34 .7 .33 -1 .33 -.5 .34 1.9 .33 -.7 .33 -.6 .34 .7 .33 .1 .33 -.7 .34 -.1 .33 1.3 .33 -.7 .34 -.1 .33 0 .33 -.1 .34 .7 .33 -1.3 .33 1.4 .34 -1 .33 .7 .33 -.5 .34 -.6 .33 .8 .33 0 .34 .1 .33 -.5 .33 1.8 .34 -1.6 .33 1.1 .33 -.2 .34 -.8 .33 .4 .33 .7 .34 .2 .33 -1 .33 1 .34 -.6 .33 -.3 .33 .3 .34 .2 .33 .3 .33 .5 .34 -1.2 .33 1 .33 -.6 .34 .1 .33 .1 .33 .5 .34 -.8 .33 -.2 .33 -.5 .34 .5 .33 .5 .33 -.3 .34 .4 .33 -.2 .33 .7 .34 -.6 .33 -.5 .33 1.5 .34 -1 .33 .2 .33 -.6 .34 -.1 .33 1.3 .33 -.4 .34 -.7 .33 .5 .33 .8 .34 -.5 .33 -.2 .33 -.8 .34 .1 .33 -.4 .33 .5 .34 .4 .33 .2 .33 -.4 .34 -.5 .33 .6 .33 .6 .34 -.9 .33 .4 .33 .4 .34 -.6 .33 .3 .33 -.6 .34 .4 .33 .2 .33 .4 .34 1 .33 -1.5 .33 0 .34 .1 .33 -.2 .33 -.2 .34 .1 .33 .5 .33 .3 .34 -.8 .33 1.1 .33 -.9 .34 .8 .33 .5 .33 -.7 .34 -.9 .33 .3 .33 -.2 .34 .9 .33 -.4 .33 -.1 .34 .5 .33 -.1 .33 .4 .34 -.5 .33 -.6 .33 .3 .34 -.5 .33 .8 .33 .7 .34 -.2 .33 .3 .33 -1.2 .34 .7 .33 .2 .33 -.5 .34 0 .33 -.7 .33 .8 .34 .9 .33 -.7 .33 .3 .34 -.9 .33 .5 .33 -.6 .34 .6 .33 -.2 .33 .7 .34 -.4 .33 .2 .33 -.3 .34 -.2 .33 .1 .33 -.6 .34 .3 .33 .4 .33 -.1 .34 -.1 .33 .2 .33 .6 .34 -.4 .33 .5 .33 -1.2 .34 0 .33 .9 .33 -.4 .34 -.3 .33 .3 .33 .3 .34 0 .33 -.4 .33 -.2 .34 0 .33 -.5 .33 .8 .34 .3 .33 -.4 .33 -.4 .34 .8 .33 -.2 .33 0 .34 .8 .33 -.6 .33 .2 .34 -.1 .33 .1 .33 -.6 .34 0 .33 .3 .33 -.1 .34 .1 .33 .5 .33 -.3 .34 -.3 .33 -.1 .33 .6 .34 -.8 .33 .5 .33 .2 .34 -.6 .33 -.2 .33 .3 .34 .8 .33 -.4 .33 -.7 .34 1.5 .33 -.8 .33 .3 .34 -.3 .33 .2 .33 -.1 .34 .3 .33 .2 .33 -.4 .34 -.7 .33 .2 .33 .6 .34 -.4 .33 .7 .33 -.2 .34 .3 .33 -.7 .33 .4 .34 -.4 .33 -.2 .33 .5 .34 0 .33 -.2 .33 0 .34 .4 .33 -.7 .33 .1 .34 .3 .33 -.2 .33 0 .34 -.2 .33 0 .33 .6 .34 -.2 .33 -.2 .33 .5 .34 -.4 .33 .4 .33 -.1 .34 0 .33 -.1 .33 -.3 .34 .3 .33 .4 .33 -.7 .34 .5 .33 -.3 .33 -.2 .34 .1 .33 .5 .33 -1.1 .34 .6 .33 -.2 .33 .1 .34 .5 .33 -.2 .33 .3 .34 -.1 .33 0 .33 -.3 .34 -.2 .33 .5 .33 -.4 .34 .9 .33 -1 .33 1.4 .34 -1 .33 .4 .33 -.6 .34 .3 .33 -.3 .33 .4 .34 .5 .33 -.7 .33 .2 .34 .4 .33 -.7 .33 .1 .34 -.2 .33 -.3 .33 .5 .34 .8 .33 0 .33 -.5 .34 -.2 .33 .1 .33 .3 .34 .1 .33 -.9 .33 .6 .34 0 .33 -.7 .33 .3 .34 .4 .33 -.6 .33 .6 .34 -.3 .33 0 .33 0 .34 .4 .33 -.2 .33 -.3 .34 .5 .33 -.4 .33 .9 .34 -.9 .33 -.2 .33 .7 .34 -.6 .33 1.1 .33 -1 .34 .3 .33 .1 .33 0 .34 -.4 .33 .8 .33 -.5 .34 .1 .33 0 .33 -.2 .34 .9 .33 -.6 .33 .1 .34 -.7 .33 .4 .33 .4 .34 0 .33 -.4 .33 .1 .34 .4 .33 -.1 .33 -.3 .34 -.2 .33 .3 .33 .2 .34 0 .33 .1 .33 -.2 .34 -.4 .33 .3 .33 .6 .34 -1 .33 .6 .33 .4 .34 -.2 .33 .7 .33 -1.7 .34 .9 .33 -.5 .33 .3 .34 .3 .33 .1 .33 -.4 .34 .3 .33 -1.2 .33 1.2 .34 0 .33 -.3 .33 -.1 .34 -.4 .33 .8 .33 -.7 .34 .7 .33 -.5 .33 .6 .34 -.3 .33 .5 .33 -.5 .34 .3 .33 0 .33 -.1 .34 -.5 .33 .7 .33 -.8 .34 .5 .33 .2 .33 0 .34 -.7 .33 .7 .33 -.1 .34 -.4 .33 .4 .33 -.7 .34 .2 .33 .9 .33 -.9 .34 .8 .33 -1.1 .33 1.2 .34 -.5 .33 -.5 .33 .7 .34 .1 .33 -.4 .33 .4 .34 -.5 .33 1.3 .33 -.8 .34 0 .33 .7 .33 -.5 .34 .2 .33 -.9 .33 .2 .34 .5 .33 0 .33 -.2 .34 .8 .33 -1 .33 .3 .34 -.2 .33 -.5 .33 .4 .34 .4 .33 -.9 .33 1.1 .34 -.3 .33 .4 .33 -.3 .34 -.1 .33 .3 .33 -.1 .34 -.4 .33 0 .33 .3 .34 -.2 .33 -.2 .33 .4 .34 .6 .33 -.8 .33 0 .34 0 .33 .2 .33 .5 .34 -.4 .33 -.5 .33 .2 .34 .3 .33 -.1 .33 -.3 .34 .2 .33 .1 .33 -.5 .34 .6 .33 -.2 .33 .2 .34 -.2 .33 0 .33 .7 .34 -.7 .33 0 .33 0 .34 -.1 .33 .4 .33 -.1 .34 -.3 .33 .2 .33 .2 .34 .2 .33 -.3 .33 -.1 .34 -.4 .33 .3 .33 .1 .34 -.1 .33 .3 .33 -.3 .34 .9 .33 -.4 .33 .4" stroke="#ff10ff" stroke-width="1.5" fill="none" stroke-linejoin="round"/>
<path d="M523.2 492.5V477.9M631.3 495.6V489.4" stroke="#ff10ff" stroke-width="1" fill="none"/>
<path d="M486.4 463.6l.33 -.4 .33 2.4 .34 .1 .33 .7 .33 -2.8 .34 4.7 .33 -2.2 .33 .2 .34 -.3 .33 .3 .33 .8 .34 1.4 .33 .4 .33 -2.7 .34 1.8 .33 -.5 .33 -1.4 .34 2.1 .33 .8 .33 .1 .34 -1.5 .33 1.7 .33 -.6 .34 2.9 .33 -.7 .33 .1 .34 -1.5 .33 2.3 .33 .1 .34 -.3 .33 1 .33 -2.1 .34 1.7 .33 -.2 .33 .4 .34 -.1 .33 -2.6 .33 2.5 .34 .1 .33 -1.3 .33 1 .34 .2 .33 1.5 .33 -.2 .34 .4 .33 -.4 .33 -.7 .34 .8 .33 -.7 .33 1.8 .34 .9 .33 -1 .33 -1.4 .34 .6 .33 .4 .33 1.8 .34 -2.4 .33 -1.3 .33 3.4 .34 -.3 .33 .5 .33 -.9 .34 -.4 .33 1.5 .33 -.9 .34 .1 .33 1.3 .33 -3.2 .34 2.7 .33 .6 .33 -1.5 .34 .6 .33 -1.8 .33 2.6 .34 .2 .33 -.6 .33 -1.3 .34 1.5 .33 .2 .33 .2 .34 -.5 .33 .3 .33 -.7 .34 0 .33 .7 .33 -.4 .34 .3 .33 1.4 .33 -1.2 .34 .4 .33 -.2 .33 .5 .34 -.7 .33 .7 .33 -.1 .34 1.1 .33 -.3 .33 -1 .34 .2 .33 1.1 .33 -1.2 .34 .7 .33 0 .33 -.8 .34 .2 .33 .2 .33 -.1 .34 1.5 .33 -.8 .33 -.4 .34 .9 .33 .3 .33 -1.4 .34 -.3 .33 1.7 .33 -1.7 .34 .4 .33 -.7 .33 0 .34 .5 .33 1.3 .33 -.9 .34 .3 .33 .3 .33 -1 .34 1.1 .33 -.1 .33 .5 .34 -.1 .33 -.1 .33 -.2 .34 -.6 .33 1.3 .33 -.4 .34 -.5 .33 -.5 .33 .8 .34 .3 .33 .2 .33 -.5 .34 .2 .33 .1 .33 .7 .34 -1.3 .33 .8 .33 0 .34 0 .33 .1 .33 -.9 .34 .2 .33 0 .33 .6 .34 -.3 .33 .6 .33 -.9 .34 .8 .33 .6 .33 -.8 .34 -.5 .33 .4 .33 -.6 .34 .9 .33 .4 .33 -.3 .34 -.4 .33 0 .33 .2 .34 -1.1 .33 .4 .33 .7 .34 -.4 .33 .8 .33 -1.1 .34 .8 .33 .2 .33 .3 .34 -.8 .33 .7 .33 -1.3 .34 .9 .33 -.1 .33 .6 .34 -.6 .33 .3 .33 -.6 .34 .4 .33 -.9 .33 1.3 .34 .1 .33 -.3 .33 -.3 .34 .5 .33 .2 .33 .4 .34 -.8 .33 .3 .33 -.2 .34 .1 .33 0 .33 -.3 .34 .7 .33 -.3 .33 -.1 .34 -.3 .33 -.9 .33 1.2 .34 .6 .33 -.7 .33 .4 .34 -.5 .33 .2 .33 -.5 .34 1.1 .33 -.9 .33 -.3 .34 .1 .33 .1 .33 1 .34 -.5 .33 -.1 .33 0 .34 -.2 .33 .4 .33 -.1 .34 .7 .33 -1.1 .33 .5 .34 .3 .33 .5 .33 -.7 .34 -.4 .33 .1 .33 .6 .34 .1 .33 -.8 .33 .7 .34 -.7 .33 0 .33 .6 .34 -.1 .33 -.6 .33 .5 .34 .2 .33 0 .33 -.1 .34 .7 .33 -1.2 .33 0 .34 0 .33 -.2 .33 .6 .34 .3 .33 -.4 .33 -.1 .34 .8 .33 -.6 .33 .1 .34 0 .33 0 .33 -.2 .34 .2 .33 -.5 .33 1 .34 -.1 .33 -.4 .33 .4 .34 -.6 .33 .6 .33 -.5 .34 .6 .33 -.7 .33 .3 .34 -.1 .33 .7 .33 -.5 .34 .1 .33 .1 .33 -.5 .34 .6 .33 -.7 .33 .4 .34 -.2 .33 .3 .33 .1 .34 -.6 .33 .8 .33 -.5 .34 -.1 .33 .9 .33 -.9 .34 .8 .33 -.6 .33 .4 .34 -.9 .33 .4 .33 .4 .34 0 .33 -.3 .33 -.1 .34 -.1 .33 .1 .33 .6 .34 -.5 .33 .5 .33 -.2 .34 -.1 .33 -.6 .33 1 .34 0 .33 -.7 .33 -.3 .34 .3 .33 .5 .33 -.1 .34 .5 .33 -.5 .33 0 .34 -.2 .33 .2 .33 .2 .34 -.4 .33 .1 .33 .3 .34 .2 .33 -.2 .33 -.2 .34 .5 .33 -.8 .33 .5 .34 0 .33 -.1 .33 -.1 .34 -.3 .33 .6 .33 -.4 .34 .1 .33 0 .33 .3 .34 0 .33 -.4 .33 .1 .34 .4 .33 0 .33 -.4 .34 .1 .33 .1 .33 -.2 .34 .3 .33 -.1 .33 -.7 .34 .2 .33 .4 .33 .4 .34 -.3 .33 -.9 .33 1 .34 -.3 .33 .2 .33 -.1 .34 .3 .33 -.5 .33 -.3 .34 .7 .33 0 .33 .1 .34 -.5 .33 .9 .33 .1 .34 -1.2 .33 .4 .33 -.1 .34 .9 .33 -1.2 .33 .3 .34 .5 .33 -.5 .33 .6 .34 0 .33 -1.1 .33 .1 .34 .9 .33 -.2 .33 0 .34 .2 .33 .1 .33 -.4 .34 -.2 .33 .8 .33 -.7 .34 .3 .33 -.1 .33 .3 .34 -.7 .33 .4 .33 .2 .34 -.3 .33 .4 .33 -.3 .34 .7 .33 -.1 .33 -.6 .34 .1 .33 .5 .33 -.6 .34 -.1 .33 .8 .33 -.5 .34 -.4 .33 .4 .33 .1 .34 .6 .33 -.5 .33 .2 .34 -.5 .33 -.1 .33 0 .34 .1 .33 -.1 .33 .6 .34 -.6 .33 .3 .33 .4 .34 -.9 .33 .2 .33 1 .34 -.3 .33 -.4 .33 .5 .34 -.6 .33 0 .33 .5 .34 -.5 .33 .2 .33 .1 .34 0 .33 -.2 .33 .2 .34 .2 .33 -.7 .33 1 .34 -.5 .33 -.4 .33 .2 .34 0 .33 -.1 .33 -.3 .34 .8 .33 -.4 .33 -.2 .34 -.1 .33 .3 .33 -.3 .34 .6 .33 -.2 .33 -.2 .34 .7 .33 -.6 .33 .5 .34 -.6 .33 .4 .33 -.2 .34 .4 .33 .1 .33 -.7 .34 .1 .33 .6 .33 -1.1 .34 1 .33 .2 .33 -.3 .34 .2 .33 -.3 .33 -.1 .34 -.1 .33 .7 .33 -.6 .34 .1 .33 .3 .33 0 .34 -.2 .33 .1 .33 -.3 .34 .7 .33 -.4 .33 .5 .34 -.1 .33 -.3 .33 -.4 .34 .4 .33 -.2 .33 -.4 .34 .7 .33 -.6 .33 .5 .34 0 .33 -.3 .33 .4 .34 0 .33 .2 .33 .2 .34 -.6 .33 -.1 .33 .9 .34 -.5 .33 -.1 .33 .4 .34 -1.2 .33 .6 .33 .3 .34 -.1 .33 .4 .33 -.4 .34 -.4 .33 .6 .33 -.6 .34 .7 .33 -.3 .33 -.4 .34 .3 .33 .5 .33 -.7 .34 .1 .33 .3 .33 -.2 .34 -.1 .33 .1 .33 -.1 .34 .4 .33 .3 .33 -.4 .34 .4 .33 -1.2 .33 1.2 .34 -.3 .33 0 .33 .2 .34 0 .33 -.4 .33 .2 .34 .2 .33 -.1 .33 -.1 .34 -.3 .33 .4 .33 -.4 .34 -.3 .33 .6 .33 0 .34 -.1 .33 .4 .33 -.3 .34 .4 .33 -.6 .33 .3 .34 -.2 .33 -.4 .33 .4 .34 -.1 .33 .6 .33 -.5 .34 .1 .33 .1 .33 .1" stroke="#108810" stroke-width="1.5" fill="none" stroke-linejoin="round"/>
<path d="M523.2 477.9V463.7M631.3 481.3V476.1" stroke="#108810" stroke-width="1" fill="none"/>
<path d="M486.4 450.8l.33 1 .33 -2.9 .34 -1.9 .33 4.1 .33 1.3 .34 1.1 .33 1.4 .33 -4.3 .34 1 .33 .3 .33 -.8 .34 1.4 .33 -.8 .33 1.8 .34 -.8 .33 2.4 .33 .1 .34 -.5 .33 -.6 .33 2.1 .34 -.9 .33 .8 .33 -.5 .34 .8 .33 1.4 .33 .2 .34 -1.9 .33 1.2 .33 -1.8 .34 3.5 .33 -.4 .33 -.3 .34 1.4 .33 -1.2 .33 -.2 .34 .8 .33 .7 .33 -.5 .34 .8 .33 -3 .33 3.5 .34 -.5 .33 -.7 .33 -.6 .34 1.7 .33 .5 .33 -1.5 .34 3.2 .33 -3.6 .33 .2 .34 2 .33 -1 .33 .1 .34 -.4 .33 .3 .33 -1.1 .34 2.2 .33 1.1 .33 -.1 .34 -.7 .33 -.3 .33 0 .34 -1.2 .33 1.7 .33 .9 .34 -.9 .33 -.3 .33 .1 .34 -.5 .33 2 .33 -.5 .34 -.3 .33 .2 .33 -1.7 .34 1.2 .33 -.4 .33 1.9 .34 -.9 .33 .3 .33 -.8 .34 .3 .33 .2 .33 -1.1 .34 2 .33 -1.1 .33 -.7 .34 1.2 .33 1.2 .33 -1.5 .34 .3 .33 .1 .33 1.1 .34 -1 .33 .8 .33 -1.6 .34 1.3 .33 -.2 .33 -.8 .34 .5 .33 .2 .33 -.5 .34 .9 .33 -.4 .33 -.8 .34 .6 .33 1 .33 1.1 .34 -1 .33 -.4 .33 .5 .34 -.3 .33 -1.8 .33 .4 .34 1.9 .33 -.3 .33 -.2 .34 1.4 .33 -1.3 .33 -.1 .34 -.9 .33 .3 .33 .1 .34 0 .33 -.4 .33 1 .34 -.8 .33 .1 .33 1.1 .34 -1.3 .33 .6 .33 .3 .34 .1 .33 -.7 .33 .1 .34 1.7 .33 -1.3 .33 .8 .34 -.2 .33 .3 .33 -.6 .34 .2 .33 -.2 .33 .2 .34 -.2 .33 -.9 .33 .7 .34 .3 .33 .9 .33 -1 .34 -.2 .33 .4 .33 .5 .34 -.8 .33 -1.1 .33 2.3 .34 -1.2 .33 -.1 .33 .6 .34 -.5 .33 .7 .33 -.1 .34 0 .33 -.5 .33 -.4 .34 .4 .33 1 .33 -.6 .34 -.3 .33 -.4 .33 .3 .34 0 .33 -.1 .33 .3 .34 .7 .33 -.6 .33 .1 .34 .4 .33 -.6 .33 .1 .34 0 .33 .7 .33 -.7 .34 .2 .33 -.1 .33 -.4 .34 .2 .33 1 .33 -.5 .34 -.2 .33 -.5 .33 .7 .34 -.4 .33 -.1 .33 .6 .34 -.6 .33 .1 .33 .5 .34 0 .33 -.2 .33 .3 .34 -1.4 .33 1.1 .33 -.1 .34 -.1 .33 0 .33 -.3 .34 .3 .33 0 .33 .4 .34 .2 .33 -.5 .33 -.2 .34 .3 .33 .2 .33 -.8 .34 .8 .33 -.5 .33 .8 .34 -.4 .33 .3 .33 -.6 .34 .1 .33 .5 .33 -.5 .34 .6 .33 -.3 .33 -1 .34 .7 .33 -.1 .33 .3 .34 0 .33 -.2 .33 -.1 .34 .3 .33 .3 .33 -.2 .34 0 .33 .1 .33 0 .34 -.2 .33 -.4 .33 .3 .34 .4 .33 -.3 .33 .2 .34 -.2 .33 .5 .33 -.4 .34 .7 .33 -.9 .33 .1 .34 .1 .33 -.3 .33 -.2 .34 .5 .33 0 .33 -.2 .34 .2 .33 .2 .33 -.5 .34 .2 .33 .3 .33 .1 .34 -.6 .33 .3 .33 0 .34 .7 .33 -.5 .33 .9 .34 -1.1 .33 -.1 .33 .3 .34 .2 .33 -.5 .33 .9 .34 -.8 .33 -.4 .33 .8 .34 -.2 .33 -.1 .33 .3 .34 -.2 .33 .5 .33 -.5 .34 .6 .33 -1 .33 .6 .34 -.4 .33 -.2 .33 .9 .34 -.2 .33 -1.3 .33 1.5 .34 -.6 .33 .5 .33 .1 .34 -.2 .33 -.6 .33 .3 .34 .4 .33 -.5 .33 -.2 .34 1.1 .33 -.3 .33 .1 .34 -.6 .33 -.2 .33 .4 .34 .5 .33 -.5 .33 .8 .34 -.6 .33 -.1 .33 -.1 .34 .1 .33 -.5 .33 1.1 .34 -.8 .33 .2 .33 .2 .34 .6 .33 -1 .33 .9 .34 -.6 .33 -.3 .33 .5 .34 .5 .33 -.3 .33 .1 .34 -.7 .33 -.4 .33 .2 .34 .5 .33 -.6 .33 .7 .34 -.7 .33 .3 .33 0 .34 .4 .33 -.4 .33 .4 .34 0 .33 .4 .33 -.7 .34 .5 .33 -.3 .33 -.2 .34 0 .33 .1 .33 -.3 .34 .4 .33 .2 .33 -.4 .34 .3 .33 .3 .33 -.4 .34 0 .33 -.2 .33 .7 .34 -.4 .33 .6 .33 .3 .34 -.8 .33 -.4 .33 .5 .34 .1 .33 -.4 .33 -.2 .34 .1 .33 .2 .33 .8 .34 -.5 .33 -.3 .33 -.6 .34 1.2 .33 -.7 .33 .2 .34 -.1 .33 .6 .33 -.2 .34 -.4 .33 1.1 .33 -.7 .34 -.2 .33 .6 .33 -.7 .34 -.1 .33 .5 .33 .1 .34 -.6 .33 .1 .33 .4 .34 .5 .33 -.9 .33 .5 .34 .1 .33 -.2 .33 -.6 .34 -.3 .33 .9 .33 .9 .34 -1.1 .33 -.1 .33 .5 .34 -.2 .33 -.3 .33 -.3 .34 .3 .33 -.1 .33 .6 .34 -.6 .33 .5 .33 .1 .34 -.3 .33 .2 .33 .3 .34 -.4 .33 .4 .33 -.5 .34 .2 .33 -.3 .33 .3 .34 -.1 .33 -.3 .33 .2 .34 -.1 .33 .3 .33 -.4 .34 .1 .33 -.6 .33 1 .34 -.6 .33 .4 .33 .2 .34 .1 .33 .1 .33 -.4 .34 0 .33 .4 .33 -.4 .34 0 .33 .2 .33 -.1 .34 .1 .33 0 .33 .1 .34 .1 .33 .1 .33 -1 .34 .4 .33 0 .33 .8 .34 -.4 .33 -.4 .33 0 .34 .2 .33 0 .33 .7 .34 0 .33 -.8 .33 .6 .34 -.1 .33 -.4 .33 .1 .34 -.4 .33 .2 .33 .7 .34 -.5 .33 .6 .33 -.1 .34 -.6 .33 .1 .33 .9 .34 -.4 .33 -.4 .33 .7 .34 -.6 .33 -.1 .33 .3 .34 0 .33 -.4 .33 0 .34 .8 .33 -.8 .33 .1 .34 -.1 .33 .2 .33 0 .34 .5 .33 -.6 .33 .7 .34 -.6 .33 .3 .33 -.2 .34 -.8 .33 .8 .33 .3 .34 .1 .33 -.2 .33 0 .34 .2 .33 -.6 .33 0 .34 .5 .33 0 .33 .2 .34 -.4 .33 -.3 .33 .2 .34 0 .33 -.1 .33 -.4 .34 .4 .33 -.1 .33 .6 .34 -.5 .33 .7 .33 -.8 .34 .4 .33 -.4 .33 .6 .34 -.1 .33 .2 .33 0 .34 .4 .33 -1 .33 .4 .34 -.2 .33 .1 .33 .2 .34 -.1 .33 -.7 .33 .5 .34 .7 .33 -.4 .33 .2 .34 -.5 .33 0 .33 .3 .34 .3 .33 -.7 .33 .4 .34 .3 .33 0 .33 -.5 .34 .1 .33 -.4 .33 .1 .34 .5 .33 -.3 .33 0 .34 -.3 .33 .6 .33 .1 .34 -.1 .33 -.9 .33 1.3 .34 -.9 .33 .5 .33 0 .34 1 .33 -.7 .33 -.6" stroke="#161690" stroke-width="1.5" fill="none" stroke-linejoin="round"/>
<path d="M523.2 463.7V426.1M631.3 466.6V461.9" stroke="#161690" stroke-width="1" fill="none"/>
<path d="M523.2 409.9V412.1" stroke="#161690" stroke-width="0.8" stroke-opacity="0.45" fill="none"/>
</g>
<rect x="486.4" y="409.9" width="187.8" height="136.4" fill="none" stroke="#858585" stroke-width="1.3"/>
<path d="M486.4 546.3v-3.6M502.0 546.3v-2.6M517.7 546.3v-3.6M533.4 546.3v-2.6M549.0 546.3v-3.6M564.6 546.3v-2.6M580.3 546.3v-3.6M596.0 546.3v-2.6M611.6 546.3v-3.6M627.2 546.3v-2.6M642.9 546.3v-3.6M658.6 546.3v-2.6M674.2 546.3v-3.6" stroke="#858585" stroke-width="1.1"/>
<text x="486.4" y="558.6" class="tk">20</text>
<text x="517.7" y="558.6" class="tk">30</text>
<text x="549.0" y="558.6" class="tk">40</text>
<text x="580.3" y="558.6" class="tk">50</text>
<text x="611.6" y="558.6" class="tk">60</text>
<text x="642.9" y="558.6" class="tk">70</text>
<text x="674.2" y="558.6" class="tk">80</text>
<text x="581.0" y="574.4" class="xl">Two-theta (deg.)</text>
<text transform="translate(473.2 478.1) rotate(-90)" class="yl">Intensity (a.u.)</text>
<text x="641.0" y="463.5" class="lb">15 min</text>
<text x="641.0" y="478.7" class="lb">10 min</text>
<text x="642.3" y="493.4" class="lb">5 min</text>
<text x="642.3" y="507.4" class="lb">3 min</text>
<text x="642.3" y="522.9" class="lb">0 min</text>
<text x="641.8" y="536.9" class="lb">Control</text>
<text x="523.2" y="418.1" class="an">(200)</text>
<path d="M521.0 421.0L525.4 421.0L523.2 428.3Z" fill="#111"/>
<text x="631.3" y="451.4" class="an">(400)</text>
<path d="M629.1 454.3L633.5 454.3L631.3 461.6Z" fill="#111"/>
<text x="486.3" y="407.0" class="tt">E70S5</text>
<text x="459.8" y="405.7" class="rm">iii</text>
</svg>
</body></html>
